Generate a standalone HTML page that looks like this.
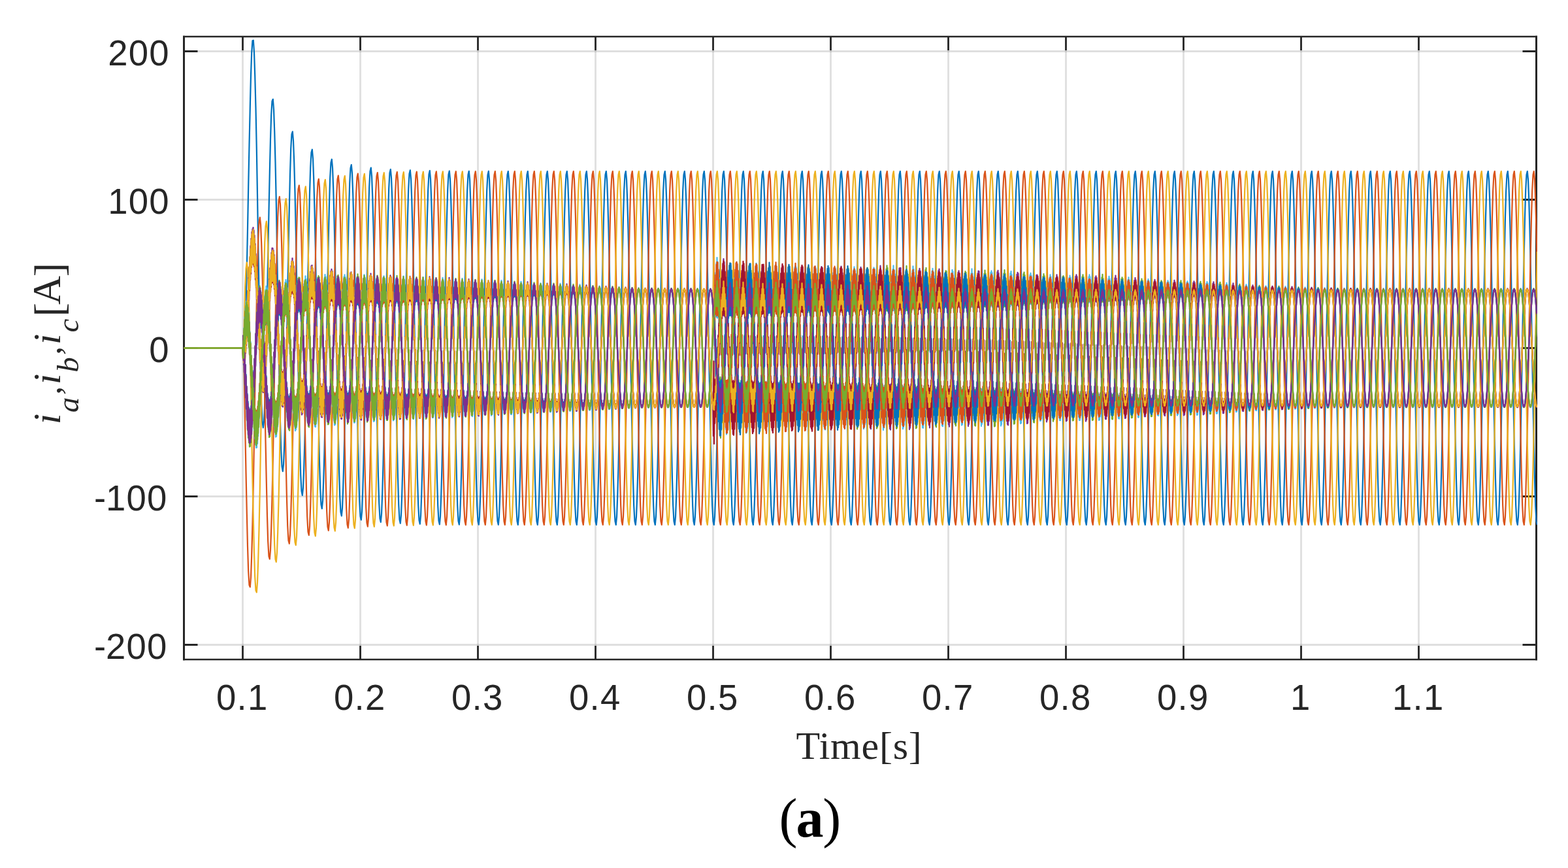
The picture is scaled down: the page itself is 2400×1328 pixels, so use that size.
<!DOCTYPE html>
<html lang="en"><head><meta charset="utf-8"><title>Three-phase currents (a)</title>
<style>html,body{margin:0;padding:0;background:#fff}body{width:2400px;height:1328px;overflow:hidden}</style></head>
<body>
<svg width="2400" height="1328" viewBox="0 0 2400 1328" style="display:block">
<rect width="2400" height="1328" fill="#fff"/>
<defs><clipPath id="cp"><rect x="280" y="54.7" width="2073" height="955.6"/></clipPath></defs>
<g stroke="#262626" stroke-opacity=".15" stroke-width="2.8" fill="none"><path d="M371.5 56V1009M551.5 56V1009M731.5 56V1009M911.5 56V1009M1091.5 56V1009M1271.5 56V1009M1451.5 56V1009M1631.5 56V1009M1811.5 56V1009M1991.5 56V1009M2171.5 56V1009"/><path d="M281.5 986.5H2351.5M281.5 759.5H2351.5M281.5 532.5H2351.5M281.5 305.5H2351.5M281.5 78.5H2351.5"/></g>
<path d="M371.5 56v21M371.5 1009v-21M551.5 56v21M551.5 1009v-21M731.5 56v21M731.5 1009v-21M911.5 56v21M911.5 1009v-21M1091.5 56v21M1091.5 1009v-21M1271.5 56v21M1271.5 1009v-21M1451.5 56v21M1451.5 1009v-21M1631.5 56v21M1631.5 1009v-21M1811.5 56v21M1811.5 1009v-21M1991.5 56v21M1991.5 1009v-21M2171.5 56v21M2171.5 1009v-21M281.5 986.5h21M2351.5 986.5h-21M281.5 759.5h21M2351.5 759.5h-21M281.5 532.5h21M2351.5 532.5h-21M281.5 305.5h21M2351.5 305.5h-21M281.5 78.5h21M2351.5 78.5h-21" stroke="#262626" stroke-width="2.8" fill="none"/>
<path d="M280 56H2353M280 1009H2353" stroke="#262626" stroke-width="2.3" fill="none"/>
<path d="M281.5 54.75V1010.25M2351.5 54.75V1010.25" stroke="#262626" stroke-width="3" fill="none"/>
<g clip-path="url(#cp)" fill="none" stroke-width="2.3" stroke-linejoin="round" stroke-linecap="butt">
<path d="M281.5 532.5l90 0l1.3 .2l1.2-5.8l1.2-23.8l1.3-39.8l1.3-52.3l1.2-60.7l1.2-64.6l1.3-63.8l1.3-58.3l1.2-48.3l1.2-34.7l1.3-18.4l1.3-.5l1.2 17.8l1.2 35.2l1.3 50.6l1.3 62.9l1.2 71.1l1.2 74.8l1.3 73.7l1.3 68l1.2 57.8l1.2 44l1.3 27.4l1.3 9.3l1.2-9.2l1.2-26.9l1.3-42.4l1.3-54.9l1.2-63.3l1.2-67.3l1.3-66.4l1.3-60.7l1.2-50.8l1.2-37.1l1.3-20.7l1.3-2.8l1.2 15.6l1.2 33.1l1.3 48.5l1.3 60.7l1.2 69.1l1.2 72.9l1.3 71.9l1.3 66l1.2 56l1.2 42.2l1.3 25.7l1.3 7.6l1.2-10.8l1.2-28.5l1.3-44l1.3-56.4l1.2-64.8l1.2-68.7l1.3-67.8l1.3-62.1l1.2-52.1l1.2-38.5l1.3-22l1.3-4l1.2 14.4l1.2 31.9l1.3 47.3l1.3 59.6l1.2 68l1.2 71.8l1.3 70.8l1.3 65.1l1.2 55l1.2 41.2l1.3 24.8l1.3 6.6l1.2-11.7l1.2-29.4l1.3-44.9l1.3-57.2l1.2-65.6l1.2-69.5l1.3-68.6l1.3-62.9l1.2-52.8l1.2-39.2l1.3-22.7l1.3-4.7l1.2 13.7l1.2 31.2l1.3 46.7l1.3 59l1.2 67.4l1.2 71.2l1.3 70.2l1.3 64.5l1.2 54.5l1.2 40.7l1.3 24.2l1.3 6.2l1.2-12.3l1.2-29.8l1.3-45.4l1.3-57.7l1.2-66.1l1.2-69.9l1.3-69l1.3-63.3l1.2-53.2l1.2-39.6l1.3-23.1l1.3-5.1l1.2 13.3l1.2 30.9l1.3 46.3l1.3 58.7l1.2 67.1l1.2 70.9l1.3 69.9l1.3 64.1l1.2 54.2l1.2 40.4l1.3 23.9l1.3 5.9l1.2-12.5l1.2-30.1l1.3-45.6l1.3-58l1.2-66.3l1.2-70.2l1.3-69.2l1.3-63.6l1.2-53.4l1.2-39.8l1.3-23.4l1.3-5.2l1.2 13.1l1.2 30.7l1.3 46.1l1.3 58.5l1.2 66.9l1.2 70.7l1.3 69.7l1.3 64l1.2 54l1.2 40.2l1.3 23.8l1.3 5.7l1.2-12.7l1.2-30.2l1.3-45.8l1.3-58l1.2-66.5l1.2-70.3l1.3-69.4l1.3-63.6l1.2-53.6l1.2-39.9l1.3-23.5l1.3-5.4l1.2 13l1.2 30.6l1.3 46l1.3 58.4l1.2 66.8l1.2 70.6l1.3 69.6l1.3 63.9l1.2 53.9l1.2 40.2l1.3 23.7l1.3 5.6l1.2-12.8l1.2-30.3l1.3-45.8l1.3-58.2l1.2-66.5l1.2-70.4l1.3-69.5l1.3-63.7l1.2-53.6l1.2-40l1.3-23.5l1.3-5.5l1.2 13l1.2 30.5l1.3 46l1.3 58.3l1.2 66.7l1.2 70.5l1.3 69.6l1.3 63.9l1.2 53.8l1.2 40.1l1.3 23.7l1.3 5.6l1.2-12.9l1.2-30.3l1.3-45.9l1.3-58.2l1.2-66.6l1.2-70.4l1.3-69.5l1.3-63.8l1.2-53.7l1.2-40l1.3-23.5l1.3-5.5l1.2 12.9l1.2 30.5l1.3 45.9l1.3 58.3l1.2 66.7l1.2 70.5l1.3 69.6l1.3 63.8l1.2 53.8l1.2 40.1l1.3 23.6l1.3 5.6l1.2-12.9l1.2-30.4l1.3-45.9l1.3-58.2l1.2-66.6l1.2-70.4l1.3-69.5l1.3-63.8l1.2-53.8l1.2-40l1.3-23.5l1.3-5.6l1.2 12.9l1.2 30.5l1.3 45.9l1.3 58.3l1.2 66.7l1.2 70.5l1.3 69.5l1.3 63.8l1.2 53.8l1.2 40.1l1.3 23.6l1.3 5.6l1.2-12.9l1.2-30.4l1.3-45.9l1.3-58.3l1.2-66.6l1.2-70.5l1.3-69.5l1.3-63.8l1.2-53.7l1.2-40l1.3-23.6l1.3-5.5l1.2 12.8l1.2 30.5l1.3 45.9l1.3 58.3l1.2 66.6l1.2 70.5l1.3 69.6l1.3 63.8l1.2 53.7l1.2 40.1l1.3 23.6l1.3 5.6l1.2-12.9l1.2-30.4l1.3-45.9l1.3-58.3l1.2-66.6l1.2-70.5l1.3-69.5l1.3-63.8l1.2-53.8l1.2-40l1.3-23.6l1.3-5.5l1.2 12.9l1.2 30.4l1.3 45.9l1.3 58.3l1.2 66.6l1.2 70.5l1.3 69.5l1.3 63.9l1.2 53.7l1.2 40.1l1.3 23.6l1.3 5.5l1.2-12.8l1.2-30.5l1.3-45.9l1.3-58.2l1.2-66.7l1.2-70.5l1.3-69.5l1.3-63.8l1.2-53.7l1.2-40.1l1.3-23.6l1.3-5.5l1.2 12.9l1.2 30.4l1.3 45.9l1.3 58.3l1.2 66.7l1.2 70.4l1.3 69.6l1.3 63.8l1.2 53.7l1.2 40.1l1.3 23.6l1.3 5.5l1.2-12.9l1.2-30.4l1.3-45.9l1.3-58.3l1.2-66.6l1.2-70.5l1.3-69.5l1.3-63.8l1.2-53.7l1.2-40.1l1.3-23.6l1.3-5.5l1.2 12.9l1.2 30.4l1.3 45.9l1.3 58.3l1.2 66.6l1.2 70.5l1.3 69.5l1.3 63.8l1.2 53.8l1.2 40l1.3 23.6l1.3 5.6l1.2-12.9l1.2-30.4l1.3-46l1.3-58.2l1.2-66.7l1.2-70.4l1.3-69.5l1.3-63.8l1.2-53.8l1.2-40l1.3-23.6l1.3-5.6l1.2 12.9l1.2 30.4l1.3 45.9l1.3 58.3l1.2 66.7l1.2 70.4l1.3 69.5l1.3 63.9l1.2 53.7l1.2 40.1l1.3 23.6l1.3 5.5l1.2-12.9l1.2-30.4l1.3-45.9l1.3-58.3l1.2-66.6l1.2-70.5l1.3-69.5l1.3-63.8l1.2-53.8l1.2-40l1.3-23.6l1.3-5.6l1.2 12.9l1.2 30.5l1.3 45.9l1.3 58.2l1.2 66.7l1.2 70.5l1.3 69.5l1.3 63.8l1.2 53.7l1.2 40.1l1.3 23.6l1.3 5.5l1.2-12.9l1.2-30.4l1.3-45.9l1.3-58.3l1.2-66.6l1.2-70.5l1.3-69.5l1.3-63.8l1.2-53.8l1.2-40l1.3-23.6l1.3-5.6l1.2 12.9l1.2 30.5l1.3 45.9l1.3 58.2l1.2 66.7l1.2 70.5l1.3 69.5l1.3 63.8l1.2 53.7l1.2 40.1l1.3 23.6l1.3 5.5l1.2-12.9l1.2-30.4l1.3-45.9l1.3-58.3l1.2-66.6l1.2-70.5l1.3-69.5l1.3-63.8l1.2-53.8l1.2-40l1.3-23.6l1.3-5.5l1.2 12.8l1.2 30.5l1.3 45.9l1.3 58.2l1.2 66.7l1.2 70.5l1.3 69.5l1.3 63.8l1.2 53.7l1.2 40.1l1.3 23.6l1.3 5.5l1.2-12.8l1.2-30.5l1.3-45.9l1.3-58.3l1.2-66.6l1.2-70.5l1.3-69.5l1.3-63.8l1.2-53.8l1.2-40l1.3-23.6l1.3-5.5l1.2 12.8l1.2 30.5l1.3 45.9l1.3 58.3l1.2 66.6l1.2 70.5l1.3 69.5l1.3 63.8l1.2 53.7l1.2 40.1l1.3 23.6l1.3 5.5l1.2-12.8l1.2-30.5l1.3-45.9l1.3-58.3l1.2-66.6l1.2-70.5l1.3-69.5l1.3-63.8l1.2-53.8l1.2-40l1.3-23.6l1.3-5.5l1.2 12.8l1.2 30.5l1.3 45.9l1.3 58.3l1.2 66.6l1.2 70.5l1.3 69.5l1.3 63.8l1.2 53.7l1.2 40.1l1.3 23.6l1.3 5.5l1.2-12.8l1.2-30.5l1.3-45.9l1.3-58.3l1.2-66.6l1.2-70.5l1.3-69.5l1.3-63.8l1.2-53.8l1.2-40l1.3-23.6l1.3-5.5l1.2 12.8l1.2 30.5l1.3 45.9l1.3 58.3l1.2 66.6l1.2 70.5l1.3 69.5l1.3 63.8l1.2 53.8l1.2 40l1.3 23.6l1.3 5.5l1.2-12.8l1.2-30.5l1.3-45.9l1.3-58.3l1.2-66.6l1.2-70.5l1.3-69.5l1.3-63.8l1.2-53.8l1.2-40l1.3-23.6l1.3-5.5l1.2 12.8l1.2 30.5l1.3 45.9l1.3 58.3l1.2 66.6l1.2 70.5l1.3 69.5l1.3 63.8l1.2 53.8l1.2 40l1.3 23.6l1.3 5.5l1.2-12.8l1.2-30.5l1.3-45.9l1.3-58.3l1.2-66.6l1.2-70.5l1.3-69.5l1.3-63.8l1.2-53.8l1.2-40l1.3-23.6l1.3-5.5l1.2 12.8l1.2 30.5l1.3 45.9l1.3 58.3l1.2 66.6l1.2 70.5l1.3 69.5l1.3 63.8l1.2 53.8l1.2 40l1.3 23.6l1.3 5.5l1.2-12.8l1.2-30.5l1.3-45.9l1.3-58.3l1.2-66.6l1.2-70.5l1.3-69.5l1.3-63.8l1.2-53.8l1.2-40l1.3-23.6l1.3-5.5l1.2 12.8l1.2 30.5l1.3 45.9l1.3 58.3l1.2 66.6l1.2 70.5l1.3 69.5l1.3 63.8l1.2 53.8l1.2 40l1.3 23.6l1.3 5.5l1.2-12.8l1.2-30.5l1.3-45.9l1.3-58.3l1.2-66.6l1.2-70.5l1.3-69.5l1.3-63.8l1.2-53.8l1.2-40l1.3-23.6l1.3-5.5l1.2 12.8l1.2 30.5l1.3 45.9l1.3 58.3l1.2 66.6l1.2 70.5l1.3 69.5l1.3 63.8l1.2 53.8l1.2 40l1.3 23.6l1.3 5.5l1.2-12.8l1.2-30.5l1.3-45.9l1.3-58.3l1.2-66.6l1.2-70.5l1.3-69.5l1.3-63.8l1.2-53.8l1.2-40l1.3-23.6l1.3-5.5l1.2 12.8l1.2 30.5l1.3 45.9l1.3 58.3l1.2 66.6l1.2 70.5l1.3 69.5l1.3 63.8l1.2 53.8l1.2 40l1.3 23.6l1.3 5.5l1.2-12.8l1.2-30.5l1.3-45.9l1.3-58.3l1.2-66.6l1.2-70.5l1.3-69.5l1.3-63.8l1.2-53.8l1.2-40l1.3-23.6l1.3-5.5l1.2 12.8l1.2 30.5l1.3 45.9l1.3 58.3l1.2 66.6l1.2 70.5l1.3 69.5l1.3 63.8l1.2 53.8l1.2 40l1.3 23.6l1.3 5.5l1.2-12.8l1.2-30.5l1.3-45.9l1.3-58.3l1.2-66.6l1.2-70.5l1.3-69.5l1.3-63.8l1.2-53.8l1.2-40l1.3-23.6l1.3-5.5l1.2 12.8l1.2 30.5l1.3 45.9l1.3 58.3l1.2 66.6l1.2 70.5l1.3 69.5l1.3 63.8l1.2 53.8l1.2 40l1.3 23.6l1.3 5.5l1.2-12.8l1.2-30.5l1.3-45.9l1.3-58.3l1.2-66.6l1.2-70.5l1.3-69.5l1.3-63.8l1.2-53.8l1.2-40l1.3-23.6l1.3-5.5l1.2 12.8l1.2 30.5l1.3 45.9l1.3 58.3l1.2 66.6l1.2 70.5l1.3 69.5l1.3 63.8l1.2 53.8l1.2 40l1.3 23.6l1.3 5.5l1.2-12.8l1.2-30.5l1.3-45.9l1.3-58.3l1.2-66.6l1.2-70.5l1.3-69.5l1.3-63.8l1.2-53.8l1.2-40l1.3-23.6l1.3-5.5l1.2 12.8l1.2 30.5l1.3 45.9l1.3 58.3l1.2 66.6l1.2 70.5l1.3 69.5l1.3 63.8l1.2 53.8l1.2 40l1.3 23.6l1.3 5.5l1.2-12.8l1.2-30.5l1.3-45.9l1.3-58.3l1.2-66.6l1.2-70.5l1.3-69.5l1.3-63.8l1.2-53.8l1.2-40l1.3-23.6l1.3-5.5l1.2 12.8l1.2 30.5l1.3 45.9l1.3 58.3l1.2 66.6l1.2 70.5l1.3 69.5l1.3 63.8l1.2 53.8l1.2 40l1.3 23.6l1.3 5.5l1.2-12.8l1.2-30.5l1.3-45.9l1.3-58.3l1.2-66.6l1.2-70.5l1.3-69.5l1.3-63.8l1.2-53.8l1.2-40l1.3-23.6l1.3-5.5l1.2 12.8l1.2 30.5l1.3 45.9l1.3 58.3l1.2 66.6l1.2 70.5l1.3 69.5l1.3 63.8l1.2 53.8l1.2 40l1.3 23.6l1.3 5.5l1.2-12.8l1.2-30.5l1.3-45.9l1.3-58.3l1.2-66.6l1.2-70.5l1.3-69.5l1.3-63.8l1.2-53.8l1.2-40l1.3-23.6l1.3-5.5l1.2 12.8l1.2 30.5l1.3 45.9l1.3 58.3l1.2 66.6l1.2 70.5l1.3 69.5l1.3 63.8l1.2 53.8l1.2 40l1.3 23.6l1.3 5.5l1.2-12.8l1.2-30.5l1.3-45.9l1.3-58.3l1.2-66.6l1.2-70.5l1.3-69.5l1.3-63.8l1.2-53.8l1.2-40l1.3-23.6l1.3-5.5l1.2 12.8l1.2 30.5l1.3 45.9l1.3 58.3l1.2 66.6l1.2 70.5l1.3 69.5l1.3 63.8l1.2 53.8l1.2 40l1.3 23.6l1.3 5.5l1.2-12.8l1.2-30.5l1.3-45.9l1.3-58.3l1.2-66.6l1.2-70.5l1.3-69.5l1.3-63.8l1.2-53.8l1.2-40l1.3-23.6l1.3-5.5l1.2 12.8l1.2 30.5l1.3 45.9l1.3 58.3l1.2 66.6l1.2 70.5l1.3 69.5l1.3 63.8l1.2 53.8l1.2 40l1.3 23.6l1.3 5.5l1.2-12.8l1.2-30.5l1.3-45.9l1.3-58.3l1.2-66.6l1.2-70.5l1.3-69.5l1.3-63.8l1.2-53.8l1.2-40l1.3-23.6l1.3-5.5l1.2 12.8l1.2 30.5l1.3 45.9l1.3 58.3l1.2 66.6l1.2 70.5l1.3 69.5l1.3 63.8l1.2 53.8l1.2 40l1.3 23.6l1.3 5.5l1.2-12.8l1.2-30.5l1.3-45.9l1.3-58.3l1.2-66.6l1.2-70.5l1.3-69.5l1.3-63.8l1.2-53.8l1.2-40l1.3-23.6l1.3-5.5l1.2 12.8l1.2 30.5l1.3 45.9l1.3 58.3l1.2 66.6l1.2 70.5l1.3 69.5l1.3 63.8l1.2 53.8l1.2 40l1.3 23.6l1.3 5.5l1.2-12.8l1.2-30.5l1.3-45.9l1.3-58.3l1.2-66.6l1.2-70.5l1.3-69.5l1.3-63.8l1.2-53.8l1.2-40l1.3-23.6l1.3-5.5l1.2 12.8l1.2 30.5l1.3 45.9l1.3 58.3l1.2 66.6l1.2 70.5l1.3 69.5l1.3 63.8l1.2 53.8l1.2 40l1.3 23.6l1.3 5.5l1.2-12.8l1.2-30.5l1.3-45.9l1.3-58.3l1.2-66.6l1.2-70.5l1.3-69.5l1.3-63.8l1.2-53.8l1.2-40l1.3-23.6l1.3-5.5l1.2 12.8l1.2 30.5l1.3 45.9l1.3 58.3l1.2 66.6l1.2 70.5l1.3 69.5l1.3 63.8l1.2 53.8l1.2 40l1.3 23.6l1.3 5.5l1.2-12.8l1.2-30.5l1.3-45.9l1.3-58.3l1.2-66.6l1.2-70.5l1.3-69.5l1.3-63.8l1.2-53.8l1.2-40l1.3-23.6l1.3-5.5l1.2 12.8l1.2 30.5l1.3 45.9l1.3 58.3l1.2 66.6l1.2 70.5l1.3 69.5l1.3 63.8l1.2 53.8l1.2 40l1.3 23.6l1.3 5.5l1.2-12.8l1.2-30.5l1.3-45.9l1.3-58.3l1.2-66.6l1.2-70.5l1.3-69.5l1.3-63.8l1.2-53.8l1.2-40l1.3-23.6l1.3-5.5l1.2 12.8l1.2 30.5l1.3 45.9l1.3 58.3l1.2 66.6l1.2 70.5l1.3 69.5l1.3 63.8l1.2 53.8l1.2 40l1.3 23.6l1.3 5.5l1.2-12.8l1.2-30.5l1.3-45.9l1.3-58.3l1.2-66.6l1.2-70.5l1.3-69.5l1.3-63.8l1.2-53.8l1.2-40l1.3-23.6l1.3-5.5l1.2 12.8l1.2 30.5l1.3 45.9l1.3 58.3l1.2 66.6l1.2 70.5l1.3 69.5l1.3 63.8l1.2 53.8l1.2 40l1.3 23.6l1.3 5.5l1.2-12.8l1.2-30.5l1.3-45.9l1.3-58.3l1.2-66.6l1.2-70.5l1.3-69.5l1.3-63.8l1.2-53.8l1.2-40l1.3-23.6l1.3-5.5l1.2 12.8l1.2 30.5l1.3 45.9l1.3 58.3l1.2 66.6l1.2 70.5l1.3 69.5l1.3 63.8l1.2 53.8l1.2 40l1.3 23.6l1.3 5.5l1.2-12.8l1.2-30.5l1.3-45.9l1.3-58.3l1.2-66.6l1.2-70.5l1.3-69.5l1.3-63.8l1.2-53.8l1.2-40l1.3-23.6l1.3-5.5l1.2 12.8l1.2 30.5l1.3 45.9l1.3 58.3l1.2 66.6l1.2 70.5l1.3 69.5l1.3 63.8l1.2 53.8l1.2 40l1.3 23.6l1.3 5.5l1.2-12.8l1.2-30.5l1.3-45.9l1.3-58.3l1.2-66.6l1.2-70.5l1.3-69.5l1.3-63.8l1.2-53.8l1.2-40l1.3-23.6l1.3-5.5l1.2 12.8l1.2 30.5l1.3 45.9l1.3 58.3l1.2 66.6l1.2 70.5l1.3 69.5l1.3 63.8l1.2 53.8l1.2 40l1.3 23.6l1.3 5.5l1.2-12.8l1.2-30.5l1.3-45.9l1.3-58.3l1.2-66.6l1.2-70.5l1.3-69.5l1.3-63.8l1.2-53.8l1.2-40l1.3-23.6l1.3-5.5l1.2 12.8l1.2 30.5l1.3 45.9l1.3 58.3l1.2 66.6l1.2 70.5l1.3 69.5l1.3 63.8l1.2 53.8l1.2 40l1.3 23.6l1.3 5.5l1.2-12.8l1.2-30.5l1.3-45.9l1.3-58.3l1.2-66.6l1.2-70.5l1.3-69.5l1.3-63.8l1.2-53.8l1.2-40l1.3-23.6l1.3-5.5l1.2 12.8l1.2 30.5l1.3 45.9l1.3 58.3l1.2 66.6l1.2 70.5l1.3 69.5l1.3 63.8l1.2 53.8l1.2 40l1.3 23.6l1.3 5.5l1.2-12.8l1.2-30.5l1.3-45.9l1.3-58.3l1.2-66.6l1.2-70.5l1.3-69.5l1.3-63.8l1.2-53.8l1.2-40l1.3-23.6l1.3-5.5l1.2 12.8l1.2 30.5l1.3 45.9l1.3 58.3l1.2 66.6l1.2 70.5l1.3 69.5l1.3 63.8l1.2 53.8l1.2 40l1.3 23.6l1.3 5.5l1.2-12.8l1.2-30.5l1.3-45.9l1.3-58.3l1.2-66.6l1.2-70.5l1.3-69.5l1.3-63.8l1.2-53.8l1.2-40l1.3-23.6l1.3-5.5l1.2 12.8l1.2 30.5l1.3 45.9l1.3 58.3l1.2 66.6l1.2 70.5l1.3 69.5l1.3 63.8l1.2 53.8l1.2 40l1.3 23.6l1.3 5.5l1.2-12.8l1.2-30.5l1.3-45.9l1.3-58.3l1.2-66.6l1.2-70.5l1.3-69.5l1.3-63.8l1.2-53.8l1.2-40l1.3-23.6l1.3-5.5l1.2 12.8l1.2 30.5l1.3 45.9l1.3 58.3l1.2 66.6l1.2 70.5l1.3 69.5l1.3 63.8l1.2 53.8l1.2 40l1.3 23.6l1.3 5.5l1.2-12.8l1.2-30.5l1.3-45.9l1.3-58.3l1.2-66.6l1.2-70.5l1.3-69.5l1.3-63.8l1.2-53.8l1.2-40l1.3-23.6l1.3-5.5l1.2 12.8l1.2 30.5l1.3 45.9l1.3 58.3l1.2 66.6l1.2 70.5l1.3 69.5l1.3 63.8l1.2 53.8l1.2 40l1.3 23.6l1.3 5.5l1.2-12.8l1.2-30.5l1.3-45.9l1.3-58.3l1.2-66.6l1.2-70.5l1.3-69.5l1.3-63.8l1.2-53.8l1.2-40l1.3-23.6l1.3-5.5l1.2 12.8l1.2 30.5l1.3 45.9l1.3 58.3l1.2 66.6l1.2 70.5l1.3 69.5l1.3 63.8l1.2 53.8l1.2 40l1.3 23.6l1.3 5.5l1.2-12.8l1.2-30.5l1.3-45.9l1.3-58.3l1.2-66.6l1.2-70.5l1.3-69.5l1.3-63.8l1.2-53.8l1.2-40l1.3-23.6l1.3-5.5l1.2 12.8l1.2 30.5l1.3 45.9l1.3 58.3l1.2 66.6l1.2 70.5l1.3 69.5l1.3 63.8l1.2 53.8l1.2 40l1.3 23.6l1.3 5.5l1.2-12.8l1.2-30.5l1.3-45.9l1.3-58.3l1.2-66.6l1.2-70.5l1.3-69.5l1.3-63.8l1.2-53.8l1.2-40l1.3-23.6l1.3-5.5l1.2 12.8l1.2 30.5l1.3 45.9l1.3 58.3l1.2 66.6l1.2 70.5l1.3 69.5l1.3 63.8l1.2 53.8l1.2 40l1.3 23.6l1.3 5.5l1.2-12.8l1.2-30.5l1.3-45.9l1.3-58.3l1.2-66.6l1.2-70.5l1.3-69.5l1.3-63.8l1.2-53.8l1.2-40l1.3-23.6l1.3-5.5l1.2 12.8l1.2 30.5l1.3 45.9l1.3 58.3l1.2 66.6l1.2 70.5l1.3 69.5l1.3 63.8l1.2 53.8l1.2 40l1.3 23.6l1.3 5.5l1.2-12.8l1.2-30.5l1.3-45.9l1.3-58.3l1.2-66.6l1.2-70.5l1.3-69.5l1.3-63.8l1.2-53.8l1.2-40l1.3-23.6l1.3-5.5l1.2 12.8l1.2 30.5l1.3 45.9l1.3 58.3l1.2 66.6l1.2 70.5l1.3 69.5l1.3 63.8l1.2 53.8l1.2 40l1.3 23.6l1.3 5.5l1.2-12.8l1.2-30.5l1.3-45.9l1.3-58.3l1.2-66.6l1.2-70.5l1.3-69.5l1.3-63.8l1.2-53.8l1.2-40l1.3-23.6l1.3-5.5l1.2 12.8l1.2 30.5l1.3 45.9l1.3 58.3l1.2 66.6l1.2 70.5l1.3 69.5l1.3 63.8l1.2 53.8l1.2 40l1.3 23.6l1.3 5.5l1.2-12.8l1.2-30.5l1.3-45.9l1.3-58.3l1.2-66.6l1.2-70.5l1.3-69.5l1.3-63.8l1.2-53.8l1.2-40l1.3-23.6l1.3-5.5l1.2 12.8l1.2 30.5l1.3 45.9l1.3 58.3l1.2 66.6l1.2 70.5l1.3 69.5l1.3 63.8l1.2 53.8l1.2 40l1.3 23.6l1.3 5.5l1.2-12.8l1.2-30.5l1.3-45.9l1.3-58.3l1.2-66.6l1.2-70.5l1.3-69.5l1.3-63.8l1.2-53.8l1.2-40l1.3-23.6l1.3-5.5l1.2 12.8l1.2 30.5l1.3 45.9l1.3 58.3l1.2 66.6l1.2 70.5l1.3 69.5l1.3 63.8l1.2 53.8l1.2 40l1.3 23.6l1.3 5.5l1.2-12.8l1.2-30.5l1.3-45.9l1.3-58.3l1.2-66.6l1.2-70.5l1.3-69.5l1.3-63.8l1.2-53.8l1.2-40l1.3-23.6l1.3-5.5l1.2 12.8l1.2 30.5l1.3 45.9l1.3 58.3l1.2 66.6l1.2 70.5l1.3 69.5l1.3 63.8l1.2 53.8l1.2 40l1.3 23.6l1.3 5.5l1.2-12.8l1.2-30.5l1.3-45.9l1.3-58.3l1.2-66.6l1.2-70.5l1.3-69.5l1.3-63.8l1.2-53.8l1.2-40l1.3-23.6l1.3-5.5l1.2 12.8l1.2 30.5l1.3 45.9l1.3 58.3l1.2 66.6l1.2 70.5l1.3 69.5l1.3 63.8l1.2 53.8l1.2 40l1.3 23.6l1.3 5.5l1.2-12.8l1.2-30.5l1.3-45.9l1.3-58.3l1.2-66.6l1.2-70.5l1.3-69.5l1.3-63.8l1.2-53.8l1.2-40l1.3-23.6l1.3-5.5l1.2 12.8l1.2 30.5l1.3 45.9l1.3 58.3l1.2 66.6l1.2 70.5l1.3 69.5l1.3 63.8l1.2 53.8l1.2 40l1.3 23.6l1.3 5.5l1.2-12.8l1.2-30.5l1.3-45.9l1.3-58.3l1.2-66.6l1.2-70.5l1.3-69.5l1.3-63.8l1.2-53.8l1.2-40l1.3-23.6l1.3-5.5l1.2 12.8l1.2 30.5l1.3 45.9l1.3 58.3l1.2 66.6l1.2 70.5l1.3 69.5l1.3 63.8l1.2 53.8l1.2 40l1.3 23.6l1.3 5.5l1.2-12.8l1.2-30.5l1.3-45.9l1.3-58.3l1.2-66.6l1.2-70.5l1.3-69.5l1.3-63.8l1.2-53.8l1.2-40l1.3-23.6l1.3-5.5l1.2 12.8l1.2 30.5l1.3 45.9l1.3 58.3l1.2 66.6l1.2 70.5l1.3 69.5l1.3 63.8l1.2 53.8l1.2 40l1.3 23.6l1.3 5.5l1.2-12.8l1.2-30.5l1.3-45.9l1.3-58.3l1.2-66.6l1.2-70.5l1.3-69.5l1.3-63.8l1.2-53.8l1.2-40l1.3-23.6l1.3-5.5l1.2 12.8l1.2 30.5l1.3 45.9l1.3 58.3l1.2 66.6l1.2 70.5l1.3 69.5l1.3 63.8l1.2 53.8l1.2 40l1.3 23.6l1.3 5.5l1.2-12.8l1.2-30.5l1.3-45.9l1.3-58.3l1.2-66.6l1.2-70.5l1.3-69.5l1.3-63.8l1.2-53.8l1.2-40l1.3-23.6l1.3-5.5l1.2 12.8l1.2 30.5l1.3 45.9l1.3 58.3l1.2 66.6l1.2 70.5l1.3 69.5l1.3 63.8l1.2 53.8l1.2 40l1.3 23.6l1.3 5.5" stroke="#0072BD" stroke-width="2.2"/>
<path d="M281.5 532.5l90 0l1.3-5l1.2 58.5l1.2 69.3l1.3 68l1.3 61.7l1.2 51.3l1.2 37.6l1.3 21.1l1.3 3.2l1.2-15.2l1.2-32.7l1.3-48.2l1.3-60.4l1.2-68.8l1.2-72.5l1.3-71.6l1.3-65.7l1.2-55.7l1.2-41.9l1.3-25.5l1.3-7.3l1.2 11.2l1.2 28.7l1.3 44.3l1.3 56.6l1.2 65.1l1.2 68.9l1.3 68l1.3 62.4l1.2 52.3l1.2 38.7l1.3 22.2l1.3 4.3l1.2-14.2l1.2-31.7l1.3-47.1l1.3-59.5l1.2-67.8l1.2-71.6l1.3-70.7l1.3-64.8l1.2-54.9l1.2-41l1.3-24.6l1.3-6.6l1.2 12l1.2 29.5l1.3 45l1.3 57.4l1.2 65.7l1.2 69.7l1.3 68.6l1.3 63.1l1.2 52.9l1.2 39.3l1.3 22.9l1.3 4.8l1.2-13.6l1.2-31.1l1.3-46.6l1.3-58.9l1.2-67.3l1.2-71.1l1.3-70.2l1.3-64.4l1.2-54.3l1.2-40.6l1.3-24.2l1.3-6l1.2 12.3l1.2 29.9l1.3 45.4l1.3 57.8l1.2 66.2l1.2 70l1.3 69.1l1.3 63.3l1.2 53.4l1.2 39.6l1.3 23.2l1.3 5.1l1.2-13.3l1.2-30.8l1.3-46.3l1.3-58.6l1.2-67l1.2-70.8l1.3-69.9l1.3-64.1l1.2-54.1l1.2-40.3l1.3-23.9l1.3-5.9l1.2 12.6l1.2 30.2l1.3 45.6l1.3 58l1.2 66.4l1.2 70.2l1.3 69.3l1.3 63.5l1.2 53.6l1.2 39.8l1.3 23.3l1.3 5.4l1.2-13.1l1.2-30.7l1.3-46.1l1.3-58.4l1.2-66.9l1.2-70.7l1.3-69.6l1.3-64l1.2-54l1.2-40.2l1.3-23.8l1.3-5.7l1.2 12.8l1.2 30.2l1.3 45.8l1.3 58.1l1.2 66.5l1.2 70.4l1.3 69.3l1.3 63.7l1.2 53.6l1.2 39.9l1.3 23.5l1.3 5.4l1.2-13l1.2-30.5l1.3-46l1.3-58.4l1.2-66.8l1.2-70.5l1.3-69.6l1.3-64l1.2-53.8l1.2-40.1l1.3-23.7l1.3-5.7l1.2 12.8l1.2 30.4l1.3 45.8l1.3 58.2l1.2 66.5l1.2 70.4l1.3 69.5l1.3 63.7l1.2 53.7l1.2 40l1.3 23.5l1.3 5.5l1.2-13l1.2-30.5l1.3-45.9l1.3-58.4l1.2-66.7l1.2-70.5l1.3-69.6l1.3-63.8l1.2-53.8l1.2-40.1l1.3-23.7l1.3-5.6l1.2 12.9l1.2 30.3l1.3 45.9l1.3 58.2l1.2 66.6l1.2 70.5l1.3 69.4l1.3 63.8l1.2 53.7l1.2 40l1.3 23.6l1.3 5.5l1.2-12.9l1.2-30.5l1.3-45.9l1.3-58.3l1.2-66.7l1.2-70.5l1.3-69.6l1.3-63.8l1.2-53.8l1.2-40.1l1.3-23.6l1.3-5.6l1.2 12.9l1.2 30.4l1.3 45.9l1.3 58.2l1.2 66.6l1.2 70.5l1.3 69.5l1.3 63.8l1.2 53.7l1.2 40l1.3 23.6l1.3 5.5l1.2-12.9l1.2-30.4l1.3-45.9l1.3-58.3l1.2-66.7l1.2-70.5l1.3-69.5l1.3-63.8l1.2-53.8l1.2-40.1l1.3-23.6l1.3-5.5l1.2 12.8l1.2 30.4l1.3 45.9l1.3 58.3l1.2 66.6l1.2 70.5l1.3 69.5l1.3 63.8l1.2 53.7l1.2 40.1l1.3 23.5l1.3 5.6l1.2-12.9l1.2-30.5l1.3-45.9l1.3-58.3l1.2-66.6l1.2-70.5l1.3-69.5l1.3-63.8l1.2-53.8l1.2-40.1l1.3-23.6l1.3-5.5l1.2 12.9l1.2 30.4l1.3 45.9l1.3 58.3l1.2 66.6l1.2 70.5l1.3 69.5l1.3 63.8l1.2 53.7l1.2 40l1.3 23.6l1.3 5.6l1.2-12.9l1.2-30.4l1.3-46l1.3-58.2l1.2-66.7l1.2-70.5l1.3-69.5l1.3-63.8l1.2-53.8l1.2-40l1.3-23.6l1.3-5.6l1.2 12.9l1.2 30.4l1.3 46l1.3 58.2l1.2 66.7l1.2 70.4l1.3 69.5l1.3 63.8l1.2 53.8l1.2 40l1.3 23.6l1.3 5.6l1.2-12.9l1.2-30.5l1.3-45.9l1.3-58.2l1.2-66.7l1.2-70.5l1.3-69.5l1.3-63.8l1.2-53.7l1.2-40.1l1.3-23.6l1.3-5.5l1.2 12.8l1.2 30.5l1.3 45.9l1.3 58.2l1.2 66.7l1.2 70.5l1.3 69.5l1.3 63.8l1.2 53.7l1.2 40.1l1.3 23.6l1.3 5.5l1.2-12.9l1.2-30.4l1.3-45.9l1.3-58.3l1.2-66.6l1.2-70.5l1.3-69.5l1.3-63.8l1.2-53.8l1.2-40l1.3-23.6l1.3-5.6l1.2 12.9l1.2 30.4l1.3 45.9l1.3 58.3l1.2 66.6l1.2 70.5l1.3 69.5l1.3 63.8l1.2 53.8l1.2 40l1.3 23.6l1.3 5.6l1.2-12.9l1.2-30.4l1.3-46l1.3-58.2l1.2-66.7l1.2-70.4l1.3-69.6l1.3-63.8l1.2-53.7l1.2-40.1l1.3-23.6l1.3-5.5l1.2 12.9l1.2 30.4l1.3 45.9l1.3 58.3l1.2 66.6l1.2 70.5l1.3 69.5l1.3 63.8l1.2 53.8l1.2 40l1.3 23.6l1.3 5.6l1.2-12.9l1.2-30.5l1.3-45.9l1.3-58.2l1.2-66.7l1.2-70.5l1.3-69.5l1.3-63.8l1.2-53.7l1.2-40.1l1.3-23.6l1.3-5.5l1.2 12.9l1.2 30.4l1.3 45.9l1.3 58.3l1.2 66.6l1.2 70.5l1.3 69.5l1.3 63.8l1.2 53.8l1.2 40l1.3 23.6l1.3 5.6l1.2-12.9l1.2-30.5l1.3-45.9l1.3-58.2l1.2-66.7l1.2-70.5l1.3-69.5l1.3-63.8l1.2-53.7l1.2-40.1l1.3-23.6l1.3-5.5l1.2 12.9l1.2 30.4l1.3 45.9l1.3 58.3l1.2 66.6l1.2 70.5l1.3 69.5l1.3 63.8l1.2 53.8l1.2 40l1.3 23.6l1.3 5.5l1.2-12.8l1.2-30.5l1.3-45.9l1.3-58.2l1.2-66.7l1.2-70.5l1.3-69.5l1.3-63.8l1.2-53.7l1.2-40.1l1.3-23.6l1.3-5.5l1.2 12.8l1.2 30.5l1.3 45.9l1.3 58.3l1.2 66.6l1.2 70.5l1.3 69.5l1.3 63.8l1.2 53.8l1.2 40l1.3 23.6l1.3 5.5l1.2-12.8l1.2-30.5l1.3-45.9l1.3-58.3l1.2-66.6l1.2-70.5l1.3-69.5l1.3-63.8l1.2-53.7l1.2-40.1l1.3-23.6l1.3-5.5l1.2 12.8l1.2 30.5l1.3 45.9l1.3 58.3l1.2 66.6l1.2 70.5l1.3 69.5l1.3 63.8l1.2 53.8l1.2 40l1.3 23.6l1.3 5.5l1.2-12.8l1.2-30.5l1.3-45.9l1.3-58.3l1.2-66.6l1.2-70.5l1.3-69.5l1.3-63.8l1.2-53.8l1.2-40l1.3-23.6l1.3-5.5l1.2 12.8l1.2 30.5l1.3 45.9l1.3 58.3l1.2 66.6l1.2 70.5l1.3 69.5l1.3 63.8l1.2 53.8l1.2 40l1.3 23.6l1.3 5.5l1.2-12.8l1.2-30.5l1.3-45.9l1.3-58.3l1.2-66.6l1.2-70.5l1.3-69.5l1.3-63.8l1.2-53.8l1.2-40l1.3-23.6l1.3-5.5l1.2 12.8l1.2 30.5l1.3 45.9l1.3 58.3l1.2 66.6l1.2 70.5l1.3 69.5l1.3 63.8l1.2 53.8l1.2 40l1.3 23.6l1.3 5.5l1.2-12.8l1.2-30.5l1.3-45.9l1.3-58.3l1.2-66.6l1.2-70.5l1.3-69.5l1.3-63.8l1.2-53.8l1.2-40l1.3-23.6l1.3-5.5l1.2 12.8l1.2 30.5l1.3 45.9l1.3 58.3l1.2 66.6l1.2 70.5l1.3 69.5l1.3 63.8l1.2 53.8l1.2 40l1.3 23.6l1.3 5.5l1.2-12.8l1.2-30.5l1.3-45.9l1.3-58.3l1.2-66.6l1.2-70.5l1.3-69.5l1.3-63.8l1.2-53.8l1.2-40l1.3-23.6l1.3-5.5l1.2 12.8l1.2 30.5l1.3 45.9l1.3 58.3l1.2 66.6l1.2 70.5l1.3 69.5l1.3 63.8l1.2 53.8l1.2 40l1.3 23.6l1.3 5.5l1.2-12.8l1.2-30.5l1.3-45.9l1.3-58.3l1.2-66.6l1.2-70.5l1.3-69.5l1.3-63.8l1.2-53.8l1.2-40l1.3-23.6l1.3-5.5l1.2 12.8l1.2 30.5l1.3 45.9l1.3 58.3l1.2 66.6l1.2 70.5l1.3 69.5l1.3 63.8l1.2 53.8l1.2 40l1.3 23.6l1.3 5.5l1.2-12.8l1.2-30.5l1.3-45.9l1.3-58.3l1.2-66.6l1.2-70.5l1.3-69.5l1.3-63.8l1.2-53.8l1.2-40l1.3-23.6l1.3-5.5l1.2 12.8l1.2 30.5l1.3 45.9l1.3 58.3l1.2 66.6l1.2 70.5l1.3 69.5l1.3 63.8l1.2 53.8l1.2 40l1.3 23.6l1.3 5.5l1.2-12.8l1.2-30.5l1.3-45.9l1.3-58.3l1.2-66.6l1.2-70.5l1.3-69.5l1.3-63.8l1.2-53.8l1.2-40l1.3-23.6l1.3-5.5l1.2 12.8l1.2 30.5l1.3 45.9l1.3 58.3l1.2 66.6l1.2 70.5l1.3 69.5l1.3 63.8l1.2 53.8l1.2 40l1.3 23.6l1.3 5.5l1.2-12.8l1.2-30.5l1.3-45.9l1.3-58.3l1.2-66.6l1.2-70.5l1.3-69.5l1.3-63.8l1.2-53.8l1.2-40l1.3-23.6l1.3-5.5l1.2 12.8l1.2 30.5l1.3 45.9l1.3 58.3l1.2 66.6l1.2 70.5l1.3 69.5l1.3 63.8l1.2 53.8l1.2 40l1.3 23.6l1.3 5.5l1.2-12.8l1.2-30.5l1.3-45.9l1.3-58.3l1.2-66.6l1.2-70.5l1.3-69.5l1.3-63.8l1.2-53.8l1.2-40l1.3-23.6l1.3-5.5l1.2 12.8l1.2 30.5l1.3 45.9l1.3 58.3l1.2 66.6l1.2 70.5l1.3 69.5l1.3 63.8l1.2 53.8l1.2 40l1.3 23.6l1.3 5.5l1.2-12.8l1.2-30.5l1.3-45.9l1.3-58.3l1.2-66.6l1.2-70.5l1.3-69.5l1.3-63.8l1.2-53.8l1.2-40l1.3-23.6l1.3-5.5l1.2 12.8l1.2 30.5l1.3 45.9l1.3 58.3l1.2 66.6l1.2 70.5l1.3 69.5l1.3 63.8l1.2 53.8l1.2 40l1.3 23.6l1.3 5.5l1.2-12.8l1.2-30.5l1.3-45.9l1.3-58.3l1.2-66.6l1.2-70.5l1.3-69.5l1.3-63.8l1.2-53.8l1.2-40l1.3-23.6l1.3-5.5l1.2 12.8l1.2 30.5l1.3 45.9l1.3 58.3l1.2 66.6l1.2 70.5l1.3 69.5l1.3 63.8l1.2 53.8l1.2 40l1.3 23.6l1.3 5.5l1.2-12.8l1.2-30.5l1.3-45.9l1.3-58.3l1.2-66.6l1.2-70.5l1.3-69.5l1.3-63.8l1.2-53.8l1.2-40l1.3-23.6l1.3-5.5l1.2 12.8l1.2 30.5l1.3 45.9l1.3 58.3l1.2 66.6l1.2 70.5l1.3 69.5l1.3 63.8l1.2 53.8l1.2 40l1.3 23.6l1.3 5.5l1.2-12.8l1.2-30.5l1.3-45.9l1.3-58.3l1.2-66.6l1.2-70.5l1.3-69.5l1.3-63.8l1.2-53.8l1.2-40l1.3-23.6l1.3-5.5l1.2 12.8l1.2 30.5l1.3 45.9l1.3 58.3l1.2 66.6l1.2 70.5l1.3 69.5l1.3 63.8l1.2 53.8l1.2 40l1.3 23.6l1.3 5.5l1.2-12.8l1.2-30.5l1.3-45.9l1.3-58.3l1.2-66.6l1.2-70.5l1.3-69.5l1.3-63.8l1.2-53.8l1.2-40l1.3-23.6l1.3-5.5l1.2 12.8l1.2 30.5l1.3 45.9l1.3 58.3l1.2 66.6l1.2 70.5l1.3 69.5l1.3 63.8l1.2 53.8l1.2 40l1.3 23.6l1.3 5.5l1.2-12.8l1.2-30.5l1.3-45.9l1.3-58.3l1.2-66.6l1.2-70.5l1.3-69.5l1.3-63.8l1.2-53.8l1.2-40l1.3-23.6l1.3-5.5l1.2 12.8l1.2 30.5l1.3 45.9l1.3 58.3l1.2 66.6l1.2 70.5l1.3 69.5l1.3 63.8l1.2 53.8l1.2 40l1.3 23.6l1.3 5.5l1.2-12.8l1.2-30.5l1.3-45.9l1.3-58.3l1.2-66.6l1.2-70.5l1.3-69.5l1.3-63.8l1.2-53.8l1.2-40l1.3-23.6l1.3-5.5l1.2 12.8l1.2 30.5l1.3 45.9l1.3 58.3l1.2 66.6l1.2 70.5l1.3 69.5l1.3 63.8l1.2 53.8l1.2 40l1.3 23.6l1.3 5.5l1.2-12.8l1.2-30.5l1.3-45.9l1.3-58.3l1.2-66.6l1.2-70.5l1.3-69.5l1.3-63.8l1.2-53.8l1.2-40l1.3-23.6l1.3-5.5l1.2 12.8l1.2 30.5l1.3 45.9l1.3 58.3l1.2 66.6l1.2 70.5l1.3 69.5l1.3 63.8l1.2 53.8l1.2 40l1.3 23.6l1.3 5.5l1.2-12.8l1.2-30.5l1.3-45.9l1.3-58.3l1.2-66.6l1.2-70.5l1.3-69.5l1.3-63.8l1.2-53.8l1.2-40l1.3-23.6l1.3-5.5l1.2 12.8l1.2 30.5l1.3 45.9l1.3 58.3l1.2 66.6l1.2 70.5l1.3 69.5l1.3 63.8l1.2 53.8l1.2 40l1.3 23.6l1.3 5.5l1.2-12.8l1.2-30.5l1.3-45.9l1.3-58.3l1.2-66.6l1.2-70.5l1.3-69.5l1.3-63.8l1.2-53.8l1.2-40l1.3-23.6l1.3-5.5l1.2 12.8l1.2 30.5l1.3 45.9l1.3 58.3l1.2 66.6l1.2 70.5l1.3 69.5l1.3 63.8l1.2 53.8l1.2 40l1.3 23.6l1.3 5.5l1.2-12.8l1.2-30.5l1.3-45.9l1.3-58.3l1.2-66.6l1.2-70.5l1.3-69.5l1.3-63.8l1.2-53.8l1.2-40l1.3-23.6l1.3-5.5l1.2 12.8l1.2 30.5l1.3 45.9l1.3 58.3l1.2 66.6l1.2 70.5l1.3 69.5l1.3 63.8l1.2 53.8l1.2 40l1.3 23.6l1.3 5.5l1.2-12.8l1.2-30.5l1.3-45.9l1.3-58.3l1.2-66.6l1.2-70.5l1.3-69.5l1.3-63.8l1.2-53.8l1.2-40l1.3-23.6l1.3-5.5l1.2 12.8l1.2 30.5l1.3 45.9l1.3 58.3l1.2 66.6l1.2 70.5l1.3 69.5l1.3 63.8l1.2 53.8l1.2 40l1.3 23.6l1.3 5.5l1.2-12.8l1.2-30.5l1.3-45.9l1.3-58.3l1.2-66.6l1.2-70.5l1.3-69.5l1.3-63.8l1.2-53.8l1.2-40l1.3-23.6l1.3-5.5l1.2 12.8l1.2 30.5l1.3 45.9l1.3 58.3l1.2 66.6l1.2 70.5l1.3 69.5l1.3 63.8l1.2 53.8l1.2 40l1.3 23.6l1.3 5.5l1.2-12.8l1.2-30.5l1.3-45.9l1.3-58.3l1.2-66.6l1.2-70.5l1.3-69.5l1.3-63.8l1.2-53.8l1.2-40l1.3-23.6l1.3-5.5l1.2 12.8l1.2 30.5l1.3 45.9l1.3 58.3l1.2 66.6l1.2 70.5l1.3 69.5l1.3 63.8l1.2 53.8l1.2 40l1.3 23.6l1.3 5.5l1.2-12.8l1.2-30.5l1.3-45.9l1.3-58.3l1.2-66.6l1.2-70.5l1.3-69.5l1.3-63.8l1.2-53.8l1.2-40l1.3-23.6l1.3-5.5l1.2 12.8l1.2 30.5l1.3 45.9l1.3 58.3l1.2 66.6l1.2 70.5l1.3 69.5l1.3 63.8l1.2 53.8l1.2 40l1.3 23.6l1.3 5.5l1.2-12.8l1.2-30.5l1.3-45.9l1.3-58.3l1.2-66.6l1.2-70.5l1.3-69.5l1.3-63.8l1.2-53.8l1.2-40l1.3-23.6l1.3-5.5l1.2 12.8l1.2 30.5l1.3 45.9l1.3 58.3l1.2 66.6l1.2 70.5l1.3 69.5l1.3 63.8l1.2 53.8l1.2 40l1.3 23.6l1.3 5.5l1.2-12.8l1.2-30.5l1.3-45.9l1.3-58.3l1.2-66.6l1.2-70.5l1.3-69.5l1.3-63.8l1.2-53.8l1.2-40l1.3-23.6l1.3-5.5l1.2 12.8l1.2 30.5l1.3 45.9l1.3 58.3l1.2 66.6l1.2 70.5l1.3 69.5l1.3 63.8l1.2 53.8l1.2 40l1.3 23.6l1.3 5.5l1.2-12.8l1.2-30.5l1.3-45.9l1.3-58.3l1.2-66.6l1.2-70.5l1.3-69.5l1.3-63.8l1.2-53.8l1.2-40l1.3-23.6l1.3-5.5l1.2 12.8l1.2 30.5l1.3 45.9l1.3 58.3l1.2 66.6l1.2 70.5l1.3 69.5l1.3 63.8l1.2 53.8l1.2 40l1.3 23.6l1.3 5.5l1.2-12.8l1.2-30.5l1.3-45.9l1.3-58.3l1.2-66.6l1.2-70.5l1.3-69.5l1.3-63.8l1.2-53.8l1.2-40l1.3-23.6l1.3-5.5l1.2 12.8l1.2 30.5l1.3 45.9l1.3 58.3l1.2 66.6l1.2 70.5l1.3 69.5l1.3 63.8l1.2 53.8l1.2 40l1.3 23.6l1.3 5.5l1.2-12.8l1.2-30.5l1.3-45.9l1.3-58.3l1.2-66.6l1.2-70.5l1.3-69.5l1.3-63.8l1.2-53.8l1.2-40l1.3-23.6l1.3-5.5l1.2 12.8l1.2 30.5l1.3 45.9l1.3 58.3l1.2 66.6l1.2 70.5l1.3 69.5l1.3 63.8l1.2 53.8l1.2 40l1.3 23.6l1.3 5.5l1.2-12.8l1.2-30.5l1.3-45.9l1.3-58.3l1.2-66.6l1.2-70.5l1.3-69.5l1.3-63.8l1.2-53.8l1.2-40l1.3-23.6l1.3-5.5l1.2 12.8l1.2 30.5l1.3 45.9l1.3 58.3l1.2 66.6l1.2 70.5l1.3 69.5l1.3 63.8l1.2 53.8l1.2 40l1.3 23.6l1.3 5.5l1.2-12.8l1.2-30.5l1.3-45.9l1.3-58.3l1.2-66.6l1.2-70.5l1.3-69.5l1.3-63.8l1.2-53.8l1.2-40l1.3-23.6l1.3-5.5l1.2 12.8l1.2 30.5l1.3 45.9l1.3 58.3l1.2 66.6l1.2 70.5l1.3 69.5l1.3 63.8l1.2 53.8l1.2 40l1.3 23.6l1.3 5.5l1.2-12.8l1.2-30.5l1.3-45.9l1.3-58.3l1.2-66.6l1.2-70.5l1.3-69.5l1.3-63.8l1.2-53.8l1.2-40l1.3-23.6l1.3-5.5l1.2 12.8l1.2 30.5l1.3 45.9l1.3 58.3l1.2 66.6l1.2 70.5l1.3 69.5l1.3 63.8l1.2 53.8l1.2 40l1.3 23.6l1.3 5.5l1.2-12.8l1.2-30.5l1.3-45.9l1.3-58.3l1.2-66.6l1.2-70.5l1.3-69.5l1.3-63.8l1.2-53.8l1.2-40l1.3-23.6l1.3-5.5l1.2 12.8l1.2 30.5l1.3 45.9l1.3 58.3l1.2 66.6l1.2 70.5l1.3 69.5l1.3 63.8l1.2 53.8l1.2 40l1.3 23.6l1.3 5.5l1.2-12.8l1.2-30.5l1.3-45.9l1.3-58.3l1.2-66.6l1.2-70.5l1.3-69.5l1.3-63.8l1.2-53.8l1.2-40l1.3-23.6l1.3-5.5l1.2 12.8l1.2 30.5l1.3 45.9l1.3 58.3l1.2 66.6l1.2 70.5l1.3 69.5l1.3 63.8l1.2 53.8l1.2 40l1.3 23.6l1.3 5.5l1.2-12.8l1.2-30.5l1.3-45.9l1.3-58.3l1.2-66.6l1.2-70.5l1.3-69.5l1.3-63.8l1.2-53.8l1.2-40l1.3-23.6l1.3-5.5l1.2 12.8l1.2 30.5l1.3 45.9l1.3 58.3l1.2 66.6l1.2 70.5l1.3 69.5l1.3 63.8l1.2 53.8l1.2 40l1.3 23.6l1.3 5.5l1.2-12.8l1.2-30.5l1.3-45.9l1.3-58.3l1.2-66.6l1.2-70.5l1.3-69.5l1.3-63.8l1.2-53.8l1.2-40l1.3-23.6l1.3-5.5l1.2 12.8l1.2 30.5l1.3 45.9l1.3 58.3l1.2 66.6l1.2 70.5l1.3 69.5l1.3 63.8l1.2 53.8l1.2 40l1.3 23.6l1.3 5.5l1.2-12.8l1.2-30.5l1.3-45.9l1.3-58.3l1.2-66.6l1.2-70.5l1.3-69.5l1.3-63.8l1.2-53.8l1.2-40l1.3-23.6l1.3-5.5l1.2 12.8l1.2 30.5l1.3 45.9l1.3 58.3l1.2 66.6l1.2 70.5l1.3 69.5l1.3 63.8l1.2 53.8l1.2 40l1.3 23.6l1.3 5.5l1.2-12.8l1.2-30.5l1.3-45.9l1.3-58.3l1.2-66.6l1.2-70.5l1.3-69.5l1.3-63.8l1.2-53.8l1.2-40l1.3-23.6l1.3-5.5l1.2 12.8l1.2 30.5l1.3 45.9l1.3 58.3l1.2 66.6l1.2 70.5l1.3 69.5l1.3 63.8l1.2 53.8l1.2 40l1.3 23.6l1.3 5.5l1.2-12.8l1.2-30.5l1.3-45.9l1.3-58.3l1.2-66.6l1.2-70.5l1.3-69.5l1.3-63.8l1.2-53.8l1.2-40l1.3-23.6l1.3-5.5l1.2 12.8l1.2 30.5l1.3 45.9l1.3 58.3l1.2 66.6l1.2 70.5l1.3 69.5l1.3 63.8l1.2 53.8l1.2 40l1.3 23.6l1.3 5.5l1.2-12.8l1.2-30.5l1.3-45.9l1.3-58.3l1.2-66.6l1.2-70.5l1.3-69.5l1.3-63.8l1.2-53.8l1.2-40l1.3-23.6l1.3-5.5l1.2 12.8l1.2 30.5l1.3 45.9l1.3 58.3l1.2 66.6l1.2 70.5l1.3 69.5l1.3 63.8l1.2 53.8l1.2 40l1.3 23.6l1.3 5.5l1.2-12.8l1.2-30.5l1.3-45.9l1.3-58.3l1.2-66.6l1.2-70.5l1.3-69.5l1.3-63.8l1.2-53.8l1.2-40l1.3-23.6l1.3-5.5l1.2 12.8l1.2 30.5l1.3 45.9l1.3 58.3l1.2 66.6l1.2 70.5l1.3 69.5l1.3 63.8l1.2 53.8l1.2 40l1.3 23.6l1.3 5.5l1.2-12.8l1.2-30.5l1.3-45.9l1.3-58.3l1.2-66.6l1.2-70.5l1.3-69.5l1.3-63.8l1.2-53.8l1.2-40l1.3-23.6l1.3-5.5l1.2 12.8l1.2 30.5l1.3 45.9l1.3 58.3l1.2 66.6l1.2 70.5l1.3 69.5l1.3 63.8l1.2 53.8l1.2 40l1.3 23.6l1.3 5.5l1.2-12.8l1.2-30.5l1.3-45.9l1.3-58.3l1.2-66.6l1.2-70.5l1.3-69.5l1.3-63.8l1.2-53.8l1.2-40l1.3-23.6l1.3-5.5l1.2 12.8l1.2 30.5l1.3 45.9l1.3 58.3l1.2 66.6l1.2 70.5l1.3 69.5l1.3 63.8l1.2 53.8l1.2 40l1.3 23.6l1.3 5.5l1.2-12.8l1.2-30.5l1.3-45.9l1.3-58.3l1.2-66.6l1.2-70.5l1.3-69.5l1.3-63.8l1.2-53.8l1.2-40l1.3-23.6l1.3-5.5l1.2 12.8l1.2 30.5l1.3 45.9l1.3 58.3l1.2 66.6l1.2 70.5l1.3 69.5l1.3 63.8l1.2 53.8l1.2 40l1.3 23.6l1.3 5.5l1.2-12.8l1.2-30.5l1.3-45.9l1.3-58.3l1.2-66.6l1.2-70.5l1.3-69.5l1.3-63.8l1.2-53.8l1.2-40l1.3-23.6l1.3-5.5l1.2 12.8l1.2 30.5l1.3 45.9l1.3 58.3l1.2 66.6l1.2 70.5l1.3 69.5l1.3 63.8l1.2 53.8l1.2 40l1.3 23.6l1.3 5.5l1.2-12.8l1.2-30.5l1.3-45.9l1.3-58.3l1.2-66.6l1.2-70.5l1.3-69.5l1.3-63.8l1.2-53.8l1.2-40l1.3-23.6l1.3-5.5l1.2 12.8l1.2 30.5l1.3 45.9l1.3 58.3l1.2 66.6l1.2 70.5l1.3 69.5l1.3 63.8l1.2 53.8l1.2 40l1.3 23.6l1.3 5.5l1.2-12.8l1.2-30.5l1.3-45.9l1.3-58.3l1.2-66.6l1.2-70.5l1.3-69.5l1.3-63.8l1.2-53.8l1.2-40l1.3-23.6l1.3-5.5l1.2 12.8l1.2 30.5l1.3 45.9l1.3 58.3l1.2 66.6l1.2 70.5l1.3 69.5l1.3 63.8l1.2 53.8l1.2 40l1.3 23.6l1.3 5.5l1.2-12.8l1.2-30.5l1.3-45.9l1.3-58.3l1.2-66.6l1.2-70.5l1.3-69.5l1.3-63.8l1.2-53.8l1.2-40l1.3-23.6l1.3-5.5l1.2 12.8l1.2 30.5l1.3 45.9l1.3 58.3" stroke="#D95319" stroke-width="2.2"/>
<path d="M281.5 532.5l90 0l1.3 4.8l1.2-52.8l1.2-45.4l1.3-28.2l1.3-9.4l1.2 9.4l1.2 27l1.3 42.7l1.3 55.1l1.2 63.5l1.2 67.5l1.3 66.5l1.3 60.9l1.2 51l1.2 37.3l1.3 20.9l1.3 3l1.2-15.4l1.2-33l1.3-48.3l1.3-60.6l1.2-69l1.2-72.7l1.3-71.7l1.3-65.9l1.2-55.9l1.2-42l1.3-25.6l1.3-7.5l1.2 11l1.2 28.6l1.3 44.1l1.3 56.5l1.2 65l1.2 68.8l1.3 67.9l1.3 62.2l1.2 52.2l1.2 38.6l1.3 22.1l1.3 4.1l1.2-14.3l1.2-31.8l1.3-47.2l1.3-59.6l1.2-67.9l1.2-71.7l1.3-70.7l1.3-65l1.2-54.9l1.2-41.2l1.3-24.7l1.3-6.6l1.2 11.9l1.2 29.4l1.3 44.9l1.3 57.3l1.2 65.7l1.2 69.6l1.3 68.6l1.3 63l1.2 52.9l1.2 39.2l1.3 22.8l1.3 4.7l1.2-13.6l1.2-31.2l1.3-46.7l1.3-58.9l1.2-67.4l1.2-71.1l1.3-70.2l1.3-64.5l1.2-54.3l1.2-40.7l1.3-24.2l1.3-6.1l1.2 12.3l1.2 29.9l1.3 45.3l1.3 57.8l1.2 66.1l1.2 70l1.3 69l1.3 63.3l1.2 53.3l1.2 39.6l1.3 23.1l1.3 5.2l1.2-13.4l1.2-30.8l1.3-46.3l1.3-58.7l1.2-67l1.2-70.8l1.3-69.9l1.3-64.2l1.2-54.1l1.2-40.4l1.3-23.9l1.3-5.9l1.2 12.6l1.2 30.1l1.3 45.6l1.3 58l1.2 66.4l1.2 70.2l1.3 69.2l1.3 63.6l1.2 53.5l1.2 39.8l1.3 23.3l1.3 5.3l1.2-13.1l1.2-30.7l1.3-46.1l1.3-58.5l1.2-66.8l1.2-70.7l1.3-69.7l1.3-64l1.2-54l1.2-40.2l1.3-23.8l1.3-5.7l1.2 12.7l1.2 30.3l1.3 45.7l1.3 58.1l1.2 66.5l1.2 70.3l1.3 69.4l1.3 63.7l1.2 53.6l1.2 39.9l1.3 23.4l1.3 5.5l1.2-13.1l1.2-30.5l1.3-46.1l1.3-58.3l1.2-66.8l1.2-70.6l1.3-69.6l1.3-63.9l1.2-53.9l1.2-40.1l1.3-23.7l1.3-5.7l1.2 12.8l1.2 30.4l1.3 45.8l1.3 58.2l1.2 66.5l1.2 70.4l1.3 69.4l1.3 63.8l1.2 53.6l1.2 40l1.3 23.5l1.3 5.5l1.2-12.9l1.2-30.5l1.3-46l1.3-58.4l1.2-66.7l1.2-70.5l1.3-69.6l1.3-63.8l1.2-53.9l1.2-40.1l1.3-23.6l1.3-5.6l1.2 12.8l1.2 30.4l1.3 45.9l1.3 58.2l1.2 66.6l1.2 70.4l1.3 69.5l1.3 63.7l1.2 53.8l1.2 40l1.3 23.5l1.3 5.5l1.2-12.9l1.2-30.5l1.3-45.9l1.3-58.3l1.2-66.7l1.2-70.5l1.3-69.6l1.3-63.8l1.2-53.8l1.2-40.1l1.3-23.6l1.3-5.6l1.2 12.9l1.2 30.4l1.3 45.9l1.3 58.2l1.2 66.6l1.2 70.5l1.3 69.5l1.3 63.8l1.2 53.7l1.2 40l1.3 23.6l1.3 5.5l1.2-12.9l1.2-30.5l1.3-45.9l1.3-58.3l1.2-66.6l1.2-70.5l1.3-69.6l1.3-63.8l1.2-53.8l1.2-40l1.3-23.6l1.3-5.6l1.2 12.9l1.2 30.4l1.3 45.9l1.3 58.2l1.2 66.7l1.2 70.4l1.3 69.5l1.3 63.8l1.2 53.8l1.2 40l1.3 23.6l1.3 5.5l1.2-12.9l1.2-30.4l1.3-45.9l1.3-58.3l1.2-66.7l1.2-70.5l1.3-69.5l1.3-63.8l1.2-53.8l1.2-40l1.3-23.6l1.3-5.6l1.2 12.9l1.2 30.4l1.3 45.9l1.3 58.3l1.2 66.6l1.2 70.5l1.3 69.5l1.3 63.8l1.2 53.7l1.2 40.1l1.3 23.6l1.3 5.5l1.2-12.9l1.2-30.4l1.3-45.9l1.3-58.3l1.2-66.7l1.2-70.4l1.3-69.6l1.3-63.8l1.2-53.7l1.2-40.1l1.3-23.6l1.3-5.5l1.2 12.8l1.2 30.5l1.3 45.9l1.3 58.2l1.2 66.7l1.2 70.4l1.3 69.5l1.3 63.9l1.2 53.7l1.2 40l1.3 23.6l1.3 5.6l1.2-12.9l1.2-30.4l1.3-46l1.3-58.2l1.2-66.7l1.2-70.4l1.3-69.6l1.3-63.8l1.2-53.7l1.2-40.1l1.3-23.6l1.3-5.5l1.2 12.8l1.2 30.5l1.3 45.9l1.3 58.3l1.2 66.6l1.2 70.5l1.3 69.5l1.3 63.8l1.2 53.7l1.2 40.1l1.3 23.6l1.3 5.5l1.2-12.9l1.2-30.4l1.3-45.9l1.3-58.3l1.2-66.6l1.2-70.5l1.3-69.5l1.3-63.8l1.2-53.8l1.2-40l1.3-23.6l1.3-5.6l1.2 12.9l1.2 30.4l1.3 45.9l1.3 58.3l1.2 66.6l1.2 70.5l1.3 69.5l1.3 63.8l1.2 53.8l1.2 40l1.3 23.6l1.3 5.6l1.2-12.9l1.2-30.4l1.3-46l1.3-58.2l1.2-66.7l1.2-70.4l1.3-69.5l1.3-63.9l1.2-53.7l1.2-40.1l1.3-23.6l1.3-5.5l1.2 12.9l1.2 30.4l1.3 45.9l1.3 58.3l1.2 66.6l1.2 70.5l1.3 69.5l1.3 63.8l1.2 53.8l1.2 40l1.3 23.6l1.3 5.6l1.2-12.9l1.2-30.5l1.3-45.9l1.3-58.2l1.2-66.7l1.2-70.5l1.3-69.5l1.3-63.8l1.2-53.7l1.2-40.1l1.3-23.6l1.3-5.5l1.2 12.9l1.2 30.4l1.3 45.9l1.3 58.3l1.2 66.6l1.2 70.5l1.3 69.5l1.3 63.8l1.2 53.8l1.2 40l1.3 23.6l1.3 5.6l1.2-12.9l1.2-30.5l1.3-45.9l1.3-58.2l1.2-66.7l1.2-70.5l1.3-69.5l1.3-63.8l1.2-53.7l1.2-40.1l1.3-23.6l1.3-5.5l1.2 12.9l1.2 30.4l1.3 45.9l1.3 58.3l1.2 66.6l1.2 70.5l1.3 69.5l1.3 63.8l1.2 53.8l1.2 40l1.3 23.6l1.3 5.5l1.2-12.8l1.2-30.5l1.3-45.9l1.3-58.2l1.2-66.7l1.2-70.5l1.3-69.5l1.3-63.8l1.2-53.7l1.2-40.1l1.3-23.6l1.3-5.5l1.2 12.8l1.2 30.5l1.3 45.9l1.3 58.3l1.2 66.6l1.2 70.5l1.3 69.5l1.3 63.8l1.2 53.8l1.2 40l1.3 23.6l1.3 5.5l1.2-12.8l1.2-30.5l1.3-45.9l1.3-58.3l1.2-66.6l1.2-70.5l1.3-69.5l1.3-63.8l1.2-53.7l1.2-40.1l1.3-23.6l1.3-5.5l1.2 12.8l1.2 30.5l1.3 45.9l1.3 58.3l1.2 66.6l1.2 70.5l1.3 69.5l1.3 63.8l1.2 53.8l1.2 40l1.3 23.6l1.3 5.5l1.2-12.8l1.2-30.5l1.3-45.9l1.3-58.3l1.2-66.6l1.2-70.5l1.3-69.5l1.3-63.8l1.2-53.8l1.2-40l1.3-23.6l1.3-5.5l1.2 12.8l1.2 30.5l1.3 45.9l1.3 58.3l1.2 66.6l1.2 70.5l1.3 69.5l1.3 63.8l1.2 53.8l1.2 40l1.3 23.6l1.3 5.5l1.2-12.8l1.2-30.5l1.3-45.9l1.3-58.3l1.2-66.6l1.2-70.5l1.3-69.5l1.3-63.8l1.2-53.8l1.2-40l1.3-23.6l1.3-5.5l1.2 12.8l1.2 30.5l1.3 45.9l1.3 58.3l1.2 66.6l1.2 70.5l1.3 69.5l1.3 63.8l1.2 53.8l1.2 40l1.3 23.6l1.3 5.5l1.2-12.8l1.2-30.5l1.3-45.9l1.3-58.3l1.2-66.6l1.2-70.5l1.3-69.5l1.3-63.8l1.2-53.8l1.2-40l1.3-23.6l1.3-5.5l1.2 12.8l1.2 30.5l1.3 45.9l1.3 58.3l1.2 66.6l1.2 70.5l1.3 69.5l1.3 63.8l1.2 53.8l1.2 40l1.3 23.6l1.3 5.5l1.2-12.8l1.2-30.5l1.3-45.9l1.3-58.3l1.2-66.6l1.2-70.5l1.3-69.5l1.3-63.8l1.2-53.8l1.2-40l1.3-23.6l1.3-5.5l1.2 12.8l1.2 30.5l1.3 45.9l1.3 58.3l1.2 66.6l1.2 70.5l1.3 69.5l1.3 63.8l1.2 53.8l1.2 40l1.3 23.6l1.3 5.5l1.2-12.8l1.2-30.5l1.3-45.9l1.3-58.3l1.2-66.6l1.2-70.5l1.3-69.5l1.3-63.8l1.2-53.8l1.2-40l1.3-23.6l1.3-5.5l1.2 12.8l1.2 30.5l1.3 45.9l1.3 58.3l1.2 66.6l1.2 70.5l1.3 69.5l1.3 63.8l1.2 53.8l1.2 40l1.3 23.6l1.3 5.5l1.2-12.8l1.2-30.5l1.3-45.9l1.3-58.3l1.2-66.6l1.2-70.5l1.3-69.5l1.3-63.8l1.2-53.8l1.2-40l1.3-23.6l1.3-5.5l1.2 12.8l1.2 30.5l1.3 45.9l1.3 58.3l1.2 66.6l1.2 70.5l1.3 69.5l1.3 63.8l1.2 53.8l1.2 40l1.3 23.6l1.3 5.5l1.2-12.8l1.2-30.5l1.3-45.9l1.3-58.3l1.2-66.6l1.2-70.5l1.3-69.5l1.3-63.8l1.2-53.8l1.2-40l1.3-23.6l1.3-5.5l1.2 12.8l1.2 30.5l1.3 45.9l1.3 58.3l1.2 66.6l1.2 70.5l1.3 69.5l1.3 63.8l1.2 53.8l1.2 40l1.3 23.6l1.3 5.5l1.2-12.8l1.2-30.5l1.3-45.9l1.3-58.3l1.2-66.6l1.2-70.5l1.3-69.5l1.3-63.8l1.2-53.8l1.2-40l1.3-23.6l1.3-5.5l1.2 12.8l1.2 30.5l1.3 45.9l1.3 58.3l1.2 66.6l1.2 70.5l1.3 69.5l1.3 63.8l1.2 53.8l1.2 40l1.3 23.6l1.3 5.5l1.2-12.8l1.2-30.5l1.3-45.9l1.3-58.3l1.2-66.6l1.2-70.5l1.3-69.5l1.3-63.8l1.2-53.8l1.2-40l1.3-23.6l1.3-5.5l1.2 12.8l1.2 30.5l1.3 45.9l1.3 58.3l1.2 66.6l1.2 70.5l1.3 69.5l1.3 63.8l1.2 53.8l1.2 40l1.3 23.6l1.3 5.5l1.2-12.8l1.2-30.5l1.3-45.9l1.3-58.3l1.2-66.6l1.2-70.5l1.3-69.5l1.3-63.8l1.2-53.8l1.2-40l1.3-23.6l1.3-5.5l1.2 12.8l1.2 30.5l1.3 45.9l1.3 58.3l1.2 66.6l1.2 70.5l1.3 69.5l1.3 63.8l1.2 53.8l1.2 40l1.3 23.6l1.3 5.5l1.2-12.8l1.2-30.5l1.3-45.9l1.3-58.3l1.2-66.6l1.2-70.5l1.3-69.5l1.3-63.8l1.2-53.8l1.2-40l1.3-23.6l1.3-5.5l1.2 12.8l1.2 30.5l1.3 45.9l1.3 58.3l1.2 66.6l1.2 70.5l1.3 69.5l1.3 63.8l1.2 53.8l1.2 40l1.3 23.6l1.3 5.5l1.2-12.8l1.2-30.5l1.3-45.9l1.3-58.3l1.2-66.6l1.2-70.5l1.3-69.5l1.3-63.8l1.2-53.8l1.2-40l1.3-23.6l1.3-5.5l1.2 12.8l1.2 30.5l1.3 45.9l1.3 58.3l1.2 66.6l1.2 70.5l1.3 69.5l1.3 63.8l1.2 53.8l1.2 40l1.3 23.6l1.3 5.5l1.2-12.8l1.2-30.5l1.3-45.9l1.3-58.3l1.2-66.6l1.2-70.5l1.3-69.5l1.3-63.8l1.2-53.8l1.2-40l1.3-23.6l1.3-5.5l1.2 12.8l1.2 30.5l1.3 45.9l1.3 58.3l1.2 66.6l1.2 70.5l1.3 69.5l1.3 63.8l1.2 53.8l1.2 40l1.3 23.6l1.3 5.5l1.2-12.8l1.2-30.5l1.3-45.9l1.3-58.3l1.2-66.6l1.2-70.5l1.3-69.5l1.3-63.8l1.2-53.8l1.2-40l1.3-23.6l1.3-5.5l1.2 12.8l1.2 30.5l1.3 45.9l1.3 58.3l1.2 66.6l1.2 70.5l1.3 69.5l1.3 63.8l1.2 53.8l1.2 40l1.3 23.6l1.3 5.5l1.2-12.8l1.2-30.5l1.3-45.9l1.3-58.3l1.2-66.6l1.2-70.5l1.3-69.5l1.3-63.8l1.2-53.8l1.2-40l1.3-23.6l1.3-5.5l1.2 12.8l1.2 30.5l1.3 45.9l1.3 58.3l1.2 66.6l1.2 70.5l1.3 69.5l1.3 63.8l1.2 53.8l1.2 40l1.3 23.6l1.3 5.5l1.2-12.8l1.2-30.5l1.3-45.9l1.3-58.3l1.2-66.6l1.2-70.5l1.3-69.5l1.3-63.8l1.2-53.8l1.2-40l1.3-23.6l1.3-5.5l1.2 12.8l1.2 30.5l1.3 45.9l1.3 58.3l1.2 66.6l1.2 70.5l1.3 69.5l1.3 63.8l1.2 53.8l1.2 40l1.3 23.6l1.3 5.5l1.2-12.8l1.2-30.5l1.3-45.9l1.3-58.3l1.2-66.6l1.2-70.5l1.3-69.5l1.3-63.8l1.2-53.8l1.2-40l1.3-23.6l1.3-5.5l1.2 12.8l1.2 30.5l1.3 45.9l1.3 58.3l1.2 66.6l1.2 70.5l1.3 69.5l1.3 63.8l1.2 53.8l1.2 40l1.3 23.6l1.3 5.5l1.2-12.8l1.2-30.5l1.3-45.9l1.3-58.3l1.2-66.6l1.2-70.5l1.3-69.5l1.3-63.8l1.2-53.8l1.2-40l1.3-23.6l1.3-5.5l1.2 12.8l1.2 30.5l1.3 45.9l1.3 58.3l1.2 66.6l1.2 70.5l1.3 69.5l1.3 63.8l1.2 53.8l1.2 40l1.3 23.6l1.3 5.5l1.2-12.8l1.2-30.5l1.3-45.9l1.3-58.3l1.2-66.6l1.2-70.5l1.3-69.5l1.3-63.8l1.2-53.8l1.2-40l1.3-23.6l1.3-5.5l1.2 12.8l1.2 30.5l1.3 45.9l1.3 58.3l1.2 66.6l1.2 70.5l1.3 69.5l1.3 63.8l1.2 53.8l1.2 40l1.3 23.6l1.3 5.5l1.2-12.8l1.2-30.5l1.3-45.9l1.3-58.3l1.2-66.6l1.2-70.5l1.3-69.5l1.3-63.8l1.2-53.8l1.2-40l1.3-23.6l1.3-5.5l1.2 12.8l1.2 30.5l1.3 45.9l1.3 58.3l1.2 66.6l1.2 70.5l1.3 69.5l1.3 63.8l1.2 53.8l1.2 40l1.3 23.6l1.3 5.5l1.2-12.8l1.2-30.5l1.3-45.9l1.3-58.3l1.2-66.6l1.2-70.5l1.3-69.5l1.3-63.8l1.2-53.8l1.2-40l1.3-23.6l1.3-5.5l1.2 12.8l1.2 30.5l1.3 45.9l1.3 58.3l1.2 66.6l1.2 70.5l1.3 69.5l1.3 63.8l1.2 53.8l1.2 40l1.3 23.6l1.3 5.5l1.2-12.8l1.2-30.5l1.3-45.9l1.3-58.3l1.2-66.6l1.2-70.5l1.3-69.5l1.3-63.8l1.2-53.8l1.2-40l1.3-23.6l1.3-5.5l1.2 12.8l1.2 30.5l1.3 45.9l1.3 58.3l1.2 66.6l1.2 70.5l1.3 69.5l1.3 63.8l1.2 53.8l1.2 40l1.3 23.6l1.3 5.5l1.2-12.8l1.2-30.5l1.3-45.9l1.3-58.3l1.2-66.6l1.2-70.5l1.3-69.5l1.3-63.8l1.2-53.8l1.2-40l1.3-23.6l1.3-5.5l1.2 12.8l1.2 30.5l1.3 45.9l1.3 58.3l1.2 66.6l1.2 70.5l1.3 69.5l1.3 63.8l1.2 53.8l1.2 40l1.3 23.6l1.3 5.5l1.2-12.8l1.2-30.5l1.3-45.9l1.3-58.3l1.2-66.6l1.2-70.5l1.3-69.5l1.3-63.8l1.2-53.8l1.2-40l1.3-23.6l1.3-5.5l1.2 12.8l1.2 30.5l1.3 45.9l1.3 58.3l1.2 66.6l1.2 70.5l1.3 69.5l1.3 63.8l1.2 53.8l1.2 40l1.3 23.6l1.3 5.5l1.2-12.8l1.2-30.5l1.3-45.9l1.3-58.3l1.2-66.6l1.2-70.5l1.3-69.5l1.3-63.8l1.2-53.8l1.2-40l1.3-23.6l1.3-5.5l1.2 12.8l1.2 30.5l1.3 45.9l1.3 58.3l1.2 66.6l1.2 70.5l1.3 69.5l1.3 63.8l1.2 53.8l1.2 40l1.3 23.6l1.3 5.5l1.2-12.8l1.2-30.5l1.3-45.9l1.3-58.3l1.2-66.6l1.2-70.5l1.3-69.5l1.3-63.8l1.2-53.8l1.2-40l1.3-23.6l1.3-5.5l1.2 12.8l1.2 30.5l1.3 45.9l1.3 58.3l1.2 66.6l1.2 70.5l1.3 69.5l1.3 63.8l1.2 53.8l1.2 40l1.3 23.6l1.3 5.5l1.2-12.8l1.2-30.5l1.3-45.9l1.3-58.3l1.2-66.6l1.2-70.5l1.3-69.5l1.3-63.8l1.2-53.8l1.2-40l1.3-23.6l1.3-5.5l1.2 12.8l1.2 30.5l1.3 45.9l1.3 58.3l1.2 66.6l1.2 70.5l1.3 69.5l1.3 63.8l1.2 53.8l1.2 40l1.3 23.6l1.3 5.5l1.2-12.8l1.2-30.5l1.3-45.9l1.3-58.3l1.2-66.6l1.2-70.5l1.3-69.5l1.3-63.8l1.2-53.8l1.2-40l1.3-23.6l1.3-5.5l1.2 12.8l1.2 30.5l1.3 45.9l1.3 58.3l1.2 66.6l1.2 70.5l1.3 69.5l1.3 63.8l1.2 53.8l1.2 40l1.3 23.6l1.3 5.5l1.2-12.8l1.2-30.5l1.3-45.9l1.3-58.3l1.2-66.6l1.2-70.5l1.3-69.5l1.3-63.8l1.2-53.8l1.2-40l1.3-23.6l1.3-5.5l1.2 12.8l1.2 30.5l1.3 45.9l1.3 58.3l1.2 66.6l1.2 70.5l1.3 69.5l1.3 63.8l1.2 53.8l1.2 40l1.3 23.6l1.3 5.5l1.2-12.8l1.2-30.5l1.3-45.9l1.3-58.3l1.2-66.6l1.2-70.5l1.3-69.5l1.3-63.8l1.2-53.8l1.2-40l1.3-23.6l1.3-5.5l1.2 12.8l1.2 30.5l1.3 45.9l1.3 58.3l1.2 66.6l1.2 70.5l1.3 69.5l1.3 63.8l1.2 53.8l1.2 40l1.3 23.6l1.3 5.5l1.2-12.8l1.2-30.5l1.3-45.9l1.3-58.3l1.2-66.6l1.2-70.5l1.3-69.5l1.3-63.8l1.2-53.8l1.2-40l1.3-23.6l1.3-5.5l1.2 12.8l1.2 30.5l1.3 45.9l1.3 58.3l1.2 66.6l1.2 70.5l1.3 69.5l1.3 63.8l1.2 53.8l1.2 40l1.3 23.6l1.3 5.5l1.2-12.8l1.2-30.5l1.3-45.9l1.3-58.3l1.2-66.6l1.2-70.5l1.3-69.5l1.3-63.8l1.2-53.8l1.2-40l1.3-23.6l1.3-5.5l1.2 12.8l1.2 30.5l1.3 45.9l1.3 58.3l1.2 66.6l1.2 70.5l1.3 69.5l1.3 63.8l1.2 53.8l1.2 40l1.3 23.6l1.3 5.5l1.2-12.8l1.2-30.5l1.3-45.9l1.3-58.3l1.2-66.6l1.2-70.5l1.3-69.5l1.3-63.8l1.2-53.8l1.2-40l1.3-23.6l1.3-5.5l1.2 12.8l1.2 30.5l1.3 45.9l1.3 58.3l1.2 66.6l1.2 70.5l1.3 69.5l1.3 63.8l1.2 53.8l1.2 40l1.3 23.6l1.3 5.5l1.2-12.8l1.2-30.5l1.3-45.9l1.3-58.3l1.2-66.6l1.2-70.5l1.3-69.5l1.3-63.8l1.2-53.8l1.2-40l1.3-23.6l1.3-5.5l1.2 12.8l1.2 30.5l1.3 45.9l1.3 58.3l1.2 66.6l1.2 70.5l1.3 69.5l1.3 63.8l1.2 53.8l1.2 40l1.3 23.6l1.3 5.5l1.2-12.8l1.2-30.5l1.3-45.9l1.3-58.3l1.2-66.6l1.2-70.5l1.3-69.5l1.3-63.8l1.2-53.8l1.2-40l1.3-23.6l1.3-5.5l1.2 12.8l1.2 30.5l1.3 45.9l1.3 58.3l1.2 66.6l1.2 70.5l1.3 69.5l1.3 63.8l1.2 53.8l1.2 40l1.3 23.6l1.3 5.5l1.2-12.8l1.2-30.5l1.3-45.9l1.3-58.3l1.2-66.6l1.2-70.5l1.3-69.5l1.3-63.8l1.2-53.8l1.2-40l1.3-23.6l1.3-5.5l1.2 12.8l1.2 30.5l1.3 45.9l1.3 58.3l1.2 66.6l1.2 70.5l1.3 69.5l1.3 63.8l1.2 53.8l1.2 40l1.3 23.6l1.3 5.5l1.2-12.8l1.2-30.5l1.3-45.9l1.3-58.3l1.2-66.6l1.2-70.5l1.3-69.5l1.3-63.8l1.2-53.8l1.2-40l1.3-23.6l1.3-5.5l1.2 12.8l1.2 30.5l1.3 45.9l1.3 58.3l1.2 66.6l1.2 70.5l1.3 69.5l1.3 63.8l1.2 53.8l1.2 40l1.3 23.6l1.3 5.5l1.2-12.8l1.2-30.5l1.3-45.9l1.3-58.3l1.2-66.6l1.2-70.5l1.3-69.5l1.3-63.8l1.2-53.8l1.2-40l1.3-23.6l1.3-5.5l1.2 12.8l1.2 30.5l1.3 45.9l1.3 58.3l1.2 66.6l1.2 70.5l1.3 69.5l1.3 63.8l1.2 53.8l1.2 40l1.3 23.6l1.3 5.5l1.2-12.8l1.2-30.5l1.3-45.9l1.3-58.3l1.2-66.6l1.2-70.5l1.3-69.5l1.3-63.8l1.2-53.8l1.2-40l1.3-23.6l1.3-5.5l1.2 12.8l1.2 30.5l1.3 45.9l1.3 58.3l1.2 66.6l1.2 70.5l1.3 69.5l1.3 63.8l1.2 53.8l1.2 40l1.3 23.6l1.3 5.5l1.2-12.8l1.2-30.5l1.3-45.9l1.3-58.3l1.2-66.6l1.2-70.5l1.3-69.5l1.3-63.8l1.2-53.8l1.2-40l1.3-23.6l1.3-5.5l1.2 12.8l1.2 30.5l1.3 45.9l1.3 58.3l1.2 66.6l1.2 70.5l1.3 69.5l1.3 63.8l1.2 53.8l1.2 40l1.3 23.6l1.3 5.5l1.2-12.8l1.2-30.5l1.3-45.9l1.3-58.3l1.2-66.6l1.2-70.5l1.3-69.5l1.3-63.8l1.2-53.8l1.2-40l1.3-23.6l1.3-5.5l1.2 12.8l1.2 30.5l1.3 45.9l1.3 58.3l1.2 66.6l1.2 70.5l1.3 69.5l1.3 63.8l1.2 53.8l1.2 40l1.3 23.6l1.3 5.5l1.2-12.8l1.2-30.5l1.3-45.9l1.3-58.3l1.2-66.6l1.2-70.5l1.3-69.5l1.3-63.8l1.2-53.8l1.2-40l1.3-23.6l1.3-5.5l1.2 12.8l1.2 30.5l1.3 45.9l1.3 58.3l1.2 66.6l1.2 70.5l1.3 69.5l1.3 63.8l1.2 53.8l1.2 40l1.3 23.6l1.3 5.5l1.2-12.8l1.2-30.5l1.3-45.9l1.3-58.3l1.2-66.6l1.2-70.5l1.3-69.5l1.3-63.8l1.2-53.8l1.2-40l1.3-23.6l1.3-5.5l1.2 12.8l1.2 30.5l1.3 45.9l1.3 58.3l1.2 66.6l1.2 70.5l1.3 69.5l1.3 63.8l1.2 53.8l1.2 40l1.3 23.6l1.3 5.5l1.2-12.8l1.2-30.5l1.3-45.9l1.3-58.3l1.2-66.6l1.2-70.5l1.3-69.5l1.3-63.8l1.2-53.8l1.2-40l1.3-23.6l1.3-5.5l1.2 12.8l1.2 30.5l1.3 45.9l1.3 58.3l1.2 66.6l1.2 70.5l1.3 69.5l1.3 63.8l1.2 53.8l1.2 40l1.3 23.6l1.3 5.5l1.2-12.8l1.2-30.5l1.3-45.9l1.3-58.3l1.2-66.6l1.2-70.5l1.3-69.5l1.3-63.8l1.2-53.8l1.2-40l1.3-23.6l1.3-5.5l1.2 12.8l1.2 30.5l1.3 45.9l1.3 58.3l1.2 66.6l1.2 70.5l1.3 69.5l1.3 63.8l1.2 53.8l1.2 40l1.3 23.6l1.3 5.5l1.2-12.8l1.2-30.5l1.3-45.9l1.3-58.3l1.2-66.6l1.2-70.5l1.3-69.5l1.3-63.8l1.2-53.8l1.2-40l1.3-23.6l1.3-5.5l1.2 12.8l1.2 30.5l1.3 45.9l1.3 58.3l1.2 66.6l1.2 70.5l1.3 69.5l1.3 63.8l1.2 53.8l1.2 40l1.3 23.6l1.3 5.5l1.2-12.8l1.2-30.5l1.3-45.9l1.3-58.3l1.2-66.6l1.2-70.5l1.3-69.5l1.3-63.8l1.2-53.8l1.2-40l1.3-23.6l1.3-5.5l1.2 12.8l1.2 30.5l1.3 45.9l1.3 58.3l1.2 66.6l1.2 70.5l1.3 69.5l1.3 63.8l1.2 53.8l1.2 40l1.3 23.6l1.3 5.5l1.2-12.8l1.2-30.5l1.3-45.9l1.3-58.3l1.2-66.6l1.2-70.5l1.3-69.5l1.3-63.8" stroke="#EDB120" stroke-width="2.2"/>
<path d="M371.5 532.5l.5 11.6l.5-26.3l.5 40.4l.5-46.3l.5 44.2l.5-46.8l.5 41.8l.5-48.5l.5 37.6l.5-49.7l.5 37.9l.5-50.5l.5 33.5l.5-49.1l.5 32.1l.5-49.2l.5 29.8l.5-49.8l.5 33.7l.5-50.3l.5 32.5l.5-48l.5 32.2l.5-49.2l.5 38.5l.5-49.6l.5 40l.5-50l.5 44.6l.5-49.2l.5 46.4l.5-48.7l.5 53.2l.5-48.8l.5 50.5l.5-42.9l.5 52l.5-39.2l.5 51.1l.5-35.5l.5 48.5l.5-31.4l.5 49.5l.5-29.5l.5 50.2l.5-29.7l.5 49.6l.5-28.2l.5 46.9l.5-27.6l.5 48.3l.5-30.4l.5 50l.5-33.2l.5 47.5l.5-33.3l.5 48.1l.5-39.8l.5 49.9l.5-46.1l.5 51.6l.5-46.3l.5 47.3l.5-49.3l.5 45.3l.5-49.7l.5 42.4l.5-49.5l.5 36.1l.5-47.2l.5 32.8l.5-45.3l.5 29.2l.5-46.7l.5 29.4l.5-45.7l.5 27.7l.5-46.8l.5 25.9l.5-43.9l.5 27.8l.5-45.9l.5 29.6l.5-46.4l.5 34.6l.5-46.9l.5 35.7l.5-47.2l.5 42.6l.5-49.4l.5 47.1l.5-46.7l.5 47.9l.5-45l.5 49.5l.5-42.7l.5 47.8l.5-34.1l.5 46.6l.5-31.5l.5 44.9l.5-29.6l.5 45.3l.5-25.6l.5 44.5l.5-25.1l.5 45.7l.5-23.5l.5 43.5l.5-25.1l.5 44.8l.5-27.1l.5 43.8l.5-29.1l.5 47l.5-32.5l.5 44.2l.5-36.8l.5 46.8l.5-40.5l.5 47.3l.5-45.5l.5 46.6l.5-49.4l.5 44l.5-46.6l.5 38.2l.5-47.3l.5 33.3l.5-42.3l.5 29.4l.5-45.5l.5 27.6l.5-43.1l.5 23.7l.5-43l.5 23.4l.5-41.9l.5 25l.5-43.6l.5 25.8l.5-42.4l.5 25.5l.5-43.8l.5 31.2l.5-42.9l.5 34l.5-44.8l.5 38.5l.5-45.6l.5 42.4l.5-47.2l.5 48.6l.5-43.3l.5 43.9l.5-37.2l.5 44.9l.5-34.3l.5 44.3l.5-26.9l.5 42.3l.5-27.2l.5 43.2l.5-23.9l.5 42.5l.5-22.4l.5 40.2l.5-19l.5 39.7l.5-21l.5 39.5l.5-23.4l.5 43.4l.5-27.9l.5 42l.5-29.2l.5 44.3l.5-35.1l.5 44.1l.5-40.6l.5 47.9l.5-47.2l.5 45.4l.5-44.4l.5 38.8l.5-43.3l.5 35.9l.5-45.2l.5 30.4l.5-39.6l.5 25.7l.5-40.3l.5 22.3l.5-39.2l.5 18.8l.5-38.6l.5 20.1l.5-38.8l.5 20.6l.5-39.8l.5 20.9l.5-39.3l.5 24.2l.5-40.6l.5 27.9l.5-42.4l.5 32.8l.5-44l.5 38.2l.5-46.9l.5 42.6l.5-43.7l.5 44.1l.5-39.6l.5 43.9l.5-38l.5 43.7l.5-31.8l.5 41.1l.5-25.1l.5 39.4l.5-22.7l.5 37.6l.5-19.3l.5 38.7l.5-18.1l.5 36.8l.5-17.5l.5 38.2l.5-19.1l.5 37.3l.5-20.4l.5 38.4l.5-23.8l.5 39.6l.5-26.6l.5 40.3l.5-32.9l.5 44l.5-40.6l.5 44.7l.5-43.8l.5 44.2l.5-42.4l.5 37.5l.5-42l.5 31l.5-39.4l.5 28.6l.5-40.7l.5 22.9l.5-36.4l.5 19l.5-34.8l.5 16.7l.5-36.4l.5 17.1l.5-36.5l.5 16.6l.5-36.6l.5 18.5l.5-35.1l.5 19l.5-36.6l.5 24.4l.5-40.1l.5 29.4l.5-40.9l.5 36.8l.5-43.4l.5 40.6l.5-43.4l.5 44.2l.5-41.3l.5 43.1l.5-34.4l.5 40.7l.5-28.7l.5 36.6l.5-21.8l.5 35.1l.5-18.6l.5 34.9l.5-16.8l.5 35.4l.5-15.5l.5 34.6l.5-13.8l.5 32.9l.5-14l.5 32.9l.5-15.5l.5 34.2l.5-21.4l.5 36.9l.5-24.4l.5 39.4l.5-30.6l.5 40.5l.5-38.8l.5 42.8l.5-39.2l.5 39.8l.5-40.6l.5 35.8l.5-40.7l.5 31.2l.5-39.6l.5 24.7l.5-35.1l.5 19.1l.5-34.3l.5 17.7l.5-34.3l.5 15.2l.5-33.1l.5 13.6l.5-33.3l.5 13.6l.5-32.3l.5 14.3l.5-33l.5 16.7l.5-33.2l.5 21.8l.5-36l.5 26.1l.5-39.6l.5 32.6l.5-41l.5 41.1l.5-42l.5 40.3l.5-36.8l.5 39.3l.5-30.7l.5 36.3l.5-25l.5 33.9l.5-20.8l.5 34.1l.5-16.3l.5 32.4l.5-12.9l.5 31.7l.5-13.6l.5 31.8l.5-11.7l.5 31.3l.5-12.9l.5 32.5l.5-15.2l.5 32.8l.5-18.8l.5 34.1l.5-22.9l.5 36.6l.5-28.9l.5 39.5l.5-34.4l.5 39.5l.5-40.8l.5 41.7l.5-42.5l.5 35.3l.5-36.6l.5 27.4l.5-35.7l.5 21.2l.5-32.1l.5 17.2l.5-31.3l.5 12.5l.5-29.6l.5 11.8l.5-30.3l.5 10.3l.5-29.1l.5 10.6l.5-30.3l.5 11.9l.5-30l.5 14.3l.5-30.8l.5 18.4l.5-33.8l.5 23.3l.5-35.2l.5 31l.5-38.5l.5 37.4l.5-40.7l.5 39.8l.5-35.7l.5 38l.5-29.9l.5 34.2l.5-22.2l.5 31.8l.5-17.9l.5 30.8l.5-13.1l.5 29l.5-11.5l.5 30l.5-10.6l.5 28.7l.5-8.6l.5 28.3l.5-10.2l.5 28.5l.5-12.2l.5 29.6l.5-14.3l.5 30.5l.5-19.5l.5 31.5l.5-24.3l.5 35.8l.5-32.7l.5 38.7l.5-39.2l.5 39.8l.5-40l.5 33.7l.5-34.6l.5 23.1l.5-31.1l.5 18.4l.5-29.9l.5 14.3l.5-28.7l.5 10.8l.5-27.1l.5 7.9l.5-26.8l.5 7.8l.5-26.1l.5 7l.5-25.9l.5 8.9l.5-27l.5 12l.5-29.8l.5 15.5l.5-28.4l.5 20.4l.5-32.5l.5 25.4l.5-34.1l.5 35.1l.5-38.6l.5 36.6l.5-34.1l.5 35.3l.5-25.3l.5 30.4l.5-18.9l.5 29.9l.5-15.2l.5 27.6l.5-11.6l.5 26.5l.5-8l.5 25.7l.5-6.3l.5 25.4l.5-5.7l.5 24.6l.5-6.1l.5 24.6l.5-8.7l.5 26.6l.5-12.3l.5 27.5l.5-15.3l.5 29.2l.5-21.5l.5 31.6l.5-30.6l.5 38l.5-35.9l.5 35.2l.5-37.2l.5 29.4l.5-30.8l.5 20.5l.5-27.7l.5 14.7l.5-26.6l.5 11.1l.5-25.3l.5 8.1l.5-24.5l.5 5.9l.5-23.7l.5 4.7l.5-24.3l.5 4.9l.5-24.1l.5 7.1l.5-24.8l.5 8.8l.5-24.8l.5 12l.5-26.3l.5 16l.5-28.2l.5 24.2l.5-32.2l.5 31.2l.5-35.8l.5 35.6l.5-32.9l.5 33.5l.5-24.1l.5 29.9l.5-17.2l.5 26l.5-11.9l.5 24.1l.5-6.7l.5 22.3l.5-5.1l.5 23.4l.5-4l.5 22.8l.5-3.9l.5 23l.5-4.3l.5 22.4l.5-5.2l.5 22.7l.5-8.4l.5 24.7l.5-13.5l.5 25.7l.5-18.2l.5 28.3l.5-26.6l.5 34.4l.5-34.9l.5 34.9l.5-33.1l.5 25.7l.5-29.6l.5 18.6l.5-25.5l.5 12.4l.5-22.8l.5 7.6l.5-22.1l.5 4.9l.5-22.1l.5 3.7l.5-21.4l.5 1.5l.5-20.4l.5 2.1l.5-21.4l.5 3.7l.5-21.6l.5 5.4l.5-21.8l.5 9.3l.5-23.8l.5 14.6l.5-26.4l.5 21.1l.5-29.9l.5 29l.5-34.2l.5 33.6l.5-29.8l.5 32.1l.5-21.2l.5 24.8l.5-13.9l.5 23.6l.5-8.6l.5 21.8l.5-5.9l.5 21.4l.5-2.9l.5 20.2l.5-1l.5 20.2l.5-1.5l.5 20.2l.5-1.6l.5 20l.5-2.9l.5 20.4l.5-6.6l.5 21.9l.5-9.9l.5 23.5l.5-15.9l.5 26.6l.5-25.4l.5 33.2l.5-32.5l.5 30.8l.5-31.5l.5 24.1l.5-25l.5 15.8l.5-23.7l.5 10l.5-21.8l.5 6.4l.5-20l.5 2.8l.5-20.1l.5 1.7l.5-19.5l.5-.2l.5-18.9l.5 .6l.5-19.8l.5 1.6l.5-19.7l.5 4.4l.5-20.9l.5 7.9l.5-22.3l.5 12.9l.5-23.9l.5 19.5l.5-28.3l.5 27.2l.5-32.4l.5 32.7l.5-28.9l.5 29l.5-18.3l.5 22.6l.5-11.3l.5 21.2l.5-7.3l.5 19.9l.5-2.9l.5 18.5l.5-1l.5 19.2l.5 .1l.5 18.5l.5 .4l.5 18.5l.5 0l.5 18.5l.5-1.3l.5 19.1l.5-5.2l.5 19.8l.5-8.6l.5 21.1l.5-13.2l.5 24.7l.5-21.9l.5 28.4l.5-29.3l.5 29.7l.5-28.5l.5 21.6l.5-24.8l.5 13.5l.5-20.8l.5 8.6l.5-20.3l.5 4.2l.5-18.1l.5 1.3l.5-18.1l.5-.8l.5-17.6l.5-1.4l.5-17.5l.5-1.5l.5-17.4l.5 .1l.5-18.2l.5 2.3l.5-18.9l.5 5.9l.5-19.3l.5 10l.5-22.2l.5 16.4l.5-24.4l.5 23.6l.5-28.2l.5 27.9l.5-24.5l.5 25.4l.5-15.9l.5 21.6l.5-9.5l.5 18.6l.5-4.4l.5 17.4l.5-1.1l.5 17l.5 .8l.5 16.7l.5 2.2l.5 16.5l.5 2.6l.5 16.7l.5 1.7l.5 16.7l.5 .4l.5 16.9l.5-2.8l.5 17.7l.5-6.5l.5 19.9l.5-11.8l.5 21l.5-18.1l.5 25.7l.5-25.3l.5 25.8l.5-26.9l.5 19.6l.5-21.7l.5 10.8l.5-18.5l.5 6.1l.5-17.4l.5 2l.5-16.4l.5-.8l.5-15.9l.5-2.5l.5-16.1l.5-3.2l.5-15.9l.5-2.6l.5-16.1l.5-1.9l.5-16.2l.5 .5l.5-16.8l.5 3.9l.5-17.3l.5 6.9l.5-18.9l.5 13.7l.5-21.7l.5 20.7l.5-24.4l.5 24.1l.5-21.1l.5 22.6l.5-13l.5 18.4l.5-7.4l.5 17l.5-3.1l.5 16l.5 .4l.5 15.3l.5 2.5l.5 15.5l.5 3.3l.5 15.4l.5 3.9l.5 14.9l.5 3.3l.5 15.4l.5 1.6l.5 15.4l.5-.6l.5 16l.5-4.6l.5 16.9l.5-8.9l.5 18.8l.5-16.5l.5 22.9l.5-22.8l.5 23.9l.5-24.2l.5 16.5l.5-19.2l.5 9.4l.5-16.9l.5 4.2l.5-15.3l.5 .5l.5-15.3l.5-2.1l.5-14.8l.5-3.6l.5-14.9l.5-4.3l.5-14.7l.5-4l.5-14.5l.5-3.3l.5-14.5l.5-1.1l.5-15.4l.5 2.1l.5-15.9l.5 5.7l.5-16.8l.5 11.6l.5-19.4l.5 17.6l.5-22.1l.5 22.6l.5-18.4l.5 19.5l.5-11.5l.5 17.3l.5-6l.5 15.6l.5-1.5l.5 14.7l.5 1.6l.5 14.3l.5 3.5l.5 14.2l.5 4.3l.5 14.4l.5 4.6l.5 14.4l.5 4.3l.5 14.2l.5 2.8l.5 13.9l.5 .4l.5 14.9l.5-3l.5 15.1l.5-7l.5 16.7l.5-14l.5 20.4l.5-19.8l.5 19.6l.5-19.7l.5 13.2l.5-16.2l.5 6.5l.5-14.3l.5 1.9l.5-13.8l.5-1l.5-13.8l.5-3.3l.5-13.6l.5-4.7l.5-13.7l.5-5.3l.5-13.6l.5-5.2l.5-13.7l.5-4l.5-13.5l.5-2.2l.5-14l.5 .6l.5-14.2l.5 4.2l.5-14.9l.5 8.6l.5-16.6l.5 15.3l.5-19.9l.5 19.6l.5-15.1l.5 17l.5-9l.5 14.4l.5-3.3l.5 13.4l.5 0l.5 13.6l.5 2.4l.5 13.5l.5 4.4l.5 13.4l.5 5.4l.5 13.5l.5 5.5l.5 13.2l.5 5.3l.5 13l.5 3.9l.5 13.2l.5 1.7l.5 12.9l.5-1.4l.5 13.8l.5-5.4l.5 14.4l.5-11.3l.5 18.4l.5-17.8l.5 17.1l.5-17.7l.5 11.9l.5-15.2l.5 5l.5-12.7l.5 .9l.5-13l.5-2l.5-12.8l.5-4.2l.5-12.6l.5-5.6l.5-13l.5-6l.5-12.8l.5-5.8l.5-12.9l.5-5.1l.5-12.5l.5-3.4l.5-12.4l.5-1l.5-12.6l.5 2.5l.5-12.9l.5 6.7l.5-15l.5 13.9l.5-17.1l.5 16.7l.5-13.2l.5 14.7l.5-6.9l.5 12.8l.5-1.8l.5 11.9l.5 1.4l.5 12l.5 3.9l.5 12.1l.5 5.5l.5 12.5l.5 6.2l.5 12.6l.5 6.3l.5 12.4l.5 6.1l.5 12.3l.5 4.6l.5 12l.5 3l.5 11.7l.5 .5l.5 11.4l.5-3.5l.5 12.9l.5-9.5l.5 16.2l.5-15.3l.5 14.4l.5-14.4l.5 8.8l.5-12.9l.5 3.1l.5-11.3l.5-.8l.5-11.2l.5-3.2l.5-11.7l.5-5.1l.5-11.8l.5-6.4l.5-12l.5-6.9l.5-12.1l.5-6.6l.5-12l.5-6.1l.5-11.5l.5-4.4l.5-11.1l.5-2.5l.5-10.9l.5 .5l.5-11.1l.5 5.2l.5-12.9l.5 11.2l.5-14.9l.5 14.8l.5-11.3l.5 12.6l.5-4.7l.5 10.9l.5-.1l.5 10.4l.5 3l.5 10.7l.5 4.9l.5 11.2l.5 6.3l.5 11.6l.5 7.1l.5 11.6l.5 7.2l.5 11.7l.5 6.7l.5 11.3l.5 5.8l.5 10.9l.5 4.3l.5 10.1l.5 1.9l.5 10.1l.5-1.4l.5 10.7l.5-7l.5 13l.5-12.5l.5 12.3l.5-12.3l.5 6l.5-10.3l.5 1.4l.5-9.9l.5-2l.5-10l.5-4.4l.5-10.8l.5-6l.5-11l.5-7l.5-11.5l.5-7.4l.5-11.4l.5-7.4l.5-11.3l.5-6.6l.5-10.8l.5-5.3l.5-10.2l.5-3.4l.5-9.7l.5-.9l.5-9.4l.5 2.7l.5-10.7l.5 8.6l.5-11.3l.5 11.3l.5-8.1l.5 10.5l.5-3.1l.5 9.5l.5 1l.5 9.5l.5 3.5l.5 10l.5 5.6l.5 10.7l.5 6.7l.5 11.2l.5 7.4l.5 11.4l.5 7.5l.5 11.3l.5 7.2l.5 10.8l.5 6.2l.5 10.5l.5 4.7l.5 9.6l.5 2.6l.5 9l.5-.3l.5 9.3l.5-4.8l.5 10.1l.5-9l.5 8.8l.5-9.9l.5 4.3l.5-8.8l.5 .2l.5-8.8l.5-2.9l.5-9.5l.5-4.7l.5-10.3l.5-6.3l.5-10.8l.5-7.3l.5-11.2l.5-7.7l.5-11.1l.5-7.6l.5-11l.5-6.9l.5-10.4l.5-5.9l.5-9.7l.5-4l.5-8.8l.5-2l.5-8.1l.5 1.3l.5-8.2l.5 5.4l.5-8.1l.5 7.9l.5-5.4l.5 8.5l.5-1.2l.5 7.9l.5 1.9l.5 8.8l.5 4.3l.5 9.5l.5 5.9l.5 10.3l.5 7.1l.5 10.9l.5 7.7l.5 11l.5 7.9l.5 10.9l.5 7.5l.5 10.5l.5 6.7l.5 9.9l.5 5.1l.5 9.1l.5 3.5l.5 7.8l.5 1.1l.5 7.4l.5-2.5l.5 7.3l.5-6.1l.5 6.2l.5-7.2l.5 2.1l.5-7.2l.5-1.1l.5-7.9l.5-3.5l.5-8.8l.5-5.4l.5-9.8l.5-6.8l.5-10.4l.5-7.6l.5-10.8l.5-8l.5-10.9l.5-7.8l.5-10.7l.5-7.3l.5-10l.5-6.2l.5-9.1l.5-4.7l.5-8.1l.5-2.9l.5-7l.5 0l.5-6.5l.5 3.3l.5-5.6l.5 5.3l.5-2.9l.5 6.3l.5 .2l.5 6.8l.5 3l.5 7.9l.5 5l.5 8.9l.5 6.4l.5 9.9l.5 7.4l.5 10.5l.5 8l.5 10.7l.5 8.2l.5 10.6l.5 7.9l.5 10.1l.5 7.1l.5 9.3l.5 5.8l.5 8.3l.5 4.2l.5 7.1l.5 2.1l.5 6l.5-.7l.5 4.9l.5-3.1l.5 3.3l.5-5l.5 .4l.5-5.8l.5-2.1l.5-7l.5-4.3l.5-8.3l.5-5.9l.5-9.2l.5-7.2l.5-10l.5-8l.5-10.4l.5-8.3l.5-10.6l.5-8.2l.5-10.3l.5-7.6l.5-9.6l.5-6.7l.5-8.6l.5-5.4l.5-7.4l.5-3.5l.5-6l.5-1.5l.5-4.7l.5 1.2l.5-3.3l.5 3.3l.5-1.2l.5 4.8l.5 1.4l.5 6l.5 3.6l.5 7.4l.5 5.3l.5 8.6l.5 6.7l.5 9.6l.5 7.7l.5 10.2l.5 8.3l.5 10.4l.5 8.4l.5 10.4l.5 8.1l.5 9.9l.5 7.2l.5 9.1l.5 6.2l.5 7.8l.5 4.7l.5 6.6l.5 2.6l.5 5.2l.5 .4l.5 3.9l.5-2.1l.5 2.1l.5-4l.5-.3l.5-5.1l.5-2.9l.5-6.4l.5-4.7l.5-7.8l.5-6.3l.5-8.9l.5-7.4l.5-9.8l.5-8.2l.5-10.2l.5-8.6l.5-10.3l.5-8.4l.5-10l.5-7.9l.5-9.3l.5-7l.5-8.4l.5-5.5l.5-7.2l.5-3.8l.5-5.7l.5-1.7l.5-4.4l.5 .8l.5-3l.5 3l.5-.8l.5 4.4l.5 1.7l.5 5.7l.5 3.9l.5 7.1l.5 5.6l.5 8.3l.5 7l.5 9.3l.5 7.9l.5 10l.5 8.5l.5 10.2l.5 8.6l.5 10.1l.5 8.3l.5 9.7l.5 7.5l.5 8.8l.5 6.4l.5 7.7l.5 4.8l.5 6.3l.5 3l.5 4.9l.5 .6l.5 3.7l.5-1.9l.5 1.8l.5-3.5l.5-.7l.5-4.8l.5-3.1l.5-6.2l.5-5l.5-7.6l.5-6.4l.5-8.8l.5-7.6l.5-9.6l.5-8.3l.5-10l.5-8.7l.5-10.2l.5-8.5l.5-9.9l.5-8l.5-9.2l.5-7.1l.5-8.2l.5-5.8l.5-6.9l.5-4.1l.5-5.3l.5-2.1l.5-4.1l.5 .5l.5-2.6l.5 2.6l.5-.4l.5 4l.5 2.1l.5 5.3l.5 4.2l.5 6.8l.5 5.9l.5 8.1l.5 7.1l.5 9.1l.5 8.2l.5 9.7l.5 8.7l.5 10l.5 8.8l.5 9.9l.5 8.5l.5 9.4l.5 7.8l.5 8.6l.5 6.5l.5 7.4l.5 5.2l.5 6l.5 3.3l.5 4.5l.5 1.1l.5 3.1l.5-1.3l.5 1.2l.5-3l.5-1.1l.5-4.5l.5-3.3l.5-6l.5-5.2l.5-7.4l.5-6.6l.5-8.5l.5-7.8l.5-9.4l.5-8.5l.5-9.9l.5-8.8l.5-10l.5-8.7l.5-9.7l.5-8.2l.5-9l.5-7.3l.5-7.9l.5-6l.5-6.6l.5-4.4l.5-5.1l.5-2.4l.5-3.6l.5-.1l.5-2l.5 2l.5 .1l.5 3.6l.5 2.5l.5 5l.5 4.4l.5 6.6l.5 6l.5 7.9l.5 7.4l.5 8.9l.5 8.3l.5 9.5l.5 8.8l.5 9.9l.5 8.9l.5 9.8l.5 8.7l.5 9.2l.5 7.9l.5 8.4l.5 6.8l.5 7.2l.5 5.3l.5 5.8l.5 3.6l.5 4.1l.5-11.5l.5 51.7l.5-79l.5 85.1l.5-81.3l.5 63.6l.5-58.6l.5 48.8l.5-57.1l.5 46.8l.5-59.7l.5 48.8l.5-66.2l.5 49.7l.5-68.3l.5 48.2l.5-66.7l.5 47.1l.5-64.4l.5 48.1l.5-67.5l.5 50.1l.5-70.9l.5 51.4l.5-66.1l.5 56.4l.5-69.8l.5 57.9l.5-72.2l.5 68.7l.5-76.9l.5 77l.5-85.5l.5 87.2l.5-82.3l.5 78.7l.5-64.6l.5 70.3l.5-61.1l.5 69.1l.5-53.9l.5 68.6l.5-52.3l.5 69.5l.5-49.6l.5 67.1l.5-47.9l.5 64.6l.5-44.2l.5 63.8l.5-46.1l.5 64.5l.5-48.7l.5 68.9l.5-52.2l.5 66.5l.5-58.4l.5 71.7l.5-60.4l.5 69l.5-65.8l.5 74.5l.5-75l.5 76.5l.5-77.9l.5 70.4l.5-72.1l.5 61.1l.5-69.2l.5 56.6l.5-68.8l.5 50.5l.5-65.6l.5 49.6l.5-68.3l.5 48.1l.5-64.9l.5 46.8l.5-66l.5 49.2l.5-67l.5 46.1l.5-64.2l.5 48.6l.5-67.8l.5 55l.5-68.7l.5 58.4l.5-66.3l.5 63.3l.5-74.5l.5 69.2l.5-70.3l.5 73.2l.5-70.9l.5 71.6l.5-63.8l.5 67.2l.5-55.5l.5 65.7l.5-51.9l.5 66.1l.5-50.5l.5 66.6l.5-45.6l.5 63.7l.5-47.9l.5 67.1l.5-45.1l.5 64.4l.5-47.1l.5 64.1l.5-48.7l.5 68.4l.5-51.5l.5 67.9l.5-55.8l.5 68.9l.5-62.2l.5 70.4l.5-68.3l.5 74.6l.5-70.8l.5 70.8l.5-72l.5 66.3l.5-71.6l.5 62.4l.5-70.8l.5 56.9l.5-66.6l.5 52.7l.5-67.4l.5 49.1l.5-67.7l.5 46.8l.5-63.2l.5 43.3l.5-64.3l.5 45.7l.5-62.4l.5 47.6l.5-67.7l.5 49.2l.5-64.2l.5 53l.5-70.2l.5 58.9l.5-68.9l.5 61.9l.5-67l.5 67.3l.5-71.5l.5 71.9l.5-70.3l.5 68.2l.5-58.6l.5 68.5l.5-60.3l.5 67.9l.5-51l.5 64.4l.5-48.4l.5 65.6l.5-47.1l.5 65.3l.5-45.2l.5 64.7l.5-45.8l.5 65.1l.5-48.8l.5 67.7l.5-51.8l.5 67.8l.5-52.1l.5 68.6l.5-55l.5 66.9l.5-61l.5 67.3l.5-61.3l.5 69.7l.5-67.8l.5 67.3l.5-71.3l.5 66.6l.5-69.2l.5 57.9l.5-64.9l.5 51.2l.5-65.8l.5 51.7l.5-66l.5 47.8l.5-61.8l.5 44.5l.5-65.1l.5 45.1l.5-64.7l.5 47.2l.5-66.9l.5 49.5l.5-65.7l.5 50.5l.5-69.2l.5 51.8l.5-63.1l.5 56.6l.5-67.1l.5 59.5l.5-66.2l.5 62.7l.5-67.4l.5 69.6l.5-67.4l.5 67.4l.5-58l.5 64.9l.5-55.2l.5 67.1l.5-51.6l.5 63.7l.5-47.5l.5 65.3l.5-48.9l.5 64.5l.5-44.4l.5 63.9l.5-46.3l.5 64.2l.5-44.6l.5 65.7l.5-48.1l.5 62.1l.5-45.9l.5 64.6l.5-56.4l.5 65.7l.5-57.1l.5 69.4l.5-62.4l.5 65.5l.5-65.8l.5 66.8l.5-67.4l.5 61.3l.5-63.6l.5 56.6l.5-67.9l.5 54.5l.5-64.9l.5 48.9l.5-63.6l.5 47.5l.5-65.2l.5 46.5l.5-65.1l.5 43l.5-64.5l.5 46.8l.5-64.3l.5 47.5l.5-64.3l.5 47.6l.5-65.6l.5 51.3l.5-63.2l.5 53.6l.5-66.6l.5 60.9l.5-65.4l.5 61.6l.5-66.1l.5 68.1l.5-66.2l.5 67.1l.5-59l.5 63.9l.5-50.4l.5 63.9l.5-53.1l.5 66.6l.5-48.5l.5 62.8l.5-46l.5 63.5l.5-45.4l.5 65.7l.5-44.4l.5 64.6l.5-45.8l.5 60.6l.5-46.5l.5 66.7l.5-51.8l.5 66.1l.5-51.2l.5 63.9l.5-54.9l.5 62.7l.5-60.4l.5 64.2l.5-63.1l.5 66.6l.5-66l.5 60.2l.5-66l.5 54.9l.5-62.8l.5 51.4l.5-62l.5 46.5l.5-61.5l.5 46.4l.5-63.4l.5 43.8l.5-63.9l.5 45.2l.5-63.9l.5 43.3l.5-61.7l.5 43.7l.5-61.4l.5 47.1l.5-64.1l.5 49.6l.5-64.9l.5 53.4l.5-63.8l.5 58.9l.5-65.5l.5 62.9l.5-66l.5 63.7l.5-61.9l.5 67.9l.5-59.8l.5 65.1l.5-53.2l.5 64l.5-49.2l.5 63l.5-49.8l.5 63.3l.5-44.9l.5 64.3l.5-44.9l.5 61.7l.5-42.8l.5 65.1l.5-46.1l.5 61.7l.5-43.4l.5 61.9l.5-47.8l.5 62.1l.5-49.1l.5 62.7l.5-53.4l.5 60.6l.5-57.7l.5 65.3l.5-65.2l.5 62.4l.5-60.4l.5 57.5l.5-64.9l.5 56.9l.5-65.3l.5 50.7l.5-63.2l.5 50.3l.5-63.8l.5 45.7l.5-62.5l.5 41.9l.5-61.2l.5 41.9l.5-60.6l.5 43.4l.5-61.7l.5 45.1l.5-65l.5 46.1l.5-61.6l.5 50.8l.5-63.4l.5 51.4l.5-62.4l.5 57.1l.5-65.9l.5 64.1l.5-67.1l.5 63.6l.5-59.3l.5 63.4l.5-57.7l.5 63.7l.5-51.5l.5 63.8l.5-51.7l.5 62.9l.5-45.5l.5 60.8l.5-41.6l.5 60.7l.5-44.5l.5 65.7l.5-43.1l.5 60.1l.5-43.7l.5 61.8l.5-44.5l.5 62l.5-47l.5 61.9l.5-47.6l.5 59.2l.5-51.2l.5 60.4l.5-56.6l.5 63.4l.5-64.4l.5 62.6l.5-60.3l.5 54l.5-61.7l.5 54.8l.5-60.2l.5 47.4l.5-59.7l.5 47l.5-63l.5 45.7l.5-64.5l.5 43.8l.5-61.3l.5 43.3l.5-62.4l.5 42.9l.5-63.4l.5 45.9l.5-61.9l.5 45.9l.5-61.6l.5 47.2l.5-60.2l.5 51.1l.5-61.4l.5 53.2l.5-62.3l.5 58.7l.5-61.9l.5 64.5l.5-59.2l.5 60.1l.5-55.6l.5 60.4l.5-46.7l.5 58l.5-47.1l.5 63.3l.5-47.5l.5 62.9l.5-43.7l.5 60.4l.5-40l.5 60.2l.5-42.6l.5 62.9l.5-43.2l.5 60.4l.5-43.1l.5 58.4l.5-43.9l.5 58.4l.5-45.4l.5 57.6l.5-48.9l.5 60l.5-55.2l.5 58.4l.5-59.5l.5 63.2l.5-63.4l.5 56.2l.5-59.2l.5 50.3l.5-60.2l.5 46.5l.5-59.1l.5 44.3l.5-57.6l.5 43l.5-61.2l.5 39.7l.5-60.1l.5 43.9l.5-60.3l.5 41.4l.5-63.4l.5 44.2l.5-59.9l.5 44.6l.5-61.4l.5 46.7l.5-61.6l.5 52.4l.5-62.1l.5 56.1l.5-63.3l.5 59.7l.5-65.8l.5 67.7l.5-61.3l.5 62.8l.5-54.1l.5 58.5l.5-47.9l.5 58.7l.5-47.4l.5 61.5l.5-45.4l.5 59.5l.5-40.6l.5 59.1l.5-39l.5 57.8l.5-40.7l.5 62.5l.5-44.4l.5 62.5l.5-42.2l.5 56.1l.5-41.7l.5 56.7l.5-45.6l.5 58l.5-49.4l.5 60.3l.5-56l.5 63.2l.5-67.5l.5 69.2l.5-66.8l.5 57.6l.5-62l.5 54.2l.5-62l.5 48.1l.5-57.7l.5 41.1l.5-55.3l.5 39.7l.5-58.8l.5 41.4l.5-58.5l.5 36.9l.5-55.7l.5 37.4l.5-58.2l.5 41.2l.5-59.5l.5 43.4l.5-58.6l.5 43.4l.5-57.8l.5 48.3l.5-57.5l.5 53.3l.5-64.9l.5 61.7l.5-61.8l.5 61.3l.5-61.5l.5 62.5l.5-50.9l.5 59.2l.5-48.8l.5 59l.5-43.7l.5 56.3l.5-41.7l.5 59.5l.5-41l.5 57.8l.5-38.1l.5 57.9l.5-41l.5 60.5l.5-42.6l.5 57.9l.5-37.8l.5 56l.5-42.7l.5 57.3l.5-46l.5 58.7l.5-48.8l.5 57.7l.5-54l.5 63.9l.5-63l.5 60.6l.5-63.5l.5 56l.5-59.5l.5 50.4l.5-58.2l.5 46.5l.5-57.2l.5 42.1l.5-57.3l.5 38.7l.5-56.8l.5 39.1l.5-57.4l.5 37.3l.5-54.5l.5 37.9l.5-59.5l.5 40.8l.5-55.7l.5 38.6l.5-54.6l.5 42.5l.5-56.9l.5 46.2l.5-58.6l.5 52.9l.5-60.2l.5 59.1l.5-62.1l.5 62.2l.5-58.6l.5 57.4l.5-48.6l.5 56l.5-44.7l.5 55.7l.5-44.1l.5 55.5l.5-40.4l.5 56.3l.5-35.9l.5 53.8l.5-36.1l.5 55.2l.5-37.3l.5 58l.5-38.3l.5 56.6l.5-38l.5 56.5l.5-41.3l.5 55.2l.5-44.7l.5 57.5l.5-49.1l.5 55l.5-49l.5 55l.5-54.5l.5 58.3l.5-59.4l.5 49.5l.5-54.7l.5 48.5l.5-56.8l.5 44.6l.5-54.7l.5 37.6l.5-54.6l.5 37.7l.5-54.5l.5 37.8l.5-57.3l.5 38.6l.5-57.2l.5 36.1l.5-53.1l.5 36.7l.5-55.5l.5 39.5l.5-55l.5 41.7l.5-55.7l.5 43.1l.5-55l.5 49.5l.5-57.7l.5 55.5l.5-58l.5 59.2l.5-53.3l.5 54.8l.5-48.8l.5 53.8l.5-43.4l.5 52.9l.5-39.7l.5 56.4l.5-41.4l.5 55.3l.5-37.2l.5 56.5l.5-37l.5 55.1l.5-35.8l.5 54l.5-34.7l.5 53.8l.5-36.7l.5 54.1l.5-37.4l.5 53.3l.5-41.8l.5 51.7l.5-43l.5 51.6l.5-48.6l.5 54.3l.5-53.4l.5 56.5l.5-58.2l.5 51.9l.5-56.1l.5 46.4l.5-52.2l.5 39.4l.5-53.9l.5 40.7l.5-54.9l.5 37l.5-54.6l.5 35.7l.5-55.6l.5 36.1l.5-52.9l.5 34.4l.5-53l.5 35.5l.5-53.3l.5 35.4l.5-50.8l.5 38.8l.5-52.5l.5 39.5l.5-50.6l.5 44.6l.5-52.5l.5 49.8l.5-52.3l.5 51.9l.5-48.7l.5 52.8l.5-46.3l.5 53.5l.5-43.8l.5 54.7l.5-38.8l.5 52.2l.5-36.4l.5 50.4l.5-35.2l.5 53.9l.5-35.5l.5 54.5l.5-33.9l.5 52.9l.5-35l.5 53.4l.5-35l.5 52l.5-37.5l.5 54l.5-41.2l.5 53.3l.5-43.3l.5 50.1l.5-47.4l.5 56l.5-54.2l.5 51l.5-52.8l.5 46.7l.5-49.8l.5 42.8l.5-50.4l.5 38.5l.5-51.9l.5 35.1l.5-49.5l.5 33.5l.5-51.1l.5 33.8l.5-52.2l.5 33.8l.5-53.1l.5 32.3l.5-50.9l.5 32.4l.5-51.5l.5 37l.5-53.3l.5 37.6l.5-50.2l.5 41l.5-51.9l.5 44.9l.5-51.3l.5 50.7l.5-54.4l.5 55.6l.5-55.2l.5 56l.5-46.8l.5 53l.5-42.7l.5 51.6l.5-35.9l.5 49.4l.5-33.4l.5 51.7l.5-36.6l.5 52.5l.5-31.3l.5 50l.5-31.8l.5 51.8l.5-34.7l.5 52.2l.5-33.4l.5 51.5l.5-35.9l.5 49.5l.5-37.9l.5 49.7l.5-41.2l.5 52.3l.5-47.4l.5 53.2l.5-52.9l.5 53l.5-53.5l.5 47.3l.5-52.5l.5 42.2l.5-49.9l.5 39.1l.5-51.5l.5 35.9l.5-49.9l.5 34.6l.5-53.1l.5 33.5l.5-53.2l.5 34.1l.5-52.3l.5 33.9l.5-52.1l.5 33.2l.5-49.6l.5 33.8l.5-49.2l.5 34.7l.5-48.3l.5 35.7l.5-46.2l.5 42.2l.5-53.4l.5 51.8l.5-53.9l.5 55.6l.5-51.8l.5 50.3l.5-43.4l.5 50.6l.5-38.9l.5 49.3l.5-35.4l.5 49.9l.5-32.8l.5 49.3l.5-32.8l.5 49.5l.5-31.8l.5 52.5l.5-32.9l.5 52.3l.5-32.9l.5 48.7l.5-30.8l.5 48.5l.5-34.8l.5 48l.5-34.6l.5 48.3l.5-40.1l.5 50.4l.5-44.8l.5 49.6l.5-51.6l.5 53l.5-53.8l.5 47.4l.5-49l.5 37.9l.5-45.5l.5 33.4l.5-46.3l.5 33.3l.5-49.9l.5 32.7l.5-50.6l.5 31.2l.5-48.4l.5 28.2l.5-47.7l.5 30.1l.5-48.1l.5 30.4l.5-48.8l.5 31.2l.5-47.8l.5 33.2l.5-44.8l.5 33.9l.5-43.9l.5 37.5l.5-46.4l.5 44.5l.5-47.5l.5 50l.5-48.4l.5 50.4l.5-40.3l.5 44.7l.5-35.7l.5 46.8l.5-34l.5 49.2l.5-32.1l.5 45.8l.5-29.7l.5 49.7l.5-30.2l.5 49l.5-28.8l.5 48.5l.5-30.8l.5 48.6l.5-29.7l.5 44.5l.5-29.9l.5 46l.5-32.5l.5 43.9l.5-35.2l.5 42.9l.5-38.7l.5 47.3l.5-47.2l.5 46.4l.5-46.6l.5 39l.5-44.6l.5 36.9l.5-45.6l.5 32.7l.5-44.6l.5 31.6l.5-46.1l.5 27.1l.5-45.9l.5 29l.5-47.4l.5 28.8l.5-46.1l.5 26.1l.5-46.2l.5 29.2l.5-45.2l.5 28l.5-45.1l.5 31.9l.5-45l.5 33.5l.5-43.7l.5 36.8l.5-44.9l.5 43.4l.5-43.6l.5 42.7l.5-40.7l.5 41.9l.5-34l.5 40l.5-30.4l.5 41.7l.5-29l.5 44.3l.5-28.5l.5 44.7l.5-27.3l.5 45.9l.5-28.1l.5 45.7l.5-24.4l.5 45l.5-28l.5 44.3l.5-25l.5 41.5l.5-27.1l.5 42l.5-28.4l.5 40.3l.5-31.8l.5 41.5l.5-36.5l.5 42.4l.5-42.9l.5 40.1l.5-41.2l.5 35.9l.5-39.2l.5 32.2l.5-41l.5 27.7l.5-41.5l.5 28l.5-42.3l.5 26.7l.5-45.7l.5 26.9l.5-44.4l.5 25.1l.5-44.6l.5 25.2l.5-43.1l.5 25.4l.5-44l.5 27.8l.5-43.4l.5 28.9l.5-39.8l.5 28.2l.5-38.5l.5 32.9l.5-39.7l.5 36.7l.5-41.4l.5 41l.5-37.7l.5 40.3l.5-33.9l.5 41l.5-29.1l.5 40.4l.5-29.1l.5 42.4l.5-26.7l.5 44.1l.5-25.7l.5 42.5l.5-23.1l.5 41.5l.5-24l.5 42.9l.5-22.8l.5 43.1l.5-26.5l.5 41.7l.5-25.6l.5 40.5l.5-27.1l.5 37.2l.5-29.8l.5 39.3l.5-32.6l.5 39.7l.5-39.3l.5 38.4l.5-39.5l.5 33.2l.5-38l.5 29.4l.5-38.9l.5 27.4l.5-40.6l.5 26.1l.5-41.4l.5 25l.5-42.4l.5 24.9l.5-42.3l.5 21.3l.5-40.1l.5 22.4l.5-41.9l.5 24.2l.5-42.2l.5 24l.5-38.8l.5 24.7l.5-38.5l.5 28.4l.5-37l.5 29.7l.5-39.5l.5 36.9l.5-39.5l.5 40.1l.5-37.4l.5 39.7l.5-31.1l.5 38.4l.5-28.3l.5 37.6l.5-24.1l.5 38.4l.5-21.9l.5 38.9l.5-20.9l.5 38.2l.5-20.4l.5 40.8l.5-21.5l.5 39l.5-19.7l.5 39.8l.5-23.4l.5 39.1l.5-24.3l.5 39.1l.5-26.1l.5 36.1l.5-26.7l.5 36.3l.5-31.8l.5 40.2l.5-40.6l.5 38.4l.5-38.5l.5 33.5l.5-38.5l.5 29.4l.5-37.7l.5 24.5l.5-36.4l.5 23.6l.5-39.9l.5 23.3l.5-40.1l.5 21.5l.5-39l.5 20.2l.5-39.4l.5 20.3l.5-39.5l.5 19.4l.5-36.5l.5 21l.5-36.6l.5 22.2l.5-36l.5 24.3l.5-34.4l.5 28.1l.5-36.8l.5 37l.5-39l.5 39.2l.5-36.7l.5 37.5l.5-28.1l.5 33.9l.5-23.2l.5 33.4l.5-22.2l.5 37.2l.5-20.4l.5 35.6l.5-19.5l.5 37.9l.5-18.4l.5 38.3l.5-17.9l.5 37.1l.5-19.2l.5 37.1l.5-19l.5 34.7l.5-20.6l.5 35.3l.5-22.8l.5 34.8l.5-25.4l.5 34.3l.5-31.3l.5 37.2l.5-37.1l.5 37.2l.5-35.6l.5 31.3l.5-34.9l.5 24.3l.5-34l.5 21.7l.5-34.2l.5 19.5l.5-34.7l.5 18.4l.5-36.4l.5 18.9l.5-37.4l.5 18.2l.5-36.6l.5 17.3l.5-36.1l.5 18.4l.5-35.9l.5 19.3l.5-34.9l.5 19.1l.5-32.3l.5 22.2l.5-31.8l.5 25.1l.5-34.8l.5 34.1l.5-37.7l.5 38l.5-33.9l.5 35.3l.5-27.4l.5 33.3l.5-20.9l.5 30.5l.5-18.2l.5 32.5l.5-17.4l.5 35.1l.5-17.9l.5 35l.5-16l.5 34.9l.5-15.8l.5 35.1l.5-16.6l.5 35.9l.5-17.8l.5 33.6l.5-18l.5 32.5l.5-20.5l.5 32.3l.5-22l.5 30.1l.5-26.8l.5 33.3l.5-33.1l.5 32.8l.5-33.2l.5 27.3l.5-31.4l.5 23l.5-31.2l.5 19.6l.5-31.5l.5 15.6l.5-32.1l.5 16.3l.5-33.3l.5 15.4l.5-33.2l.5 13.1l.5-32.8l.5 14.3l.5-33l.5 14l.5-31.1l.5 15.3l.5-31.4l.5 17.5l.5-31l.5 20.5l.5-29.4l.5 22.9l.5-30.8l.5 26.7l.5-30.6l.5 30.9l.5-27.7l.5 31.2l.5-23.6l.5 29.8l.5-19.1l.5 29.7l.5-16l.5 29.4l.5-14.9l.5 32.6l.5-14.4l.5 31.7l.5-13.3l.5 31.9l.5-13.2l.5 32.1l.5-12.3l.5 30.4l.5-13.9l.5 31.9l.5-15.5l.5 28.8l.5-16.4l.5 27.4l.5-18.5l.5 27.4l.5-22.8l.5 28.6l.5-28l.5 28l.5-28.9l.5 23.6l.5-27.2l.5 18.8l.5-28.7l.5 16l.5-27.4l.5 12.9l.5-28.3l.5 12.3l.5-30.3l.5 11.9l.5-31.4l.5 12.7l.5-30.6l.5 10.8l.5-30l.5 12.2l.5-29.3l.5 13.5l.5-29.7l.5 15.3l.5-27.3l.5 15.1l.5-25.2l.5 19.5l.5-26.4l.5 22.3l.5-25.5l.5 26.1l.5-23.2l.5 25.7l.5-18.7l.5 25.2l.5-14.5l.5 26.2l.5-14.4l.5 28.8l.5-12.5l.5 28l.5-10.1l.5 28.5l.5-9.8l.5 29.3l.5-10.5l.5 28.7l.5-9.9l.5 29.3l.5-12.3l.5 28.6l.5-13.3l.5 26.6l.5-13.7l.5 25.8l.5-15.6l.5 24.1l.5-20l.5 24.4l.5-23.3l.5 24.7l.5-25.8l.5 20.6l.5-25.4l.5 15.6l.5-24.3l.5 12.8l.5-25.4l.5 11.4l.5-26.3l.5 9.4l.5-27.4l.5 9.4l.5-27.5l.5 7.9l.5-27.1l.5 9.2l.5-28.3l.5 9.6l.5-26.5l.5 10.2l.5-25.6l.5 10.5l.5-24l.5 13.3l.5-23.5l.5 16.3l.5-22.7l.5 21.3l.5-25.1l.5 24.5l.5-21.5l.5 24.4l.5-17.1l.5 22.9l.5-12.5l.5 24.5l.5-11.8l.5 24.8l.5-9.3l.5 26.3l.5-8.2l.5 26.2l.5-7.8l.5 26.7l.5-8.1l.5 26.9l.5-7.6l.5 25.8l.5-8.6l.5 24.9l.5-8.7l.5 22.9l.5-10.6l.5 22.5l.5-12.7l.5 21.3l.5-17l.5 23.5l.5-22.8l.5 21.9l.5-22.9l.5 17l.5-21.2l.5 12.6l.5-22l.5 10.8l.5-23.3l.5 8.8l.5-24.7l.5 7.6l.5-24.5l.5 6.5l.5-24.9l.5 6.1l.5-25.7l.5 6.9l.5-25l.5 6.3l.5-24.3l.5 8.2l.5-23l.5 8.5l.5-22.2l.5 11.4l.5-21.3l.5 14.3l.5-21.8l.5 20l.5-22.4l.5 22.5l.5-20.3l.5 22.4l.5-14.1l.5 20.2l.5-9.7l.5 20.8l.5-8.3l.5 22l.5-6.5l.5 22.9l.5-4.9l.5 23.5l.5-5.4l.5 24.7l.5-4.9l.5 23.1l.5-4.7l.5 23l.5-5.3l.5 22.4l.5-6.7l.5 20.8l.5-8.8l.5 19.8l.5-10.4l.5 19.1l.5-15.3l.5 22.2l.5-21.1l.5 20l.5-20.8l.5 15.5l.5-19.5l.5 10.3l.5-19.7l.5 7.8l.5-20.3l.5 6.6l.5-22.2l.5 5l.5-22.3l.5 4.1l.5-22.6l.5 3.7l.5-22.5l.5 3.3l.5-22.1l.5 4.5l.5-21.6l.5 5.1l.5-20.6l.5 6.2l.5-19l.5 8.1l.5-18l.5 10.9l.5-19.2l.5 17.1l.5-19.7l.5 20.4l.5-16.8l.5 18.6l.5-11.7l.5 17.9l.5-7.8l.5 19l.5-5.6l.5 19.6l.5-4l.5 20.2l.5-2.8l.5 21.3l.5-3.1l.5 22.2l.5-3l.5 21.2l.5-1.9l.5 20.7l.5-3.8l.5 19.8l.5-4l.5 18.1l.5-5.3l.5 17l.5-8.5l.5 17.7l.5-13.1l.5 18.5l.5-17.6l.5 17.4l.5-18l.5 12.5l.5-16.7l.5 7.9l.5-17.3l.5 5l.5-17.4l.5 3.6l.5-18.9l.5 2l.5-19.2l.5 1.6l.5-20.3l.5 1.1l.5-20.4l.5 1.5l.5-20l.5 1.6l.5-18.7l.5 1.8l.5-17.6l.5 3.5l.5-15.8l.5 4.6l.5-15l.5 8.7l.5-15.8l.5 12.3l.5-15.3l.5 15.9l.5-12.1l.5 14.6l.5-8.2l.5 14.7l.5-4.4l.5 15.6l.5-2.6l.5 16.9l.5-1.2l.5 17.6l.5-.3l.5 18.5l.5 .2l.5 18.6l.5 .5l.5 18.1l.5 .8l.5 17.7l.5-.6l.5 16.6l.5-1.1l.5 15.3l.5-2.6l.5 14l.5-4.9l.5 13.4l.5-8.4l.5 12.9l.5-10.9l.5 11.3l.5-13l.5 8.3l.5-13l.5 4l.5-13.2l.5 1.8l.5-14.6l.5 .6l.5-16.3l.5-.3l.5-16.7l.5-1.2l.5-17.4l.5-1.5l.5-17.7l.5-1.6l.5-17l.5-1.3l.5-16.2l.5 0l.5-15.2l.5 1l.5-14l.5 2.9l.5-12.6l.5 4.9l.5-11.2l.5 8.2l.5-10.4l.5 10.5l.5-8.2l.5 11l.5-4.6l.5 12.3l.5-2.5l.5 13.1l.5-.1l.5 14.5l.5 .9l.5 15.7l.5 1.9l.5 15.7l.5 3l.5 16.2l.5 2.6l.5 16.2l.5 2.5l.5 15.9l.5 1.7l.5 14.3l.5 1l.5 13.5l.5-.9l.5 12l.5-2.5l.5 10.5l.5-5.3l.5 9.7l.5-8.1l.5 8.6l.5-9.8l.5 4.8l.5-10.2l.5 2.2l.5-11.4l.5-.2l.5-12.5l.5-1.7l.5-13.5l.5-2.7l.5-14.7l.5-3.8l.5-14.8l.5-3.8l.5-15.4l.5-3.7l.5-14.8l.5-3.4l.5-13.8l.5-2.7l.5-12.9l.5-1.3l.5-11.4l.5 .4l.5-9.9l.5 2.5l.5-9.3l.5 6l.5-8l.5 7.5l.5-5.1l.5 8.6l.5-2.2l.5 9.5l.5 .4l.5 10.8l.5 1.8l.5 12.2l.5 3.5l.5 12.9l.5 4.2l.5 13.9l.5 4.8l.5 14.2l.5 4.8l.5 13.9l.5 4.9l.5 13.3l.5 4.2l.5 12.1l.5 3.2l.5 11.1l.5 1.6l.5 9.7l.5-.2l.5 8.2l.5-2.9l.5 7.6l.5-6.2l.5 6l.5-7.6l.5 3.1l.5-8.1l.5-.1l.5-9.2l.5-2.3l.5-10.4l.5-3.7l.5-11.5l.5-5.1l.5-12.3l.5-5.9l.5-12.7l.5-6.2l.5-12.8l.5-6.2l.5-12.3l.5-5.7l.5-11.7l.5-4.8l.5-10.4l.5-3.7l.5-9.2l.5-1.9l.5-7.8l.5 .4l.5-6.7l.5 3.5l.5-6.1l.5 6l.5-3.4l.5 6.8l.5-.3l.5 7.4l.5 2.4l.5 8.6l.5 4.1l.5 10l.5 5.4l.5 11.1l.5 6.3l.5 11.7l.5 7l.5 11.8l.5 7.3l.5 11.5l.5 7.2l.5 10.9l.5 6.4l.5 10.1l.5 5.3l.5 8.7l.5 4l.5 7.3l.5 1.9l.5 6.4l.5-1l.5 5.5l.5-4l.5 3.9l.5-5.5l.5 .8l.5-5.8l.5-2.3l.5-7.1l.5-4.2l.5-8.5l.5-5.6l.5-9.7l.5-6.8l.5-10.6l.5-7.5l.5-11l.5-7.9l.5-11.1l.5-7.8l.5-10.8l.5-7.3l.5-10l.5-6.4l.5-8.9l.5-5.3l.5-7.6l.5-3.4l.5-6.2l.5-1.2l.5-5.1l.5 1.6l.5-4l.5 4l.5-1.7l.5 5.1l.5 1.3l.5 6.1l.5 3.7l.5 7.4l.5 5.3l.5 8.7l.5 6.7l.5 9.8l.5 7.6l.5 10.5l.5 8.1l.5 10.7l.5 8.3l.5 10.6l.5 8l.5 10.1l.5 7.2l.5 9.1l.5 6.3l.5 7.9l.5 4.8l.5 6.4l.5 2.9l.5 5.1l.5 .4l.5 3.9l.5-2.1l.5 2l.5-3.8l.5-.4l.5-5l.5-3.1l.5-6.3l.5-4.9l.5-7.7l.5-6.5l.5-8.8l.5-7.6l.5-9.8l.5-8.3l.5-10.3l.5-8.5l.5-10.4l.5-8.5l.5-10.1l.5-8l.5-9.3l.5-7.2l.5-8.2l.5-5.9l.5-6.8l.5-4.3l.5-5.2l.5-2.3l.5-3.9l.5 .3l.5-2.5l.5 2.4l.5-.1l.5 3.8l.5 2.3l.5 5.2l.5 4.4l.5 6.7l.5 6.1l.5 8l.5 7.3l.5 9.1l.5 8.3l.5 9.7l.5 8.8l.5 10.1l.5 8.9l.5 10l.5 8.6l.5 9.4l.5 7.9l.5 8.5l.5 6.8l.5 7.3l.5 5.4l.5 5.8l.5 3.6l.5 4.3l.5 1.3l.5 2.9l.5-1.1l.5 1.1l.5-2.9l.5-1.3l.5-4.3l.5-3.6l.5-5.8l.5-5.4l.5-7.3l.5-6.8l.5-8.5l.5-7.9l.5-9.5l.5-8.6l.5-9.9l.5-8.9l.5-10l.5-8.9l.5-9.7l.5-8.3l.5-9l.5-7.4l.5-8l.5-6.1l.5-6.6l.5-4.5l.5-5l.5-2.6l.5-3.5l.5-.2l.5-1.9l.5 1.9l.5 .2l.5 3.5l.5 2.6l.5 5l.5 4.6l.5 6.5l.5 6.1l.5 8l.5 7.4l.5 9l.5 8.3l.5 9.7l.5 8.8l.5 10.1l.5 8.9l.5 9.9l.5 8.6l.5 9.5l.5 7.8l.5 8.5l.5 6.9l.5 7.2l.5 5.5l.5 5.7l.5 3.6l.5 4.2l.5 1.5l.5 2.6l.5-.7l.5 .7l.5-2.6l.5-1.5l.5-4.2l.5-3.6l.5-5.8l.5-5.4l.5-7.2l.5-6.9l.5-8.5l.5-7.9l.5-9.4l.5-8.6l.5-9.9l.5-8.9l.5-10l.5-8.9l.5-9.7l.5-8.3l.5-9l.5-7.4l.5-7.9l.5-6.1l.5-6.6l.5-4.5l.5-5l.5-2.6l.5-3.4l.5-.4l.5-1.7l.5 1.7l.5 .4l.5 3.4l.5 2.6l.5 5l.5 4.5l.5 6.6l.5 6.1l.5 7.9l.5 7.5l.5 8.9l.5 8.3l.5 9.7l.5 8.9l.5 10l.5 8.9l.5 9.9l.5 8.6l.5 9.4l.5 7.9l.5 8.5l.5 6.8l.5 7.2l.5 5.5l.5 5.7l.5 3.6l.5 4.2l.5 1.5l.5 2.6l.5-.7l.5 .7l.5-2.6l.5-1.5l.5-4.2l.5-3.6l.5-5.8l.5-5.3l.5-7.3l.5-6.8l.5-8.5l.5-7.9l.5-9.4l.5-8.6l.5-9.9l.5-8.9l.5-10l.5-8.8l.5-9.7l.5-8.3l.5-9l.5-7.4l.5-7.9l.5-6.2l.5-6.5l.5-4.5l.5-5l.5-2.6l.5-3.5l.5-.2l.5-1.9l.5 1.9l.5 .3l.5 3.4l.5 2.6l.5 5l.5 4.5l.5 6.5l.5 6.2l.5 7.9l.5 7.4l.5 9l.5 8.3l.5 9.7l.5 8.7l.5 10.1l.5 8.9l.5 9.9l.5 8.6l.5 9.4l.5 7.9l.5 8.4l.5 6.8l.5 7.3l.5 5.4l.5 5.7l.5 3.7l.5 4.2l.5 1.4l.5 2.8l.5-1l.5 1l.5-2.8l.5-1.4l.5-4.3l.5-3.6l.5-5.8l.5-5.3l.5-7.3l.5-6.8l.5-8.4l.5-8l.5-9.3l.5-8.6l.5-9.9l.5-8.9l.5-10l.5-8.8l.5-9.7l.5-8.3l.5-9l.5-7.4l.5-7.9l.5-6.1l.5-6.5l.5-4.6l.5-5l.5-2.5l.5-3.6l.5 0l.5-2.1l.5 2l.5 .1l.5 3.7l.5 2.4l.5 5.1l.5 4.5l.5 6.5l.5 6.1l.5 8l.5 7.3l.5 9l.5 8.3l.5 9.7l.5 8.8l.5 10l.5 8.9l.5 9.9l.5 8.5l.5 9.4l.5 7.9l.5 8.5l.5 6.8l.5 7.2l.5 5.4l.5 5.8l.5 3.5l.5 4.3l.5 1.3l.5 2.9l.5-1.1l.5 1.2l.5-3l.5-1.3l.5-4.3l.5-3.5l.5-5.8l.5-5.4l.5-7.2l.5-6.8l.5-8.5l.5-7.9l.5-9.4l.5-8.6l.5-9.8l.5-8.9l.5-10l.5-8.8l.5-9.7l.5-8.3l.5-9l.5-7.3l.5-7.9l.5-6.1l.5-6.6l.5-4.5l.5-5l.5-2.5l.5-3.7l.5 .1l.5-2.2l.5 2.2l.5-.1l.5 3.7l.5 2.4l.5 5.1l.5 4.5l.5 6.5l.5 6.2l.5 7.9l.5 7.3l.5 9l.5 8.3l.5 9.7l.5 8.8l.5 10l.5 8.9l.5 9.8l.5 8.6l.5 9.4l.5 7.9l.5 8.5l.5 6.8l.5 7.2l.5 5.4l.5 5.8l.5 3.5l.5 4.3l.5 1.3l.5 2.9l.5-1.1l.5 1.1l.5-2.9l.5-1.3l.5-4.2l.5-3.6l.5-5.8l.5-5.4l.5-7.2l.5-6.8l.5-8.5l.5-7.9l.5-9.4l.5-8.6l.5-9.8l.5-8.9l.5-10l.5-8.8l.5-9.7l.5-8.3l.5-9l.5-7.3l.5-7.9l.5-6.1l.5-6.6l.5-4.5l.5-5l.5-2.5l.5-3.6l.5-.1l.5-2l.5 2l.5 .1l.5 3.6l.5 2.5l.5 5l.5 4.5l.5 6.5l.5 6.2l.5 7.9l.5 7.3l.5 9l.5 8.3l.5 9.7l.5 8.8l.5 10l.5 8.9l.5 9.8l.5 8.7l.5 9.3l.5 7.9l.5 8.5l.5 6.8l.5 7.2l.5 5.4l.5 5.8l.5 3.6l.5 4.2l.5 1.4l.5 2.7l.5-.8l.5 .8l.5-2.7l.5-1.4l.5-4.2l.5-3.7l.5-5.7l.5-5.4l.5-7.2l.5-6.8l.5-8.5l.5-7.9l.5-9.4l.5-8.5l.5-9.9l.5-8.9l.5-10l.5-8.8l.5-9.7l.5-8.3l.5-8.9l.5-7.4l.5-7.9l.5-6.1l.5-6.6l.5-4.5l.5-5l.5-2.6l.5-3.3l.5-.5l.5-1.6l.5 1.6l.5 .5l.5 3.3l.5 2.6l.5 5l.5 4.5l.5 6.6l.5 6.1l.5 7.9l.5 7.4l.5 8.9l.5 8.3l.5 9.7l.5 8.8l.5 10l.5 8.9l.5 9.9l.5 8.5l.5 9.4l.5 7.9l.5 8.5l.5 6.8l.5 7.2l.5 5.4l.5 5.8l.5 3.6l.5 4.2l.5 1.5l.5 2.5l.5-.6l.5 .6l.5-2.5l.5-1.6l.5-4.1l.5-3.7l.5-5.7l.5-5.4l.5-7.2l.5-6.8l.5-8.5l.5-7.9l.5-9.3l.5-8.7l.5-9.8l.5-8.9l.5-10l.5-8.8l.5-9.7l.5-8.3l.5-9l.5-7.3l.5-7.9l.5-6.2l.5-6.5l.5-4.5l.5-5l.5-2.6l.5-3.4l.5-.4l.5-1.7l.5 1.7l.5 .4l.5 3.4l.5 2.6l.5 5l.5 4.5l.5 6.6l.5 6.1l.5 7.9l.5 7.4l.5 8.9l.5 8.3l.5 9.7l.5 8.8l.5 10l.5 8.9l.5 9.9l.5 8.5l.5 9.4l.5 7.9l.5 8.5l.5 6.8l.5 7.2l.5 5.4l.5 5.8l.5 3.6l.5 4.1l.5 1.5l.5 2.6l.5-.7l.5 .8l.5-2.6l.5-1.6l.5-4.1l.5-3.7l.5-5.7l.5-5.4l.5-7.2l.5-6.8l.5-8.5l.5-7.9l.5-9.3l.5-8.6l.5-9.9l.5-8.9l.5-10l.5-8.8l.5-9.7l.5-8.3l.5-8.9l.5-7.4l.5-7.9l.5-6.1l.5-6.6l.5-4.5l.5-5l.5-2.6l.5-3.4l.5-.2l.5-1.9l.5 1.8l.5 .3l.5 3.5l.5 2.5l.5 5l.5 4.5l.5 6.5l.5 6.2l.5 7.9l.5 7.4l.5 8.9l.5 8.3l.5 9.7l.5 8.8l.5 10l.5 8.9l.5 9.8l.5 8.6l.5 9.4l.5 7.9l.5 8.5l.5 6.8l.5 7.2l.5 5.4l.5 5.7l.5 3.7l.5 4.2l.5 1.4l.5 2.8l.5-1l.5 1l.5-2.9l.5-1.3l.5-4.2l.5-3.6l.5-5.8l.5-5.4l.5-7.2l.5-6.8l.5-8.5l.5-7.9l.5-9.3l.5-8.6l.5-9.9l.5-8.9l.5-10l.5-8.8l.5-9.7l.5-8.3l.5-9l.5-7.3l.5-7.9l.5-6.2l.5-6.5l.5-4.5l.5-5l.5-2.5l.5-3.6l.5-.1l.5-2l.5 2l.5 .1l.5 3.6l.5 2.5l.5 5l.5 4.5l.5 6.6l.5 6.1l.5 7.9l.5 7.4l.5 8.9l.5 8.3l.5 9.7l.5 8.8l.5 10l.5 8.9l.5 9.9l.5 8.5l.5 9.4l.5 7.9l.5 8.5l.5 6.8l.5 7.2l.5 5.4l.5 5.8l.5 3.6l.5 4.2l.5 1.4l.5 2.8l.5-1.1l.5 1.1" stroke="#7E2F8E"/>
<path d="M371.5 532.5l.5 2.3l.5-21.5l.5 36.8l.5-28.2l.5 47.6l.5-31.9l.5 51.4l.5-30.9l.5 49.7l.5-30.9l.5 49.2l.5-32.7l.5 50l.5-35l.5 49.9l.5-38.8l.5 50.5l.5-43.6l.5 50.9l.5-45l.5 51.2l.5-51l.5 50.3l.5-53.7l.5 48.1l.5-50.8l.5 38.6l.5-49.4l.5 37.6l.5-51.1l.5 34.4l.5-49l.5 30.8l.5-48.4l.5 29.6l.5-50.8l.5 31.6l.5-50.6l.5 29.1l.5-48.7l.5 29.8l.5-49l.5 32.3l.5-49.8l.5 37.2l.5-51.2l.5 40.5l.5-51.5l.5 44.8l.5-51.5l.5 48.5l.5-52.6l.5 49.4l.5-46.3l.5 48.8l.5-42.3l.5 49l.5-37.4l.5 45.7l.5-33.3l.5 47l.5-30.6l.5 47.1l.5-29.2l.5 48.3l.5-30.7l.5 48.6l.5-29.3l.5 47.5l.5-26.6l.5 45.1l.5-30.7l.5 47l.5-31.1l.5 45.9l.5-35.1l.5 49.2l.5-39.8l.5 47.1l.5-44.1l.5 52.2l.5-51.5l.5 50.4l.5-50.6l.5 42.5l.5-48.1l.5 40l.5-47.6l.5 34.5l.5-48.2l.5 32.4l.5-46.2l.5 28.5l.5-45.9l.5 25.6l.5-45.6l.5 26.5l.5-46.2l.5 27.1l.5-46.4l.5 27.5l.5-46.3l.5 30.4l.5-46.6l.5 30.4l.5-46.6l.5 35.7l.5-44.6l.5 39.4l.5-47.6l.5 45l.5-48.1l.5 48.7l.5-45.5l.5 46.2l.5-39.5l.5 46.2l.5-34.4l.5 44l.5-30.2l.5 42.4l.5-27.6l.5 44.5l.5-25.8l.5 44.4l.5-24.2l.5 42.7l.5-24.2l.5 42.1l.5-22.8l.5 43.3l.5-26.2l.5 41.7l.5-28.4l.5 44.1l.5-30.4l.5 43.9l.5-37.4l.5 46.9l.5-42.6l.5 46.2l.5-45.1l.5 46.9l.5-46.8l.5 38.9l.5-44.2l.5 36.7l.5-44.3l.5 30.5l.5-44.7l.5 28.6l.5-42.8l.5 24.2l.5-41.4l.5 23.7l.5-42.2l.5 21.8l.5-40.5l.5 21.4l.5-42.3l.5 22.2l.5-40.9l.5 25.4l.5-42.5l.5 29l.5-41.6l.5 31.5l.5-45.2l.5 38.5l.5-45.9l.5 45.2l.5-46.6l.5 45.6l.5-44.8l.5 48l.5-40.8l.5 46.5l.5-33.8l.5 41.4l.5-27.5l.5 42.2l.5-24.2l.5 38.4l.5-19.7l.5 38.3l.5-19.5l.5 39.1l.5-19.6l.5 38.1l.5-19.9l.5 39.5l.5-22.2l.5 40.3l.5-25.3l.5 39.7l.5-28.3l.5 41.8l.5-33.6l.5 43l.5-40.4l.5 45.6l.5-43.5l.5 44.7l.5-44.7l.5 38.6l.5-43.1l.5 34.2l.5-43.8l.5 29.4l.5-41.7l.5 24.9l.5-37.5l.5 19.8l.5-37.7l.5 19.6l.5-39.5l.5 19.2l.5-38.1l.5 18.7l.5-37.7l.5 18.3l.5-38.1l.5 22.1l.5-38.1l.5 26.4l.5-40.3l.5 29.7l.5-43.4l.5 37.1l.5-43.2l.5 41.9l.5-44.3l.5 42.7l.5-41l.5 43l.5-34l.5 40.8l.5-31.2l.5 40.4l.5-24.5l.5 37.5l.5-19.9l.5 36.8l.5-18.7l.5 35.2l.5-17.3l.5 37.5l.5-17.6l.5 37.2l.5-16.9l.5 36l.5-20.1l.5 37.6l.5-23.4l.5 39.1l.5-26.4l.5 38.7l.5-31.2l.5 42.5l.5-40.3l.5 44.7l.5-43.2l.5 42.5l.5-43.5l.5 37.6l.5-40.9l.5 32l.5-40.8l.5 26.5l.5-37.8l.5 23.4l.5-37.8l.5 19.3l.5-35.8l.5 16.3l.5-35.7l.5 15.9l.5-34.2l.5 14.8l.5-34.4l.5 16.2l.5-34.4l.5 18.9l.5-36.1l.5 22.4l.5-38.5l.5 29.8l.5-40.2l.5 31.9l.5-41.3l.5 41.2l.5-42.6l.5 43.3l.5-39.9l.5 41.4l.5-35.1l.5 39l.5-25.7l.5 36.7l.5-23.8l.5 36.5l.5-19.2l.5 34.9l.5-16.2l.5 34.9l.5-15l.5 34l.5-14.3l.5 33l.5-13.7l.5 32.8l.5-15.5l.5 32.6l.5-20l.5 35.9l.5-22.4l.5 36.3l.5-29.1l.5 37.9l.5-36.2l.5 44.5l.5-42.6l.5 40.4l.5-41.4l.5 35.8l.5-38.7l.5 27.8l.5-36.5l.5 24.9l.5-35.7l.5 19.5l.5-34.8l.5 16.6l.5-32.9l.5 13.4l.5-31.3l.5 12.3l.5-32.9l.5 14l.5-33.2l.5 14.3l.5-31.3l.5 16.5l.5-34.4l.5 21.7l.5-36.4l.5 25.8l.5-36.1l.5 29.6l.5-38.8l.5 36.9l.5-41.6l.5 41.6l.5-37.7l.5 40.2l.5-30.4l.5 36.1l.5-24.2l.5 33.1l.5-20.1l.5 33.6l.5-16.3l.5 32.3l.5-12.8l.5 29.5l.5-10.5l.5 30.4l.5-11.4l.5 30.6l.5-12.3l.5 31.1l.5-14.5l.5 31.1l.5-16.4l.5 32.5l.5-21.3l.5 35.4l.5-26.8l.5 36.2l.5-32.3l.5 39.6l.5-39.6l.5 37.4l.5-37.6l.5 32.7l.5-37.1l.5 26.6l.5-34.6l.5 20.6l.5-30.9l.5 15.4l.5-29.7l.5 12.6l.5-30l.5 10.5l.5-28.7l.5 9.2l.5-27.9l.5 8.7l.5-28.4l.5 10.6l.5-28.9l.5 13.2l.5-30.4l.5 17.9l.5-30.9l.5 22.4l.5-34.7l.5 27.3l.5-35.5l.5 36.4l.5-40.7l.5 39.4l.5-36.3l.5 37.7l.5-28.5l.5 33.4l.5-21.5l.5 32.2l.5-16.9l.5 28.9l.5-12.3l.5 28l.5-10.3l.5 28.2l.5-8.4l.5 26.5l.5-7.5l.5 27.2l.5-9.2l.5 27.4l.5-10.9l.5 28.4l.5-13.6l.5 29.8l.5-19.3l.5 31.3l.5-23.7l.5 33.6l.5-29.2l.5 36.9l.5-38.7l.5 38.9l.5-36.8l.5 29l.5-34.1l.5 24.9l.5-32.1l.5 18.6l.5-28.5l.5 12.8l.5-27.8l.5 9.3l.5-25.7l.5 7.7l.5-26.1l.5 6.5l.5-26l.5 6.8l.5-25l.5 7.5l.5-26.1l.5 11.1l.5-27.6l.5 14.5l.5-28.1l.5 18.4l.5-30.4l.5 24.9l.5-33.4l.5 31.9l.5-37.3l.5 37l.5-31.7l.5 33.6l.5-25.8l.5 31.1l.5-18.3l.5 28.1l.5-14.5l.5 27l.5-10.5l.5 26.1l.5-7.7l.5 25.5l.5-5.6l.5 24l.5-4.9l.5 24.2l.5-6.3l.5 24.3l.5-7.3l.5 25.4l.5-11.2l.5 27.1l.5-15.3l.5 26.9l.5-19.2l.5 30.7l.5-27.9l.5 33.6l.5-33.2l.5 34.8l.5-35.5l.5 28.4l.5-30.9l.5 19.6l.5-28.3l.5 15.3l.5-25.4l.5 9.1l.5-23.3l.5 6.3l.5-23.7l.5 5.1l.5-22.9l.5 3.6l.5-22.4l.5 3.2l.5-22.2l.5 4.6l.5-23.5l.5 7.7l.5-24.1l.5 12l.5-26.6l.5 15.9l.5-26.8l.5 22l.5-32.3l.5 32l.5-34.8l.5 33.7l.5-30.1l.5 31.3l.5-21.7l.5 27l.5-14.8l.5 25l.5-11.6l.5 23.5l.5-7l.5 22.8l.5-4.1l.5 21.8l.5-2.9l.5 21.5l.5-2.5l.5 22.1l.5-3.2l.5 21.3l.5-4.6l.5 22.4l.5-8l.5 23.1l.5-12.7l.5 25.5l.5-18.1l.5 28.7l.5-26.4l.5 34.9l.5-35.4l.5 34.2l.5-33.2l.5 25.2l.5-27.7l.5 17.9l.5-24.6l.5 11.3l.5-22.8l.5 8l.5-22.2l.5 4.5l.5-21.1l.5 2.5l.5-21.4l.5 2.1l.5-20.7l.5 1.6l.5-20.9l.5 3l.5-20.4l.5 4.6l.5-21.7l.5 8.8l.5-22.7l.5 13.9l.5-25.6l.5 19.9l.5-30.3l.5 29.4l.5-32.1l.5 32l.5-29.2l.5 30.3l.5-20.1l.5 24.8l.5-12.9l.5 22.8l.5-8.3l.5 21.6l.5-5l.5 20.3l.5-2l.5 19.4l.5-.8l.5 19.5l.5-.2l.5 19.1l.5-.6l.5 19.4l.5-3l.5 20l.5-5.5l.5 21.4l.5-10.4l.5 23.7l.5-16.2l.5 25.5l.5-22.3l.5 29.3l.5-29.9l.5 31.9l.5-31.7l.5 23.2l.5-26.3l.5 16.4l.5-23.1l.5 9.9l.5-21.4l.5 6.1l.5-20l.5 1.9l.5-18.9l.5 .3l.5-18.7l.5-.2l.5-18.5l.5-.4l.5-19.1l.5 1.6l.5-19l.5 3.1l.5-19.9l.5 7l.5-21.2l.5 12.2l.5-23.3l.5 17l.5-26.1l.5 26.1l.5-30.5l.5 31.5l.5-26.8l.5 25.8l.5-16.7l.5 21.7l.5-10.8l.5 20.5l.5-6.5l.5 19.7l.5-2.5l.5 18.3l.5-.6l.5 18.5l.5 .3l.5 18.2l.5 1.2l.5 17.8l.5 .2l.5 18.1l.5-.7l.5 17.9l.5-4l.5 19.4l.5-8.2l.5 20.7l.5-12.3l.5 22.7l.5-19.9l.5 26.9l.5-26.8l.5 28l.5-28.7l.5 20.6l.5-23.4l.5 13.4l.5-20.5l.5 7.2l.5-18.9l.5 3.7l.5-17.8l.5 .6l.5-17.4l.5-1.2l.5-17l.5-2.3l.5-17.1l.5-1.7l.5-16.6l.5-.9l.5-17.5l.5 1.7l.5-18l.5 5.3l.5-19l.5 9.3l.5-21l.5 15.8l.5-24.5l.5 24.5l.5-28.4l.5 27.7l.5-23.3l.5 23l.5-14.1l.5 19.5l.5-8.6l.5 18.5l.5-4l.5 16.8l.5-.9l.5 16.8l.5 1.5l.5 16.2l.5 2.4l.5 16.2l.5 3.2l.5 16.1l.5 2.2l.5 16.2l.5 .3l.5 16.7l.5-2.2l.5 17.5l.5-5.7l.5 18.4l.5-10.7l.5 21.3l.5-19l.5 24.8l.5-23.5l.5 23.5l.5-24.9l.5 18.1l.5-20.6l.5 11.2l.5-18.4l.5 5.2l.5-16.5l.5 1.1l.5-15.7l.5-1.1l.5-15.8l.5-2.8l.5-15.4l.5-3.6l.5-15.5l.5-3.5l.5-15.3l.5-2.4l.5-15.6l.5 0l.5-16l.5 2.8l.5-17.1l.5 6.8l.5-17.6l.5 12.6l.5-22.3l.5 20.6l.5-24.3l.5 24.9l.5-20.8l.5 22.4l.5-13.1l.5 18l.5-6.8l.5 16.4l.5-2.5l.5 15.8l.5 .6l.5 15l.5 2.8l.5 15l.5 3.8l.5 14.9l.5 3.9l.5 15.2l.5 3.3l.5 15.1l.5 1.9l.5 15l.5-.4l.5 15.7l.5-4.2l.5 16.2l.5-8.6l.5 19l.5-15.9l.5 22.4l.5-22.2l.5 21.5l.5-21.3l.5 15.3l.5-18.7l.5 8.5l.5-16l.5 3.7l.5-15.4l.5 .1l.5-14.7l.5-2.4l.5-14.4l.5-4l.5-14.1l.5-4.8l.5-14.2l.5-4.7l.5-14.3l.5-3.2l.5-14.5l.5-1.5l.5-14.7l.5 1.7l.5-15l.5 4.7l.5-16.3l.5 10.9l.5-18.6l.5 16.9l.5-21.5l.5 21l.5-17.4l.5 19l.5-10l.5 15.8l.5-4.9l.5 15.3l.5-1.2l.5 14.2l.5 2l.5 14l.5 3.7l.5 13.8l.5 5l.5 13.8l.5 5.1l.5 14l.5 4.5l.5 13.6l.5 3.1l.5 14.2l.5 .4l.5 14l.5-1.8l.5 14.1l.5-6.1l.5 15.9l.5-12.2l.5 18.3l.5-17.9l.5 18.6l.5-20l.5 13.6l.5-16.7l.5 6.6l.5-14.2l.5 2l.5-13.9l.5-1l.5-13.8l.5-3.4l.5-13.4l.5-4.9l.5-13.5l.5-5.2l.5-13.7l.5-5.3l.5-13.4l.5-4.5l.5-13.1l.5-2.7l.5-13.4l.5-.2l.5-13.1l.5 3.2l.5-14.6l.5 8.9l.5-17l.5 15.6l.5-18.9l.5 18l.5-14.1l.5 16.3l.5-8.2l.5 13.7l.5-2.7l.5 13l.5 .2l.5 13.2l.5 2.8l.5 12.9l.5 5l.5 12.8l.5 5.7l.5 13.3l.5 5.8l.5 13.2l.5 5.1l.5 12.9l.5 4.3l.5 12.6l.5 2l.5 12.7l.5-.5l.5 12.6l.5-4.4l.5 13.8l.5-10.9l.5 16.8l.5-15.7l.5 16.1l.5-16.5l.5 10.2l.5-14l.5 4.6l.5-12.3l.5 .2l.5-12.3l.5-2.6l.5-12.4l.5-4.3l.5-12.7l.5-5.6l.5-12.7l.5-6.4l.5-12.6l.5-6.2l.5-12.4l.5-5.5l.5-12.2l.5-3.7l.5-12.2l.5-1.5l.5-11.7l.5 1.4l.5-12.3l.5 6.2l.5-14.4l.5 13.4l.5-16.7l.5 15.9l.5-12.1l.5 14.1l.5-5.7l.5 11.8l.5-1.4l.5 11.5l.5 1.8l.5 11.8l.5 4.1l.5 11.8l.5 5.8l.5 12.2l.5 6.3l.5 12.4l.5 6.8l.5 12l.5 6.4l.5 11.8l.5 5.1l.5 11.8l.5 3.3l.5 11l.5 1l.5 11l.5-2.7l.5 11.8l.5-7.7l.5 13.8l.5-13.5l.5 13.8l.5-14l.5 8l.5-11.7l.5 1.8l.5-10.5l.5-1.3l.5-10.6l.5-3.9l.5-11.2l.5-5.5l.5-11.5l.5-6.7l.5-11.8l.5-6.9l.5-12l.5-6.8l.5-11.7l.5-6.4l.5-11.1l.5-5l.5-10.5l.5-3.1l.5-10.1l.5-.5l.5-10.2l.5 4.3l.5-12.4l.5 10.2l.5-13.4l.5 13.6l.5-9.8l.5 11.7l.5-3.9l.5 9.8l.5 .7l.5 10l.5 3l.5 10.6l.5 5.1l.5 11l.5 6.4l.5 11.4l.5 7.3l.5 11.5l.5 7.4l.5 11.5l.5 7l.5 11.2l.5 5.8l.5 10.8l.5 4.2l.5 10.2l.5 2.2l.5 9.4l.5-.9l.5 9.8l.5-5.7l.5 11.5l.5-10.5l.5 10.5l.5-11.5l.5 5.6l.5-9.8l.5 1.1l.5-9.6l.5-2.3l.5-9.9l.5-4.4l.5-10.6l.5-6.1l.5-11l.5-7.1l.5-11.3l.5-7.6l.5-11.3l.5-7.5l.5-11.2l.5-6.6l.5-10.8l.5-5.4l.5-10.1l.5-3.7l.5-9.3l.5-1.2l.5-9.1l.5 2.8l.5-10.3l.5 7.6l.5-10.2l.5 10.2l.5-7.3l.5 9.7l.5-2.3l.5 8.8l.5 1.4l.5 9.1l.5 3.8l.5 10.1l.5 5.6l.5 10.6l.5 6.7l.5 11.1l.5 7.6l.5 11.2l.5 7.7l.5 11.1l.5 7.2l.5 11l.5 6.3l.5 10.2l.5 4.8l.5 9.3l.5 3.1l.5 8.5l.5 .4l.5 8.2l.5-3.7l.5 9l.5-7.7l.5 7.9l.5-9.3l.5 3.9l.5-8.4l.5-.3l.5-8.5l.5-3.1l.5-9.2l.5-5.1l.5-10l.5-6.5l.5-10.7l.5-7.3l.5-11l.5-7.9l.5-11l.5-7.7l.5-10.9l.5-7l.5-10.4l.5-5.9l.5-9.5l.5-4.3l.5-8.5l.5-2.3l.5-7.7l.5 .9l.5-8l.5 5l.5-7.6l.5 7.4l.5-4.6l.5 7.5l.5-.5l.5 7.5l.5 2.4l.5 8.5l.5 4.3l.5 9.5l.5 6.1l.5 10.1l.5 7.2l.5 10.7l.5 7.8l.5 11l.5 7.9l.5 10.9l.5 7.6l.5 10.4l.5 6.7l.5 9.8l.5 5.3l.5 8.8l.5 3.7l.5 7.6l.5 1.5l.5 7l.5-1.9l.5 6.4l.5-5.1l.5 5l.5-6.4l.5 1.8l.5-6.8l.5-1.4l.5-7.7l.5-3.8l.5-8.6l.5-5.5l.5-9.7l.5-6.9l.5-10.2l.5-7.7l.5-10.7l.5-8.2l.5-10.7l.5-8l.5-10.5l.5-7.4l.5-9.9l.5-6.4l.5-9l.5-4.9l.5-7.8l.5-3l.5-6.7l.5-.7l.5-5.8l.5 2.5l.5-4.7l.5 4.7l.5-2.4l.5 5.7l.5 .8l.5 6.5l.5 3.2l.5 7.7l.5 5.1l.5 8.7l.5 6.6l.5 9.7l.5 7.6l.5 10.4l.5 8l.5 10.7l.5 8.2l.5 10.5l.5 8l.5 10l.5 7.1l.5 9.3l.5 6l.5 8.1l.5 4.4l.5 6.9l.5 2.3l.5 5.6l.5-.1l.5 4.3l.5-2.5l.5 2.4l.5-4.2l.5-.1l.5-5.3l.5-2.6l.5-6.6l.5-4.6l.5-7.9l.5-6.1l.5-9.1l.5-7.4l.5-9.9l.5-8l.5-10.4l.5-8.4l.5-10.4l.5-8.3l.5-10.2l.5-7.8l.5-9.5l.5-6.7l.5-8.5l.5-5.5l.5-7.3l.5-3.7l.5-5.9l.5-1.5l.5-4.7l.5 1.2l.5-3.2l.5 3.2l.5-1.1l.5 4.6l.5 1.6l.5 5.8l.5 3.8l.5 7.2l.5 5.4l.5 8.6l.5 6.7l.5 9.6l.5 7.8l.5 10.1l.5 8.3l.5 10.4l.5 8.4l.5 10.3l.5 8.2l.5 9.8l.5 7.4l.5 8.9l.5 6.2l.5 7.9l.5 4.7l.5 6.4l.5 2.9l.5 5.1l.5 .4l.5 3.8l.5-2l.5 2.1l.5-4l.5-.3l.5-5.2l.5-2.8l.5-6.4l.5-4.7l.5-7.8l.5-6.3l.5-8.9l.5-7.5l.5-9.7l.5-8.2l.5-10.2l.5-8.6l.5-10.2l.5-8.5l.5-10l.5-7.9l.5-9.3l.5-6.9l.5-8.4l.5-5.6l.5-7l.5-4l.5-5.6l.5-1.8l.5-4.4l.5 .8l.5-2.9l.5 2.9l.5-.8l.5 4.3l.5 1.9l.5 5.6l.5 4l.5 7l.5 5.6l.5 8.3l.5 7l.5 9.3l.5 7.9l.5 10l.5 8.5l.5 10.2l.5 8.6l.5 10.1l.5 8.4l.5 9.5l.5 7.6l.5 8.7l.5 6.5l.5 7.6l.5 4.9l.5 6.3l.5 3.1l.5 4.7l.5 .7l.5 3.6l.5-1.7l.5 1.7l.5-3.5l.5-.8l.5-4.8l.5-3.1l.5-6.1l.5-5.1l.5-7.5l.5-6.5l.5-8.7l.5-7.6l.5-9.5l.5-8.4l.5-10l.5-8.7l.5-10.1l.5-8.7l.5-9.8l.5-8.1l.5-9l.5-7.2l.5-8.1l.5-5.9l.5-6.8l.5-4.2l.5-5.3l.5-2.1l.5-3.9l.5 .3l.5-2.5l.5 2.5l.5-.3l.5 3.9l.5 2.1l.5 5.3l.5 4.3l.5 6.7l.5 5.9l.5 8.1l.5 7.2l.5 9l.5 8.2l.5 9.7l.5 8.7l.5 10l.5 8.8l.5 9.9l.5 8.5l.5 9.4l.5 7.8l.5 8.5l.5 6.7l.5 7.3l.5 5.2l.5 5.9l.5 3.4l.5 4.5l.5 1.1l.5 2.9l.5-1l.5 1l.5-2.9l.5-1.2l.5-4.4l.5-3.4l.5-5.9l.5-5.3l.5-7.2l.5-6.7l.5-8.5l.5-7.8l.5-9.4l.5-8.5l.5-9.9l.5-8.8l.5-10l.5-8.7l.5-9.6l.5-8.3l.5-8.9l.5-7.4l.5-7.8l.5-6.1l.5-6.5l.5-4.6l.5-4.9l.5-2.5l.5-3.5l.5-.3l.5-1.7l.5 1.7l.5 .3l.5 3.5l.5 2.5l.5 5l.5 4.5l.5 6.4l.5 4.4l.5 15.7l.5-7.7l.5 29.4l.5-16.2l.5 37.4l.5-23.8l.5 46.5l.5-32.2l.5 56l.5-43l.5 65.9l.5-47.6l.5 66.6l.5-55.5l.5 70.2l.5-59.7l.5 72.6l.5-65.9l.5 78.2l.5-75.2l.5 84.8l.5-90l.5 93.3l.5-88.3l.5 76l.5-77.8l.5 66.5l.5-73.5l.5 58.7l.5-67.2l.5 50.4l.5-66.6l.5 50.5l.5-65.6l.5 45.1l.5-63.4l.5 44.4l.5-64.9l.5 47l.5-65.1l.5 49.3l.5-70.3l.5 52l.5-64.9l.5 50.8l.5-67.3l.5 58.1l.5-68.5l.5 66.5l.5-75.9l.5 75.5l.5-79.3l.5 77.4l.5-73.3l.5 72.9l.5-65.7l.5 72l.5-57.6l.5 67.2l.5-52.7l.5 67l.5-54.1l.5 67l.5-46.7l.5 64.2l.5-45.3l.5 64.9l.5-47.8l.5 66.8l.5-47.9l.5 68.5l.5-51.2l.5 70l.5-53.2l.5 66.2l.5-55.4l.5 69.8l.5-64l.5 72.4l.5-68.3l.5 75.6l.5-72.4l.5 74.7l.5-75.5l.5 67.1l.5-72.4l.5 64l.5-69.3l.5 52.9l.5-64l.5 48.4l.5-65.7l.5 50.9l.5-66.2l.5 46l.5-66.8l.5 47.8l.5-66.3l.5 46.1l.5-63.5l.5 45.8l.5-66.2l.5 49.8l.5-65.9l.5 53.6l.5-65.5l.5 57l.5-71.3l.5 65l.5-72.8l.5 70.1l.5-71.5l.5 72.6l.5-67.5l.5 66.6l.5-62.7l.5 70.1l.5-57.6l.5 68.4l.5-53.2l.5 67.3l.5-51l.5 65.1l.5-46.4l.5 65.6l.5-46.5l.5 64.6l.5-45l.5 62.9l.5-43.6l.5 64l.5-48.1l.5 67.3l.5-52.4l.5 67.3l.5-58.4l.5 68.4l.5-58.5l.5 66.6l.5-64.9l.5 71.5l.5-70.2l.5 73.3l.5-74.4l.5 68.1l.5-68.4l.5 58.8l.5-70.3l.5 56.9l.5-66.4l.5 50.5l.5-66.7l.5 50.1l.5-64.9l.5 47.5l.5-67.3l.5 46.5l.5-63.6l.5 43.2l.5-63.9l.5 49l.5-67l.5 49.2l.5-65.9l.5 53.5l.5-67.8l.5 54.6l.5-67.1l.5 64.5l.5-68.9l.5 67.4l.5-70.6l.5 68.9l.5-68.7l.5 68.9l.5-59.6l.5 66.4l.5-55.4l.5 66.6l.5-52.1l.5 65.6l.5-50.5l.5 66.3l.5-48.6l.5 68l.5-47.5l.5 63l.5-43.7l.5 66.2l.5-49.8l.5 68.1l.5-50.9l.5 66.8l.5-50.6l.5 64.6l.5-50.7l.5 64.5l.5-57.9l.5 68.8l.5-65.1l.5 68.2l.5-65.3l.5 63.7l.5-67.1l.5 64.3l.5-69.3l.5 59.6l.5-67.8l.5 56.6l.5-68.4l.5 53.8l.5-67.9l.5 50.1l.5-66.5l.5 45.6l.5-64.8l.5 45.6l.5-64.5l.5 46.8l.5-66.2l.5 45.9l.5-62.6l.5 49.8l.5-64.3l.5 51.5l.5-66l.5 53.2l.5-65.5l.5 59.7l.5-68.5l.5 64.9l.5-66.4l.5 64.7l.5-59.6l.5 65.4l.5-57.9l.5 65.2l.5-57.3l.5 67.4l.5-51.1l.5 65.2l.5-50.4l.5 64.3l.5-46.2l.5 62.5l.5-44l.5 65.9l.5-46.5l.5 64.8l.5-47.5l.5 64.5l.5-47.1l.5 67.2l.5-53l.5 64.5l.5-52.8l.5 65.4l.5-53.5l.5 63.3l.5-58.7l.5 64.6l.5-63.6l.5 61.4l.5-63.8l.5 62.3l.5-66.9l.5 54.6l.5-61.3l.5 49.7l.5-64.8l.5 50.2l.5-64.9l.5 49.4l.5-65.5l.5 46.8l.5-65.8l.5 47l.5-66.5l.5 44.9l.5-62.4l.5 46.6l.5-64.1l.5 48.7l.5-66.1l.5 50.4l.5-63.6l.5 55.9l.5-65.7l.5 59.1l.5-69.4l.5 63.4l.5-64.6l.5 67.7l.5-65l.5 67.9l.5-58l.5 60.6l.5-53.6l.5 65.3l.5-51.5l.5 65.1l.5-48.4l.5 65.3l.5-44.7l.5 62.4l.5-43.3l.5 61.7l.5-42.7l.5 61.1l.5-43l.5 61.9l.5-44.1l.5 61.1l.5-49.1l.5 63.4l.5-51.6l.5 65.6l.5-53.6l.5 63.3l.5-62.6l.5 68.8l.5-65.8l.5 66.1l.5-68.9l.5 59.7l.5-61.7l.5 52.9l.5-61.1l.5 50.9l.5-62.3l.5 46.3l.5-63.4l.5 44.9l.5-63l.5 44.6l.5-62.3l.5 45.3l.5-64.1l.5 45.6l.5-65.2l.5 47.9l.5-66.7l.5 50.4l.5-63.7l.5 47.2l.5-62.3l.5 55.1l.5-63.4l.5 54l.5-60.9l.5 59.3l.5-62.1l.5 60.4l.5-58.3l.5 62.6l.5-54.9l.5 59.3l.5-49.8l.5 64l.5-52.5l.5 63.8l.5-48l.5 63.7l.5-43.4l.5 62.4l.5-44.2l.5 61.5l.5-43.3l.5 66.1l.5-47.9l.5 65.2l.5-47.5l.5 62.2l.5-44.7l.5 61.8l.5-52l.5 62.6l.5-53.7l.5 65.1l.5-60.3l.5 64l.5-63.6l.5 61.7l.5-60.1l.5 56.6l.5-63.5l.5 56.3l.5-63.8l.5 50.9l.5-65.3l.5 49.5l.5-62.1l.5 46.9l.5-65.1l.5 44.5l.5-62.9l.5 44.9l.5-64.3l.5 45l.5-63.6l.5 44.3l.5-63.4l.5 46.9l.5-60.9l.5 49.9l.5-62.6l.5 51.5l.5-61.7l.5 53.9l.5-63.2l.5 58.4l.5-58.9l.5 59.7l.5-60.3l.5 62.3l.5-55.2l.5 62.7l.5-49.1l.5 62.2l.5-49.7l.5 62.6l.5-46.6l.5 62.9l.5-43.4l.5 61.6l.5-45.1l.5 64.2l.5-45.6l.5 62.7l.5-42.3l.5 62.2l.5-46.1l.5 61.2l.5-47.1l.5 62.1l.5-46.8l.5 60.1l.5-53.8l.5 63.8l.5-58.5l.5 64.4l.5-62.3l.5 59.6l.5-63.2l.5 60.7l.5-65.3l.5 55.2l.5-61.4l.5 48.5l.5-63.1l.5 46.5l.5-61.5l.5 44.5l.5-59.9l.5 42.9l.5-61.2l.5 40.7l.5-58.5l.5 39.6l.5-58.4l.5 43l.5-64.2l.5 45.5l.5-58.3l.5 47l.5-61.7l.5 49.4l.5-61.6l.5 54.9l.5-62.1l.5 58.4l.5-60.4l.5 60l.5-57.9l.5 60.6l.5-52.8l.5 60.4l.5-47.9l.5 59.5l.5-47.5l.5 62.6l.5-46.4l.5 59.1l.5-42.6l.5 63.7l.5-41.6l.5 60.8l.5-44.1l.5 60l.5-40.9l.5 59.3l.5-39.8l.5 57l.5-42l.5 59.1l.5-47l.5 59.8l.5-52.5l.5 61.7l.5-58.8l.5 64l.5-62.2l.5 60.1l.5-62.9l.5 60l.5-63.7l.5 52.8l.5-59.6l.5 48.7l.5-62.6l.5 45.4l.5-58.1l.5 41l.5-57.6l.5 39.9l.5-58.4l.5 41l.5-60.7l.5 40.3l.5-60.4l.5 40.3l.5-56.4l.5 41.1l.5-58.7l.5 45.7l.5-58.6l.5 49.9l.5-60.8l.5 53.6l.5-63.1l.5 64l.5-69.1l.5 67.6l.5-64l.5 66.1l.5-55l.5 58l.5-47.8l.5 59l.5-43.9l.5 55.9l.5-41.2l.5 59.1l.5-39.8l.5 57.3l.5-40.4l.5 61.3l.5-40.3l.5 59.9l.5-43.3l.5 58.8l.5-40.8l.5 57.7l.5-40.7l.5 58l.5-48.1l.5 58.2l.5-49.8l.5 61.5l.5-57.9l.5 64l.5-62.2l.5 61.2l.5-62.4l.5 57l.5-62.6l.5 51.7l.5-59l.5 46.2l.5-56.7l.5 42l.5-59.3l.5 42.9l.5-58.4l.5 38.8l.5-58.3l.5 40.2l.5-59.1l.5 38.9l.5-57.7l.5 42.5l.5-58.1l.5 40l.5-55.9l.5 43.4l.5-59.6l.5 48.5l.5-59.4l.5 55.4l.5-62.1l.5 61.2l.5-67.9l.5 64.8l.5-57.1l.5 60.6l.5-55.5l.5 60.6l.5-45.9l.5 53.2l.5-39.9l.5 54.6l.5-41.6l.5 59.2l.5-41.4l.5 59.8l.5-41.3l.5 59.1l.5-36.8l.5 54.6l.5-36.8l.5 55.1l.5-37.3l.5 54.5l.5-39.6l.5 55.2l.5-44.5l.5 56.1l.5-48.6l.5 60.6l.5-56.3l.5 63l.5-62.7l.5 61.6l.5-59.7l.5 54.3l.5-58.1l.5 48.3l.5-58.7l.5 44.5l.5-55.7l.5 43.2l.5-59.4l.5 41.6l.5-58.9l.5 40.7l.5-59.1l.5 38.5l.5-58l.5 38.2l.5-57.1l.5 39.2l.5-57.1l.5 41.9l.5-54.3l.5 40.1l.5-55.6l.5 43.4l.5-55.2l.5 50.8l.5-59.2l.5 57.6l.5-60.5l.5 58.7l.5-51.9l.5 54.4l.5-48.1l.5 55.3l.5-44.2l.5 54.8l.5-41.9l.5 53.9l.5-37.9l.5 56.7l.5-37.6l.5 54.4l.5-35.5l.5 53.7l.5-35.3l.5 54.8l.5-37.8l.5 55.6l.5-37.3l.5 54.9l.5-40.9l.5 57.6l.5-42.3l.5 51.3l.5-44.1l.5 53.3l.5-50.3l.5 57.2l.5-54.2l.5 56.1l.5-57l.5 50.2l.5-54l.5 42.3l.5-51.3l.5 41.2l.5-55l.5 39.7l.5-52.9l.5 36l.5-55.1l.5 36l.5-54.9l.5 37.6l.5-54.8l.5 33.8l.5-53.8l.5 37.3l.5-54.8l.5 37.9l.5-54.9l.5 40.8l.5-51.9l.5 42.8l.5-54.4l.5 44.9l.5-51.7l.5 50.1l.5-53.1l.5 54.8l.5-54.2l.5 55.3l.5-46.5l.5 54l.5-44.8l.5 53.1l.5-38.9l.5 52.9l.5-36.9l.5 54.3l.5-37.2l.5 55.7l.5-35l.5 54.8l.5-36.8l.5 55.5l.5-35.2l.5 53.1l.5-36.4l.5 54.1l.5-37.8l.5 50.9l.5-41l.5 53.4l.5-42.3l.5 53.2l.5-49.7l.5 52.5l.5-50.8l.5 53.1l.5-53.8l.5 47.6l.5-55l.5 44.8l.5-51.8l.5 40.5l.5-53.5l.5 40.2l.5-55.6l.5 38.2l.5-55.5l.5 36.7l.5-56.1l.5 37.4l.5-55l.5 35.8l.5-55.2l.5 37.7l.5-55.5l.5 37.8l.5-54.1l.5 40.2l.5-52.9l.5 43.4l.5-51.6l.5 44.3l.5-52.5l.5 50.4l.5-53.3l.5 53l.5-51.4l.5 51.7l.5-41.9l.5 51.3l.5-43.2l.5 52.2l.5-39.5l.5 52.5l.5-34.3l.5 53l.5-36.5l.5 53.2l.5-34.6l.5 54.6l.5-36.6l.5 55.7l.5-34.2l.5 50.7l.5-34.7l.5 51.2l.5-35.5l.5 51.7l.5-40.5l.5 52.3l.5-42.1l.5 50.5l.5-47.7l.5 54.7l.5-54.4l.5 55.3l.5-53.8l.5 45.7l.5-49.7l.5 42.1l.5-52.1l.5 37.5l.5-48.5l.5 36.5l.5-54.3l.5 37.2l.5-52.3l.5 33.3l.5-54.2l.5 34.2l.5-52.6l.5 32.9l.5-49.7l.5 33.4l.5-51.7l.5 35.5l.5-52.9l.5 37.7l.5-50.7l.5 39.2l.5-50.3l.5 44.9l.5-50.4l.5 49.7l.5-54.7l.5 55.8l.5-50.8l.5 49.9l.5-44.3l.5 50.6l.5-37.2l.5 49.3l.5-37.8l.5 50.5l.5-34.1l.5 50.9l.5-33.6l.5 51.4l.5-32.2l.5 52.6l.5-35.1l.5 53.3l.5-32.2l.5 51.3l.5-33.6l.5 49.7l.5-36.3l.5 50.7l.5-38.4l.5 51l.5-41.9l.5 51.9l.5-48l.5 55.5l.5-54.5l.5 53.9l.5-54.6l.5 48.1l.5-51.6l.5 39.5l.5-48.5l.5 36.6l.5-48.7l.5 35.7l.5-50.8l.5 31.5l.5-50l.5 32.8l.5-49.4l.5 29.5l.5-48.5l.5 30.8l.5-50.2l.5 30.5l.5-49.1l.5 34.6l.5-50l.5 34.7l.5-48.4l.5 37.6l.5-46l.5 42.1l.5-51.8l.5 50.7l.5-55.8l.5 54.4l.5-49l.5 50.8l.5-43.4l.5 49.2l.5-37l.5 48l.5-35.2l.5 47.3l.5-30.9l.5 48.9l.5-33.4l.5 49.9l.5-29.3l.5 47.7l.5-30.3l.5 49.9l.5-29.1l.5 49.3l.5-31.9l.5 48.2l.5-32.9l.5 47.4l.5-34.7l.5 45l.5-37l.5 45.9l.5-43.3l.5 51l.5-48.9l.5 48.1l.5-49.2l.5 42.9l.5-47.9l.5 38.4l.5-45l.5 33.5l.5-46.7l.5 31.6l.5-45.5l.5 28.8l.5-48l.5 30.8l.5-47.7l.5 28.7l.5-50.3l.5 31.3l.5-48.5l.5 28.6l.5-47.3l.5 30.6l.5-45.5l.5 33.3l.5-46l.5 33.4l.5-45.1l.5 38.3l.5-46.2l.5 44.7l.5-47.3l.5 47l.5-42.7l.5 46.7l.5-38.3l.5 43.2l.5-33.1l.5 45.1l.5-33.6l.5 47.7l.5-29.8l.5 46.7l.5-30l.5 46.4l.5-28.4l.5 48.3l.5-28.8l.5 46.4l.5-28.3l.5 47.7l.5-28.5l.5 43.8l.5-30.1l.5 46l.5-31.1l.5 42.9l.5-34.3l.5 43.3l.5-39l.5 44.2l.5-44.8l.5 45.4l.5-46l.5 39.3l.5-42.7l.5 33.4l.5-43l.5 32.1l.5-45.6l.5 29.6l.5-43.6l.5 28l.5-46.2l.5 26.7l.5-45.7l.5 27.4l.5-45.9l.5 26.4l.5-44.6l.5 25.9l.5-44.5l.5 30.3l.5-43.6l.5 29.3l.5-43.2l.5 30.3l.5-42l.5 37l.5-42.6l.5 38.8l.5-42.8l.5 42.3l.5-39.2l.5 42.8l.5-35.1l.5 41.4l.5-32.2l.5 44.2l.5-29.1l.5 42.6l.5-27.2l.5 44l.5-28l.5 46.6l.5-26.5l.5 45.4l.5-25.9l.5 43.1l.5-26l.5 45.2l.5-26.9l.5 42.7l.5-26.9l.5 42.6l.5-30.7l.5 40.1l.5-31.5l.5 42.2l.5-36.9l.5 42.5l.5-41l.5 38.4l.5-40.3l.5 36l.5-40l.5 31.2l.5-39.9l.5 28.1l.5-41.7l.5 27.4l.5-42.5l.5 27.2l.5-43.3l.5 25.1l.5-45.3l.5 25.7l.5-42.9l.5 23.3l.5-42.6l.5 24.5l.5-42.7l.5 25.8l.5-41.9l.5 27l.5-37.9l.5 26.9l.5-37.7l.5 32.6l.5-40.6l.5 38.7l.5-40.1l.5 39.7l.5-37.7l.5 40.2l.5-32l.5 37l.5-28.2l.5 39.5l.5-26.8l.5 41l.5-24.2l.5 40.6l.5-24.5l.5 43.6l.5-24.3l.5 43.8l.5-23l.5 41.7l.5-24.2l.5 40.8l.5-22.6l.5 40.2l.5-25l.5 37.9l.5-25.3l.5 38l.5-28.7l.5 38.3l.5-35.6l.5 41.1l.5-38.4l.5 38l.5-40.4l.5 35.4l.5-38.5l.5 29.3l.5-38.6l.5 26.7l.5-38.7l.5 24.3l.5-40.9l.5 23.5l.5-39.9l.5 22.9l.5-42.3l.5 23.2l.5-41.1l.5 20.3l.5-40.5l.5 23.7l.5-39.4l.5 21.9l.5-38.2l.5 25l.5-37.3l.5 24.6l.5-35.3l.5 30.6l.5-39.9l.5 38l.5-41.1l.5 40.5l.5-37l.5 37.9l.5-30.1l.5 37l.5-26.4l.5 37.9l.5-25l.5 38.5l.5-21.7l.5 38.9l.5-21l.5 39.4l.5-20.7l.5 38.1l.5-19.3l.5 38.2l.5-20.6l.5 40l.5-21.2l.5 37.3l.5-21.3l.5 36.1l.5-25.2l.5 37.4l.5-29l.5 37.4l.5-33.9l.5 40.5l.5-39.2l.5 38.5l.5-39.9l.5 33.9l.5-34.9l.5 24.9l.5-35.5l.5 25.2l.5-37.4l.5 21.7l.5-36.8l.5 19.9l.5-36.4l.5 19.3l.5-38.1l.5 18.7l.5-37.5l.5 17.3l.5-36.5l.5 18.9l.5-36.2l.5 19.3l.5-35.8l.5 22.9l.5-35.9l.5 24.1l.5-34l.5 29l.5-38.2l.5 37.3l.5-41.7l.5 39.3l.5-33.1l.5 36.4l.5-28.7l.5 33.6l.5-24.1l.5 35.4l.5-22.3l.5 36.9l.5-21.1l.5 36.9l.5-19.3l.5 37.5l.5-19.1l.5 37.9l.5-17.1l.5 35l.5-16.7l.5 35l.5-18.1l.5 35.7l.5-19.5l.5 34.5l.5-21.6l.5 33.3l.5-25.4l.5 33.7l.5-30.4l.5 36.5l.5-37l.5 37.3l.5-37.4l.5 31.2l.5-32.8l.5 23.8l.5-32.3l.5 19.8l.5-33.9l.5 20.1l.5-34l.5 17.4l.5-36.4l.5 17.7l.5-36.3l.5 17.8l.5-36.9l.5 16.6l.5-33.9l.5 16.9l.5-34.1l.5 16.2l.5-32.6l.5 19.5l.5-31.7l.5 20l.5-31.5l.5 25.5l.5-33.3l.5 32l.5-34.4l.5 34.8l.5-32.9l.5 33.8l.5-24.6l.5 31.2l.5-20.6l.5 30.3l.5-17.1l.5 32.6l.5-17l.5 33.4l.5-16.5l.5 33.7l.5-15.4l.5 34.1l.5-14.3l.5 33.5l.5-15.1l.5 34l.5-15.7l.5 31.4l.5-16.8l.5 31.4l.5-17.6l.5 29.7l.5-22.4l.5 32.1l.5-27.8l.5 32.7l.5-31.7l.5 31.3l.5-31.6l.5 25.1l.5-29.4l.5 20.1l.5-27.9l.5 17.1l.5-29.5l.5 15.1l.5-32.2l.5 15.4l.5-31.9l.5 13.6l.5-32.3l.5 13.7l.5-32.2l.5 13.3l.5-32.9l.5 14l.5-30.3l.5 14.7l.5-31.8l.5 17.7l.5-30.4l.5 18.2l.5-27.4l.5 21.3l.5-28.3l.5 26.5l.5-29.9l.5 28.1l.5-25.5l.5 28.4l.5-20l.5 27l.5-17.3l.5 27.9l.5-15.6l.5 30.6l.5-15l.5 31.5l.5-13.3l.5 31.6l.5-12.4l.5 31l.5-12l.5 30.4l.5-11.8l.5 30.9l.5-13l.5 29.6l.5-14.1l.5 27.9l.5-15.3l.5 26.3l.5-17.2l.5 26.5l.5-23.1l.5 28.4l.5-26l.5 25.8l.5-26.7l.5 20.5l.5-25.6l.5 18l.5-26.6l.5 14.8l.5-28.6l.5 13.6l.5-29.1l.5 13l.5-29.6l.5 11.5l.5-31.1l.5 11.5l.5-30.1l.5 11.6l.5-29.7l.5 10.4l.5-27.7l.5 11.9l.5-27.2l.5 12.9l.5-25.8l.5 15l.5-25.4l.5 18l.5-24.5l.5 21.4l.5-23.9l.5 23.3l.5-21.5l.5 25.8l.5-18.8l.5 25.3l.5-14.6l.5 25.8l.5-13.2l.5 26.1l.5-10.2l.5 27.6l.5-9.9l.5 27.3l.5-9.8l.5 29.7l.5-10.3l.5 28.5l.5-9.4l.5 27.7l.5-9.6l.5 26.3l.5-11.7l.5 25.8l.5-12.1l.5 23.3l.5-14.5l.5 22.8l.5-17.8l.5 24l.5-22.8l.5 23l.5-24.1l.5 18.5l.5-23.1l.5 14.1l.5-23.8l.5 12.6l.5-25.3l.5 11.3l.5-26l.5 9.2l.5-27.3l.5 8.9l.5-26.9l.5 7.2l.5-26.9l.5 8.3l.5-26.9l.5 8.9l.5-26.7l.5 9.8l.5-24.5l.5 10.2l.5-24l.5 12.9l.5-21.8l.5 15.5l.5-23.7l.5 21.3l.5-23.9l.5 23l.5-19.6l.5 22.8l.5-16.3l.5 22.9l.5-12l.5 22.6l.5-9.6l.5 24l.5-8.4l.5 24.8l.5-7.7l.5 25.3l.5-6.2l.5 25.2l.5-6.4l.5 26.4l.5-7.3l.5 24.9l.5-7.7l.5 24l.5-8.5l.5 23.2l.5-10.8l.5 22l.5-12.9l.5 21.4l.5-16.3l.5 22.3l.5-21.4l.5 21l.5-21.9l.5 17l.5-22.3l.5 12.8l.5-21l.5 9.4l.5-22.3l.5 7.8l.5-22.7l.5 6.4l.5-24.1l.5 5.8l.5-24.9l.5 5.9l.5-24.5l.5 5.1l.5-23.7l.5 6.1l.5-23.8l.5 6.4l.5-21.2l.5 7.8l.5-21.4l.5 9.7l.5-19.2l.5 13.3l.5-21.3l.5 19l.5-21.3l.5 21l.5-18l.5 20.1l.5-13.6l.5 19.8l.5-9.3l.5 20.2l.5-6.6l.5 20.8l.5-5.8l.5 22.8l.5-5.4l.5 23.4l.5-4.1l.5 23.5l.5-4.1l.5 22.1l.5-3.8l.5 22.8l.5-5.1l.5 21l.5-5.9l.5 20.1l.5-7.5l.5 18.8l.5-10l.5 19.3l.5-15l.5 20.6l.5-18.8l.5 18.8l.5-20.8l.5 15.4l.5-18.5l.5 8.9l.5-17.9l.5 6.7l.5-19.6l.5 5.4l.5-21l.5 4l.5-20.8l.5 2.4l.5-21.2l.5 2.7l.5-21.8l.5 2.4l.5-21.6l.5 3.5l.5-20.6l.5 3.8l.5-18.8l.5 5.1l.5-18.2l.5 7.2l.5-17.5l.5 10.4l.5-18.2l.5 16l.5-18.6l.5 18.5l.5-15.3l.5 18.2l.5-10.5l.5 17.1l.5-6.7l.5 17.1l.5-4.2l.5 17.9l.5-3l.5 20.2l.5-2.1l.5 19.5l.5-1.4l.5 21l.5-1.2l.5 20.2l.5-1.6l.5 19.4l.5-2.1l.5 18.3l.5-2.6l.5 17.2l.5-4.7l.5 16.1l.5-7.5l.5 15.9l.5-10.9l.5 16.3l.5-14.8l.5 14.3l.5-15.3l.5 10.4l.5-15.1l.5 6.1l.5-15.4l.5 4.1l.5-16.9l.5 2.6l.5-18.1l.5 1.8l.5-18.9l.5 .3l.5-18.8l.5 .2l.5-19.3l.5 .3l.5-18.7l.5 .1l.5-17.4l.5 1.3l.5-16.8l.5 2.5l.5-15.4l.5 4l.5-13.7l.5 6.6l.5-14l.5 10.8l.5-12.9l.5 12.9l.5-10l.5 13.3l.5-6.5l.5 13.3l.5-3.6l.5 14.4l.5-1.6l.5 15.8l.5-.1l.5 17l.5 .2l.5 17.8l.5 .9l.5 17.7l.5 1.6l.5 17.7l.5 .8l.5 17.2l.5 .1l.5 16.3l.5-.5l.5 14.9l.5-2.4l.5 13.6l.5-4.3l.5 12.5l.5-7.3l.5 11.9l.5-10.7l.5 10.8l.5-11.5l.5 6.7l.5-12l.5 3.4l.5-12.6l.5 1.5l.5-14.4l.5 .3l.5-15.7l.5-1.2l.5-16.3l.5-1.8l.5-16.4l.5-2.3l.5-17.1l.5-2.1l.5-16.1l.5-2.3l.5-15.4l.5-1.1l.5-14.3l.5 .1l.5-12.4l.5 1.5l.5-11.8l.5 4.6l.5-10.9l.5 7.3l.5-9.3l.5 9.2l.5-7.2l.5 10.4l.5-3.6l.5 11.2l.5-1.3l.5 12.3l.5 .5l.5 13.6l.5 1.7l.5 14.8l.5 2.9l.5 14.9l.5 3.7l.5 15.6l.5 3.5l.5 15.1l.5 3.3l.5 15.1l.5 2.4l.5 14l.5 1.3l.5 12.6l.5 .4l.5 11.1l.5-1.8l.5 9.6l.5-4.2l.5 8.8l.5-7.3l.5 7.2l.5-8.9l.5 4.4l.5-9.7l.5 1.5l.5-10.4l.5-.9l.5-12l.5-2.1l.5-13.3l.5-3.3l.5-13.9l.5-4.2l.5-14.5l.5-4.5l.5-14.6l.5-4.3l.5-14.2l.5-4.2l.5-13.2l.5-3.1l.5-12.1l.5-2.1l.5-10.7l.5-.5l.5-9.1l.5 1.8l.5-8.3l.5 5l.5-7.5l.5 7.5l.5-5l.5 8.3l.5-1.8l.5 9.1l.5 .6l.5 10.3l.5 2.6l.5 11.6l.5 3.9l.5 12.4l.5 5l.5 13.1l.5 5.5l.5 13.3l.5 5.8l.5 13.2l.5 5.4l.5 12.6l.5 4.9l.5 11.5l.5 3.9l.5 10.1l.5 2.7l.5 8.7l.5 .4l.5 7.8l.5-2.5l.5 7l.5-5.3l.5 5.4l.5-7l.5 2.3l.5-7.5l.5-.8l.5-8.4l.5-2.9l.5-9.6l.5-4.6l.5-10.9l.5-5.7l.5-11.5l.5-6.6l.5-12l.5-6.9l.5-12.1l.5-6.9l.5-11.7l.5-6.4l.5-10.9l.5-5.6l.5-9.8l.5-4.3l.5-8.4l.5-2.7l.5-7l.5-.3l.5-6.1l.5 2.9l.5-5.2l.5 4.9l.5-2.6l.5 6l.5 .7l.5 6.5l.5 3.2l.5 7.9l.5 4.8l.5 9.2l.5 6.3l.5 10.1l.5 7.3l.5 10.9l.5 7.6l.5 11.3l.5 7.8l.5 11.1l.5 7.5l.5 10.5l.5 6.8l.5 9.7l.5 5.7l.5 8.3l.5 4.4l.5 6.9l.5 2.3l.5 5.8l.5-.4l.5 4.8l.5-3.2l.5 3.4l.5-5l.5 .3l.5-5.6l.5-2.4l.5-6.9l.5-4.4l.5-8.3l.5-5.9l.5-9.3l.5-7.1l.5-10.3l.5-7.8l.5-10.8l.5-8.1l.5-10.8l.5-8.2l.5-10.4l.5-7.6l.5-9.7l.5-6.8l.5-8.7l.5-5.4l.5-7.2l.5-3.9l.5-5.8l.5-1.6l.5-4.7l.5 1.3l.5-3.6l.5 3.4l.5-1.1l.5 4.7l.5 1.7l.5 5.7l.5 3.9l.5 7.2l.5 5.6l.5 8.4l.5 6.9l.5 9.6l.5 7.8l.5 10.2l.5 8.4l.5 10.5l.5 8.5l.5 10.4l.5 8.2l.5 9.8l.5 7.6l.5 8.8l.5 6.5l.5 7.7l.5 5l.5 6.2l.5 3.2l.5 4.7l.5 .8l.5 3.4l.5-1.6l.5 1.6l.5-3.4l.5-.9l.5-4.6l.5-3.3l.5-6.1l.5-5.2l.5-7.5l.5-6.6l.5-8.7l.5-7.7l.5-9.6l.5-8.5l.5-10.1l.5-8.8l.5-10.1l.5-8.7l.5-9.9l.5-8.2l.5-9.1l.5-7.3l.5-8l.5-6.1l.5-6.6l.5-4.6l.5-5l.5-2.4l.5-3.7l.5-.1l.5-2l.5 2l.5 .1l.5 3.6l.5 2.5l.5 5.1l.5 4.5l.5 6.6l.5 6.1l.5 7.9l.5 7.5l.5 9l.5 8.3l.5 9.7l.5 8.8l.5 10.1l.5 8.9l.5 9.9l.5 8.7l.5 9.4l.5 7.9l.5 8.5l.5 6.8l.5 7.3l.5 5.4l.5 5.8l.5 3.5l.5 4.3l.5 1.4l.5 2.8l.5-.9l.5 .9l.5-2.8l.5-1.4l.5-4.3l.5-3.5l.5-5.8l.5-5.4l.5-7.3l.5-6.8l.5-8.5l.5-7.9l.5-9.5l.5-8.6l.5-9.9l.5-8.9l.5-10.1l.5-8.8l.5-9.7l.5-8.3l.5-9l.5-7.4l.5-8l.5-6.1l.5-6.5l.5-4.6l.5-5l.5-2.6l.5-3.4l.5-.3l.5-1.8l.5 1.7l.5 .4l.5 3.4l.5 2.6l.5 5l.5 4.6l.5 6.5l.5 6.2l.5 7.9l.5 7.4l.5 9l.5 8.3l.5 9.7l.5 8.8l.5 10.1l.5 8.9l.5 9.9l.5 8.6l.5 9.4l.5 7.9l.5 8.5l.5 6.9l.5 7.2l.5 5.4l.5 5.8l.5 3.6l.5 4.2l.5 1.5l.5 2.6l.5-.7l.5 .7l.5-2.6l.5-1.5l.5-4.2l.5-3.6l.5-5.8l.5-5.4l.5-7.3l.5-6.8l.5-8.5l.5-7.9l.5-9.4l.5-8.6l.5-9.9l.5-8.9l.5-10.1l.5-8.8l.5-9.6l.5-8.4l.5-9l.5-7.4l.5-7.9l.5-6.1l.5-6.5l.5-4.6l.5-5l.5-2.6l.5-3.4l.5-.4l.5-1.6l.5 1.7l.5 .3l.5 3.4l.5 2.6l.5 5l.5 4.6l.5 6.5l.5 6.1l.5 8l.5 7.4l.5 9l.5 8.2l.5 9.8l.5 8.8l.5 10l.5 8.9l.5 9.9l.5 8.6l.5 9.4l.5 7.9l.5 8.5l.5 6.8l.5 7.2l.5 5.4l.5 5.8l.5 3.6l.5 4.2l.5 1.5l.5 2.6l.5-.7l.5 .7l.5-2.6l.5-1.5l.5-4.2l.5-3.6l.5-5.8l.5-5.4l.5-7.2l.5-6.8l.5-8.5l.5-7.9l.5-9.4l.5-8.6l.5-9.9l.5-8.9l.5-10l.5-8.8l.5-9.7l.5-8.3l.5-9l.5-7.4l.5-7.9l.5-6.1l.5-6.6l.5-4.5l.5-5l.5-2.6l.5-3.5l.5-.1l.5-2l.5 1.9l.5 .2l.5 3.5l.5 2.6l.5 5l.5 4.6l.5 6.5l.5 6.1l.5 7.9l.5 7.4l.5 9l.5 8.3l.5 9.7l.5 8.8l.5 10l.5 8.9l.5 9.9l.5 8.6l.5 9.3l.5 7.9l.5 8.5l.5 6.8l.5 7.3l.5 5.4l.5 5.7l.5 3.6l.5 4.3l.5 1.3l.5 2.9l.5-1.1l.5 1.1l.5-2.9l.5-1.3l.5-4.3l.5-3.6l.5-5.8l.5-5.4l.5-7.2l.5-6.8l.5-8.5l.5-7.9l.5-9.4l.5-8.5l.5-9.9l.5-8.9l.5-10l.5-8.8l.5-9.7l.5-8.3l.5-8.9l.5-7.4l.5-8l.5-6.1l.5-6.5l.5-4.5l.5-5.1l.5-2.4l.5-3.7l.5 0l.5-2.1l.5 2.1l.5 0l.5 3.7l.5 2.4l.5 5.1l.5 4.5l.5 6.5l.5 6.2l.5 7.9l.5 7.4l.5 8.9l.5 8.3l.5 9.7l.5 8.8l.5 10l.5 8.9l.5 9.8l.5 8.6l.5 9.4l.5 7.9l.5 8.5l.5 6.8l.5 7.2l.5 5.4l.5 5.8l.5 3.5l.5 4.4l.5 1.2l.5 2.9l.5-1.1l.5 1.2l.5-3l.5-1.2l.5-4.3l.5-3.6l.5-5.8l.5-5.4l.5-7.2l.5-6.8l.5-8.5l.5-7.9l.5-9.4l.5-8.5l.5-9.9l.5-8.9l.5-10l.5-8.8l.5-9.7l.5-8.3l.5-8.9l.5-7.4l.5-7.9l.5-6.2l.5-6.5l.5-4.5l.5-5l.5-2.5l.5-3.6l.5-.1l.5-2l.5 2l.5 0l.5 3.7l.5 2.5l.5 5l.5 4.5l.5 6.6l.5 6.1l.5 7.9l.5 7.3l.5 9l.5 8.3l.5 9.7l.5 8.8l.5 10l.5 8.9l.5 9.8l.5 8.6l.5 9.4l.5 7.9l.5 8.5l.5 6.8l.5 7.2l.5 5.4l.5 5.8l.5 3.5l.5 4.3l.5 1.4l.5 2.8l.5-1l.5 1l.5-2.8l.5-1.4l.5-4.3l.5-3.5l.5-5.8l.5-5.4l.5-7.2l.5-6.8l.5-8.5l.5-7.9l.5-9.4l.5-8.6l.5-9.8l.5-8.9l.5-10l.5-8.8l.5-9.7l.5-8.3l.5-8.9l.5-7.4l.5-7.9l.5-6.2l.5-6.5l.5-4.5l.5-5l.5-2.6l.5-3.4l.5-.3l.5-1.8l.5 1.8l.5 .2l.5 3.5l.5 2.6l.5 5l.5 4.5l.5 6.5l.5 6.2l.5 7.9l.5 7.4l.5 8.9l.5 8.3l.5 9.7l.5 8.8l.5 10l.5 8.9l.5 9.8l.5 8.7l.5 9.3l.5 7.9l.5 8.5l.5 6.8l.5 7.2l.5 5.4l.5 5.7l.5 3.7l.5 4.2l.5 1.4l.5 2.7l.5-.8l.5 .7l.5-2.6l.5-1.5l.5-4.1l.5-3.6l.5-5.8l.5-5.4l.5-7.2l.5-6.8l.5-8.5l.5-7.9l.5-9.4l.5-8.6l.5-9.8l.5-8.9l.5-10l.5-8.8l.5-9.7l.5-8.3l.5-9l.5-7.3l.5-7.9l.5-6.2l.5-6.5l.5-4.5l.5-5l.5-2.6l.5-3.3l.5-.5l.5-1.6l.5 1.6l.5 .5l.5 3.3l.5 2.6l.5 5l.5 4.5l.5 6.5l.5 6.2l.5 7.9l.5 7.4l.5 8.9l.5 8.3l.5 9.7l.5 8.8l.5 10l.5 8.9l.5 9.9l.5 8.5l.5 9.4l.5 7.9l.5 8.5l.5 6.8l.5 7.2l.5 5.4l.5 5.8l.5 3.6l.5 4.1l.5 1.6l.5 2.5l.5-.6l.5 .6l.5-2.5l.5-1.5l.5-4.2l.5-3.6l.5-5.8l.5-5.4l.5-7.2l.5-6.8l.5-8.5l.5-7.9l.5-9.3l.5-8.6l.5-9.9l.5-8.9l.5-10l.5-8.8l.5-9.7l.5-8.3l.5-8.9l.5-7.4l.5-7.9l.5-6.2l.5-6.5l.5-4.5l.5-5l.5-2.6l.5-3.4l.5-.4l.5-1.6l.5 1.6l.5 .4l.5 3.4l.5 2.6l.5 5l.5 4.5l.5 6.5l.5 6.2l.5 7.9l.5 7.3l.5 9l.5 8.3l.5 9.7l.5 8.8l.5 10l.5 8.9l.5 9.9l.5 8.6l.5 9.3l.5 7.9l.5 8.5l.5 6.8l.5 7.2l.5 5.4l.5 5.8l.5 3.6l.5 4.2l.5 1.4l.5 2.6l.5-.7l.5 .8l.5-2.7l.5-1.4l.5-4.2l.5-3.6l.5-5.8l.5-5.4l.5-7.2l.5-6.8l.5-8.5l.5-7.9l.5-9.3l.5-8.6l.5-9.9l.5-8.9l.5-10l.5-8.8l.5-9.7l.5-8.3l.5-9l.5-7.3l.5-7.9l.5-6.2l.5-6.5l.5-4.5l.5-5l.5-2.5l.5-3.6l.5-.1l.5-1.9l.5 1.9l.5 .1l.5 3.5l.5 2.6l.5 5l.5 4.5l.5 6.5l.5 6.2l.5 7.9l.5 7.4l.5 8.9l.5 8.3l.5 9.7l.5 8.8l.5 10l.5 8.9l.5 9.9l.5 8.6l.5 9.3l.5 7.9l.5 8.5l.5 6.8l.5 7.2l.5 5.4l.5 5.8l.5 3.5l.5 4.4l.5 1.2l.5 2.9l.5-1.1l.5 1.1l.5-2.8l.5-1.4l.5-4.2l.5-3.6l.5-5.8l.5-5.4l.5-7.2l.5-6.8l.5-8.5l.5-7.9l.5-9.3l.5-8.6l.5-9.9l.5-8.9l.5-10l.5-8.8l.5-9.7l.5-8.3l.5-8.9l.5-7.4l.5-7.9l.5-6.2l.5-6.5l.5-4.5l.5-5l.5-2.6l.5-3.5l.5-.1l.5-2l.5 2l.5 .1l.5 3.6l.5 2.5l.5 5l.5 4.5l.5 6.5l.5 6.2l.5 7.9l.5 7.4l.5 8.9" stroke="#77AC30"/>
<path d="M371.5 532.5l.5 14.9l.5-26.3l.5 26.2l.5-45.7l.5 34.1l.5-50.6l.5 39.3l.5-52.8l.5 42.4l.5-52.2l.5 51.8l.5-53.2l.5 51.4l.5-49.7l.5 49l.5-42.3l.5 47.8l.5-38.6l.5 48.7l.5-34.9l.5 48.6l.5-33.1l.5 48.7l.5-33l.5 50.2l.5-29.7l.5 48.3l.5-29.9l.5 50l.5-32.5l.5 50l.5-32.9l.5 47.1l.5-32.9l.5 47.6l.5-35.2l.5 48.3l.5-43l.5 51.9l.5-46.2l.5 51l.5-49.7l.5 49.4l.5-53.7l.5 47.8l.5-52.6l.5 41l.5-50.1l.5 36.8l.5-47.4l.5 33.2l.5-51.3l.5 32.9l.5-50.2l.5 30.5l.5-50l.5 28.7l.5-48l.5 27.7l.5-45.9l.5 28.9l.5-48.9l.5 31.1l.5-48.1l.5 34.8l.5-48.1l.5 37.4l.5-49.6l.5 42.2l.5-50.6l.5 48.2l.5-53.7l.5 52.4l.5-49.8l.5 52.2l.5-43.8l.5 49.1l.5-37.3l.5 47.1l.5-33.2l.5 44.9l.5-28.7l.5 45l.5-27.2l.5 44.5l.5-26.8l.5 47.3l.5-27l.5 44.1l.5-27.2l.5 45l.5-27.7l.5 46l.5-29.8l.5 43.4l.5-33.6l.5 46.4l.5-38.4l.5 47.2l.5-42.6l.5 49.3l.5-48.6l.5 47.7l.5-50.4l.5 43.3l.5-47.9l.5 40l.5-46.6l.5 32.7l.5-45.5l.5 29.5l.5-43.7l.5 24.9l.5-43.7l.5 24.1l.5-42.7l.5 22.9l.5-43.1l.5 23.4l.5-42.5l.5 24.7l.5-42.8l.5 25.5l.5-44.6l.5 31.1l.5-44.4l.5 35.9l.5-46.8l.5 40l.5-49.1l.5 44.9l.5-48.6l.5 47.2l.5-44.4l.5 47.3l.5-37.9l.5 45l.5-36.2l.5 46l.5-30l.5 43.2l.5-27.3l.5 41.8l.5-22.6l.5 41.4l.5-23.2l.5 42.9l.5-23l.5 42.3l.5-23.3l.5 40.2l.5-23.8l.5 41.2l.5-25.9l.5 42.7l.5-32.3l.5 45.5l.5-38.2l.5 45.8l.5-39.8l.5 46.3l.5-45.6l.5 43.8l.5-46.9l.5 43.4l.5-48l.5 38l.5-43.9l.5 30.3l.5-43.2l.5 27.1l.5-42.7l.5 24l.5-41.1l.5 22.1l.5-41.3l.5 20.6l.5-40l.5 21.9l.5-40.1l.5 20.4l.5-39.3l.5 23.8l.5-40.9l.5 28l.5-42.4l.5 32.3l.5-45l.5 39.5l.5-45.3l.5 41.1l.5-47.4l.5 47.9l.5-43.2l.5 45.8l.5-38.3l.5 43.9l.5-32l.5 41.5l.5-26.4l.5 39.7l.5-23.3l.5 37.9l.5-19.3l.5 38.1l.5-19.4l.5 38.3l.5-19.5l.5 39.4l.5-20l.5 38.7l.5-22.7l.5 38.9l.5-24.2l.5 39.9l.5-28.5l.5 42.5l.5-34.4l.5 44.3l.5-39.2l.5 43.8l.5-43.1l.5 43.8l.5-45.5l.5 40.6l.5-45.5l.5 34.9l.5-42.2l.5 29.4l.5-40.1l.5 23.1l.5-38.3l.5 20.3l.5-36.6l.5 17.7l.5-36.7l.5 15.9l.5-36.4l.5 18.4l.5-36.6l.5 16.8l.5-35.8l.5 19.5l.5-37.7l.5 26.6l.5-41l.5 30.2l.5-41.9l.5 34.8l.5-41.6l.5 40l.5-45.3l.5 46.6l.5-43.3l.5 44.9l.5-36l.5 41.8l.5-29.9l.5 37.9l.5-22.6l.5 35.4l.5-18.7l.5 35.8l.5-17.9l.5 34.8l.5-15.8l.5 34.9l.5-14l.5 34.2l.5-17.1l.5 35.2l.5-16.5l.5 34.7l.5-20.6l.5 37.8l.5-27.1l.5 38.6l.5-30.3l.5 39.9l.5-35.7l.5 43.4l.5-43l.5 42.1l.5-43.4l.5 36.1l.5-40.6l.5 31.8l.5-37.6l.5 24.9l.5-38.5l.5 22.5l.5-35.7l.5 16.2l.5-32.8l.5 14.3l.5-33.6l.5 13.7l.5-33.7l.5 14.9l.5-34.9l.5 16.2l.5-33.2l.5 17.8l.5-35.2l.5 22l.5-38.1l.5 28.4l.5-39.3l.5 33l.5-41.4l.5 40l.5-43.1l.5 42l.5-38.3l.5 40l.5-33l.5 38.5l.5-25.3l.5 36.2l.5-23l.5 36.1l.5-18l.5 33.6l.5-15.6l.5 32.2l.5-12.6l.5 32.8l.5-13.7l.5 32.1l.5-13.6l.5 33.1l.5-15.4l.5 32.7l.5-18.9l.5 34.6l.5-23.1l.5 37.9l.5-29.7l.5 38.2l.5-35.1l.5 41.6l.5-41.2l.5 41.1l.5-42.1l.5 36.4l.5-38.4l.5 28l.5-35.4l.5 21.5l.5-33.6l.5 18.3l.5-32.4l.5 14.2l.5-31.5l.5 11.9l.5-30.9l.5 12.7l.5-31l.5 11l.5-31.4l.5 13.2l.5-30.8l.5 15.7l.5-33l.5 19.3l.5-34.2l.5 25.8l.5-36.6l.5 30.4l.5-38l.5 36.5l.5-41.9l.5 40.3l.5-36.3l.5 39.9l.5-30l.5 35.1l.5-24.4l.5 34l.5-19.9l.5 32.4l.5-14.8l.5 29.6l.5-11.9l.5 29.8l.5-10.3l.5 29.9l.5-10.9l.5 29.3l.5-10.8l.5 30.5l.5-12.4l.5 30l.5-16.6l.5 31.1l.5-20.5l.5 33.8l.5-24.3l.5 36l.5-33.3l.5 39.3l.5-39.9l.5 39.1l.5-40.4l.5 34.7l.5-36.7l.5 25.2l.5-32.5l.5 19.1l.5-29.8l.5 13.9l.5-28l.5 10.3l.5-28l.5 10l.5-28.5l.5 8.7l.5-28l.5 9.3l.5-27.4l.5 9l.5-28l.5 13.6l.5-29.3l.5 15.1l.5-29.6l.5 21.2l.5-33.5l.5 28.5l.5-38.3l.5 35.2l.5-37.5l.5 39l.5-34.4l.5 34.4l.5-26.8l.5 33l.5-20.4l.5 29l.5-15.8l.5 29l.5-11l.5 26.3l.5-8.1l.5 26.3l.5-7.9l.5 25.9l.5-6.2l.5 26l.5-7.6l.5 26.7l.5-10.7l.5 27.7l.5-13.2l.5 28.7l.5-17.9l.5 30.3l.5-23l.5 32.8l.5-29.3l.5 38.2l.5-38.7l.5 37.5l.5-36.2l.5 30l.5-32.4l.5 22l.5-30.8l.5 17.6l.5-29l.5 12.4l.5-26.1l.5 8.6l.5-25.1l.5 6.5l.5-24.8l.5 5.8l.5-25.5l.5 6.4l.5-24.7l.5 7.2l.5-25.1l.5 9.3l.5-25.9l.5 13.6l.5-27.6l.5 17.2l.5-29.9l.5 26l.5-34.1l.5 31.7l.5-36.7l.5 35.9l.5-30.6l.5 32.1l.5-23l.5 28.5l.5-17.5l.5 27.6l.5-13.5l.5 25.4l.5-8.6l.5 24.9l.5-6.3l.5 22.9l.5-4.4l.5 23.5l.5-3.9l.5 22.8l.5-4.5l.5 24l.5-7.7l.5 24.5l.5-10l.5 25.4l.5-14.2l.5 27.2l.5-19.5l.5 30l.5-27.8l.5 34.8l.5-33.9l.5 34.5l.5-34.1l.5 27.4l.5-30.9l.5 19.9l.5-26.6l.5 12.8l.5-24.1l.5 9.1l.5-24l.5 6.2l.5-22.8l.5 4l.5-21.9l.5 2.7l.5-22.2l.5 3.6l.5-21.9l.5 3.8l.5-22.3l.5 6.6l.5-23.6l.5 10.3l.5-24.3l.5 14.7l.5-26.5l.5 23.2l.5-32l.5 30.8l.5-34.9l.5 35.5l.5-31.1l.5 30.6l.5-21.3l.5 26.1l.5-14.9l.5 24l.5-10l.5 23.4l.5-6.1l.5 21.6l.5-3.6l.5 21.4l.5-2.4l.5 21l.5-1.6l.5 21l.5-3l.5 21.5l.5-4.6l.5 21.7l.5-7.4l.5 22.7l.5-11.5l.5 24l.5-17.1l.5 28.7l.5-25.8l.5 32.1l.5-31.7l.5 31.6l.5-31.2l.5 25.4l.5-28.4l.5 16.9l.5-24.8l.5 11.6l.5-22.2l.5 6.8l.5-21.4l.5 3.6l.5-19.7l.5 1.5l.5-19.9l.5 .7l.5-20.3l.5 1.6l.5-20.6l.5 2.7l.5-20.8l.5 5.2l.5-20.9l.5 7.5l.5-22.4l.5 14l.5-24.6l.5 19.2l.5-28.8l.5 28.4l.5-33.2l.5 33.4l.5-29.9l.5 30.2l.5-20.3l.5 24.2l.5-11.8l.5 21.6l.5-7.7l.5 20.8l.5-4l.5 19.5l.5-1.9l.5 19.9l.5-.6l.5 19.4l.5-.3l.5 19.2l.5-1l.5 19.1l.5-2l.5 19.8l.5-5.9l.5 20.7l.5-8.9l.5 21.9l.5-14.3l.5 24.9l.5-23.5l.5 31.4l.5-31.1l.5 29.5l.5-28.2l.5 21.2l.5-23.9l.5 13.5l.5-21.1l.5 8.5l.5-20.4l.5 5.6l.5-19.7l.5 2l.5-18.9l.5 .4l.5-18.5l.5-1.1l.5-17.9l.5-.6l.5-18.1l.5 .3l.5-18.5l.5 3l.5-19.4l.5 6.4l.5-20.2l.5 11l.5-23.3l.5 17.1l.5-26.2l.5 26.5l.5-30.6l.5 30.2l.5-25.1l.5 26.1l.5-17.1l.5 21.8l.5-10.1l.5 19.6l.5-5.6l.5 18.7l.5-2.1l.5 17.2l.5 .6l.5 17.4l.5 1.3l.5 17.6l.5 1.8l.5 16.9l.5 1.5l.5 17.3l.5-.6l.5 17.4l.5-3.3l.5 18.7l.5-6.7l.5 19.8l.5-12.5l.5 23.3l.5-20l.5 25.7l.5-25.7l.5 27l.5-27.4l.5 19.3l.5-21.9l.5 12.2l.5-19.7l.5 6.7l.5-18.7l.5 3l.5-16.9l.5-.3l.5-16.5l.5-2.1l.5-16.1l.5-3l.5-16.4l.5-2.2l.5-16.4l.5-1.2l.5-16.9l.5 .9l.5-17.2l.5 4.5l.5-18.5l.5 8.2l.5-19.3l.5 14.1l.5-22.8l.5 22.6l.5-27.7l.5 28l.5-23l.5 23l.5-14.8l.5 19.9l.5-7.9l.5 18l.5-3.9l.5 16.7l.5-.5l.5 15.9l.5 2.4l.5 15.6l.5 3.2l.5 15.5l.5 3.4l.5 15.7l.5 2.8l.5 15.6l.5 1.1l.5 16l.5-1.5l.5 16.4l.5-4.5l.5 17.7l.5-10.5l.5 20.5l.5-17l.5 24.5l.5-24l.5 22.7l.5-23.1l.5 16.8l.5-19.7l.5 9.5l.5-17.5l.5 4.6l.5-15.9l.5 .6l.5-15.2l.5-2l.5-15l.5-3.3l.5-15l.5-4.2l.5-14.8l.5-3.7l.5-15.1l.5-2.7l.5-15l.5-1l.5-15.2l.5 2.1l.5-16.1l.5 6.3l.5-17.4l.5 12.5l.5-21.5l.5 19.3l.5-23.7l.5 24.5l.5-19.5l.5 20.9l.5-12.8l.5 17.1l.5-5.7l.5 15.9l.5-1.9l.5 15l.5 1.3l.5 14.7l.5 3l.5 14.8l.5 4.1l.5 14.6l.5 4.4l.5 14.6l.5 3.6l.5 14.9l.5 2.1l.5 14.6l.5-.1l.5 15.1l.5-3.1l.5 15.8l.5-7.6l.5 17.7l.5-15.6l.5 22.4l.5-21.4l.5 21.5l.5-21.5l.5 14.2l.5-17.7l.5 7.4l.5-14.9l.5 2.6l.5-14.8l.5 .1l.5-14.6l.5-2.6l.5-14.1l.5-4.3l.5-14.1l.5-5l.5-14.1l.5-4.5l.5-14l.5-4l.5-13.9l.5-2l.5-14l.5 .9l.5-14.9l.5 5l.5-15.3l.5 9.8l.5-18.3l.5 16l.5-20.5l.5 20.8l.5-17l.5 18.8l.5-9.5l.5 14.5l.5-3.7l.5 14.3l.5-.6l.5 13.7l.5 2.4l.5 13.5l.5 4.1l.5 13.6l.5 5.1l.5 13.6l.5 5.3l.5 13.7l.5 4.8l.5 13.6l.5 3.3l.5 13.5l.5 1.5l.5 13.5l.5-1.9l.5 14.1l.5-5.8l.5 15.4l.5-12.5l.5 18.2l.5-17.9l.5 18l.5-17.9l.5 12.3l.5-15.6l.5 5.7l.5-13.7l.5 1.5l.5-13.4l.5-1.6l.5-13.3l.5-3.7l.5-13l.5-5.2l.5-13.3l.5-5.7l.5-13.4l.5-5.3l.5-13.3l.5-4.7l.5-12.9l.5-3.2l.5-12.5l.5-.6l.5-13.2l.5 2.9l.5-13.7l.5 8.3l.5-16.4l.5 14l.5-16.9l.5 16.8l.5-13.8l.5 15.3l.5-7.3l.5 13.3l.5-2l.5 12.5l.5 .8l.5 12.5l.5 3.5l.5 12.4l.5 5.1l.5 12.7l.5 6l.5 12.9l.5 6.1l.5 12.9l.5 5.5l.5 12.7l.5 4.3l.5 12.3l.5 2.7l.5 12l.5-.2l.5 12.1l.5-3.8l.5 13.9l.5-10.1l.5 15.7l.5-15.8l.5 15.8l.5-15.4l.5 8.9l.5-12.6l.5 3.5l.5-11.8l.5-.4l.5-11.9l.5-2.8l.5-11.9l.5-4.7l.5-12.3l.5-5.9l.5-12.6l.5-6.5l.5-12.3l.5-6.4l.5-12.4l.5-5.4l.5-12.1l.5-4l.5-11.8l.5-1.7l.5-11.3l.5 .7l.5-11.4l.5 5.3l.5-13.3l.5 11.6l.5-15.6l.5 16.2l.5-12.3l.5 13.7l.5-5.8l.5 11.5l.5-.4l.5 10.7l.5 2.4l.5 11.3l.5 4.5l.5 11.6l.5 6l.5 11.8l.5 6.7l.5 12.1l.5 6.9l.5 12l.5 6.5l.5 11.6l.5 5.6l.5 11.2l.5 3.5l.5 10.8l.5 1.5l.5 10.3l.5-1.9l.5 11.1l.5-7.6l.5 13.3l.5-12.4l.5 12.6l.5-13.3l.5 7.6l.5-11.1l.5 1.7l.5-10.2l.5-1.8l.5-10.3l.5-4.1l.5-11l.5-5.8l.5-11.2l.5-6.8l.5-11.6l.5-7.3l.5-11.7l.5-7.1l.5-11.4l.5-6.5l.5-11.1l.5-5l.5-10.5l.5-3.2l.5-9.9l.5-.8l.5-9.6l.5 3.7l.5-11.5l.5 9.5l.5-13l.5 12.7l.5-8.9l.5 11l.5-3.3l.5 9.5l.5 .9l.5 9.6l.5 3.3l.5 10.5l.5 5.1l.5 11l.5 6.5l.5 11.3l.5 7.3l.5 11.6l.5 7.4l.5 11.3l.5 7.1l.5 11l.5 6.1l.5 10.6l.5 4.4l.5 9.8l.5 2.4l.5 9.5l.5-.9l.5 9.6l.5-5.2l.5 10.8l.5-9.5l.5 9.5l.5-11l.5 5.2l.5-9.3l.5 .6l.5-9.2l.5-2.5l.5-9.6l.5-4.7l.5-10.3l.5-6.3l.5-11l.5-7.2l.5-11.2l.5-7.6l.5-11.3l.5-7.5l.5-11l.5-6.8l.5-10.6l.5-5.7l.5-9.8l.5-3.8l.5-9.2l.5-1.5l.5-8.7l.5 2l.5-9l.5 6.5l.5-9.4l.5 9.3l.5-6.7l.5 9l.5-1.5l.5 8.4l.5 1.7l.5 8.9l.5 4.1l.5 9.8l.5 5.7l.5 10.3l.5 7.1l.5 10.9l.5 7.6l.5 11.2l.5 7.6l.5 11.1l.5 7.4l.5 10.7l.5 6.5l.5 10.1l.5 5l.5 9.2l.5 3.2l.5 8.4l.5 .5l.5 8.1l.5-3.2l.5 8.1l.5-6.8l.5 6.7l.5-8.1l.5 3l.5-7.9l.5-.7l.5-8.1l.5-3.3l.5-9.1l.5-5.2l.5-9.9l.5-6.6l.5-10.5l.5-7.5l.5-11l.5-7.8l.5-11l.5-7.8l.5-10.7l.5-7.2l.5-10.2l.5-6l.5-9.4l.5-4.5l.5-8.4l.5-2.4l.5-7.5l.5 .4l.5-7l.5 3.7l.5-6.2l.5 6.5l.5-3.8l.5 6.6l.5-.1l.5 7.3l.5 2.6l.5 8.2l.5 4.7l.5 9.2l.5 6.2l.5 10l.5 7.4l.5 10.5l.5 7.9l.5 10.9l.5 8l.5 10.8l.5 7.7l.5 10.3l.5 6.9l.5 9.5l.5 5.7l.5 8.5l.5 3.9l.5 7.4l.5 1.8l.5 6.4l.5-1.3l.5 5.6l.5-4l.5 4.1l.5-5.5l.5 1l.5-6.3l.5-1.9l.5-7.3l.5-4l.5-8.4l.5-5.8l.5-9.4l.5-7l.5-10.1l.5-7.9l.5-10.6l.5-8.1l.5-10.8l.5-8.1l.5-10.3l.5-7.5l.5-9.8l.5-6.6l.5-8.7l.5-5.2l.5-7.5l.5-3.4l.5-6.3l.5-1l.5-5.2l.5 1.7l.5-4l.5 3.8l.5-1.4l.5 5l.5 1.2l.5 6.1l.5 3.5l.5 7.4l.5 5.3l.5 8.7l.5 6.7l.5 9.6l.5 7.6l.5 10.3l.5 8.3l.5 10.4l.5 8.4l.5 10.4l.5 8l.5 10l.5 7.2l.5 9.1l.5 6.1l.5 8l.5 4.6l.5 6.6l.5 2.6l.5 5.4l.5 .2l.5 3.9l.5-2.3l.5 2.4l.5-4.1l.5-.2l.5-5.2l.5-2.8l.5-6.5l.5-4.6l.5-7.9l.5-6.2l.5-9.1l.5-7.3l.5-9.8l.5-8.1l.5-10.4l.5-8.4l.5-10.5l.5-8.3l.5-10.1l.5-7.8l.5-9.4l.5-6.8l.5-8.5l.5-5.5l.5-7.2l.5-3.7l.5-5.9l.5-1.6l.5-4.5l.5 .9l.5-3l.5 3.1l.5-1l.5 4.5l.5 1.7l.5 5.8l.5 3.7l.5 7.2l.5 5.5l.5 8.5l.5 6.8l.5 9.4l.5 7.8l.5 10.1l.5 8.4l.5 10.3l.5 8.6l.5 10.2l.5 8.2l.5 9.7l.5 7.5l.5 8.9l.5 6.3l.5 7.7l.5 4.8l.5 6.4l.5 2.9l.5 5l.5 .5l.5 3.7l.5-1.9l.5 1.9l.5-3.7l.5-.5l.5-5l.5-2.9l.5-6.4l.5-4.8l.5-7.7l.5-6.4l.5-8.8l.5-7.5l.5-9.7l.5-8.3l.5-10.1l.5-8.6l.5-10.3l.5-8.4l.5-10l.5-7.9l.5-9.3l.5-7l.5-8.2l.5-5.8l.5-6.9l.5-4l.5-5.5l.5-1.9l.5-4.2l.5 .6l.5-2.8l.5 2.8l.5-.6l.5 4.1l.5 2l.5 5.5l.5 4l.5 7l.5 5.7l.5 8.2l.5 7.1l.5 9.2l.5 8l.5 9.8l.5 8.6l.5 10.2l.5 8.6l.5 10.1l.5 8.4l.5 9.5l.5 7.6l.5 8.7l.5 6.5l.5 7.6l.5 5l.5 6.1l.5 3.1l.5 4.7l.5 .9l.5 3.3l.5-1.5l.5 1.5l.5-3.3l.5-.9l.5-4.6l.5-3.3l.5-6l.5-5.1l.5-7.4l.5-6.6l.5-8.6l.5-7.8l.5-9.4l.5-8.5l.5-9.9l.5-8.8l.5-10l.5-8.7l.5-9.7l.5-8.2l.5-9l.5-7.3l.5-8l.5-5.9l.5-6.7l.5-4.3l.5-5.2l.5-2.3l.5-3.8l.5 .1l.5-2.1l.5 2.1l.5 0l.5 3.7l.5 2.3l.5 5.2l.5 4.4l.5 6.6l.5 6l.5 7.9l.5 7.3l.5 9l.5 8.2l.5 9.7l.5 8.7l.5 10l.5 8.8l.5 9.9l.5 8.5l.5 9.3l.5 7.9l.5 8.4l.5 6.8l.5 7.2l.5 5.3l.5 5.8l.5 3.5l.5 4.3l.5 1.3l.5 2.8l.5-.8l.5 .8l.5-2.7l.5-1.4l.5-4.3l.5-3.5l.5-5.8l.5-5.3l.5-7.2l.5-6.8l.5-8.4l.5-7.9l.5-9.2l.5-8.7l.5-9.7l.5-9l.5-9.8l.5-8.9l.5-11.1l.5-.8l.5-24.5l.5 12.9l.5-32.8l.5 25l.5-43.9l.5 40.9l.5-62.3l.5 67.2l.5-82.1l.5 83.1l.5-91.4l.5 92.3l.5-85.8l.5 81.7l.5-67.7l.5 70.2l.5-60.1l.5 72.3l.5-56.4l.5 66.5l.5-50.1l.5 65.4l.5-48.5l.5 68.9l.5-50.2l.5 69.1l.5-48.6l.5 66.4l.5-46.9l.5 66l.5-50.3l.5 66.9l.5-49.7l.5 67l.5-56.6l.5 68.6l.5-61l.5 73.2l.5-71l.5 78.7l.5-79.4l.5 75l.5-72.4l.5 68.2l.5-75.4l.5 65.4l.5-69.3l.5 53l.5-66.2l.5 52.8l.5-65.7l.5 50l.5-69.9l.5 48.5l.5-64.5l.5 44.5l.5-66.2l.5 50.9l.5-69.3l.5 48l.5-63.5l.5 50.9l.5-68.9l.5 53.4l.5-69.4l.5 59l.5-67.4l.5 60.7l.5-68.5l.5 67.1l.5-74.9l.5 79.1l.5-75.3l.5 76.4l.5-66.3l.5 69.9l.5-58.7l.5 69.6l.5-55.5l.5 66.4l.5-47.1l.5 63.3l.5-45.7l.5 66.5l.5-50.1l.5 65.2l.5-46.6l.5 69.3l.5-46.9l.5 66l.5-52.8l.5 66.8l.5-51.6l.5 67.7l.5-53.3l.5 68.2l.5-61.2l.5 69.9l.5-68.8l.5 77.2l.5-77.6l.5 76.6l.5-72.6l.5 66.6l.5-73.9l.5 61.2l.5-67.6l.5 54l.5-66.6l.5 55.2l.5-69.1l.5 47.7l.5-63.1l.5 44.9l.5-64.1l.5 47.6l.5-67l.5 45l.5-64.1l.5 49.7l.5-68.1l.5 49.3l.5-66l.5 55.5l.5-69.5l.5 58.5l.5-67.2l.5 58.5l.5-67.9l.5 66.8l.5-72.3l.5 75.7l.5-70.1l.5 69.8l.5-62.9l.5 69.4l.5-59.1l.5 69.5l.5-53.3l.5 64.7l.5-50.3l.5 67.6l.5-47.7l.5 64.6l.5-45.5l.5 64.5l.5-46.2l.5 67.3l.5-47.1l.5 63.5l.5-46.4l.5 64l.5-52.4l.5 66.1l.5-53.3l.5 69.2l.5-61.4l.5 69.4l.5-65.6l.5 71.1l.5-69.8l.5 72.5l.5-69.8l.5 59.4l.5-67.3l.5 61.9l.5-69.2l.5 53l.5-65l.5 51.1l.5-64.2l.5 48.9l.5-68.2l.5 46.2l.5-61.5l.5 44.9l.5-64.6l.5 44.5l.5-65.3l.5 46.4l.5-63.8l.5 48l.5-66l.5 52.4l.5-64.8l.5 55.3l.5-67.4l.5 60.1l.5-68.1l.5 65.1l.5-67.7l.5 70.4l.5-64.4l.5 68.1l.5-60l.5 65l.5-56.3l.5 67.3l.5-52.3l.5 63.6l.5-47.7l.5 63.8l.5-47.5l.5 66.4l.5-46.7l.5 65.2l.5-46.5l.5 66.9l.5-45.7l.5 64.3l.5-48.6l.5 64.4l.5-50.3l.5 67.1l.5-55.2l.5 68l.5-58.6l.5 64.6l.5-59.1l.5 63.3l.5-62.7l.5 67l.5-67.5l.5 57.9l.5-62.5l.5 55.1l.5-64.2l.5 50.7l.5-64.5l.5 50.3l.5-62.6l.5 45.6l.5-65.6l.5 46l.5-64.6l.5 46.8l.5-62.4l.5 41.8l.5-60.9l.5 44.9l.5-63.3l.5 49l.5-64.8l.5 48.6l.5-63.5l.5 52l.5-63.4l.5 57.8l.5-66.7l.5 64.1l.5-66.4l.5 67.8l.5-65.5l.5 68.2l.5-59.5l.5 66.5l.5-56.5l.5 66.4l.5-52l.5 62.9l.5-45l.5 63.2l.5-46.6l.5 64.2l.5-43.3l.5 61.9l.5-45.9l.5 65.6l.5-45.1l.5 63.3l.5-48l.5 65.8l.5-48.7l.5 65.1l.5-52.2l.5 63.1l.5-57.2l.5 66.1l.5-59.9l.5 64.3l.5-64.6l.5 63.7l.5-62.3l.5 60.6l.5-67.9l.5 55.7l.5-64.9l.5 55.7l.5-66.2l.5 50.1l.5-66.3l.5 46.6l.5-62.6l.5 43.8l.5-62.6l.5 45.1l.5-63.5l.5 44.3l.5-64.7l.5 48.5l.5-65l.5 49.2l.5-65.2l.5 51l.5-64.6l.5 54.8l.5-65.6l.5 57.9l.5-66.9l.5 63l.5-65.1l.5 64.1l.5-61.8l.5 65.1l.5-56.1l.5 61.7l.5-49.4l.5 60.5l.5-50.1l.5 63.2l.5-46.7l.5 63.9l.5-43.4l.5 61.4l.5-44.5l.5 65l.5-44.9l.5 64.6l.5-47.2l.5 65.9l.5-47.1l.5 62.3l.5-50.1l.5 66.2l.5-51.7l.5 64.5l.5-54.5l.5 63.7l.5-62l.5 66.1l.5-63.5l.5 64.6l.5-64.1l.5 57.2l.5-61.9l.5 52l.5-61.9l.5 48.9l.5-60.9l.5 48.9l.5-65l.5 46.3l.5-61.9l.5 43.8l.5-61.8l.5 41.5l.5-62.3l.5 45.8l.5-63.6l.5 45.7l.5-65.3l.5 48.2l.5-65l.5 51.3l.5-65.1l.5 53.1l.5-64l.5 59.4l.5-64.5l.5 62.3l.5-63.8l.5 61.8l.5-62.3l.5 66.3l.5-57l.5 61.2l.5-50l.5 59.6l.5-47.5l.5 61.4l.5-45.2l.5 63.7l.5-44.6l.5 60.1l.5-40.5l.5 61.4l.5-42.9l.5 61.9l.5-45.1l.5 61.9l.5-41.7l.5 61.9l.5-50.3l.5 63.5l.5-51.8l.5 65.4l.5-54.8l.5 61.1l.5-57.5l.5 62.2l.5-61.1l.5 64.4l.5-64.4l.5 58.5l.5-63.9l.5 55.5l.5-64.6l.5 50.1l.5-59.5l.5 44.3l.5-62.2l.5 48l.5-62.8l.5 41.9l.5-61.1l.5 41.7l.5-61.7l.5 44.6l.5-64.7l.5 45.1l.5-60.9l.5 46.4l.5-61.5l.5 47.7l.5-63.1l.5 53.7l.5-63.6l.5 55l.5-61.6l.5 57.8l.5-62.4l.5 64.9l.5-60.9l.5 63.3l.5-55.2l.5 60.2l.5-51.3l.5 61l.5-48.3l.5 64.3l.5-44.6l.5 59.4l.5-42.3l.5 58.9l.5-42l.5 62.2l.5-41.1l.5 61.9l.5-44.6l.5 63.6l.5-47.8l.5 61.4l.5-45l.5 60.8l.5-49.7l.5 64l.5-52.3l.5 59.8l.5-55.5l.5 62.6l.5-60.9l.5 58.6l.5-61.3l.5 57l.5-60.1l.5 50.1l.5-62.2l.5 49.1l.5-60.4l.5 46.5l.5-59.3l.5 41l.5-60l.5 44.6l.5-64.1l.5 43.9l.5-61.8l.5 43.1l.5-60.2l.5 39.5l.5-60.1l.5 45.5l.5-59.8l.5 46.9l.5-61.3l.5 50.4l.5-59.6l.5 53.6l.5-62.6l.5 59.3l.5-62.2l.5 61l.5-58.9l.5 63.4l.5-55.4l.5 59.7l.5-47.6l.5 60.9l.5-48.1l.5 58.4l.5-42.3l.5 58.9l.5-42.4l.5 62.9l.5-43.4l.5 60.1l.5-40.5l.5 61.1l.5-41.2l.5 59.5l.5-41.5l.5 57.4l.5-43l.5 59.3l.5-49.6l.5 61.9l.5-53.7l.5 61.1l.5-57.4l.5 67.9l.5-65.2l.5 61.9l.5-61.3l.5 56.8l.5-61.1l.5 49l.5-56.2l.5 46.5l.5-61.9l.5 45.3l.5-59.2l.5 43.2l.5-61l.5 43.2l.5-62l.5 40.4l.5-59.5l.5 41.7l.5-57.9l.5 38.9l.5-59.1l.5 42.2l.5-55.3l.5 42.4l.5-58l.5 47.3l.5-59.7l.5 55.2l.5-62.3l.5 60.4l.5-66.1l.5 68.8l.5-62.5l.5 62l.5-55.4l.5 59.1l.5-45.4l.5 55.6l.5-42l.5 56.7l.5-40.2l.5 55.9l.5-39.6l.5 59.8l.5-39.4l.5 58l.5-41.3l.5 58.7l.5-40.1l.5 59.7l.5-42l.5 58.6l.5-43.9l.5 58l.5-42.9l.5 56.9l.5-50.8l.5 61.2l.5-58.5l.5 64.8l.5-64.4l.5 61.7l.5-62.4l.5 58.9l.5-61l.5 50.2l.5-57.1l.5 45l.5-57.7l.5 43.3l.5-60.2l.5 43.4l.5-60.3l.5 40.8l.5-59.2l.5 39.9l.5-59.6l.5 40.1l.5-58.7l.5 41.1l.5-59.3l.5 44l.5-59.9l.5 43.6l.5-55.7l.5 44.4l.5-54.5l.5 50.9l.5-59.3l.5 57.6l.5-64.5l.5 64.2l.5-59.6l.5 62.3l.5-52.2l.5 55.1l.5-44.4l.5 54.7l.5-39.6l.5 54.7l.5-39.9l.5 58l.5-40.8l.5 56.1l.5-38.6l.5 59.3l.5-39.8l.5 58.6l.5-38.3l.5 56.6l.5-39.1l.5 54.2l.5-39.1l.5 55.2l.5-44.8l.5 58l.5-48.3l.5 57.3l.5-51.5l.5 58.5l.5-58l.5 58.6l.5-59.6l.5 53l.5-58.4l.5 46l.5-53.5l.5 44.4l.5-56.1l.5 39.5l.5-57.1l.5 40.4l.5-55l.5 36.6l.5-58.1l.5 38.8l.5-57.8l.5 38.9l.5-56.6l.5 39.8l.5-55.5l.5 39.2l.5-55.9l.5 39.8l.5-54.8l.5 45.3l.5-55.2l.5 49.2l.5-57.1l.5 54.2l.5-58.2l.5 58.1l.5-53.2l.5 54.7l.5-48.4l.5 56.1l.5-43.3l.5 54l.5-42.8l.5 57.1l.5-39.2l.5 54.5l.5-37.8l.5 54.5l.5-36.3l.5 57l.5-36l.5 53.3l.5-35.5l.5 54l.5-36.7l.5 55.7l.5-40.9l.5 54.4l.5-39.9l.5 52.3l.5-46.8l.5 56.3l.5-50.9l.5 56.1l.5-55.4l.5 56.3l.5-56.7l.5 48l.5-51l.5 42.2l.5-50.8l.5 41l.5-53.3l.5 39.4l.5-57.3l.5 39.4l.5-55.7l.5 37.3l.5-55.6l.5 35.5l.5-53.6l.5 34.3l.5-53.1l.5 36.1l.5-56.2l.5 38.7l.5-52.7l.5 38.7l.5-50.5l.5 39.5l.5-51.4l.5 46.5l.5-52.5l.5 50.8l.5-56.3l.5 54.4l.5-52l.5 56l.5-45.7l.5 51.5l.5-40.8l.5 52.1l.5-39.6l.5 54.1l.5-37.8l.5 51.5l.5-34.7l.5 54l.5-34.2l.5 54.1l.5-35.8l.5 53.2l.5-33.8l.5 51.6l.5-36.5l.5 54.3l.5-37.6l.5 53.6l.5-40.5l.5 49.6l.5-41.2l.5 50.8l.5-48.9l.5 55.8l.5-53.6l.5 52.6l.5-53.4l.5 46.8l.5-51.9l.5 44.9l.5-52.3l.5 40.8l.5-51.6l.5 36l.5-53.7l.5 37.3l.5-53.3l.5 33.8l.5-53.7l.5 35.4l.5-54.1l.5 34.5l.5-53.3l.5 35.1l.5-51.6l.5 34.3l.5-49.1l.5 36.3l.5-52l.5 40.3l.5-49.8l.5 44.6l.5-51.4l.5 48.8l.5-55.7l.5 58.1l.5-51.4l.5 52.6l.5-46.5l.5 51.9l.5-39.1l.5 48.2l.5-36.1l.5 50.1l.5-33.5l.5 51.8l.5-35.1l.5 51.8l.5-32.6l.5 50.9l.5-33l.5 53.4l.5-32.6l.5 51.5l.5-36l.5 51.6l.5-34.1l.5 47.8l.5-37.3l.5 51l.5-40.9l.5 51l.5-46.9l.5 54l.5-56.6l.5 53.4l.5-53.5l.5 49.1l.5-50.3l.5 40.7l.5-49l.5 35.8l.5-48.6l.5 35.7l.5-52.4l.5 34.8l.5-52.8l.5 33.1l.5-50.2l.5 31.5l.5-52.2l.5 33.8l.5-51.8l.5 32.8l.5-51.5l.5 34.9l.5-50.5l.5 39l.5-51l.5 37.7l.5-49.3l.5 44.8l.5-52.6l.5 50.6l.5-53l.5 52.2l.5-49.5l.5 52.8l.5-45.4l.5 51.2l.5-40.5l.5 50.6l.5-34.9l.5 48.5l.5-35.2l.5 52.9l.5-33.4l.5 51.1l.5-34.1l.5 51.2l.5-29.7l.5 49l.5-30.8l.5 50.4l.5-33.6l.5 51.3l.5-36.6l.5 51l.5-37.5l.5 46.9l.5-37.3l.5 49.4l.5-47.4l.5 54.5l.5-56l.5 53.8l.5-52.1l.5 46.7l.5-50.7l.5 38.9l.5-46.6l.5 34.4l.5-48.2l.5 35.8l.5-50.9l.5 34.5l.5-49.5l.5 29.3l.5-49.7l.5 30.6l.5-49.5l.5 31.7l.5-51.4l.5 32.7l.5-49l.5 32.4l.5-47.9l.5 32.9l.5-44.6l.5 35l.5-46.2l.5 41.2l.5-51.1l.5 48.1l.5-51.1l.5 51.2l.5-46.6l.5 47.7l.5-39.3l.5 45.7l.5-34.5l.5 44.2l.5-32.3l.5 47l.5-30.2l.5 45.8l.5-28.7l.5 47.3l.5-30.2l.5 49.6l.5-30.3l.5 50.2l.5-30.7l.5 49.7l.5-30.8l.5 45.1l.5-32l.5 47.4l.5-32.6l.5 45.6l.5-37.2l.5 46.6l.5-44.2l.5 49.5l.5-48.9l.5 48.1l.5-47.4l.5 40.4l.5-45l.5 37.1l.5-44.9l.5 31.5l.5-43.6l.5 29.1l.5-46.5l.5 31.1l.5-46.7l.5 27l.5-46.7l.5 29.3l.5-47.6l.5 28.6l.5-46.5l.5 27.2l.5-45.4l.5 30.5l.5-45.9l.5 31.2l.5-44.1l.5 31.4l.5-42.3l.5 36.3l.5-44.7l.5 42.9l.5-45.8l.5 47.1l.5-43.6l.5 45l.5-38.5l.5 44.5l.5-34l.5 44.8l.5-30.4l.5 43.7l.5-29l.5 45.8l.5-27.4l.5 45.9l.5-26.2l.5 46.7l.5-27.4l.5 45.9l.5-28.4l.5 46.7l.5-27.9l.5 42.9l.5-29.7l.5 43.8l.5-29.8l.5 42.1l.5-33.1l.5 41.8l.5-37.5l.5 42.2l.5-41.5l.5 41.4l.5-43.3l.5 39.8l.5-42.2l.5 32.1l.5-40.9l.5 28.9l.5-43.6l.5 30l.5-44.7l.5 26.7l.5-43.8l.5 25.4l.5-42.6l.5 23.5l.5-42.7l.5 24.9l.5-44.1l.5 26l.5-44.8l.5 28.7l.5-44.1l.5 28.4l.5-40.7l.5 31l.5-41.3l.5 33.2l.5-38.8l.5 36.9l.5-41.2l.5 40.8l.5-37.7l.5 40.2l.5-32.2l.5 38.4l.5-30l.5 42.6l.5-28.6l.5 42.2l.5-26.1l.5 43.6l.5-26l.5 44.1l.5-26.8l.5 45l.5-25.1l.5 44.3l.5-26.3l.5 43l.5-24.2l.5 41.8l.5-27.7l.5 40.8l.5-26.1l.5 37.8l.5-29.3l.5 40l.5-35.4l.5 39.6l.5-39.6l.5 39.7l.5-40.9l.5 34.6l.5-38.6l.5 31.8l.5-40.2l.5 27.9l.5-40.6l.5 26.2l.5-42.3l.5 26.3l.5-42.7l.5 22.9l.5-41.4l.5 23.2l.5-42l.5 21.5l.5-40.7l.5 24.4l.5-42.3l.5 25.5l.5-40.6l.5 25.3l.5-39.6l.5 27.9l.5-37.6l.5 33.1l.5-39.4l.5 36.1l.5-39.4l.5 38.6l.5-35.8l.5 38.2l.5-31.4l.5 39.3l.5-29.3l.5 39l.5-25.1l.5 40.1l.5-25.2l.5 41l.5-23.6l.5 42.5l.5-23.3l.5 42.4l.5-22.7l.5 41.6l.5-23.8l.5 42l.5-23.2l.5 39.1l.5-23.8l.5 37.2l.5-23.7l.5 36.2l.5-29.1l.5 39.4l.5-34.9l.5 39.7l.5-40.2l.5 40l.5-40.1l.5 33.8l.5-37.9l.5 28.7l.5-35.4l.5 24.2l.5-38.6l.5 24.9l.5-38.8l.5 22.4l.5-41.2l.5 21.4l.5-39.7l.5 22.3l.5-40.9l.5 21.1l.5-40.7l.5 22l.5-38.1l.5 22.4l.5-39.3l.5 25l.5-36.8l.5 24.8l.5-36.8l.5 32.1l.5-40.3l.5 38.7l.5-41.7l.5 39.5l.5-36.4l.5 40.1l.5-29.6l.5 33.9l.5-24.5l.5 36.3l.5-22.5l.5 35.9l.5-20.9l.5 38.8l.5-21.3l.5 37.4l.5-18.1l.5 38.1l.5-19.5l.5 38.2l.5-19.8l.5 38.2l.5-21.2l.5 37l.5-20.8l.5 36.4l.5-23.4l.5 34.5l.5-26.1l.5 34.7l.5-30.2l.5 37.9l.5-39l.5 38.5l.5-39.5l.5 34.5l.5-36.4l.5 25.1l.5-34.3l.5 22.4l.5-35.3l.5 22.4l.5-36.1l.5 19.4l.5-38.5l.5 18.8l.5-36.6l.5 17.2l.5-35.7l.5 17.8l.5-36.3l.5 17.8l.5-35.6l.5 19.2l.5-35.7l.5 21.9l.5-34l.5 22l.5-33.1l.5 27.2l.5-34.4l.5 34.5l.5-38.1l.5 37.4l.5-34l.5 34.6l.5-25.9l.5 32.3l.5-22.4l.5 31.9l.5-19l.5 34.1l.5-18l.5 34.1l.5-17.5l.5 35.3l.5-16.7l.5 36.2l.5-16.7l.5 36l.5-17.3l.5 34.8l.5-16.4l.5 32.8l.5-17.2l.5 32.8l.5-20.8l.5 32.3l.5-24l.5 32.6l.5-29.5l.5 35.2l.5-34.7l.5 35.4l.5-33.8l.5 28.1l.5-33.7l.5 23l.5-30.8l.5 18.9l.5-31.6l.5 17.5l.5-33.3l.5 17.4l.5-35l.5 16.4l.5-34.2l.5 15.9l.5-34.5l.5 15.2l.5-34.6l.5 16.5l.5-34.6l.5 16.9l.5-31.3l.5 17.6l.5-30l.5 19.7l.5-30.4l.5 23.5l.5-31.3l.5 29l.5-32.7l.5 32.2l.5-28.1l.5 30l.5-22.2l.5 30l.5-20.1l.5 30.5l.5-16.8l.5 30.8l.5-15.5l.5 32.6l.5-16l.5 34.3l.5-15.8l.5 33.9l.5-13.8l.5 32.6l.5-14.3l.5 32.5l.5-15l.5 32l.5-16.5l.5 29.8l.5-16.4l.5 28.4l.5-19.6l.5 28.9l.5-24.8l.5 30.3l.5-29.4l.5 29.5l.5-29.4l.5 22.6l.5-27.4l.5 19.6l.5-28.4l.5 16l.5-29l.5 15.3l.5-31.5l.5 15.2l.5-31.6l.5 13.1l.5-32.8l.5 14l.5-32.8l.5 12.9l.5-31.2l.5 12.5l.5-29.3l.5 13.6l.5-29.1l.5 14.9l.5-29l.5 17.1l.5-26.8l.5 21.4l.5-28.4l.5 25.3l.5-28.1l.5 27.1l.5-24.5l.5 28.1l.5-20.2l.5 26.9l.5-17.2l.5 27.9l.5-14.6l.5 28.6l.5-12.6l.5 28.4l.5-10.9l.5 29.8l.5-11.9l.5 30.1l.5-10.2l.5 29.7l.5-10.6l.5 29.2l.5-12.3l.5 28.7l.5-12.7l.5 27.2l.5-15.5l.5 26l.5-15.9l.5 25l.5-21.6l.5 26.2l.5-23.6l.5 24.2l.5-26.1l.5 20.6l.5-24.9l.5 16.9l.5-25.4l.5 13.7l.5-27.2l.5 13.1l.5-28.6l.5 11.1l.5-28.3l.5 10.5l.5-29.6l.5 10.3l.5-28.8l.5 9.9l.5-28.2l.5 9.4l.5-27.6l.5 10.9l.5-26.3l.5 13.3l.5-26.3l.5 15l.5-24l.5 17l.5-24.1l.5 20.7l.5-23.5l.5 23l.5-20.9l.5 23.9l.5-16.5l.5 23.6l.5-13l.5 24.7l.5-12.6l.5 25.9l.5-10.3l.5 27.2l.5-9.2l.5 27.7l.5-9.6l.5 27.6l.5-8.5l.5 27.7l.5-8.2l.5 26.2l.5-9.1l.5 26.1l.5-11l.5 24.9l.5-11.9l.5 24.3l.5-15.2l.5 23.6l.5-19.1l.5 24.7l.5-22.6l.5 21.2l.5-23.4l.5 18.9l.5-23l.5 13.7l.5-22.1l.5 10.5l.5-23.5l.5 9.3l.5-24.2l.5 8l.5-26.3l.5 8.2l.5-26.1l.5 7.1l.5-26.8l.5 6.9l.5-25.8l.5 8.5l.5-25.4l.5 8l.5-23.6l.5 9.9l.5-22.9l.5 11.5l.5-22l.5 15l.5-22.1l.5 20.5l.5-22.6l.5 22.6l.5-19.8l.5 21.8l.5-14.2l.5 20.5l.5-10.8l.5 22.6l.5-9.4l.5 23.5l.5-8.1l.5 24.2l.5-7.3l.5 25.5l.5-5.8l.5 24.4l.5-5.7l.5 24.8l.5-5.8l.5 24.2l.5-6.9l.5 23.7l.5-8.1l.5 22l.5-9.6l.5 21.2l.5-12.2l.5 20.5l.5-16l.5 22.8l.5-21.8l.5 21.5l.5-22.2l.5 15.9l.5-20.6l.5 12.1l.5-20.5l.5 8l.5-21.2l.5 7.3l.5-21.9l.5 4.9l.5-23l.5 5.3l.5-23.6l.5 4.1l.5-23.3l.5 4.7l.5-23.6l.5 5.7l.5-22.5l.5 5.2l.5-20.9l.5 6.9l.5-20.2l.5 9.5l.5-19.1l.5 13l.5-20.9l.5 18.8l.5-21.4l.5 20.3l.5-18l.5 20.8l.5-13.1l.5 19.5l.5-8.6l.5 19.2l.5-6.4l.5 20.7l.5-5.1l.5 21.8l.5-4.2l.5 22.3l.5-3.7l.5 22.1l.5-3l.5 21.8l.5-3.1l.5 21.2l.5-3.9l.5 20.9l.5-5.1l.5 19l.5-6.9l.5 18.7l.5-9.7l.5 18.2l.5-13.4l.5 19.4l.5-18.4l.5 18.1l.5-19.3l.5 13.2l.5-17l.5 8.4l.5-17.3l.5 5.6l.5-18.3l.5 4.3l.5-19.6l.5 2.8l.5-20.2l.5 2.1l.5-21.2l.5 2.1l.5-20.4l.5 1.4l.5-20.6l.5 2.2l.5-19.7l.5 3.7l.5-18.5l.5 3.9l.5-16.7l.5 5.9l.5-16.6l.5 10.1l.5-17l.5 14.1l.5-17.1l.5 16.6l.5-13.4l.5 16.4l.5-9.2l.5 16l.5-5.6l.5 16.6l.5-3.7l.5 17.2l.5-1.9l.5 18.6l.5-1.1l.5 19.4l.5-.9l.5 19.6l.5-.5l.5 19.8l.5-1.2l.5 19l.5-1l.5 17.4l.5-2.3l.5 16.4l.5-3.3l.5 15l.5-6.1l.5 14.6l.5-9.6l.5 14.5l.5-13.6l.5 13.1l.5-14.2l.5 9.5l.5-13.8l.5 5.4l.5-14.6l.5 3.1l.5-15.8l.5 1.2l.5-16.5l.5-.1l.5-17.4l.5-.4l.5-18.4l.5-.9l.5-18.2l.5-.4l.5-18.2l.5-.4l.5-17.1l.5 .7l.5-16l.5 1.6l.5-14.3l.5 3.5l.5-13.5l.5 6.4l.5-12.8l.5 9.7l.5-12.3l.5 12.1l.5-9.3l.5 12.1l.5-5.4l.5 12.7l.5-2.6l.5 13.5l.5-.8l.5 15.4l.5 .2l.5 15.7l.5 1.7l.5 16.4l.5 2.2l.5 16.8l.5 2.2l.5 16.8l.5 2l.5 15.9l.5 1.4l.5 15.4l.5 0l.5 14.2l.5-1.4l.5 12.8l.5-3.5l.5 11.6l.5-6.2l.5 10.3l.5-9l.5 9.5l.5-10.6l.5 5.6l.5-11.1l.5 3l.5-12.4l.5 1.1l.5-13.4l.5-.7l.5-15l.5-2l.5-15.3l.5-2.6l.5-15.7l.5-3.4l.5-16l.5-2.7l.5-15.7l.5-2.6l.5-14.7l.5-1.9l.5-13.6l.5-.7l.5-11.8l.5 .7l.5-10.5l.5 3.2l.5-9.7l.5 6.1l.5-8.1l.5 8.2l.5-5.9l.5 9.6l.5-3.4l.5 10.5l.5-.5l.5 11.6l.5 1.3l.5 12.9l.5 2.5l.5 13.7l.5 3.5l.5 14.8l.5 4.1l.5 14.8l.5 4.3l.5 14.5l.5 4l.5 14.2l.5 3.1l.5 13.1l.5 2.4l.5 11.7l.5 1l.5 10.4l.5-1.2l.5 9.4l.5-4l.5 8.2l.5-6.4l.5 6.5l.5-8.2l.5 3.8l.5-9l.5 .7l.5-9.8l.5-1.8l.5-10.9l.5-3.2l.5-12.3l.5-4.1l.5-13.2l.5-4.9l.5-13.8l.5-5.3l.5-13.5l.5-5.4l.5-13.3l.5-4.8l.5-12.4l.5-4.2l.5-11.4l.5-2.7l.5-10l.5-1.2l.5-8.4l.5 1.1l.5-7.7l.5 4.4l.5-6.6l.5 6.5l.5-3.9l.5 7.3l.5-.9l.5 8l.5 1.8l.5 9.3l.5 3.4l.5 10.6l.5 4.9l.5 11.8l.5 5.7l.5 12.2l.5 6.4l.5 12.4l.5 6.6l.5 12.4l.5 6.2l.5 11.7l.5 5.8l.5 10.8l.5 4.6l.5 9.5l.5 3.2l.5 8.1l.5 1.1l.5 6.9l.5-1.6l.5 6.3l.5-4.5l.5 4.3l.5-6l.5 1.5l.5-6.7l.5-1.6l.5-7.5l.5-3.8l.5-9l.5-5.2l.5-10.1l.5-6.4l.5-10.9l.5-7.2l.5-11.3l.5-7.6l.5-11.4l.5-7.6l.5-11l.5-7.1l.5-10.3l.5-6.2l.5-9.1l.5-5l.5-7.8l.5-3.2l.5-6.5l.5-.8l.5-5.6l.5 2.3l.5-4.6l.5 4.4l.5-2.1l.5 5.6l.5 .8l.5 6.4l.5 3.5l.5 7.6l.5 5.1l.5 9l.5 6.4l.5 10l.5 7.4l.5 10.6l.5 7.9l.5 11l.5 8l.5 10.9l.5 7.7l.5 10.3l.5 7.1l.5 9.4l.5 6l.5 8.1l.5 4.6l.5 6.7l.5 2.5l.5 5.5l.5 0l.5 4.4l.5-2.8l.5 2.7l.5-4.3l.5-.1l.5-5.3l.5-2.7l.5-6.6l.5-4.6l.5-8l.5-6.2l.5-9.2l.5-7.2l.5-10.1l.5-8l.5-10.6l.5-8.3l.5-10.7l.5-8.2l.5-10.3l.5-7.8l.5-9.6l.5-6.9l.5-8.4l.5-5.7l.5-7l.5-4.1l.5-5.5l.5-1.9l.5-4.2l.5 .5l.5-2.8l.5 2.8l.5-.6l.5 4.2l.5 2l.5 5.5l.5 4.2l.5 6.9l.5 5.8l.5 8.3l.5 7.1l.5 9.3l.5 8l.5 10l.5 8.6l.5 10.3l.5 8.7l.5 10.1l.5 8.5l.5 9.6l.5 7.7l.5 8.7l.5 6.7l.5 7.4l.5 5.3l.5 5.9l.5 3.4l.5 4.5l.5 1.1l.5 3.2l.5-1.4l.5 1.3l.5-3.1l.5-1.2l.5-4.3l.5-3.6l.5-5.8l.5-5.4l.5-7.2l.5-6.9l.5-8.5l.5-7.9l.5-9.5l.5-8.6l.5-9.9l.5-8.9l.5-10l.5-8.9l.5-9.7l.5-8.3l.5-9l.5-7.4l.5-8l.5-6.1l.5-6.6l.5-4.5l.5-5l.5-2.6l.5-3.5l.5-.2l.5-2l.5 2l.5 .2l.5 3.5l.5 2.6l.5 5l.5 4.5l.5 6.6l.5 6.1l.5 8l.5 7.4l.5 9l.5 8.3l.5 9.7l.5 8.8l.5 10.1l.5 8.9l.5 9.9l.5 8.7l.5 9.3l.5 8l.5 8.5l.5 6.8l.5 7.3l.5 5.3l.5 5.8l.5 3.7l.5 4.2l.5 1.4l.5 2.7l.5-.8l.5 .8l.5-2.6l.5-1.5l.5-4.3l.5-3.6l.5-5.7l.5-5.5l.5-7.2l.5-6.8l.5-8.6l.5-7.9l.5-9.4l.5-8.6l.5-9.9l.5-8.9l.5-10.1l.5-8.8l.5-9.7l.5-8.3l.5-9l.5-7.4l.5-7.9l.5-6.2l.5-6.5l.5-4.6l.5-5l.5-2.6l.5-3.4l.5-.3l.5-1.7l.5 1.7l.5 .3l.5 3.5l.5 2.6l.5 4.9l.5 4.6l.5 6.5l.5 6.2l.5 7.9l.5 7.4l.5 9l.5 8.3l.5 9.7l.5 8.9l.5 10l.5 8.9l.5 9.9l.5 8.6l.5 9.4l.5 7.9l.5 8.5l.5 6.8l.5 7.3l.5 5.4l.5 5.8l.5 3.6l.5 4.1l.5 1.6l.5 2.5l.5-.6l.5 .6l.5-2.5l.5-1.5l.5-4.2l.5-3.7l.5-5.7l.5-5.4l.5-7.3l.5-6.8l.5-8.5l.5-7.9l.5-9.4l.5-8.6l.5-9.9l.5-8.9l.5-10l.5-8.8l.5-9.7l.5-8.3l.5-9l.5-7.4l.5-8l.5-6.1l.5-6.5l.5-4.6l.5-4.9l.5-2.7l.5-3.4l.5-.3l.5-1.7l.5 1.7l.5 .3l.5 3.4l.5 2.7l.5 5l.5 4.5l.5 6.5l.5 6.2l.5 7.9l.5 7.4l.5 9l.5 8.3l.5 9.7l.5 8.8l.5 10l.5 8.9l.5 9.9l.5 8.6l.5 9.4l.5 7.9l.5 8.5l.5 6.8l.5 7.2l.5 5.4l.5 5.8l.5 3.6l.5 4.2l.5 1.4l.5 2.8l.5-.9l.5 .8l.5-2.7l.5-1.4l.5-4.2l.5-3.6l.5-5.8l.5-5.4l.5-7.3l.5-6.8l.5-8.5l.5-7.8l.5-9.4l.5-8.6l.5-9.9l.5-8.9l.5-10l.5-8.8l.5-9.7l.5-8.3l.5-9l.5-7.4l.5-7.9l.5-6.1l.5-6.5l.5-4.6l.5-5l.5-2.5l.5-3.6l.5-.1l.5-1.9l.5 1.9l.5 .1l.5 3.6l.5 2.5l.5 5l.5 4.6l.5 6.5l.5 6.1l.5 8l.5 7.3l.5 9l.5 8.3l.5 9.7l.5 8.8l.5 10l.5 8.9l.5 9.9l.5 8.5l.5 9.4l.5 7.9l.5 8.5l.5 6.8l.5 7.2l.5 5.4l.5 5.8l.5 3.6l.5 4.3l.5 1.2l.5 3l.5-1.1l.5 1l.5-2.9l.5-1.3l.5-4.2l.5-3.6l.5-5.8l.5-5.4l.5-7.2l.5-6.8l.5-8.5l.5-7.9l.5-9.4l.5-8.5l.5-9.9l.5-8.9l.5-10l.5-8.8l.5-9.7l.5-8.3l.5-9l.5-7.3l.5-7.9l.5-6.2l.5-6.5l.5-4.5l.5-5l.5-2.5l.5-3.7l.5 .1l.5-2.2l.5 2.1l.5 0l.5 3.7l.5 2.4l.5 5.1l.5 4.5l.5 6.6l.5 6.1l.5 7.9l.5 7.3l.5 9l.5 8.3l.5 9.7l.5 8.8l.5 10l.5 8.9l.5 9.9l.5 8.6l.5 9.3l.5 7.9l.5 8.5l.5 6.8l.5 7.2l.5 5.4l.5 5.8l.5 3.5l.5 4.3l.5 1.3l.5 2.9l.5-1.1l.5 1.2l.5-3l.5-1.2l.5-4.4l.5-3.5l.5-5.8l.5-5.4l.5-7.2l.5-6.8l.5-8.5l.5-7.9l.5-9.4l.5-8.5l.5-9.9l.5-8.9l.5-10l.5-8.8l.5-9.7l.5-8.3l.5-8.9l.5-7.4l.5-7.9l.5-6.2l.5-6.5l.5-4.5l.5-5l.5-2.5l.5-3.6l.5-.1l.5-2.1l.5 2.1l.5 .1l.5 3.6l.5 2.5l.5 5l.5 4.5l.5 6.6l.5 6.1l.5 7.9l.5 7.3l.5 9l.5 8.3l.5 9.7l.5 8.8l.5 10l.5 8.9l.5 9.9l.5 8.5l.5 9.4l.5 7.9l.5 8.5l.5 6.8l.5 7.2l.5 5.4l.5 5.7l.5 3.6l.5 4.3l.5 1.4l.5 2.7l.5-.8l.5 .9l.5-2.8l.5-1.4l.5-4.2l.5-3.6l.5-5.8l.5-5.4l.5-7.2l.5-6.8l.5-8.5l.5-7.9l.5-9.4l.5-8.5l.5-9.9l.5-8.9l.5-10l.5-8.8l.5-9.7l.5-8.3l.5-9l.5-7.3l.5-7.9l.5-6.2l.5-6.5l.5-4.5l.5-5l.5-2.6l.5-3.4l.5-.3l.5-1.8l.5 1.8l.5 .3l.5 3.4l.5 2.6l.5 5l.5 4.5l.5 6.5l.5 6.2l.5 7.9l.5 7.4l.5 8.9l.5 8.3l.5 9.7l.5 8.8l.5 10l.5 8.9l.5 9.9l.5 8.6l.5 9.3l.5 7.9l.5 8.5l.5 6.8l.5 7.2l.5 5.4l.5 5.7l.5 3.7l.5 4.1l.5 1.6l.5 2.5l.5-.6l.5 .6l.5-2.5l.5-1.5l.5-4.2l.5-3.6l.5-5.8l.5-5.4l.5-7.2l.5-6.8l.5-8.5l.5-7.9l.5-9.4l.5-8.6l.5-9.8l.5-8.9l.5-10l.5-8.8l.5-9.7l.5-8.3l.5-8.9l.5-7.4l.5-7.9l.5-6.2l.5-6.5l.5-4.6l.5-4.9l.5-2.6l.5-3.3l.5-.5l.5-1.6l.5 1.6l.5 .4l.5 3.4l.5 2.6l.5 5l.5 4.5l.5 6.5l.5 6.2l.5 7.9l.5 7.4l.5 8.9l.5 8.3l.5 9.7l.5 8.8l.5 10l.5 8.9l.5 9.8l.5 8.6l.5 9.4l.5 7.9l.5 8.5l.5 6.8l.5 7.2l.5 5.4l.5 5.7l.5 3.7l.5 4.2l.5 1.5l.5 2.5l.5-.7l.5 .8l.5-2.6l.5-1.5l.5-4.2l.5-3.6l.5-5.8l.5-5.4l.5-7.2l.5-6.8l.5-8.5l.5-7.9l.5-9.3l.5-8.6l.5-9.9l.5-8.9l.5-10l.5-8.8l.5-9.7l.5-8.3l.5-9l.5-7.3l.5-7.9l.5-6.2l.5-6.5l.5-4.5l.5-5l.5-2.6l.5-3.4l.5-.3l.5-1.8l.5 1.7l.5 .4l.5 3.4l.5 2.6l.5 5l.5 4.5l.5 6.5l.5 6.2l.5 7.9l.5 7.4l.5 8.9l.5 8.3l.5 9.7l.5 8.8l.5 10l.5 8.9l.5 9.9l.5 8.6l.5 9.3l.5 7.9l.5 8.5l.5 6.8l.5 7.2l.5 5.4l.5 5.8l.5 3.6l.5 4.2l.5 1.4l.5 2.7l.5-.9l.5 .9l.5-2.7l.5-1.4l.5-4.3l.5-3.5l.5-5.8l.5-5.4l.5-7.2l.5-6.8l.5-8.5l.5-7.9l.5-9.4l.5-8.5l.5-9.9l.5-8.9l.5-10l.5-8.8l.5-9.7l.5-8.3l.5-9l.5-7.3l.5-7.9l.5-6.2l.5-6.5l.5-4.5l.5-5l.5-2.5l.5-3.6l.5-.2l.5-1.9l.5 2l.5 .1l.5 3.6l.5 2.4l.5 5.1l.5 4.5l.5 6.5l.5 6.2l.5 7.9l.5 7.3l.5 9l.5 8.3l.5 9.7l.5 8.8l.5 10l.5 8.9l.5 9.9l.5 8.5l.5 9.4l.5 7.9l.5 8.5l.5 6.8l.5 7.2l.5 5.4l.5 5.8l.5 3.6l.5 4.2l.5 1.4l.5 2.8l.5-1l.5 1l.5-2.8l.5-1.4l.5-4.3l.5-3.5l.5-5.8l.5-5.4l.5-7.2l.5-6.8l.5-8.5l.5-7.9l.5-9.3l.5-8.6l.5-9.9l.5-8.9l.5-10l.5-8.8l.5-9.7l.5-8.3l.5-8.9l.5-7.4" stroke="#4DBEEE"/>
<path d="M371.5 532.5l.5 8.9l.5-27.2l.5 37.8l.5-43.4l.5 44.3l.5-48.5l.5 42.6l.5-47.9l.5 38l.5-49l.5 35l.5-47l.5 33.1l.5-48.7l.5 33.8l.5-49.4l.5 29.9l.5-46.9l.5 30.5l.5-48.6l.5 35l.5-50l.5 33.6l.5-46.8l.5 37.4l.5-48.4l.5 38.2l.5-48.1l.5 42.2l.5-49.2l.5 50.1l.5-49.4l.5 51.2l.5-46.3l.5 48.8l.5-41.7l.5 49.1l.5-37.3l.5 49.7l.5-35.8l.5 47.6l.5-31.8l.5 50.8l.5-30.8l.5 47.2l.5-27.5l.5 46.2l.5-28.4l.5 49.8l.5-30.3l.5 49.3l.5-31.3l.5 48.2l.5-32l.5 46.7l.5-35.6l.5 48.3l.5-38.1l.5 47.8l.5-42.6l.5 47.8l.5-45.2l.5 46.4l.5-47.8l.5 44.4l.5-48.9l.5 42.4l.5-48.4l.5 36.7l.5-47.2l.5 34l.5-46.7l.5 30.8l.5-45.6l.5 28.6l.5-47.3l.5 29.4l.5-45.6l.5 29.1l.5-46.5l.5 27.9l.5-45.6l.5 31.8l.5-45.2l.5 32.2l.5-45.4l.5 37.5l.5-47.3l.5 41l.5-45.9l.5 44.9l.5-47.7l.5 48.3l.5-45.9l.5 48.8l.5-40.9l.5 47.8l.5-36.6l.5 47l.5-31.7l.5 44.1l.5-26.7l.5 43.6l.5-26.5l.5 43.9l.5-26.4l.5 45.3l.5-23.8l.5 42.6l.5-25.6l.5 44.1l.5-26.4l.5 43.8l.5-29.6l.5 45.4l.5-33.7l.5 45.5l.5-35.6l.5 46.3l.5-42.5l.5 46.7l.5-46.5l.5 46.4l.5-46.5l.5 44.5l.5-47.6l.5 37.1l.5-43.7l.5 34.1l.5-45.2l.5 28.6l.5-41l.5 26.5l.5-42.6l.5 24.4l.5-42.3l.5 23.4l.5-40.2l.5 22.4l.5-40.7l.5 23.9l.5-40.6l.5 26.6l.5-43.9l.5 30.7l.5-42.3l.5 32.6l.5-42.8l.5 39l.5-47.3l.5 45.4l.5-46.5l.5 46l.5-44.4l.5 47.3l.5-37.3l.5 42.6l.5-33.4l.5 43.7l.5-28.2l.5 42.4l.5-27.1l.5 40.6l.5-21l.5 39.8l.5-22.7l.5 42.1l.5-22l.5 40.8l.5-23.4l.5 41l.5-23l.5 39.3l.5-25.2l.5 40.1l.5-28.7l.5 41l.5-32.6l.5 43.4l.5-39.5l.5 44.8l.5-44.8l.5 43.5l.5-44.3l.5 39.4l.5-42l.5 33.4l.5-41.2l.5 29.7l.5-39.9l.5 26.2l.5-41.3l.5 24.1l.5-38.1l.5 20.2l.5-39.2l.5 20l.5-38.2l.5 21.3l.5-38.2l.5 19.7l.5-37.3l.5 23.3l.5-40.4l.5 28l.5-41.7l.5 32.7l.5-43.2l.5 38.3l.5-43.2l.5 42.1l.5-47.4l.5 47.4l.5-42.3l.5 43.4l.5-37.4l.5 43l.5-30.5l.5 41.3l.5-27.9l.5 40.3l.5-22.5l.5 35.9l.5-18.2l.5 35.6l.5-17.6l.5 36.8l.5-18.4l.5 37.7l.5-18.9l.5 36.7l.5-20.3l.5 37.4l.5-22.6l.5 38.4l.5-27.5l.5 39.7l.5-31.7l.5 41.9l.5-38.1l.5 42l.5-40.5l.5 41.5l.5-42.1l.5 36.9l.5-41.6l.5 31.7l.5-38.4l.5 26.8l.5-38.1l.5 23.4l.5-36.4l.5 19.2l.5-35.9l.5 16.7l.5-34.5l.5 16.7l.5-34.6l.5 16.1l.5-35l.5 17.5l.5-33.8l.5 19.8l.5-36l.5 22.8l.5-37.6l.5 29.5l.5-39l.5 33.1l.5-41.3l.5 39.8l.5-42.3l.5 42.6l.5-40.3l.5 41.9l.5-33.7l.5 40.1l.5-29.3l.5 38l.5-24.8l.5 37.6l.5-20.6l.5 34.2l.5-15.1l.5 33.9l.5-16.2l.5 34.2l.5-15l.5 32.7l.5-14.5l.5 32.7l.5-17l.5 35l.5-21.3l.5 36l.5-24.9l.5 38.3l.5-30l.5 39.9l.5-36.5l.5 42.5l.5-42.4l.5 41.6l.5-41.2l.5 36l.5-40.8l.5 29.9l.5-36.7l.5 25.7l.5-36.2l.5 19.9l.5-34.1l.5 17.7l.5-32.7l.5 14.4l.5-32.3l.5 13.5l.5-31.4l.5 13l.5-31.7l.5 14l.5-32.4l.5 18.5l.5-33.6l.5 20.7l.5-35.9l.5 27l.5-38.2l.5 31.8l.5-39.9l.5 38.6l.5-40.4l.5 41.8l.5-40.1l.5 41.2l.5-32l.5 36.4l.5-25.5l.5 35.4l.5-20.5l.5 33.2l.5-17.5l.5 32.7l.5-15l.5 32.4l.5-13.1l.5 31l.5-12.3l.5 30.4l.5-11.9l.5 30.1l.5-14.2l.5 31.6l.5-18.2l.5 34l.5-21.6l.5 33.7l.5-27.3l.5 36.9l.5-33.5l.5 39.1l.5-39.1l.5 40.5l.5-39.3l.5 33.2l.5-38.3l.5 27.5l.5-34.1l.5 21.8l.5-33.1l.5 18.2l.5-30.6l.5 14.1l.5-31.1l.5 12.3l.5-29.1l.5 10.9l.5-29.5l.5 11.2l.5-30.9l.5 12.2l.5-29.8l.5 14.7l.5-29.7l.5 17.3l.5-31.9l.5 22.7l.5-33.4l.5 27.8l.5-35.6l.5 34.1l.5-37l.5 38.2l.5-36.1l.5 36.7l.5-28l.5 33l.5-21.2l.5 31.9l.5-19.3l.5 31.8l.5-14.4l.5 28.6l.5-10.5l.5 27.8l.5-9.6l.5 27.9l.5-9.6l.5 28l.5-9.9l.5 27.9l.5-10.5l.5 27.7l.5-14.3l.5 30.6l.5-20.7l.5 32.8l.5-24.9l.5 34.6l.5-30.5l.5 36.2l.5-35.1l.5 35.9l.5-37.8l.5 32.4l.5-34.4l.5 22.9l.5-30.6l.5 18.6l.5-29.8l.5 14.8l.5-28l.5 10.6l.5-27.6l.5 9.7l.5-27.1l.5 8.1l.5-27.1l.5 8l.5-25.6l.5 8.8l.5-26.7l.5 12l.5-28.8l.5 15.8l.5-29.3l.5 21l.5-32.4l.5 27.3l.5-36.4l.5 33.2l.5-37.1l.5 37.6l.5-34.1l.5 35.3l.5-25.1l.5 31.4l.5-20.5l.5 28.8l.5-14l.5 26l.5-9.9l.5 25.8l.5-7.9l.5 25.1l.5-6.5l.5 24.5l.5-5.8l.5 24.5l.5-7.4l.5 26.2l.5-9.8l.5 26.1l.5-11.1l.5 27.2l.5-17.3l.5 29.3l.5-21.1l.5 31.2l.5-27.8l.5 35.4l.5-34.8l.5 33.5l.5-35.3l.5 29.4l.5-31.8l.5 21.1l.5-27.9l.5 15.9l.5-27.3l.5 11.9l.5-26l.5 7.9l.5-24.1l.5 6.9l.5-24.2l.5 4.8l.5-23.8l.5 5.3l.5-23.5l.5 6l.5-23.2l.5 8.7l.5-24.9l.5 12.1l.5-27l.5 17.9l.5-29.1l.5 24.2l.5-32.5l.5 30.9l.5-34.9l.5 35l.5-30.3l.5 31.7l.5-23.4l.5 28.5l.5-16.7l.5 26l.5-11.9l.5 24.1l.5-8.2l.5 23.3l.5-5.3l.5 22.6l.5-4.1l.5 22l.5-3.6l.5 22.1l.5-4.1l.5 22.8l.5-5.8l.5 22.3l.5-8.5l.5 24.7l.5-13.8l.5 25.7l.5-19.3l.5 29.2l.5-25.3l.5 33.3l.5-33.5l.5 33.9l.5-35.1l.5 27l.5-28.5l.5 18.7l.5-26.4l.5 13.2l.5-23.5l.5 8.2l.5-22.7l.5 5.4l.5-21.7l.5 3.8l.5-21.3l.5 2.7l.5-21.8l.5 3l.5-21.2l.5 3.6l.5-21.1l.5 6.5l.5-22.8l.5 9.4l.5-23.4l.5 14.9l.5-26l.5 20.1l.5-28.6l.5 29.3l.5-33.9l.5 32.5l.5-28.6l.5 30.1l.5-21.3l.5 25.7l.5-14.4l.5 23.3l.5-8.3l.5 21.1l.5-5.6l.5 20.7l.5-2.3l.5 19.7l.5-1.8l.5 20.3l.5-1.5l.5 20.2l.5-2.1l.5 20.5l.5-3.7l.5 20.9l.5-6.5l.5 21.9l.5-11.7l.5 24.3l.5-16.3l.5 25.2l.5-22.1l.5 29.4l.5-29.3l.5 28.7l.5-29.5l.5 23.5l.5-25.4l.5 14.7l.5-23l.5 11.3l.5-21.8l.5 6.4l.5-20.2l.5 3l.5-19.3l.5 1.1l.5-19.2l.5 .2l.5-19.2l.5 .7l.5-18.8l.5 1.3l.5-19.3l.5 3.9l.5-20.4l.5 7.9l.5-21.6l.5 12.1l.5-23.7l.5 18.5l.5-26.5l.5 25.5l.5-29.5l.5 30.2l.5-26.2l.5 26.5l.5-17.6l.5 23.5l.5-12.2l.5 20.7l.5-6.7l.5 19.9l.5-3.7l.5 18.8l.5-1.2l.5 18.6l.5-.3l.5 18.4l.5 .7l.5 18.1l.5-.4l.5 18.3l.5-1.9l.5 19l.5-4.3l.5 20l.5-9.3l.5 21.2l.5-13l.5 23.5l.5-21.5l.5 28.4l.5-28.3l.5 27.2l.5-27.2l.5 20.3l.5-22.5l.5 12.7l.5-20.7l.5 8.6l.5-19.1l.5 3.6l.5-17.9l.5 1.2l.5-18l.5-.3l.5-17.4l.5-1.1l.5-17.5l.5-1.3l.5-17.5l.5 .5l.5-18.2l.5 2.2l.5-18l.5 5.7l.5-19.7l.5 9.9l.5-21l.5 16.7l.5-25.7l.5 23.5l.5-26.6l.5 26.7l.5-23.4l.5 24.1l.5-14.7l.5 20.6l.5-9.3l.5 18.6l.5-5.3l.5 17.6l.5-1.1l.5 17l.5 .3l.5 16.9l.5 1.6l.5 17l.5 2l.5 16.4l.5 1.6l.5 16.7l.5 .2l.5 17l.5-3.5l.5 18l.5-6.7l.5 18.8l.5-10.8l.5 21l.5-18.7l.5 25.8l.5-25.8l.5 25.2l.5-25.3l.5 18.9l.5-20.6l.5 10.8l.5-18.4l.5 5.3l.5-17.2l.5 2.5l.5-16.4l.5-.5l.5-15.8l.5-2.6l.5-15.4l.5-3.2l.5-15.5l.5-3.1l.5-15.4l.5-1.9l.5-16l.5 .5l.5-16l.5 3l.5-17.2l.5 7.9l.5-19.1l.5 14.2l.5-23l.5 21.2l.5-23.6l.5 24.5l.5-22.1l.5 22.3l.5-12.8l.5 18l.5-6.7l.5 16.3l.5-2.6l.5 15.7l.5 .2l.5 14.9l.5 2.6l.5 15l.5 3.5l.5 14.9l.5 3.6l.5 15l.5 3.4l.5 15l.5 1.5l.5 15.4l.5-1.3l.5 16.2l.5-4.5l.5 16.9l.5-9l.5 18.6l.5-16.1l.5 22l.5-20.9l.5 21.3l.5-22.7l.5 16.5l.5-18.7l.5 9l.5-17l.5 4l.5-15.4l.5 .7l.5-14.8l.5-1.8l.5-14.9l.5-3.4l.5-14.6l.5-4l.5-14.7l.5-3.9l.5-14.4l.5-3l.5-14.6l.5-1l.5-15l.5 2.1l.5-15.4l.5 5.1l.5-16.6l.5 11.1l.5-19l.5 17.3l.5-20.2l.5 20.4l.5-17.1l.5 18.3l.5-10.2l.5 16.5l.5-6l.5 15.5l.5-1.9l.5 14.7l.5 1.2l.5 14.4l.5 3.2l.5 14.3l.5 4.4l.5 14.1l.5 4.7l.5 14.2l.5 4l.5 14l.5 2.5l.5 14.2l.5 .1l.5 14.9l.5-3.1l.5 15l.5-6.9l.5 16.6l.5-13.6l.5 20.1l.5-18.8l.5 18.6l.5-19.5l.5 13.1l.5-16.8l.5 6.7l.5-14.5l.5 2.6l.5-14.2l.5-.7l.5-13.4l.5-3.3l.5-13.6l.5-4.5l.5-13.5l.5-5.2l.5-13.7l.5-4.7l.5-13.4l.5-4.1l.5-13.5l.5-2.4l.5-13.6l.5 .5l.5-13.5l.5 3.8l.5-14.9l.5 8.5l.5-15.9l.5 15.1l.5-18.6l.5 18.6l.5-15.6l.5 16.6l.5-8.6l.5 14.5l.5-3.4l.5 13.2l.5 .1l.5 13.1l.5 2.7l.5 13.2l.5 4.3l.5 13.1l.5 5.1l.5 13.5l.5 5.4l.5 13.1l.5 5l.5 13.2l.5 3.5l.5 13.3l.5 1.2l.5 13.2l.5-1l.5 12.9l.5-5l.5 14.7l.5-11l.5 16.9l.5-15.9l.5 15.8l.5-16.5l.5 10.5l.5-14.7l.5 5.3l.5-13.3l.5 1.3l.5-13l.5-1.9l.5-12.6l.5-3.8l.5-12.7l.5-5.4l.5-12.9l.5-5.8l.5-13l.5-5.6l.5-12.7l.5-5l.5-12.4l.5-3.5l.5-12.3l.5-.8l.5-12.5l.5 2.3l.5-12.8l.5 6.5l.5-13.9l.5 12.1l.5-15.8l.5 15.4l.5-12.2l.5 14.3l.5-5.9l.5 12.3l.5-2l.5 11.7l.5 1.4l.5 12.2l.5 3.5l.5 12.1l.5 5.4l.5 12.4l.5 6l.5 12.6l.5 6.1l.5 12.5l.5 5.9l.5 12l.5 4.7l.5 11.9l.5 2.9l.5 11.7l.5 .4l.5 11.4l.5-3.5l.5 12.1l.5-8.2l.5 14.3l.5-13.3l.5 12.8l.5-13l.5 7.7l.5-11.8l.5 2.4l.5-10.9l.5-.8l.5-11l.5-3.3l.5-11.4l.5-5.2l.5-11.9l.5-6.1l.5-12l.5-6.6l.5-12l.5-6.6l.5-11.8l.5-6l.5-11.4l.5-4.4l.5-11.3l.5-2.3l.5-10.7l.5 .3l.5-10.7l.5 4.6l.5-11.5l.5 8.8l.5-11.8l.5 12.3l.5-9.6l.5 11.4l.5-4l.5 10.6l.5 0l.5 10.1l.5 3l.5 10.5l.5 4.9l.5 11l.5 6.2l.5 11.6l.5 6.8l.5 11.7l.5 7.2l.5 11.5l.5 6.7l.5 11.2l.5 5.7l.5 10.8l.5 4l.5 10.2l.5 2l.5 9.6l.5-1.3l.5 10l.5-5.7l.5 11l.5-10l.5 10l.5-10.8l.5 5.8l.5-9.9l.5 .9l.5-9.4l.5-2.1l.5-10.2l.5-4.3l.5-10.4l.5-6l.5-11l.5-7l.5-11.3l.5-7.3l.5-11.4l.5-7.1l.5-11.3l.5-6.4l.5-10.9l.5-5.2l.5-10.2l.5-3.4l.5-9.6l.5-1l.5-9.1l.5 2.7l.5-9.8l.5 6.8l.5-9.8l.5 10l.5-7.2l.5 9.7l.5-2.4l.5 9.1l.5 1.2l.5 9.2l.5 3.7l.5 9.9l.5 5.4l.5 10.7l.5 6.7l.5 11.1l.5 7.2l.5 11.3l.5 7.5l.5 11.2l.5 7.1l.5 10.8l.5 6.1l.5 10.3l.5 4.7l.5 9.7l.5 2.6l.5 8.9l.5-.4l.5 8.8l.5-4.1l.5 8.8l.5-7.4l.5 7.4l.5-8.8l.5 3.9l.5-8.5l.5 .1l.5-8.6l.5-3l.5-9.3l.5-4.7l.5-10.2l.5-6.4l.5-10.7l.5-7.1l.5-11.1l.5-7.6l.5-11.2l.5-7.4l.5-11l.5-6.8l.5-10.4l.5-5.6l.5-9.8l.5-4l.5-8.7l.5-2l.5-8.1l.5 1.4l.5-8l.5 4.7l.5-7l.5 7.1l.5-4.5l.5 7.4l.5-.9l.5 7.9l.5 2l.5 8.6l.5 4.2l.5 9.5l.5 6l.5 10.2l.5 6.9l.5 10.8l.5 7.6l.5 11.1l.5 7.6l.5 10.9l.5 7.5l.5 10.4l.5 6.6l.5 9.8l.5 5.2l.5 8.9l.5 3.5l.5 7.9l.5 1l.5 7.3l.5-2.2l.5 6.7l.5-5.1l.5 5.2l.5-6.8l.5 2l.5-7l.5-1.3l.5-7.7l.5-3.6l.5-8.7l.5-5.4l.5-9.6l.5-6.7l.5-10.4l.5-7.5l.5-10.7l.5-8l.5-10.8l.5-7.9l.5-10.5l.5-7.2l.5-10l.5-6.1l.5-9.2l.5-4.6l.5-8.1l.5-2.7l.5-6.9l.5-.3l.5-6.2l.5 2.7l.5-4.7l.5 4.8l.5-2.6l.5 5.8l.5 .6l.5 6.6l.5 3l.5 7.8l.5 4.9l.5 9l.5 6.3l.5 9.8l.5 7.4l.5 10.4l.5 8l.5 10.6l.5 8.1l.5 10.6l.5 7.8l.5 10.1l.5 6.9l.5 9.4l.5 5.8l.5 8.3l.5 4l.5 7.1l.5 2.1l.5 5.8l.5-.3l.5 4.6l.5-2.8l.5 2.7l.5-4.4l.5 .1l.5-5.5l.5-2.4l.5-6.8l.5-4.4l.5-8.1l.5-5.8l.5-9.3l.5-7.1l.5-9.9l.5-7.9l.5-10.5l.5-8.2l.5-10.5l.5-8.2l.5-10.2l.5-7.6l.5-9.6l.5-6.6l.5-8.6l.5-5.4l.5-7.2l.5-3.6l.5-5.9l.5-1.7l.5-4.2l.5 .5l.5-2.7l.5 2.7l.5-.6l.5 4.3l.5 1.7l.5 5.8l.5 3.7l.5 7.2l.5 5.4l.5 8.6l.5 6.7l.5 9.5l.5 7.7l.5 10l.5 8.3l.5 10.4l.5 8.3l.5 10.4l.5 8l.5 9.9l.5 7.3l.5 9l.5 6l.5 7.9l.5 4.7l.5 6.4l.5 2.8l.5 5l.5 .8l.5 3.3l.5-1.5l.5 1.5l.5-3.3l.5-.8l.5-4.9l.5-2.8l.5-6.5l.5-4.7l.5-7.8l.5-6.2l.5-8.9l.5-7.4l.5-9.7l.5-8.1l.5-10.3l.5-8.4l.5-10.3l.5-8.4l.5-10l.5-7.8l.5-9.4l.5-6.9l.5-8.4l.5-5.5l.5-7l.5-4l.5-5.5l.5-2l.5-3.9l.5 .2l.5-2.2l.5 2.2l.5-.2l.5 3.9l.5 2.1l.5 5.4l.5 4l.5 7l.5 5.6l.5 8.3l.5 6.9l.5 9.3l.5 7.9l.5 9.9l.5 8.5l.5 10.2l.5 8.6l.5 10.1l.5 8.2l.5 9.7l.5 7.4l.5 8.9l.5 6.3l.5 7.7l.5 4.9l.5 6.2l.5 3.1l.5 4.5l.5 1.2l.5 2.8l.5-.9l.5 1l.5-2.9l.5-1.2l.5-4.5l.5-3.2l.5-6.1l.5-5l.5-7.6l.5-6.4l.5-8.7l.5-7.6l.5-9.5l.5-8.3l.5-10.1l.5-8.6l.5-10.1l.5-8.6l.5-9.9l.5-7.9l.5-9.2l.5-7.1l.5-8.1l.5-5.8l.5-6.8l.5-4.2l.5-5.3l.5-2.3l.5-3.6l.5-.2l.5-1.8l.5 1.8l.5 .2l.5 3.6l.5 2.3l.5 5.2l.5 4.3l.5 6.7l.5 5.9l.5 8.1l.5 7.1l.5 9.1l.5 8.1l.5 9.8l.5 8.6l.5 10l.5 8.7l.5 10l.5 8.4l.5 9.5l.5 7.7l.5 8.6l.5 6.5l.5 7.5l.5 5.1l.5 5.9l.5 3.4l.5 4.3l.5 1.5l.5 2.5l.5-.6l.5 .6l.5-2.5l.5-1.5l.5-4.2l.5-3.5l.5-5.9l.5-5.2l.5-7.3l.5-6.7l.5-8.5l.5-7.8l.5-9.3l.5-8.5l.5-9.9l.5-8.8l.5-10l.5-8.7l.5-9.7l.5-8.1l.5-9l.5-7.3l.5-8l.5-6l.5-6.5l.5-4.5l.5-5l.5-2.6l.5-3.2l.5-.7l.5-1.3l.5 1.3l.5 .7l.5 3.2l.5 2.7l.5 4.9l.5 4.5l.5 6.5l.5 6.1l.5 7.8l.5 7.4l.5 8.9l.5 8.3l.5 9.6l.5 8.8l.5 9.8l.5 8.9l.5 9.8l.5 8.7l.5 9.2l.5 7.9l.5 8.4l.5 6.8l.5 7.2l.5 5.4l.5 5.6l.5 3.7l.5 4l.5-11l.5 59.7l.5-114.3l.5 126.4l.5-97.6l.5 66.5l.5-59.4l.5 49.3l.5-57.7l.5 47.7l.5-64.3l.5 53.2l.5-69.7l.5 52.1l.5-65.7l.5 46.2l.5-66.1l.5 48.5l.5-67.6l.5 46.2l.5-65.8l.5 47.5l.5-65.7l.5 51.6l.5-66.1l.5 52.2l.5-69l.5 61.8l.5-71.9l.5 67.3l.5-79.7l.5 77.7l.5-81.2l.5 79.4l.5-72.4l.5 74.2l.5-64.4l.5 68.1l.5-59.8l.5 69.7l.5-55.5l.5 67.4l.5-49.2l.5 66.5l.5-47.4l.5 64.8l.5-46.1l.5 66.2l.5-45.5l.5 64.5l.5-48.9l.5 65.9l.5-46.1l.5 63.9l.5-49.7l.5 65.7l.5-53.2l.5 65.5l.5-59.3l.5 72.6l.5-70.8l.5 78.9l.5-82.2l.5 83.5l.5-78.7l.5 69.6l.5-72.4l.5 58.8l.5-66.2l.5 53.3l.5-68.4l.5 54.8l.5-67l.5 50.9l.5-66.9l.5 46.7l.5-64.4l.5 47l.5-68.5l.5 49.2l.5-69.7l.5 51l.5-66.7l.5 48.6l.5-63.8l.5 49.7l.5-64.1l.5 55l.5-69.3l.5 64.7l.5-73.2l.5 74.6l.5-80.4l.5 78.8l.5-75.5l.5 75l.5-62.1l.5 70.4l.5-59.2l.5 67.5l.5-53.4l.5 64.9l.5-47.1l.5 66.5l.5-50l.5 65.9l.5-45.1l.5 64.7l.5-48.1l.5 64.9l.5-46.3l.5 68.8l.5-52.1l.5 66.6l.5-52.8l.5 69.1l.5-56l.5 70.7l.5-64.1l.5 72.2l.5-70.1l.5 79.2l.5-76.2l.5 73.2l.5-74.9l.5 69.9l.5-69.6l.5 56.3l.5-64.8l.5 54.5l.5-67l.5 50.2l.5-63.8l.5 47.2l.5-64.8l.5 46.9l.5-67.4l.5 48.1l.5-64.4l.5 43.7l.5-65.6l.5 50.4l.5-65.6l.5 48.1l.5-67.1l.5 55.7l.5-67.9l.5 55.2l.5-66.1l.5 59.5l.5-72.1l.5 75.8l.5-75.1l.5 73.9l.5-74.8l.5 72.3l.5-59.6l.5 68.2l.5-59.4l.5 67.8l.5-51l.5 64.1l.5-48.4l.5 64.7l.5-45.9l.5 62.1l.5-42.9l.5 62.1l.5-43.4l.5 65.4l.5-49.1l.5 66l.5-48.8l.5 68l.5-52.9l.5 66.9l.5-55.5l.5 68.6l.5-58.2l.5 68.3l.5-67l.5 70.8l.5-70.5l.5 74.9l.5-74.1l.5 66.1l.5-68l.5 56.9l.5-68.5l.5 57.5l.5-66.9l.5 48.6l.5-64.4l.5 46.7l.5-61.3l.5 42.6l.5-63.5l.5 46.5l.5-66.9l.5 45.7l.5-63l.5 45.7l.5-62l.5 48.3l.5-66.1l.5 53.1l.5-65.4l.5 52.3l.5-63.8l.5 61.6l.5-70.1l.5 68.8l.5-74.7l.5 72.4l.5-69.5l.5 69.6l.5-59.1l.5 67.5l.5-56.1l.5 63.3l.5-48.4l.5 65.7l.5-49.7l.5 61.6l.5-45l.5 63.2l.5-45.8l.5 67.5l.5-47.9l.5 65.2l.5-44.5l.5 62l.5-47.6l.5 66.9l.5-49.8l.5 65l.5-54.6l.5 68.6l.5-58.1l.5 66l.5-64.1l.5 70.8l.5-71.5l.5 70l.5-68.7l.5 63.1l.5-69.3l.5 60.4l.5-67.3l.5 53.3l.5-62.4l.5 47.6l.5-62.3l.5 46.9l.5-63.9l.5 45.8l.5-66.8l.5 47.3l.5-66.9l.5 45.1l.5-64l.5 46.1l.5-63.4l.5 49.3l.5-62.9l.5 48.9l.5-63l.5 53.3l.5-64.7l.5 57.9l.5-67.9l.5 65.6l.5-68.6l.5 71.5l.5-69.4l.5 69.9l.5-59.7l.5 63.9l.5-54.9l.5 67.4l.5-52.7l.5 65.6l.5-49.2l.5 65.8l.5-48.5l.5 64.5l.5-42.6l.5 63.8l.5-45.8l.5 62.7l.5-46.4l.5 66.4l.5-47l.5 63.9l.5-50.4l.5 64.8l.5-50.9l.5 62.5l.5-56.7l.5 68.8l.5-65.8l.5 68.4l.5-64.5l.5 68.3l.5-69.8l.5 62.8l.5-65.2l.5 54.6l.5-66.8l.5 54.1l.5-65.7l.5 51.6l.5-62.9l.5 45.5l.5-66.2l.5 45.5l.5-63.7l.5 47l.5-63.5l.5 45l.5-66l.5 46.4l.5-64.8l.5 50l.5-65.5l.5 50.5l.5-64.9l.5 54.7l.5-63l.5 55.8l.5-62.7l.5 63.4l.5-66.9l.5 65.7l.5-64.8l.5 65.6l.5-58.6l.5 66.2l.5-54.6l.5 64.3l.5-49.3l.5 61.4l.5-44.9l.5 62.4l.5-45.7l.5 64.2l.5-44.9l.5 63.7l.5-45.7l.5 65.8l.5-45.8l.5 63.1l.5-45.2l.5 63.1l.5-50.2l.5 61.9l.5-48.4l.5 61.7l.5-56.1l.5 67.4l.5-62.3l.5 68.4l.5-64.5l.5 62.3l.5-65.3l.5 59.2l.5-63.2l.5 52.8l.5-62.8l.5 50.8l.5-59.3l.5 44.6l.5-59.7l.5 43.6l.5-60.3l.5 42.3l.5-62.4l.5 41.9l.5-60.2l.5 42.1l.5-60.6l.5 44.2l.5-64.8l.5 47.9l.5-63.8l.5 48.7l.5-62.2l.5 53.3l.5-63l.5 58.4l.5-66.9l.5 64.3l.5-65.8l.5 65.1l.5-62.7l.5 66.5l.5-56.5l.5 61l.5-50.8l.5 59.4l.5-46.1l.5 60.7l.5-44.4l.5 62.3l.5-45.3l.5 62.4l.5-45.3l.5 61.8l.5-40.5l.5 61.4l.5-42.7l.5 59.4l.5-42.5l.5 61.3l.5-46l.5 59.6l.5-50.5l.5 63.9l.5-53.6l.5 63l.5-61.3l.5 67.5l.5-62.4l.5 62.8l.5-65.7l.5 58.7l.5-62.4l.5 52.4l.5-62.6l.5 49.9l.5-61l.5 46.3l.5-62.2l.5 45.8l.5-59.9l.5 40.2l.5-60.4l.5 44.7l.5-63l.5 43.2l.5-64.1l.5 45.5l.5-61.5l.5 44.9l.5-59.2l.5 47.3l.5-61.5l.5 50.1l.5-59.9l.5 53.6l.5-63.7l.5 59.5l.5-59.7l.5 61.7l.5-62.1l.5 61.8l.5-52.7l.5 60.7l.5-48l.5 59.2l.5-47l.5 58.3l.5-44.4l.5 61.8l.5-41.1l.5 60.6l.5-44.3l.5 63.4l.5-41.8l.5 59.8l.5-41.5l.5 60.3l.5-42.9l.5 58.6l.5-44.7l.5 61l.5-50l.5 60.8l.5-51.9l.5 61.4l.5-55.3l.5 61l.5-60.9l.5 58.9l.5-60.4l.5 56.8l.5-60.5l.5 52.1l.5-62.1l.5 50.1l.5-62l.5 47.2l.5-60.6l.5 43.3l.5-59.7l.5 39.3l.5-60.4l.5 41.6l.5-59.7l.5 40.5l.5-58.2l.5 42.1l.5-60.9l.5 43.4l.5-59.2l.5 47.7l.5-58.8l.5 48.4l.5-61.3l.5 55l.5-59.9l.5 54.5l.5-60.4l.5 59.5l.5-54.4l.5 58l.5-53l.5 58.4l.5-48.2l.5 62.3l.5-47l.5 59.8l.5-45.3l.5 60.3l.5-42.2l.5 59.6l.5-40.9l.5 58.8l.5-40.6l.5 60.1l.5-39.4l.5 56.9l.5-41l.5 58.9l.5-44.5l.5 61.2l.5-49.5l.5 57.7l.5-46.2l.5 55.8l.5-54.1l.5 61.1l.5-57.8l.5 56.1l.5-59.4l.5 56.4l.5-58.1l.5 47.5l.5-58.3l.5 46.4l.5-56.8l.5 44.3l.5-61.1l.5 40.9l.5-57.8l.5 40.6l.5-59.7l.5 42.3l.5-60.7l.5 42.5l.5-59.9l.5 39.3l.5-56.8l.5 42.1l.5-56.4l.5 43.8l.5-59.5l.5 48.6l.5-57.4l.5 51.6l.5-60.8l.5 55l.5-56.1l.5 56.4l.5-52.2l.5 57.1l.5-52.5l.5 56.1l.5-46l.5 56.6l.5-42.5l.5 57.8l.5-40.1l.5 56.4l.5-41.4l.5 59l.5-41l.5 59.2l.5-39.7l.5 58.6l.5-40.2l.5 57.8l.5-38.5l.5 57.5l.5-43.8l.5 57.8l.5-44.9l.5 56.3l.5-48.8l.5 56.2l.5-49.2l.5 55.7l.5-53.9l.5 54.3l.5-56.6l.5 48.6l.5-53.1l.5 47.2l.5-57.7l.5 44.7l.5-57.5l.5 42.6l.5-56.6l.5 39.1l.5-55.3l.5 38.2l.5-57.9l.5 39.5l.5-55.9l.5 35.9l.5-55.6l.5 40.1l.5-59.1l.5 41.3l.5-54.2l.5 39.4l.5-53.7l.5 46.3l.5-56.4l.5 48.3l.5-56.9l.5 54l.5-54.1l.5 51.8l.5-51.9l.5 55.1l.5-45.4l.5 53.8l.5-43.9l.5 53.3l.5-41.2l.5 55.7l.5-38.6l.5 54.8l.5-37.9l.5 54.5l.5-37l.5 58.6l.5-40.3l.5 57.2l.5-37l.5 54.1l.5-39l.5 57.8l.5-40l.5 54.2l.5-44.5l.5 56.9l.5-47.8l.5 53.2l.5-48.6l.5 55.1l.5-53l.5 52.4l.5-54.8l.5 52l.5-54.5l.5 44.1l.5-53l.5 41.1l.5-55.2l.5 39.8l.5-52.8l.5 37.9l.5-56.7l.5 37.8l.5-55.7l.5 36.9l.5-55.9l.5 39.2l.5-57.9l.5 39.2l.5-57.1l.5 40.4l.5-56.2l.5 41.2l.5-52.5l.5 41.1l.5-50.9l.5 45.2l.5-53.6l.5 50.8l.5-52.5l.5 52.7l.5-50.9l.5 53.1l.5-45.2l.5 51.4l.5-42.5l.5 55.8l.5-40.2l.5 52.3l.5-36.7l.5 53.7l.5-39.1l.5 55.9l.5-35.7l.5 54l.5-36.6l.5 57.6l.5-38.6l.5 55.2l.5-36.1l.5 53.3l.5-40.4l.5 54.4l.5-39.6l.5 52.2l.5-44.7l.5 53.1l.5-48.2l.5 49.4l.5-48.2l.5 48.4l.5-49.2l.5 45.8l.5-51.7l.5 44.7l.5-54l.5 42.4l.5-54.2l.5 40.7l.5-55.8l.5 37.6l.5-55.7l.5 37.9l.5-54.6l.5 36.1l.5-55.3l.5 37.3l.5-54.1l.5 34.1l.5-53.5l.5 36.7l.5-51.9l.5 38.2l.5-52l.5 42.5l.5-50.1l.5 43.2l.5-50.9l.5 48.5l.5-50.3l.5 47.4l.5-46.6l.5 51.7l.5-42.7l.5 50.5l.5-42.9l.5 52.3l.5-37.9l.5 53.4l.5-36.7l.5 52.7l.5-35.8l.5 52.2l.5-33.4l.5 51.5l.5-32.9l.5 51.5l.5-35.2l.5 54.6l.5-37.7l.5 53l.5-35.1l.5 49l.5-38.4l.5 49.7l.5-40.1l.5 48.2l.5-43.2l.5 49l.5-46.1l.5 46.2l.5-47.8l.5 41.6l.5-48.5l.5 42.8l.5-52.2l.5 41l.5-51.2l.5 35.5l.5-50.7l.5 35.6l.5-53.6l.5 34l.5-53.8l.5 36.8l.5-53l.5 32.6l.5-51.8l.5 33l.5-51.9l.5 35.7l.5-49.5l.5 37.7l.5-52.2l.5 40.5l.5-49l.5 42.7l.5-48.9l.5 45.3l.5-47.7l.5 44.4l.5-43.5l.5 50.1l.5-43l.5 48.2l.5-37.9l.5 49.7l.5-38.3l.5 52.8l.5-35.2l.5 51.5l.5-34.1l.5 51.8l.5-33.3l.5 51l.5-33.4l.5 51.2l.5-31.5l.5 52.4l.5-35.9l.5 52.2l.5-38l.5 50.9l.5-38.2l.5 49.8l.5-38.1l.5 47.1l.5-43.4l.5 44.9l.5-41.9l.5 41.8l.5-43.7l.5 41.7l.5-47.6l.5 38.8l.5-47.8l.5 37.7l.5-49.6l.5 35.3l.5-50.5l.5 31.3l.5-48.3l.5 30.9l.5-50.6l.5 32.6l.5-50.6l.5 30.8l.5-51l.5 35.1l.5-52.4l.5 36.2l.5-49.9l.5 34.8l.5-47.6l.5 36l.5-46.1l.5 38.7l.5-45.5l.5 41.9l.5-43.8l.5 42.7l.5-39.1l.5 43.5l.5-39.8l.5 46.4l.5-35.9l.5 48.1l.5-36.1l.5 50.1l.5-32.1l.5 49.7l.5-34.5l.5 51.1l.5-30.5l.5 48.6l.5-31.3l.5 49.8l.5-29.5l.5 48.9l.5-34.1l.5 51l.5-33.6l.5 47.8l.5-37.4l.5 47.8l.5-38l.5 46.2l.5-40.9l.5 45.1l.5-41.4l.5 39.9l.5-42.7l.5 39.7l.5-44.3l.5 36.8l.5-45.5l.5 32.4l.5-46.8l.5 34.8l.5-50.5l.5 33.6l.5-49.6l.5 32l.5-49.9l.5 29.2l.5-49.2l.5 29.7l.5-48.1l.5 31.9l.5-48.2l.5 32.3l.5-46.7l.5 31.2l.5-43.9l.5 34l.5-44.2l.5 36.9l.5-43.1l.5 38.9l.5-40.5l.5 39.7l.5-38.8l.5 41.6l.5-35.4l.5 44.4l.5-34.7l.5 44.4l.5-32.5l.5 48.4l.5-31.1l.5 45.9l.5-28.8l.5 46.7l.5-28l.5 46.6l.5-29.5l.5 49.9l.5-30.1l.5 48.2l.5-31.5l.5 47.9l.5-33l.5 46l.5-31.4l.5 43.1l.5-35l.5 41.2l.5-34l.5 38.2l.5-37.3l.5 38.3l.5-41.5l.5 36.8l.5-41.2l.5 33.5l.5-43.4l.5 32.6l.5-44l.5 29.5l.5-46.3l.5 29.3l.5-44.4l.5 27.9l.5-48.4l.5 28.4l.5-45.7l.5 28l.5-47.2l.5 27l.5-43.1l.5 27.7l.5-44.4l.5 29.7l.5-43.6l.5 33.5l.5-41.7l.5 34.2l.5-39.1l.5 35.4l.5-39l.5 38.1l.5-34.7l.5 38.2l.5-34.1l.5 41.7l.5-29.9l.5 41.3l.5-30.9l.5 45.6l.5-28l.5 44.1l.5-28.5l.5 47.3l.5-28.9l.5 45.3l.5-25.8l.5 45.5l.5-25.5l.5 44.2l.5-27.4l.5 44.3l.5-29.1l.5 40.9l.5-28.8l.5 40.7l.5-31.1l.5 39.9l.5-32.7l.5 36.3l.5-35.2l.5 35.3l.5-37.1l.5 32.6l.5-37.8l.5 30.7l.5-42l.5 29.9l.5-41.1l.5 28.5l.5-43.1l.5 25.7l.5-44.4l.5 26.3l.5-44.7l.5 24.9l.5-43.1l.5 24.1l.5-42.1l.5 25.3l.5-42.3l.5 26.4l.5-43.7l.5 28.8l.5-41.4l.5 29.8l.5-39.4l.5 30.9l.5-36.4l.5 33.4l.5-35.3l.5 35.7l.5-33.7l.5 38.2l.5-31.5l.5 37.7l.5-27.8l.5 38.2l.5-25.7l.5 41.1l.5-25.5l.5 42l.5-24.7l.5 42.6l.5-25.5l.5 43.7l.5-24.4l.5 43.5l.5-25.4l.5 43l.5-24l.5 39.8l.5-25.5l.5 40.9l.5-28l.5 38.1l.5-27.6l.5 36.3l.5-31.4l.5 35l.5-31.7l.5 31.4l.5-34.8l.5 31.8l.5-38.2l.5 28.6l.5-36.5l.5 26.9l.5-39.4l.5 24.3l.5-40.7l.5 24.1l.5-40.9l.5 23.4l.5-42.7l.5 23.7l.5-41l.5 21.2l.5-40.8l.5 22.9l.5-40.8l.5 24.1l.5-38.9l.5 26.7l.5-38l.5 25.8l.5-35.2l.5 28.7l.5-35.6l.5 29.8l.5-31.9l.5 33l.5-30.5l.5 33.3l.5-27.7l.5 35l.5-25.9l.5 37.8l.5-23.2l.5 36.7l.5-22.4l.5 38.4l.5-21.5l.5 40.2l.5-20.2l.5 39.3l.5-20.4l.5 38.2l.5-21.1l.5 41.2l.5-24.3l.5 39.5l.5-22.2l.5 36.4l.5-25.3l.5 37.4l.5-27.8l.5 33.4l.5-27.6l.5 33.6l.5-30.6l.5 29.6l.5-32.7l.5 29.1l.5-33l.5 25.3l.5-36l.5 24.3l.5-37.7l.5 23.1l.5-37.9l.5 22l.5-38.9l.5 19.6l.5-37.4l.5 19.1l.5-39.4l.5 20.8l.5-38.6l.5 21.4l.5-39.2l.5 22.7l.5-36.7l.5 22.6l.5-35.5l.5 23.1l.5-32.8l.5 25.4l.5-30.7l.5 26.7l.5-30.1l.5 30.4l.5-26.9l.5 30.4l.5-25.2l.5 33.5l.5-22.8l.5 32.8l.5-20.6l.5 35.9l.5-21.9l.5 37.2l.5-18.5l.5 37.5l.5-19.9l.5 38.3l.5-17.9l.5 36.8l.5-18.3l.5 37.1l.5-19.6l.5 34.6l.5-19.8l.5 33.2l.5-20.4l.5 31.8l.5-22.5l.5 30.2l.5-25.3l.5 29.5l.5-27l.5 27l.5-28.4l.5 24.7l.5-31.5l.5 23l.5-32.5l.5 22.1l.5-34.3l.5 19.7l.5-33.9l.5 16.9l.5-35.4l.5 18.5l.5-36.9l.5 18.6l.5-37.9l.5 19.1l.5-36.7l.5 16.8l.5-34.5l.5 19.1l.5-34.4l.5 20.8l.5-33.3l.5 22.3l.5-31.1l.5 22.4l.5-28.4l.5 24.9l.5-26.6l.5 27.4l.5-26.5l.5 28.8l.5-23.1l.5 30.4l.5-20.4l.5 32.6l.5-18.6l.5 32.3l.5-16.9l.5 32.9l.5-16.2l.5 33.8l.5-14.8l.5 35.2l.5-16.3l.5 34.3l.5-16.1l.5 33.3l.5-15.2l.5 33.1l.5-18l.5 31.9l.5-19.9l.5 30.7l.5-20.3l.5 28.6l.5-24.4l.5 28.4l.5-25l.5 24l.5-25.8l.5 21l.5-27.6l.5 21.1l.5-30.2l.5 17.6l.5-30.2l.5 17.7l.5-33l.5 15.8l.5-32.8l.5 14.2l.5-32.2l.5 14.3l.5-34.7l.5 15.6l.5-33.2l.5 15.4l.5-32.9l.5 16.5l.5-31.6l.5 16.5l.5-30.2l.5 19.2l.5-28.1l.5 20.6l.5-26.3l.5 23.1l.5-25.5l.5 25l.5-23.2l.5 27l.5-21l.5 27.8l.5-17.4l.5 28.7l.5-16.3l.5 30.8l.5-15.9l.5 32.5l.5-14.1l.5 31.2l.5-12.2l.5 31.3l.5-12.8l.5 32.3l.5-14.7l.5 31.5l.5-13.9l.5 30.5l.5-14.1l.5 27.9l.5-16.1l.5 27.2l.5-16.7l.5 25.2l.5-19.8l.5 24.4l.5-22.9l.5 21.8l.5-22.9l.5 19.5l.5-26.1l.5 17.2l.5-26.2l.5 15.1l.5-27l.5 13.1l.5-29.6l.5 13.1l.5-30l.5 11.9l.5-29.8l.5 11.2l.5-30.5l.5 11.4l.5-30.6l.5 12.1l.5-29.1l.5 13.7l.5-29.1l.5 15.3l.5-28l.5 16.1l.5-24.6l.5 17l.5-23.7l.5 19.6l.5-22.1l.5 22l.5-19.7l.5 23.7l.5-16.7l.5 23.7l.5-14.4l.5 26.1l.5-13.9l.5 27.4l.5-11.1l.5 27.8l.5-11l.5 29.8l.5-11.5l.5 30.4l.5-10.8l.5 28.4l.5-10.3l.5 29l.5-11.5l.5 27.8l.5-12.2l.5 26.2l.5-13.9l.5 25.7l.5-16.6l.5 24.2l.5-18.2l.5 21.3l.5-18.8l.5 18.8l.5-20.9l.5 16.9l.5-23.1l.5 15.9l.5-25l.5 13.1l.5-25.1l.5 11.2l.5-27.4l.5 11.3l.5-28.3l.5 10l.5-28.8l.5 9.3l.5-27.3l.5 8.5l.5-27.4l.5 9.6l.5-26.6l.5 10.2l.5-25.2l.5 11.1l.5-24.2l.5 12.5l.5-21.7l.5 14.8l.5-21.3l.5 17.6l.5-19.2l.5 18.1l.5-16.4l.5 21.3l.5-14.8l.5 21.8l.5-12.5l.5 23.7l.5-11.6l.5 26.2l.5-10.2l.5 26.1l.5-8.5l.5 26.1l.5-7.6l.5 26.4l.5-7.7l.5 26.9l.5-8.2l.5 26.5l.5-8.3l.5 23.9l.5-8.7l.5 22.7l.5-10.8l.5 22.4l.5-12.3l.5 20.6l.5-14.7l.5 18.4l.5-17l.5 16.7l.5-18.7l.5 14.2l.5-19.3l.5 12l.5-22l.5 11l.5-23l.5 8.6l.5-24.5l.5 8.3l.5-25.1l.5 6.1l.5-24.4l.5 5.9l.5-25.7l.5 6.6l.5-24.2l.5 6.6l.5-24.7l.5 7.8l.5-22.9l.5 8.6l.5-21.4l.5 10.9l.5-19.8l.5 11.9l.5-17.6l.5 13.2l.5-15.7l.5 16.1l.5-14.4l.5 17.9l.5-11.3l.5 19.4l.5-10.5l.5 20.9l.5-8.1l.5 22.2l.5-6.9l.5 24.2l.5-6.2l.5 23.3l.5-5.1l.5 23.9l.5-4.2l.5 23l.5-4.5l.5 22.8l.5-5.2l.5 22l.5-7.4l.5 20.7l.5-7.3l.5 19.3l.5-10l.5 17.5l.5-11.4l.5 15.6l.5-13.9l.5 13.3l.5-15.2l.5 11.3l.5-17l.5 9.3l.5-19.3l.5 8.4l.5-21.1l.5 6.9l.5-21.7l.5 4.6l.5-21.8l.5 4.4l.5-22.7l.5 3.1l.5-22.4l.5 3.9l.5-22.2l.5 4.1l.5-21.1l.5 4.6l.5-20.6l.5 6.9l.5-19.5l.5 7.5l.5-16.7l.5 9.7l.5-15.8l.5 11.6l.5-13.7l.5 13.4l.5-10.7l.5 14.8l.5-9.3l.5 16.6l.5-7.1l.5 18.5l.5-5.7l.5 19.6l.5-3.6l.5 19.7l.5-2.6l.5 21l.5-2.6l.5 21.6l.5-2.9l.5 21l.5-1.7l.5 20.4l.5-3.5l.5 19.8l.5-4.1l.5 17.9l.5-5.6l.5 16.8l.5-7.2l.5 14.4l.5-8.6l.5 13l.5-11.2l.5 11.3l.5-12.8l.5 8.3l.5-14.2l.5 6.7l.5-16.1l.5 5l.5-17.3l.5 2.7l.5-18.1l.5 2l.5-19.6l.5 1.8l.5-19.8l.5 .7l.5-20.3l.5 1.5l.5-19.5l.5 1.4l.5-18.4l.5 2l.5-17.5l.5 3.5l.5-16.6l.5 5.1l.5-14.1l.5 6.5l.5-12.3l.5 8.5l.5-10.4l.5 10.2l.5-8.5l.5 12.1l.5-5.8l.5 13.8l.5-4.6l.5 15.2l.5-2.3l.5 16.5l.5-1.5l.5 17.7l.5-.2l.5 18.5l.5 0l.5 18.8l.5 .2l.5 18.2l.5 .3l.5 18.1l.5-.4l.5 16.5l.5-1.2l.5 15.5l.5-3.2l.5 14.2l.5-4.5l.5 12.3l.5-6.3l.5 10l.5-7.7l.5 7.9l.5-10l.5 5.9l.5-11.9l.5 3.9l.5-13l.5 1.8l.5-14.6l.5 .6l.5-16.1l.5-.1l.5-17.3l.5-1l.5-16.9l.5-1.8l.5-17.4l.5-1.6l.5-16.6l.5-1.3l.5-16.1l.5-.4l.5-15l.5 .8l.5-13.4l.5 2.5l.5-11.8l.5 4l.5-9.7l.5 5.6l.5-7.8l.5 7.9l.5-5.7l.5 9.3l.5-3.4l.5 11.3l.5-2.1l.5 13.3l.5-.7l.5 14.5l.5 1.3l.5 15.2l.5 1.7l.5 16.4l.5 2.1l.5 16.7l.5 2.7l.5 15.8l.5 2.5l.5 15.7l.5 1.9l.5 14.1l.5 1.1l.5 13l.5-.5l.5 11.8l.5-2.3l.5 9.8l.5-4l.5 7.9l.5-5.7l.5 5.8l.5-7.8l.5 3.9l.5-9.6l.5 1.7l.5-11.3l.5 .2l.5-12.6l.5-1.5l.5-13.8l.5-2.6l.5-14.9l.5-3.1l.5-15.3l.5-3.6l.5-15l.5-3.9l.5-14.6l.5-3.3l.5-14.1l.5-2.4l.5-13l.5-1.2l.5-11.2l.5 .2l.5-9.6l.5 1.9l.5-7.8l.5 3.8l.5-6l.5 6.1l.5-3.9l.5 7.8l.5-1.7l.5 9.2l.5 0l.5 10.8l.5 2.1l.5 12.1l.5 3.2l.5 13l.5 4.2l.5 13.8l.5 4.7l.5 14.2l.5 5l.5 13.6l.5 4.7l.5 13.3l.5 4.1l.5 12.2l.5 3.2l.5 10.9l.5 1.8l.5 9.1l.5 .3l.5 7.7l.5-1.9l.5 5.8l.5-3.8l.5 3.7l.5-5.5l.5 1.5l.5-7.4l.5-.4l.5-9l.5-2.1l.5-10.3l.5-3.8l.5-11.5l.5-4.9l.5-12.3l.5-5.8l.5-12.8l.5-6.1l.5-12.8l.5-5.8l.5-12.5l.5-5.8l.5-11.4l.5-4.8l.5-10.6l.5-3.5l.5-9.1l.5-2l.5-7.4l.5-.2l.5-5.8l.5 1.8l.5-3.7l.5 3.6l.5-1.6l.5 5.6l.5 .6l.5 6.8l.5 2.5l.5 8.5l.5 4.3l.5 9.7l.5 5.7l.5 10.8l.5 6.4l.5 11.5l.5 7.1l.5 11.7l.5 7.1l.5 11.6l.5 7l.5 10.9l.5 6.3l.5 10.1l.5 5.2l.5 8.8l.5 3.9l.5 7.1l.5 2.4l.5 5.4l.5 .4l.5 3.6l.5-1.7l.5 1.6l.5-3.5l.5-.5l.5-5.3l.5-2.5l.5-6.9l.5-4.2l.5-8.3l.5-5.8l.5-9.6l.5-6.8l.5-10.4l.5-7.6l.5-10.8l.5-7.9l.5-11l.5-7.8l.5-10.7l.5-7.3l.5-9.9l.5-6.4l.5-8.8l.5-5.3l.5-7.4l.5-3.6l.5-5.9l.5-1.8l.5-4.1l.5 .2l.5-2.2l.5 2.2l.5-.2l.5 4.1l.5 1.9l.5 5.7l.5 3.7l.5 7.4l.5 5.3l.5 8.7l.5 6.6l.5 9.7l.5 7.6l.5 10.4l.5 8l.5 10.7l.5 8.2l.5 10.6l.5 7.9l.5 10.1l.5 7.1l.5 9.2l.5 6.1l.5 7.9l.5 4.8l.5 6.2l.5 3.2l.5 4.5l.5 1.3l.5 2.7l.5-.8l.5 .8l.5-2.7l.5-1.2l.5-4.6l.5-3.2l.5-6.2l.5-5l.5-7.6l.5-6.4l.5-8.8l.5-7.5l.5-9.8l.5-8.2l.5-10.2l.5-8.5l.5-10.4l.5-8.5l.5-9.9l.5-8l.5-9.2l.5-7.1l.5-8.2l.5-5.8l.5-6.8l.5-4.4l.5-5l.5-2.6l.5-3.3l.5-.6l.5-1.4l.5 1.4l.5 .6l.5 3.3l.5 2.6l.5 5l.5 4.5l.5 6.6l.5 6l.5 8l.5 7.3l.5 9l.5 8.2l.5 9.7l.5 8.8l.5 10l.5 8.9l.5 9.8l.5 8.6l.5 9.4l.5 7.8l.5 8.5l.5 6.8l.5 7.2l.5 5.4l.5 5.7l.5 3.7l.5 4l.5 1.8l.5 2.1l.5-.2l.5 .2l.5-2.1l.5-1.8l.5-4l.5-3.7l.5-5.7l.5-5.4l.5-7.2l.5-6.8l.5-8.5l.5-7.9l.5-9.3l.5-8.6l.5-9.9l.5-8.8l.5-10l.5-8.8l.5-9.6l.5-8.3l.5-9l.5-7.3l.5-7.9l.5-6.1l.5-6.5l.5-4.6l.5-4.8l.5-2.9l.5-3l.5-.9l.5-1.1l.5 1.2l.5 .8l.5 3.1l.5 2.8l.5 4.8l.5 4.6l.5 6.5l.5 6.1l.5 7.9l.5 7.3l.5 9l.5 8.3l.5 9.6l.5 8.8l.5 10l.5 8.8l.5 9.9l.5 8.6l.5 9.3l.5 7.9l.5 8.5l.5 6.7l.5 7.2l.5 5.4l.5 5.7l.5 3.7l.5 4l.5 1.8l.5 2.1l.5-.1l.5 .2l.5-2.2l.5-1.8l.5-4l.5-3.7l.5-5.7l.5-5.3l.5-7.3l.5-6.8l.5-8.4l.5-7.9l.5-9.3l.5-8.6l.5-9.8l.5-8.9l.5-10l.5-8.8l.5-9.6l.5-8.3l.5-8.9l.5-7.4l.5-7.9l.5-6.1l.5-6.5l.5-4.5l.5-4.9l.5-2.8l.5-3l.5-.9l.5-1.1l.5 1.1l.5 .9l.5 3l.5 2.8l.5 4.9l.5 4.5l.5 6.5l.5 6.2l.5 7.8l.5 7.4l.5 9l.5 8.2l.5 9.7l.5 8.7l.5 10l.5 8.8l.5 9.9l.5 8.5l.5 9.4l.5 7.9l.5 8.4l.5 6.8l.5 7.2l.5 5.4l.5 5.7l.5 3.7l.5 4l.5 1.8l.5 2.1l.5-.2l.5 .2l.5-2.1l.5-1.9l.5-4l.5-3.7l.5-5.7l.5-5.3l.5-7.2l.5-6.8l.5-8.4l.5-7.9l.5-9.4l.5-8.5l.5-9.9l.5-8.8l.5-10l.5-8.8l.5-9.6l.5-8.2l.5-9l.5-7.3l.5-7.9l.5-6.1l.5-6.5l.5-4.6l.5-4.8l.5-2.8l.5-3.1l.5-.8l.5-1.1l.5 1.1l.5 .9l.5 3l.5 2.8l.5 4.8l.5 4.6l.5 6.5l.5 6.1l.5 7.9l.5 7.3l.5 9l.5 8.2l.5 9.6l.5 8.8l.5 10l.5 8.8l.5 9.9l.5 8.5l.5 9.4l.5 7.8l.5 8.5l.5 6.7l.5 7.2l.5 5.4l.5 5.7l.5 3.7l.5 4l.5 1.8l.5 2.1l.5-.1l.5 .1l.5-2.1l.5-1.8l.5-4l.5-3.7l.5-5.7l.5-5.4l.5-7.2l.5-6.7l.5-8.5l.5-7.8l.5-9.4l.5-8.5l.5-9.9l.5-8.8l.5-10l.5-8.7l.5-9.7l.5-8.2l.5-8.9l.5-7.4l.5-7.9l.5-6l.5-6.5l.5-4.6l.5-4.8l.5-2.8l.5-3.1l.5-.8l.5-1.2l.5 1.2l.5 .8l.5 3.1l.5 2.8l.5 4.8l.5 4.6l.5 6.4l.5 6.2l.5 7.8l.5 7.4l.5 8.9l.5 8.3l.5 9.6l.5 8.7l.5 10l.5 8.8l.5 9.9l.5 8.5l.5 9.4l.5 7.8l.5 8.4l.5 6.8l.5 7.2l.5 5.3l.5 5.7l.5 3.7l.5 4l.5 1.8l.5 2.1l.5-.1l.5 .1l.5-2.1l.5-1.8l.5-4l.5-3.7l.5-5.6l.5-5.4l.5-7.2l.5-6.8l.5-8.4l.5-7.9l.5-9.3l.5-8.5l.5-9.9l.5-8.8l.5-10l.5-8.7l.5-9.6l.5-8.3l.5-8.9l.5-7.4l.5-7.8l.5-6.1l.5-6.5l.5-4.6l.5-4.8l.5-2.8l.5-3l.5-.9l.5-1.1l.5 1.1l.5 .9l.5 3l.5 2.8l.5 4.8l.5 4.6l.5 6.5l.5 6.1l.5 7.8l.5 7.4l.5 8.9l.5 8.3l.5 9.6l.5 8.7l.5 10l.5 8.8l.5 9.9l.5 8.5l.5 9.3l.5 7.9l.5 8.4l.5 6.8l.5 7.2l.5 5.3l.5 5.7l.5 3.7l.5 4l.5 1.8l.5 2.1l.5-.1l.5 .1l.5-2.1l.5-1.8l.5-4l.5-3.7l.5-5.6l.5-5.4l.5-7.2l.5-6.8l.5-8.4l.5-7.9l.5-9.3l.5-8.5l.5-9.9l.5-8.8l.5-10l.5-8.7l.5-9.6l.5-8.3l.5-8.9l.5-7.4l.5-7.8l.5-6.1l.5-6.5l.5-4.6l.5-4.8l.5-2.8l.5-3l.5-.9l.5-1.1l.5 1.1l.5 .8l.5 3.1l.5 2.8l.5 4.8l.5 4.6l.5 6.5l.5 6.1l.5 7.8l.5 7.4l.5 8.9l.5 8.2l.5 9.7l.5 8.7l.5 10l.5 8.8l.5 9.9l.5 8.5l.5 9.3l.5 7.9l.5 8.4l.5 6.8l.5 7.2l.5 5.4l.5 5.6l.5 3.7l.5 4l.5 1.8l.5 2.1l.5-.2l.5 .2l.5-2.1l.5-1.8l.5-4l.5-3.7l.5-5.7l.5-5.3l.5-7.2l.5-6.8l.5-8.4l.5-7.9l.5-9.3l.5-8.5l.5-9.9l.5-8.8l.5-10l.5-8.7l.5-9.7l.5-8.2l.5-8.9l.5-7.4l.5-7.8l.5-6.1l.5-6.5l.5-4.6l.5-4.8l.5-2.8l.5-3.1l.5-.8l.5-1.1l.5 1.1l.5 .9l.5 3l.5 2.8l.5 4.8l.5 4.6l.5 6.5l.5 6.1l.5 7.8l.5 7.4l.5 8.9l.5 8.3l.5 9.6l.5 8.7l.5 10l.5 8.8l.5 9.9l.5 8.5l.5 9.3l.5 7.9l.5 8.4l.5 6.8l.5 7.2l.5 5.4l.5 5.6l.5 3.7l.5 4l.5 1.8l.5 2.1l.5-.1l.5 .1l.5-2.1l.5-1.8l.5-4l.5-3.7l.5-5.6l.5-5.4l.5-7.2l.5-6.8l.5-8.4l.5-7.9l.5-9.3l.5-8.5l.5-9.9l.5-8.8l.5-10l.5-8.7l.5-9.6l.5-8.3l.5-8.9l.5-7.4l.5-7.8l.5-6.1l.5-6.5l.5-4.6l.5-4.8l.5-2.8l.5-3l.5-.9l.5-1.1l.5 1.1l.5 .9l.5 3l.5 2.8l.5 4.8l.5 4.6l.5 6.5l.5 6.1l.5 7.8l.5 7.4l.5 8.9l.5 8.3l.5 9.6l.5 8.7l.5 10l.5 8.8l.5 9.8l.5 8.6l.5 9.3l.5 7.9l.5 8.4l.5 6.8l.5 7.2l.5 5.4l.5 5.6l.5 3.7l.5 4l.5 1.8l.5 2.1l.5-.1l.5 .1l.5-2.1l.5-1.8l.5-4l.5-3.7l.5-5.6l.5-5.4l.5-7.2l.5-6.8l.5-8.4l.5-7.8l.5-9.4l.5-8.5l.5-9.9l.5-8.8l.5-10l.5-8.7l.5-9.7l.5-8.2l.5-8.9l.5-7.4l.5-7.8l.5-6.1l.5-6.5l.5-4.6l.5-4.8l.5-2.8l.5-3l.5-.9l.5-1.1l.5 1.1l.5 .9l.5 3l.5 2.8l.5 4.8l.5 4.6l.5 6.5l.5 6.1l.5 7.8l.5 7.4l.5 8.9l.5 8.2l.5 9.7l.5 8.7l.5 10l.5 8.8l.5 9.8l.5 8.6l.5 9.4l.5 7.8l.5 8.4l.5 6.8l.5 7.2l.5 5.3l.5 5.7l.5 3.7l.5 4l.5 1.8l.5 2.1l.5-.2l.5 .2l.5-2.1l.5-1.8l.5-4l.5-3.7l.5-5.7l.5-5.3l.5-7.2l.5-6.8l.5-8.4l.5-7.8l.5-9.4l.5-8.5l.5-9.9l.5-8.8l.5-10l.5-8.7l.5-9.7l.5-8.2l.5-8.9l.5-7.4l.5-7.8l.5-6.1l.5-6.5l.5-4.6l.5-4.8l.5-2.8l.5-3.1l.5-.8l.5-1.1l.5 1.1l.5 .8l.5 3.1l.5 2.8l.5 4.8l.5 4.6l.5 6.5l.5 6.1l.5 7.8l.5 7.4l.5 8.9l.5 8.3l.5 9.6l.5 8.7l.5 10l.5 8.8l.5 9.9l.5 8.5l.5 9.3l.5 7.9l.5 8.4l.5 6.8l.5 7.2l.5 5.4l.5 5.6l.5 3.7l.5 4l.5 1.8l.5 2.1l.5-.1l.5 .1" stroke="#A2142F"/>
<path d="M371.5 532.5l.5 3.7l.5-21.9l.5 37.5l.5-27.2l.5 45l.5-30.9l.5 49.9l.5-30.6l.5 47.5l.5-32.6l.5 52.1l.5-33.9l.5 47.3l.5-35.9l.5 49.7l.5-37.9l.5 50l.5-41.3l.5 47.7l.5-43.3l.5 48.6l.5-48.8l.5 49.1l.5-51.3l.5 45l.5-48.9l.5 39.2l.5-47.7l.5 35.4l.5-49.5l.5 35.1l.5-49.8l.5 33.8l.5-50.5l.5 32.5l.5-49.6l.5 28.8l.5-47.7l.5 29.3l.5-49.7l.5 31.4l.5-47l.5 32.6l.5-49.9l.5 35.1l.5-48.8l.5 38.9l.5-49.2l.5 43.2l.5-51.3l.5 46.3l.5-47.5l.5 48.7l.5-48l.5 47.9l.5-40.7l.5 49.5l.5-41.2l.5 47.7l.5-34.1l.5 47.3l.5-30.7l.5 46l.5-29.3l.5 45.6l.5-27l.5 46.1l.5-29.4l.5 46.3l.5-27.6l.5 43.8l.5-30.3l.5 46.7l.5-31.9l.5 47.7l.5-35.9l.5 47.9l.5-41.3l.5 48.3l.5-45.1l.5 51.5l.5-50.1l.5 49.1l.5-50.6l.5 45.1l.5-49.6l.5 40.4l.5-47.7l.5 35.7l.5-46.9l.5 31.3l.5-45.7l.5 26.9l.5-44.3l.5 28.6l.5-45.6l.5 25.6l.5-45.2l.5 27.1l.5-45l.5 25.8l.5-43l.5 28.3l.5-45.4l.5 31.4l.5-45.8l.5 36.4l.5-45.1l.5 38.5l.5-45.2l.5 43.6l.5-47.3l.5 45.3l.5-43.9l.5 47.2l.5-38.6l.5 44.1l.5-35.7l.5 44.9l.5-31.4l.5 45.8l.5-28.5l.5 41.9l.5-26.9l.5 43.1l.5-24.4l.5 43.4l.5-25.4l.5 42.5l.5-23.1l.5 41.6l.5-27.3l.5 44.6l.5-29.3l.5 42.5l.5-33.6l.5 45.1l.5-35l.5 44.6l.5-40.2l.5 45.3l.5-45.8l.5 46.5l.5-48.1l.5 41.7l.5-45.1l.5 36.6l.5-45.7l.5 32.6l.5-43.2l.5 28.1l.5-42.6l.5 24.7l.5-40l.5 21.6l.5-40.3l.5 22.2l.5-39.5l.5 20.3l.5-39.2l.5 23.5l.5-42l.5 25.3l.5-41.7l.5 28.8l.5-41.7l.5 32.9l.5-43.5l.5 38.6l.5-45.7l.5 40.7l.5-44.1l.5 46.6l.5-43.9l.5 45.7l.5-39.3l.5 43l.5-31.2l.5 41.9l.5-30l.5 41.6l.5-25.3l.5 40.1l.5-22.4l.5 40.6l.5-21.8l.5 39.7l.5-20.8l.5 39.1l.5-22.2l.5 38.8l.5-21.8l.5 39l.5-26.3l.5 42.1l.5-31.5l.5 43.3l.5-34.9l.5 45.2l.5-42.1l.5 46l.5-42.4l.5 40.8l.5-43.8l.5 39.5l.5-44.4l.5 35.6l.5-42.7l.5 31l.5-41.8l.5 24.3l.5-37.1l.5 20.5l.5-37.8l.5 20.3l.5-36.7l.5 16.6l.5-36.5l.5 18.2l.5-35.6l.5 18.8l.5-36.1l.5 20.3l.5-37.9l.5 25.9l.5-39.5l.5 29.8l.5-39.7l.5 34.8l.5-45l.5 42l.5-44.2l.5 43.9l.5-39.7l.5 41.5l.5-36l.5 43.4l.5-31l.5 40.6l.5-26.9l.5 37.5l.5-22l.5 38.2l.5-19.2l.5 34.9l.5-16.1l.5 35l.5-17.4l.5 35.6l.5-17.6l.5 34.9l.5-19.3l.5 36.9l.5-23.6l.5 39.4l.5-27.4l.5 39.7l.5-33.6l.5 41.4l.5-35.1l.5 41.9l.5-43.7l.5 41.9l.5-40.9l.5 35.7l.5-40.7l.5 32.2l.5-38.5l.5 25l.5-36.6l.5 22.7l.5-36.4l.5 18.9l.5-34.5l.5 16.8l.5-35.6l.5 15.7l.5-33.6l.5 15.6l.5-34.2l.5 17.2l.5-35l.5 19.8l.5-36.6l.5 24.6l.5-38.3l.5 27.5l.5-39.5l.5 34l.5-41.8l.5 38.6l.5-40.5l.5 41l.5-37l.5 38.7l.5-31.9l.5 37.4l.5-27.3l.5 38.7l.5-23.8l.5 34.6l.5-18l.5 34l.5-17.3l.5 33.6l.5-14.7l.5 33l.5-14.7l.5 33.1l.5-14.7l.5 32.6l.5-16.5l.5 33.9l.5-19.9l.5 35.7l.5-24.7l.5 38l.5-30.4l.5 38.6l.5-35.1l.5 40.3l.5-38.7l.5 38.7l.5-41.2l.5 35.4l.5-38.3l.5 30l.5-37.9l.5 24.1l.5-34.8l.5 19.5l.5-33.2l.5 15.6l.5-31.2l.5 14l.5-32l.5 13l.5-31.4l.5 12.5l.5-31.6l.5 14.5l.5-32l.5 16.4l.5-31.8l.5 19.6l.5-33.8l.5 24.9l.5-36.3l.5 30.3l.5-40l.5 38.6l.5-39.8l.5 40.6l.5-38.2l.5 39.8l.5-32.3l.5 36.5l.5-24.9l.5 35.2l.5-21.2l.5 32.7l.5-16.6l.5 32.2l.5-13.6l.5 30.4l.5-12.1l.5 30.6l.5-11.3l.5 29.1l.5-12.2l.5 31.5l.5-15.1l.5 31.8l.5-17.2l.5 32l.5-20.4l.5 33.8l.5-27.6l.5 36.4l.5-32.5l.5 38.8l.5-39.5l.5 40.6l.5-40.6l.5 33.1l.5-36.3l.5 26.2l.5-33.2l.5 20.7l.5-32.3l.5 17.9l.5-30.5l.5 12.7l.5-29.2l.5 10l.5-28.7l.5 10.1l.5-28.1l.5 10.2l.5-28.8l.5 10.8l.5-28.5l.5 13.8l.5-29.5l.5 16.7l.5-31.5l.5 21.6l.5-33.4l.5 28.4l.5-35.8l.5 35.3l.5-38.7l.5 38l.5-34.3l.5 36.6l.5-27.6l.5 32.6l.5-22l.5 30.2l.5-15.7l.5 29.4l.5-14.3l.5 28.2l.5-10.1l.5 27.2l.5-8l.5 26.7l.5-8.7l.5 27.3l.5-8.5l.5 26.9l.5-11.6l.5 28.8l.5-14.6l.5 29.1l.5-18.3l.5 30.9l.5-23.4l.5 33.5l.5-29.8l.5 37.3l.5-36.4l.5 35.1l.5-35.3l.5 28.6l.5-31.6l.5 21.6l.5-29.3l.5 17.8l.5-29.7l.5 13.2l.5-26.4l.5 9.9l.5-26.5l.5 8.1l.5-25.6l.5 6.4l.5-25l.5 6.6l.5-25l.5 8.4l.5-27l.5 10.9l.5-26.7l.5 15.1l.5-28.3l.5 18.7l.5-30.7l.5 26l.5-33.9l.5 31.1l.5-34.4l.5 34.5l.5-32.2l.5 34.9l.5-26.5l.5 31.4l.5-19.4l.5 28.6l.5-14.4l.5 26.5l.5-9.7l.5 24.5l.5-7l.5 24.2l.5-5.4l.5 23.8l.5-5.8l.5 24.2l.5-5.8l.5 23.8l.5-6.9l.5 24.7l.5-11.6l.5 26.2l.5-14.5l.5 27.7l.5-20.8l.5 31l.5-28.2l.5 33.6l.5-32.2l.5 32.7l.5-34.7l.5 28.3l.5-29.5l.5 19.5l.5-26.8l.5 13.9l.5-26l.5 10.4l.5-23.4l.5 6.9l.5-23.5l.5 5l.5-22.9l.5 4.2l.5-23.2l.5 4.4l.5-22.8l.5 5.1l.5-22.3l.5 7l.5-23.4l.5 11.7l.5-26.3l.5 16.6l.5-27.7l.5 23l.5-31.1l.5 30.4l.5-33.8l.5 33.8l.5-31.3l.5 31.1l.5-21.7l.5 27.2l.5-15.4l.5 23.8l.5-10.7l.5 23.6l.5-7l.5 22l.5-3.6l.5 21.1l.5-2.6l.5 20.8l.5-2.3l.5 21l.5-3.2l.5 22.1l.5-5.7l.5 22l.5-7.7l.5 23.5l.5-12.5l.5 25.3l.5-18.7l.5 29.2l.5-25.3l.5 31.1l.5-32.6l.5 32.9l.5-31.8l.5 25.8l.5-29.2l.5 18l.5-25l.5 11.8l.5-22.9l.5 8.4l.5-21.8l.5 4.4l.5-21l.5 2.5l.5-20.1l.5 1.4l.5-20.6l.5 1.9l.5-20.1l.5 3.1l.5-20.7l.5 5l.5-21.9l.5 9.4l.5-22.6l.5 13.3l.5-24.7l.5 20.2l.5-28.3l.5 27.5l.5-31.3l.5 31.6l.5-27.9l.5 28.7l.5-20.9l.5 25.4l.5-13.5l.5 23.1l.5-9.5l.5 21.2l.5-5l.5 20.5l.5-2l.5 19.6l.5-1.7l.5 19.6l.5-.7l.5 19.6l.5-1.1l.5 19.3l.5-3.2l.5 20.6l.5-7l.5 21.6l.5-9.9l.5 23.2l.5-15.9l.5 25l.5-22.6l.5 29l.5-28.4l.5 29.3l.5-30.2l.5 23.3l.5-24.6l.5 13.9l.5-21.8l.5 9.8l.5-21.2l.5 6l.5-19.8l.5 2.3l.5-18.8l.5 1.2l.5-18.8l.5-.2l.5-19.1l.5 .4l.5-18.9l.5 1.4l.5-19l.5 4.2l.5-20.4l.5 7.9l.5-21.6l.5 11.1l.5-22.1l.5 16.9l.5-25.9l.5 25.7l.5-29.7l.5 29.8l.5-25.8l.5 26.9l.5-18.1l.5 22.9l.5-10.9l.5 19.6l.5-5.9l.5 19.1l.5-2.8l.5 18l.5-.7l.5 17.9l.5 .9l.5 17.6l.5 1.1l.5 17.8l.5 0l.5 17.8l.5-1.3l.5 18.1l.5-3.6l.5 18.6l.5-8.1l.5 21.2l.5-12.8l.5 22.7l.5-20.3l.5 27.7l.5-26.6l.5 25.9l.5-27.1l.5 20.3l.5-23l.5 12.4l.5-19.4l.5 7l.5-18.4l.5 3.7l.5-17.7l.5 .4l.5-16.8l.5-1.3l.5-17l.5-1.7l.5-16.8l.5-1.8l.5-16.9l.5-.4l.5-17.4l.5 2l.5-18l.5 5.1l.5-18.6l.5 8.8l.5-20.1l.5 15.6l.5-23.5l.5 21.9l.5-25.6l.5 25.1l.5-22.1l.5 23.5l.5-15.2l.5 20.7l.5-9.2l.5 18.1l.5-4l.5 16.9l.5-.8l.5 16.3l.5 1.3l.5 16.4l.5 2.3l.5 15.9l.5 2.6l.5 16.1l.5 2l.5 16.1l.5 .5l.5 16.5l.5-1.9l.5 16.7l.5-5.4l.5 18.2l.5-11.1l.5 20.7l.5-16.9l.5 23.5l.5-24.7l.5 24.7l.5-24.8l.5 18.1l.5-20.3l.5 10.6l.5-18.2l.5 5.2l.5-16.2l.5 1.7l.5-15.9l.5-1.5l.5-15.3l.5-2.8l.5-15l.5-3.6l.5-15.1l.5-3.5l.5-15.2l.5-2.1l.5-15.1l.5-.5l.5-15.7l.5 2.6l.5-16.3l.5 6.9l.5-18.2l.5 13.4l.5-22.3l.5 20.6l.5-24.2l.5 24.1l.5-20.2l.5 21.4l.5-12.4l.5 17.6l.5-6.3l.5 15.9l.5-2.3l.5 15.3l.5 .7l.5 14.9l.5 2.4l.5 15.1l.5 3.6l.5 14.6l.5 4.1l.5 14.6l.5 3.6l.5 14.6l.5 1.9l.5 15l.5-.4l.5 14.9l.5-3.7l.5 15.9l.5-8.2l.5 18l.5-14.6l.5 21.6l.5-21l.5 20.2l.5-21.2l.5 14.7l.5-17l.5 7.5l.5-15.4l.5 3.3l.5-15l.5 .3l.5-14.9l.5-1.9l.5-14.6l.5-3.7l.5-14.4l.5-4.3l.5-14.2l.5-4.4l.5-14.1l.5-3.3l.5-14.5l.5-1.1l.5-14.8l.5 1.5l.5-14.8l.5 5.4l.5-15.8l.5 10.4l.5-19.6l.5 17l.5-19.5l.5 20.6l.5-18l.5 18.7l.5-10.2l.5 15.6l.5-4.5l.5 14.7l.5-1.2l.5 14.2l.5 1.9l.5 13.6l.5 3.6l.5 14l.5 4.7l.5 13.8l.5 5l.5 13.8l.5 4.3l.5 13.8l.5 3l.5 13.6l.5 .8l.5 13.9l.5-2.1l.5 14.2l.5-6.8l.5 16.2l.5-12.4l.5 18.7l.5-18.2l.5 18.3l.5-19.2l.5 12.7l.5-15.9l.5 6.5l.5-14.3l.5 2l.5-13.7l.5-.9l.5-13.2l.5-3.4l.5-13.4l.5-4.6l.5-13.5l.5-5.3l.5-13.5l.5-5.1l.5-13.2l.5-4.2l.5-13.3l.5-2.7l.5-13.1l.5-.1l.5-13.4l.5 3.2l.5-13.3l.5 7.6l.5-15.7l.5 13.5l.5-16.6l.5 17.4l.5-14l.5 15.4l.5-8.1l.5 13.9l.5-3.1l.5 13.2l.5 .2l.5 12.8l.5 2.9l.5 12.9l.5 4.7l.5 12.8l.5 5.6l.5 13.1l.5 5.6l.5 13l.5 5.3l.5 12.8l.5 3.8l.5 12.6l.5 2.2l.5 12.4l.5-.6l.5 12.7l.5-4.5l.5 13.5l.5-10.2l.5 15.7l.5-14.7l.5 15.2l.5-15.4l.5 9.8l.5-14.1l.5 4.4l.5-12.2l.5 .3l.5-12.1l.5-2.4l.5-12.3l.5-4.3l.5-12.5l.5-5.6l.5-12.5l.5-6.2l.5-12.5l.5-6l.5-12.6l.5-5.2l.5-12.2l.5-3.6l.5-11.9l.5-1.5l.5-11.8l.5 1.9l.5-12.2l.5 5.9l.5-14l.5 12.3l.5-14.8l.5 14.5l.5-11.6l.5 13.2l.5-5.6l.5 12l.5-1.3l.5 11.5l.5 1.7l.5 11.5l.5 4.2l.5 11.7l.5 5.6l.5 12.1l.5 6.2l.5 12.4l.5 6.5l.5 12l.5 6.1l.5 12l.5 4.9l.5 11.5l.5 3.3l.5 11.2l.5 .8l.5 10.9l.5-2.6l.5 11.4l.5-7.2l.5 12.6l.5-12.1l.5 12.1l.5-12.4l.5 7.2l.5-11.4l.5 2.1l.5-10.4l.5-1.2l.5-10.8l.5-3.6l.5-11.1l.5-5.6l.5-11.4l.5-6.4l.5-11.7l.5-7l.5-11.8l.5-6.8l.5-11.5l.5-6.2l.5-11.2l.5-4.8l.5-10.7l.5-2.7l.5-10.1l.5-.6l.5-9.7l.5 3.3l.5-11l.5 9.1l.5-11.6l.5 11.3l.5-8.8l.5 11.1l.5-3.2l.5 9.4l.5 .8l.5 9.7l.5 3.1l.5 10.5l.5 5.1l.5 10.8l.5 6.4l.5 11.3l.5 7.1l.5 11.5l.5 7.3l.5 11.4l.5 6.9l.5 11l.5 6l.5 10.5l.5 4.3l.5 10.1l.5 2l.5 9.3l.5-.7l.5 9.4l.5-4.7l.5 10.1l.5-9.1l.5 8.9l.5-10.2l.5 5.2l.5-9.7l.5 1l.5-9.3l.5-2.3l.5-10l.5-4.4l.5-10.3l.5-6.1l.5-11l.5-6.9l.5-11.4l.5-7.4l.5-11.3l.5-7.3l.5-11.1l.5-6.6l.5-10.6l.5-5.4l.5-10l.5-3.7l.5-9.3l.5-1.3l.5-8.7l.5 2l.5-8.9l.5 6.1l.5-8.9l.5 9.2l.5-6.2l.5 8.7l.5-1.8l.5 8.6l.5 1.3l.5 9.1l.5 3.9l.5 9.8l.5 5.6l.5 10.5l.5 6.7l.5 11l.5 7.5l.5 11.1l.5 7.6l.5 11.1l.5 7.2l.5 10.7l.5 6.2l.5 10.1l.5 4.9l.5 9.3l.5 2.9l.5 8.7l.5 .1l.5 8.1l.5-3.2l.5 8.4l.5-6.8l.5 6.5l.5-8.2l.5 3.3l.5-8l.5-.4l.5-8.3l.5-3.1l.5-9.3l.5-5l.5-9.9l.5-6.4l.5-10.5l.5-7.4l.5-10.9l.5-7.7l.5-11.1l.5-7.6l.5-10.8l.5-7l.5-10.2l.5-5.9l.5-9.4l.5-4.4l.5-8.4l.5-2.1l.5-7.8l.5 .8l.5-7.5l.5 4.3l.5-6.6l.5 6.5l.5-3.8l.5 7.1l.5-.7l.5 7.6l.5 2.3l.5 8.3l.5 4.4l.5 9.4l.5 6l.5 10.1l.5 7.1l.5 10.6l.5 7.8l.5 10.8l.5 7.9l.5 10.8l.5 7.6l.5 10.3l.5 6.7l.5 9.7l.5 5.3l.5 8.7l.5 3.7l.5 7.7l.5 1.4l.5 6.6l.5-1.5l.5 6.1l.5-4.3l.5 4l.5-5.8l.5 1.4l.5-6.4l.5-1.7l.5-7.5l.5-3.8l.5-8.5l.5-5.5l.5-9.6l.5-6.8l.5-10.2l.5-7.6l.5-10.7l.5-8.1l.5-10.7l.5-7.9l.5-10.4l.5-7.3l.5-9.9l.5-6.3l.5-9l.5-4.9l.5-7.7l.5-3.1l.5-6.5l.5-.9l.5-5.4l.5 2l.5-4.2l.5 4.1l.5-1.9l.5 5.4l.5 .8l.5 6.5l.5 3.2l.5 7.6l.5 5.1l.5 8.8l.5 6.5l.5 9.6l.5 7.6l.5 10.3l.5 8l.5 10.6l.5 8.2l.5 10.5l.5 7.8l.5 10l.5 7.1l.5 9.2l.5 5.9l.5 8.1l.5 4.4l.5 6.8l.5 2.5l.5 5.3l.5 .3l.5 3.8l.5-1.9l.5 1.8l.5-3.6l.5-.5l.5-5.1l.5-2.7l.5-6.6l.5-4.5l.5-8l.5-6l.5-9.1l.5-7.3l.5-9.8l.5-8l.5-10.4l.5-8.3l.5-10.4l.5-8.3l.5-10.1l.5-7.6l.5-9.6l.5-6.6l.5-8.5l.5-5.5l.5-7.2l.5-3.7l.5-5.8l.5-1.8l.5-4.1l.5 .3l.5-2.4l.5 2.5l.5-.5l.5 4.3l.5 1.8l.5 5.6l.5 3.8l.5 7.2l.5 5.5l.5 8.4l.5 6.8l.5 9.4l.5 7.7l.5 10.1l.5 8.4l.5 10.3l.5 8.4l.5 10.3l.5 8.1l.5 9.7l.5 7.4l.5 8.9l.5 6.2l.5 7.8l.5 4.7l.5 6.4l.5 2.9l.5 4.9l.5 .9l.5 3.1l.5-1.4l.5 1.4l.5-3.2l.5-.8l.5-4.9l.5-2.9l.5-6.4l.5-4.7l.5-7.7l.5-6.3l.5-8.9l.5-7.4l.5-9.7l.5-8.2l.5-10.1l.5-8.5l.5-10.3l.5-8.5l.5-9.9l.5-7.9l.5-9.2l.5-7l.5-8.3l.5-5.6l.5-7l.5-4l.5-5.5l.5-2.1l.5-3.7l.5-.1l.5-2l.5 2l.5 0l.5 3.9l.5 2.1l.5 5.3l.5 4.2l.5 6.8l.5 5.7l.5 8.2l.5 7.1l.5 9.2l.5 7.9l.5 9.9l.5 8.5l.5 10.2l.5 8.6l.5 10.1l.5 8.3l.5 9.5l.5 7.6l.5 8.7l.5 6.5l.5 7.5l.5 5l.5 6.1l.5 3.2l.5 4.5l.5 1.2l.5 2.8l.5-.9l.5 .9l.5-2.8l.5-1.2l.5-4.4l.5-3.3l.5-6.1l.5-5l.5-7.5l.5-6.5l.5-8.6l.5-7.7l.5-9.5l.5-8.4l.5-10l.5-8.6l.5-10.2l.5-8.5l.5-9.8l.5-8.1l.5-9.1l.5-7.2l.5-8l.5-5.9l.5-6.7l.5-4.3l.5-5.1l.5-2.4l.5-3.5l.5-.4l.5-1.6l.5 1.6l.5 .4l.5 3.4l.5 2.4l.5 5.2l.5 4.3l.5 6.7l.5 5.9l.5 8l.5 7.3l.5 9l.5 8.1l.5 9.7l.5 8.7l.5 10l.5 8.8l.5 9.9l.5 8.5l.5 9.3l.5 7.8l.5 8.6l.5 6.6l.5 7.3l.5 5.2l.5 5.9l.5 3.5l.5 4.2l.5 1.6l.5 2.3l.5-.4l.5 .4l.5-2.3l.5-1.6l.5-4.2l.5-3.5l.5-5.8l.5-5.3l.5-7.3l.5-6.7l.5-8.4l.5-7.9l.5-9.3l.5-8.6l.5-9.8l.5-8.8l.5-9.9l.5-8.8l.5-9.6l.5-8.3l.5-8.9l.5-7.4l.5-7.8l.5-6.1l.5-6.5l.5-4.5l.5-4.9l.5-2.7l.5-3.1l.5-.9l.5-1.1l.5 1.2l.5 .7l.5 3.1l.5 2.8l.5 4.8l.5 4.6l.5 6.5l.5 4.1l.5 16.2l.5-7.9l.5 29l.5-17.3l.5 38.3l.5-22.5l.5 47.5l.5-34.5l.5 58.1l.5-43.6l.5 64.4l.5-48.8l.5 66l.5-51.9l.5 67.7l.5-54l.5 68.1l.5-61.3l.5 72.8l.5-72l.5 81.9l.5-80.7l.5 80.9l.5-84.7l.5 75l.5-75.3l.5 62.7l.5-66.8l.5 55.6l.5-67.3l.5 49.5l.5-68.1l.5 53.6l.5-67.3l.5 46.6l.5-67.5l.5 46.7l.5-63.5l.5 45.7l.5-65.5l.5 47.8l.5-68.6l.5 52l.5-65.5l.5 52.4l.5-69.1l.5 61.8l.5-73.1l.5 64.5l.5-71.9l.5 76.8l.5-80.2l.5 79.5l.5-79.2l.5 79.8l.5-69.2l.5 69.9l.5-56.1l.5 68.9l.5-55.5l.5 67.5l.5-53.1l.5 68.5l.5-49.5l.5 67.5l.5-48.3l.5 65.7l.5-44.1l.5 65.2l.5-48.9l.5 69l.5-49.6l.5 66.4l.5-53.6l.5 66.6l.5-55.8l.5 71l.5-60.7l.5 71.5l.5-68.7l.5 72.8l.5-73.5l.5 78.3l.5-79.2l.5 67.9l.5-71.3l.5 64l.5-70l.5 56.1l.5-67l.5 50.2l.5-65.9l.5 50.4l.5-68.5l.5 49.5l.5-67l.5 46.3l.5-67.8l.5 48.7l.5-67.2l.5 48.9l.5-67.7l.5 52.2l.5-68.7l.5 55.9l.5-68.6l.5 60.7l.5-70.2l.5 61.9l.5-71.1l.5 71.5l.5-75.4l.5 73l.5-73.2l.5 77.4l.5-63.1l.5 67.2l.5-56.6l.5 67.8l.5-54.8l.5 64.5l.5-48l.5 67.8l.5-49.3l.5 67.1l.5-50.4l.5 66.9l.5-45.1l.5 64.6l.5-48.8l.5 67l.5-46l.5 64l.5-50.4l.5 66.2l.5-54.1l.5 66.7l.5-60.6l.5 69.5l.5-64.1l.5 74.5l.5-75.9l.5 71.6l.5-72.3l.5 67.9l.5-70l.5 61l.5-71.2l.5 54.8l.5-64.1l.5 50.4l.5-65.7l.5 49.1l.5-64.8l.5 44.2l.5-64.5l.5 46.8l.5-65.8l.5 45l.5-61.9l.5 45.7l.5-66l.5 50.8l.5-67.4l.5 54.9l.5-70.4l.5 57.1l.5-66.9l.5 63.5l.5-69.6l.5 68.9l.5-77l.5 77.1l.5-70.4l.5 69.6l.5-59.8l.5 64.1l.5-53.7l.5 66.1l.5-50.7l.5 65l.5-50.2l.5 63.1l.5-44.4l.5 64.4l.5-45.1l.5 62.4l.5-43.8l.5 65.3l.5-48.1l.5 64.3l.5-47.9l.5 64.4l.5-48.6l.5 64.7l.5-52.1l.5 66.4l.5-58.1l.5 68.3l.5-66.6l.5 73.7l.5-72l.5 69.8l.5-73.9l.5 66.9l.5-69.7l.5 58.7l.5-66.3l.5 55.9l.5-65l.5 51.4l.5-66.9l.5 47.3l.5-66.1l.5 49.6l.5-67.1l.5 44.5l.5-64.5l.5 46.5l.5-61.7l.5 46.1l.5-67.4l.5 50.3l.5-67.1l.5 54.2l.5-65.2l.5 54.4l.5-65.2l.5 59.5l.5-68.8l.5 65.5l.5-69.9l.5 73.2l.5-70.2l.5 68.9l.5-59.5l.5 66.5l.5-56.3l.5 66.9l.5-51.4l.5 64.7l.5-50.7l.5 66.9l.5-49l.5 66.6l.5-47.2l.5 65.1l.5-44.2l.5 64l.5-46.7l.5 67l.5-47.2l.5 64.4l.5-53.6l.5 65.3l.5-51l.5 64.9l.5-56.6l.5 65.4l.5-60.6l.5 70l.5-73.8l.5 71.5l.5-71.2l.5 65l.5-64.8l.5 54.4l.5-66.4l.5 52.4l.5-61.5l.5 50.2l.5-67.8l.5 48.1l.5-62l.5 45.1l.5-65.3l.5 45.1l.5-61.9l.5 41.3l.5-61l.5 45.7l.5-66l.5 48.8l.5-64.9l.5 52.3l.5-64.9l.5 54l.5-62.7l.5 57.7l.5-67l.5 63.9l.5-69.4l.5 69.1l.5-62.5l.5 64.2l.5-59.8l.5 66.4l.5-54.9l.5 66.2l.5-52l.5 64.5l.5-45.9l.5 60.6l.5-44.2l.5 64.1l.5-43.6l.5 62.5l.5-45l.5 62l.5-44.8l.5 65.4l.5-48.5l.5 65.3l.5-49.1l.5 65l.5-50.9l.5 60.4l.5-54.2l.5 66.5l.5-63.3l.5 69.4l.5-70.3l.5 68.2l.5-67.6l.5 61.2l.5-62.3l.5 55.7l.5-66.8l.5 54.7l.5-64.4l.5 48.9l.5-65.9l.5 45.5l.5-61.3l.5 43.1l.5-62.4l.5 45.6l.5-63.3l.5 44.4l.5-62.3l.5 44.9l.5-63l.5 44.8l.5-63.8l.5 50l.5-60.4l.5 51.5l.5-63.7l.5 55.4l.5-63.6l.5 63.9l.5-68.1l.5 70.2l.5-67.2l.5 68.9l.5-59.8l.5 62.4l.5-49.4l.5 63l.5-50l.5 59.8l.5-43.4l.5 60l.5-43.6l.5 63.7l.5-45.2l.5 63.5l.5-45.4l.5 63l.5-44.1l.5 65.2l.5-48.3l.5 63.7l.5-47.5l.5 64.1l.5-53.3l.5 64.3l.5-54.8l.5 63.7l.5-59.7l.5 67.2l.5-68.6l.5 65l.5-64.4l.5 59.5l.5-61.6l.5 53.5l.5-62.8l.5 50.7l.5-64.9l.5 47.4l.5-60l.5 45l.5-63.3l.5 46.3l.5-63.5l.5 42.4l.5-60.8l.5 42.4l.5-62.7l.5 45.4l.5-62.1l.5 45.8l.5-61.4l.5 49.2l.5-64.3l.5 52.3l.5-62.1l.5 56.4l.5-64.5l.5 63.2l.5-68.2l.5 65.7l.5-60.3l.5 64.4l.5-58.7l.5 62.9l.5-49.5l.5 59.5l.5-45.7l.5 58.9l.5-45.5l.5 61.5l.5-43.5l.5 64.6l.5-45.5l.5 61.6l.5-40.7l.5 61.6l.5-45.3l.5 61.6l.5-42.1l.5 59.5l.5-47.1l.5 61.2l.5-47.4l.5 61.2l.5-53.1l.5 62.5l.5-56.7l.5 59.8l.5-60.3l.5 60.4l.5-63.5l.5 60.5l.5-63.9l.5 55.2l.5-63.6l.5 49.3l.5-58.5l.5 45l.5-62.6l.5 43.8l.5-58l.5 42.1l.5-62.7l.5 44.3l.5-62.2l.5 40.9l.5-59.1l.5 41.2l.5-60.3l.5 44.8l.5-61.5l.5 50l.5-60.8l.5 49.5l.5-62l.5 55.7l.5-63.1l.5 57.9l.5-60.9l.5 63l.5-60.1l.5 61.1l.5-51.3l.5 57.2l.5-47.7l.5 60.8l.5-46.3l.5 59.3l.5-45.2l.5 61.8l.5-45.3l.5 60.4l.5-39.2l.5 60.7l.5-41.1l.5 57.8l.5-40.5l.5 59.9l.5-44.9l.5 61.2l.5-46.3l.5 61.1l.5-46.1l.5 59.2l.5-50.4l.5 57.4l.5-53.1l.5 58.6l.5-59.2l.5 58.7l.5-58.2l.5 55.5l.5-62.7l.5 52.4l.5-57.7l.5 46.3l.5-60.9l.5 44.2l.5-59.2l.5 43.8l.5-61l.5 41.4l.5-57.6l.5 41.4l.5-61.4l.5 40.3l.5-58.4l.5 41.4l.5-58.5l.5 41.8l.5-59.9l.5 45.7l.5-56.5l.5 46.4l.5-58.8l.5 50.8l.5-55.8l.5 54.8l.5-57.5l.5 58.8l.5-57.4l.5 60.7l.5-53.5l.5 56.4l.5-46.8l.5 59.1l.5-43.7l.5 57.5l.5-43.8l.5 61.2l.5-41.2l.5 56.8l.5-41.1l.5 59.4l.5-40.3l.5 62.1l.5-42.2l.5 59.5l.5-43.3l.5 60.2l.5-45.5l.5 60.4l.5-48.3l.5 60.3l.5-49.5l.5 55.2l.5-51.8l.5 57.7l.5-54.4l.5 56l.5-60.2l.5 53.5l.5-57l.5 49.2l.5-57.6l.5 46.6l.5-59.7l.5 44.7l.5-59.7l.5 43.4l.5-59.9l.5 40.9l.5-59.4l.5 39.9l.5-57.2l.5 39.9l.5-58.9l.5 39.4l.5-56l.5 39.4l.5-58l.5 46.1l.5-58.3l.5 46.8l.5-58l.5 50.4l.5-56.6l.5 52.8l.5-56.3l.5 57.5l.5-51.9l.5 56.4l.5-50.5l.5 54.7l.5-46.1l.5 59.2l.5-45.9l.5 58.8l.5-41.5l.5 56.9l.5-38.8l.5 55.9l.5-38.4l.5 57.1l.5-38.3l.5 59.5l.5-39.4l.5 55.1l.5-39.9l.5 57.4l.5-42l.5 56.6l.5-43.4l.5 54.9l.5-46.3l.5 54l.5-50.4l.5 56l.5-53.6l.5 54.5l.5-55.8l.5 51.3l.5-55l.5 44.8l.5-56.1l.5 45.6l.5-56.4l.5 41l.5-56.1l.5 38.3l.5-54.1l.5 37.4l.5-57.4l.5 37.5l.5-55.8l.5 38.4l.5-56l.5 36.5l.5-53.7l.5 36.9l.5-55.4l.5 44l.5-57.2l.5 46.8l.5-56.6l.5 48.5l.5-55.6l.5 53.8l.5-54.2l.5 53.4l.5-51.7l.5 53.5l.5-46.3l.5 53l.5-41.4l.5 52l.5-40l.5 55.9l.5-40l.5 56.2l.5-40.7l.5 58.9l.5-39.7l.5 56.1l.5-37.3l.5 58.5l.5-39.3l.5 56l.5-39.3l.5 57.2l.5-42.9l.5 55.3l.5-40.1l.5 52l.5-44.3l.5 53.4l.5-47.7l.5 52.4l.5-50.6l.5 49.5l.5-51.7l.5 46.1l.5-50.2l.5 43.5l.5-55.2l.5 42.2l.5-53.8l.5 40.1l.5-54.5l.5 37.1l.5-54.3l.5 38.8l.5-58.7l.5 37.2l.5-53.7l.5 36.9l.5-56l.5 36.9l.5-54.2l.5 38.6l.5-55.3l.5 42.3l.5-55.3l.5 43l.5-51.2l.5 44.2l.5-52l.5 49.4l.5-51l.5 51.8l.5-48.8l.5 51.3l.5-43.7l.5 50.6l.5-43.6l.5 53.9l.5-39.6l.5 53.7l.5-38.8l.5 54.2l.5-37.3l.5 54.5l.5-34.1l.5 54.4l.5-37.2l.5 53.9l.5-34.3l.5 55.2l.5-38.4l.5 52.7l.5-36.8l.5 51l.5-39.3l.5 52.1l.5-44.6l.5 51.9l.5-44.5l.5 47.9l.5-45.6l.5 47.2l.5-49.7l.5 45.5l.5-52.5l.5 43.1l.5-49.6l.5 40.1l.5-53.8l.5 37l.5-51.8l.5 35.6l.5-51.7l.5 35.2l.5-54.2l.5 34.2l.5-53.9l.5 35.7l.5-52.5l.5 35.8l.5-54.3l.5 35.8l.5-52.5l.5 38.3l.5-50.2l.5 40.5l.5-49.6l.5 43.6l.5-48.6l.5 42.9l.5-47.1l.5 46.9l.5-44.5l.5 50.7l.5-43.6l.5 48.5l.5-39.5l.5 49.6l.5-35.3l.5 51.7l.5-37.8l.5 53.2l.5-35.2l.5 53.9l.5-36l.5 53.5l.5-34.3l.5 53.2l.5-33.4l.5 52.4l.5-36.5l.5 51.3l.5-37.2l.5 51.8l.5-39.3l.5 49.9l.5-39.8l.5 48.5l.5-43.4l.5 46.3l.5-44.2l.5 46.9l.5-47.5l.5 42.4l.5-48.3l.5 39.1l.5-47.3l.5 38.4l.5-53.5l.5 37.2l.5-51.8l.5 34.6l.5-51.7l.5 33.4l.5-50.2l.5 32.4l.5-51.9l.5 32.3l.5-50l.5 33.7l.5-52.3l.5 34.2l.5-48.2l.5 34.2l.5-47l.5 38.2l.5-50.2l.5 42l.5-46.4l.5 43.7l.5-45.6l.5 45l.5-43.7l.5 46.2l.5-38.9l.5 46.4l.5-38l.5 50.2l.5-37.8l.5 51.9l.5-34.3l.5 48.3l.5-32.3l.5 51.2l.5-31.8l.5 49.8l.5-31.1l.5 50.6l.5-32.4l.5 49.9l.5-33.3l.5 50.2l.5-33.3l.5 49.4l.5-38.9l.5 47.5l.5-37.5l.5 48l.5-43.5l.5 45.5l.5-43.7l.5 43.9l.5-44.4l.5 40.1l.5-44.4l.5 37.7l.5-47.4l.5 35l.5-49.6l.5 34.3l.5-48.5l.5 34.1l.5-50.2l.5 32.6l.5-52.6l.5 31.3l.5-50.4l.5 31.6l.5-48.2l.5 30.6l.5-49l.5 32.3l.5-46.6l.5 34.1l.5-46.7l.5 34.9l.5-44.2l.5 37.2l.5-44.8l.5 40.5l.5-43.2l.5 43.4l.5-38.7l.5 43.7l.5-38.2l.5 44.9l.5-37.1l.5 47.7l.5-34.9l.5 49l.5-33.8l.5 49.3l.5-31.9l.5 50.9l.5-30.2l.5 48.5l.5-31.5l.5 51.2l.5-32l.5 48.4l.5-31.6l.5 48.9l.5-33.6l.5 48.8l.5-36.5l.5 45.7l.5-34.3l.5 43.5l.5-37.4l.5 40.5l.5-40.7l.5 40.1l.5-42.5l.5 40.1l.5-44.4l.5 36.3l.5-45.7l.5 34.5l.5-48.1l.5 32.9l.5-47.2l.5 31.6l.5-48.5l.5 29.2l.5-46.3l.5 27.7l.5-47.1l.5 27.7l.5-48.1l.5 29.8l.5-47.3l.5 31.2l.5-46.1l.5 32.4l.5-43.3l.5 32.2l.5-42.7l.5 36.5l.5-42.6l.5 37l.5-37.7l.5 38l.5-37l.5 40.5l.5-35.5l.5 44.5l.5-33.3l.5 44.5l.5-33.2l.5 46.8l.5-30.5l.5 47.5l.5-30.6l.5 47.1l.5-28.6l.5 46.7l.5-28.2l.5 47.2l.5-26.5l.5 45l.5-29.8l.5 47.3l.5-30.7l.5 43.3l.5-30.8l.5 41.4l.5-32.7l.5 41l.5-35.4l.5 40.9l.5-39l.5 37l.5-37.2l.5 32.9l.5-39.6l.5 32l.5-41.6l.5 30.9l.5-43.8l.5 30l.5-44l.5 26.7l.5-44.5l.5 28.3l.5-45.7l.5 25.7l.5-46.8l.5 27.9l.5-45.3l.5 26.4l.5-42.7l.5 26.4l.5-43.3l.5 29.2l.5-41.1l.5 31.2l.5-40.8l.5 32.3l.5-36.9l.5 32.8l.5-35.3l.5 37.3l.5-36.4l.5 38l.5-32.7l.5 40.7l.5-30.5l.5 41.3l.5-29l.5 44.6l.5-28.8l.5 44.6l.5-25.9l.5 44.4l.5-26.1l.5 44.5l.5-27.2l.5 46l.5-25.8l.5 42.6l.5-24.8l.5 42.4l.5-26.9l.5 41.2l.5-30.8l.5 40l.5-29.7l.5 38.7l.5-31.8l.5 35l.5-35l.5 35.4l.5-35.7l.5 32.4l.5-39.1l.5 29.6l.5-38.3l.5 28.4l.5-40l.5 26.3l.5-42.1l.5 25.6l.5-43.9l.5 24.4l.5-41.4l.5 23.9l.5-43.2l.5 24.8l.5-44l.5 25.1l.5-41.1l.5 24.6l.5-41l.5 27.2l.5-38.8l.5 27.1l.5-38.5l.5 31.3l.5-36.4l.5 32.3l.5-35.1l.5 35.4l.5-33.1l.5 35.4l.5-27.9l.5 37.6l.5-27.8l.5 37.6l.5-25.4l.5 39.3l.5-25.7l.5 41.4l.5-22.3l.5 42.5l.5-24.4l.5 41.4l.5-22.6l.5 42.7l.5-24.9l.5 42.6l.5-24.6l.5 41.5l.5-26.8l.5 39l.5-25.9l.5 38.4l.5-27.8l.5 35.2l.5-30.2l.5 32.8l.5-31.1l.5 32.4l.5-33.8l.5 30.3l.5-35.1l.5 26l.5-36.7l.5 26.4l.5-39.5l.5 24.5l.5-40l.5 25l.5-40.6l.5 20.8l.5-39.2l.5 20.7l.5-41.1l.5 23.4l.5-40.2l.5 21.9l.5-39.2l.5 21.4l.5-37l.5 24.3l.5-38.4l.5 25.9l.5-33.8l.5 26.2l.5-32.6l.5 29.5l.5-32.6l.5 32.6l.5-30.6l.5 34.3l.5-26.5l.5 34.6l.5-26.2l.5 37.7l.5-25.6l.5 38.6l.5-21.3l.5 38.1l.5-21l.5 37.8l.5-19.3l.5 38.5l.5-20.2l.5 39l.5-19.8l.5 39.1l.5-21.9l.5 36.9l.5-20.9l.5 35.1l.5-23.3l.5 33.8l.5-23.5l.5 32.2l.5-27.8l.5 32l.5-30.1l.5 29.8l.5-32.1l.5 28l.5-31.7l.5 23.6l.5-33.9l.5 22.8l.5-34.5l.5 20.2l.5-36.4l.5 19.5l.5-36.4l.5 20l.5-39.1l.5 18.5l.5-37.8l.5 20l.5-37.1l.5 18.5l.5-35.7l.5 19.6l.5-36.4l.5 22.6l.5-34.6l.5 22.3l.5-32.7l.5 25.6l.5-31l.5 27.5l.5-29.2l.5 29.1l.5-27.2l.5 30.9l.5-25.6l.5 33.1l.5-23.4l.5 34.1l.5-19.8l.5 33.3l.5-19l.5 36.2l.5-19.1l.5 36.2l.5-16.7l.5 36.9l.5-17.8l.5 35.9l.5-17.3l.5 34.9l.5-17.1l.5 34.3l.5-20l.5 33.2l.5-19.3l.5 30.4l.5-21.8l.5 29.4l.5-23.1l.5 27.2l.5-25l.5 25.4l.5-28l.5 23.8l.5-30l.5 22.1l.5-31.5l.5 20.8l.5-33.4l.5 19l.5-33.1l.5 17.3l.5-35.9l.5 18l.5-36.2l.5 17.3l.5-35.2l.5 16.4l.5-35.6l.5 16.3l.5-33.5l.5 17.8l.5-34.1l.5 19.1l.5-31.4l.5 21l.5-29.2l.5 21l.5-27.8l.5 24.8l.5-27.5l.5 26.3l.5-23.2l.5 27.9l.5-21.8l.5 29.9l.5-20.1l.5 29.5l.5-17.5l.5 31.6l.5-16.6l.5 33.8l.5-16.4l.5 34.1l.5-14.8l.5 33.7l.5-15.5l.5 33.9l.5-15.2l.5 34l.5-17l.5 34l.5-17.4l.5 30.9l.5-19.3l.5 30.7l.5-19.7l.5 27.4l.5-22l.5 25l.5-23.9l.5 24.3l.5-25.3l.5 21.6l.5-27.5l.5 18.5l.5-28.6l.5 18.5l.5-30.7l.5 16.3l.5-32.3l.5 15.2l.5-31.3l.5 14.5l.5-34.1l.5 14.9l.5-32.3l.5 13.1l.5-31.7l.5 13.4l.5-31.1l.5 14.3l.5-29.5l.5 15.9l.5-29.4l.5 18.2l.5-27.3l.5 19.9l.5-26.1l.5 22.7l.5-24.4l.5 24.1l.5-22.7l.5 26.7l.5-19.7l.5 26.2l.5-16.9l.5 28.8l.5-15.5l.5 29l.5-14.2l.5 30.1l.5-11.9l.5 31l.5-12.5l.5 31.2l.5-13.5l.5 32.4l.5-12.8l.5 30l.5-13.4l.5 29.3l.5-12.7l.5 27.2l.5-15.7l.5 27.5l.5-16.8l.5 24.6l.5-19.5l.5 23l.5-20.7l.5 21.1l.5-23.9l.5 20.1l.5-25.9l.5 17.3l.5-25.5l.5 15.1l.5-27.8l.5 13.2l.5-29.1l.5 11.7l.5-28.7l.5 11.4l.5-29.3l.5 10.7l.5-31l.5 12.3l.5-29.6l.5 11.5l.5-28.8l.5 11.9l.5-27.4l.5 13.5l.5-26.3l.5 14.2l.5-23.9l.5 16.9l.5-23.6l.5 19l.5-20.4l.5 20.4l.5-18.4l.5 22.3l.5-15.9l.5 23.6l.5-13.6l.5 25.5l.5-13.7l.5 27.2l.5-10.9l.5 26.8l.5-10.3l.5 28.7l.5-9.6l.5 28.6l.5-9l.5 27.4l.5-9.9l.5 28l.5-10.6l.5 26.7l.5-11l.5 26l.5-13.6l.5 23.9l.5-13.7l.5 22l.5-16.3l.5 20.1l.5-18.7l.5 18.2l.5-19.1l.5 15.6l.5-21.6l.5 13.7l.5-24l.5 12.1l.5-24.6l.5 10.6l.5-25.1l.5 9.1l.5-26.6l.5 8.6l.5-26.9l.5 8.4l.5-28l.5 7.9l.5-26.2l.5 8.6l.5-25.6l.5 9.4l.5-25.4l.5 11.6l.5-23.8l.5 12.7l.5-22.5l.5 14l.5-19.5l.5 15.6l.5-17.2l.5 17.4l.5-16.2l.5 20.3l.5-14.3l.5 21.1l.5-11.2l.5 22.5l.5-9.3l.5 24.1l.5-9l.5 24.5l.5-6.7l.5 24.9l.5-7.2l.5 25.8l.5-6.8l.5 26.6l.5-7.2l.5 25.2l.5-7.7l.5 23.8l.5-9l.5 22.7l.5-10l.5 21.4l.5-11.2l.5 19.4l.5-14l.5 17.4l.5-15.3l.5 15.7l.5-17.7l.5 13.1l.5-18.5l.5 10.7l.5-20.6l.5 9.5l.5-21.8l.5 8.1l.5-23.3l.5 6.7l.5-24.7l.5 6l.5-24.7l.5 5.5l.5-24.2l.5 5.9l.5-24.1l.5 5.5l.5-23.2l.5 7.6l.5-22.7l.5 7.9l.5-20.2l.5 9.3l.5-19.5l.5 11.3l.5-16.9l.5 13.7l.5-15.3l.5 14.6l.5-12.4l.5 16.9l.5-11.1l.5 18.4l.5-8.8l.5 19.9l.5-7.3l.5 21.5l.5-6.3l.5 22.4l.5-5.2l.5 23.4l.5-4.2l.5 23.2l.5-4.1l.5 22.8l.5-4.7l.5 22.7l.5-4.9l.5 21l.5-6.2l.5 19.9l.5-6.8l.5 18.7l.5-9.3l.5 16.5l.5-10.7l.5 14.5l.5-12.3l.5 12.6l.5-14.1l.5 9.8l.5-15.7l.5 7.9l.5-18.1l.5 7.5l.5-19.3l.5 5l.5-20.9l.5 4.3l.5-21.7l.5 3.2l.5-21.5l.5 2.5l.5-21l.5 2.6l.5-21.5l.5 3.8l.5-21.2l.5 4.4l.5-19.4l.5 4.9l.5-17.2l.5 6.6l.5-16.8l.5 9l.5-14.6l.5 10.4l.5-12l.5 12.3l.5-10.4l.5 13.7l.5-7.8l.5 16l.5-6.8l.5 17.5l.5-4.6l.5 18.4l.5-2.9l.5 19.8l.5-2.1l.5 20.2l.5-2.3l.5 20.8l.5-1.6l.5 20.2l.5-1.6l.5 20.1l.5-2.3l.5 18.1l.5-3.3l.5 17.5l.5-4.9l.5 15.9l.5-5.8l.5 13.5l.5-8l.5 11.7l.5-9.7l.5 10l.5-11.4l.5 7.1l.5-13.5l.5 5.8l.5-15l.5 4.3l.5-17.2l.5 2.4l.5-17.7l.5 1.3l.5-18.4l.5 .6l.5-19.1l.5 .4l.5-18.9l.5 .2l.5-18.7l.5 .6l.5-18.1l.5 1.3l.5-16.3l.5 2.6l.5-15.3l.5 4.1l.5-13.8l.5 5.5l.5-11.1l.5 7.5l.5-9.6l.5 9.3l.5-7.1l.5 11l.5-5.3l.5 13.1l.5-3.3l.5 14.7l.5-2.4l.5 16.1l.5-.5l.5 16.6l.5 .8l.5 17.6l.5 .7l.5 18l.5 1l.5 17.9l.5 1l.5 16.6l.5 .4l.5 16.4l.5-1l.5 14.6l.5-1.9l.5 13l.5-3.2l.5 10.8l.5-4.9l.5 9.2l.5-7.4l.5 7.2l.5-9l.5 5.1l.5-10.8l.5 2.9l.5-12.4l.5 1.2l.5-14.2l.5 .2l.5-15.1l.5-1.6l.5-15.8l.5-2.1l.5-16.5l.5-2.3l.5-16.4l.5-2.2l.5-16.2l.5-2.2l.5-15.4l.5-.6l.5-14.5l.5-.1l.5-12.7l.5 1.7l.5-11.1l.5 3.4l.5-9.3l.5 5.4l.5-7l.5 7.1l.5-5.3l.5 9.3l.5-3.2l.5 10.7l.5-1.4l.5 12.4l.5 .5l.5 13.7l.5 1.7l.5 14.7l.5 2.5l.5 15.1l.5 3.3l.5 15.8l.5 3.2l.5 15.6l.5 3l.5 14.6l.5 2.5l.5 14l.5 1.8l.5 12.4l.5 0l.5 10.8l.5-1.3l.5 8.9l.5-3.2l.5 7.1l.5-5.1l.5 5.1l.5-7l.5 3.3l.5-8.8l.5 .8l.5-10.2l.5-1l.5-11.9l.5-2l.5-13.3l.5-3.2l.5-13.8l.5-4.2l.5-14.5l.5-4.4l.5-14.2l.5-4.6l.5-13.8l.5-4.2l.5-13.2l.5-3.2l.5-12l.5-2.2l.5-10.3l.5-.7l.5-8.9l.5 1l.5-7l.5 3.3l.5-5.2l.5 5l.5-2.9l.5 6.9l.5-.9l.5 8.6l.5 .8l.5 10l.5 2.8l.5 11.3l.5 4.1l.5 12.2l.5 5.1l.5 12.9l.5 5.5l.5 13.4l.5 5.7l.5 12.9l.5 5.4l.5 12.5l.5 4.8l.5 11.6l.5 3.7l.5 10.2l.5 2.5l.5 8.6l.5 .9l.5 7l.5-1.1l.5 4.9l.5-2.9l.5 3.1l.5-5.2l.5 1.1l.5-6.7l.5-1.3l.5-8.1l.5-3l.5-9.5l.5-4.5l.5-10.8l.5-5.7l.5-11.6l.5-6.4l.5-12.1l.5-6.7l.5-12.1l.5-6.7l.5-11.6l.5-6.4l.5-11l.5-5.3l.5-9.8l.5-4.4l.5-8.3l.5-2.9l.5-6.5l.5-1.1l.5-4.9l.5 1l.5-3l.5 3l.5-.9l.5 4.8l.5 1.3l.5 6.2l.5 3.3l.5 7.8l.5 4.9l.5 9.1l.5 6.2l.5 10.1l.5 7.2l.5 10.8l.5 7.6l.5 11.2l.5 7.6l.5 11.1l.5 7.5l.5 10.5l.5 6.7l.5 9.6l.5 5.7l.5 8.4l.5 4.3l.5 6.7l.5 2.7l.5 5.1l.5 .6l.5 3.3l.5-1.3l.5 1.4l.5-3.4l.5-.7l.5-5l.5-2.7l.5-6.6l.5-4.5l.5-8.2l.5-5.9l.5-9.3l.5-7.1l.5-10.2l.5-7.7l.5-10.8l.5-8l.5-10.8l.5-8l.5-10.4l.5-7.6l.5-9.6l.5-6.8l.5-8.6l.5-5.4l.5-7.2l.5-3.8l.5-5.7l.5-2l.5-3.8l.5 0l.5-2l.5 1.9l.5 .1l.5 3.7l.5 2.3l.5 5.4l.5 4l.5 7.1l.5 5.5l.5 8.5l.5 6.8l.5 9.5l.5 7.8l.5 10.2l.5 8.2l.5 10.5l.5 8.4l.5 10.4l.5 8.1l.5 9.8l.5 7.4l.5 8.9l.5 6.5l.5 7.6l.5 5l.5 6l.5 3.4l.5 4.3l.5 1.5l.5 2.4l.5-.5l.5 .5l.5-2.4l.5-1.5l.5-4.3l.5-3.4l.5-6l.5-5.1l.5-7.5l.5-6.6l.5-8.6l.5-7.8l.5-9.5l.5-8.4l.5-10l.5-8.8l.5-10.1l.5-8.6l.5-9.8l.5-8.2l.5-9l.5-7.3l.5-7.9l.5-6.1l.5-6.6l.5-4.5l.5-4.9l.5-2.8l.5-3.1l.5-.8l.5-1.1l.5 1.1l.5 .9l.5 3l.5 2.8l.5 4.9l.5 4.5l.5 6.5l.5 6.2l.5 7.9l.5 7.3l.5 9l.5 8.3l.5 9.6l.5 8.8l.5 10l.5 8.9l.5 9.8l.5 8.6l.5 9.4l.5 7.8l.5 8.5l.5 6.7l.5 7.3l.5 5.4l.5 5.7l.5 3.7l.5 4l.5 1.8l.5 2.1l.5-.2l.5 .2l.5-2.1l.5-1.9l.5-3.9l.5-3.7l.5-5.7l.5-5.4l.5-7.3l.5-6.7l.5-8.5l.5-7.8l.5-9.4l.5-8.6l.5-9.9l.5-8.8l.5-10l.5-8.8l.5-9.6l.5-8.3l.5-9l.5-7.3l.5-7.9l.5-6.1l.5-6.5l.5-4.6l.5-4.8l.5-2.8l.5-3.1l.5-.8l.5-1.1l.5 1.1l.5 .8l.5 3.1l.5 2.8l.5 4.8l.5 4.6l.5 6.5l.5 6.1l.5 7.9l.5 7.4l.5 8.9l.5 8.3l.5 9.6l.5 8.8l.5 10l.5 8.8l.5 9.9l.5 8.6l.5 9.3l.5 7.9l.5 8.4l.5 6.8l.5 7.2l.5 5.4l.5 5.7l.5 3.7l.5 4l.5 1.8l.5 2.1l.5-.1l.5 .1l.5-2.1l.5-1.8l.5-4l.5-3.7l.5-5.7l.5-5.4l.5-7.2l.5-6.8l.5-8.4l.5-7.9l.5-9.4l.5-8.5l.5-9.9l.5-8.8l.5-10l.5-8.7l.5-9.7l.5-8.2l.5-9l.5-7.3l.5-7.9l.5-6.2l.5-6.5l.5-4.5l.5-4.9l.5-2.8l.5-3l.5-.9l.5-1.1l.5 1.2l.5 .8l.5 3l.5 2.9l.5 4.8l.5 4.6l.5 6.4l.5 6.2l.5 7.8l.5 7.4l.5 8.9l.5 8.3l.5 9.7l.5 8.7l.5 10l.5 8.8l.5 9.9l.5 8.5l.5 9.4l.5 7.8l.5 8.5l.5 6.8l.5 7.2l.5 5.3l.5 5.7l.5 3.7l.5 4l.5 1.8l.5 2.2l.5-.2l.5 .1l.5-2.1l.5-1.8l.5-3.9l.5-3.7l.5-5.7l.5-5.4l.5-7.2l.5-6.8l.5-8.5l.5-7.8l.5-9.4l.5-8.5l.5-9.9l.5-8.8l.5-10l.5-8.7l.5-9.7l.5-8.2l.5-9l.5-7.3l.5-7.9l.5-6.1l.5-6.5l.5-4.6l.5-4.8l.5-2.8l.5-3l.5-.9l.5-1.1l.5 1.1l.5 .9l.5 3l.5 2.8l.5 4.8l.5 4.6l.5 6.5l.5 6.1l.5 7.9l.5 7.3l.5 9l.5 8.2l.5 9.7l.5 8.7l.5 10l.5 8.8l.5 9.9l.5 8.5l.5 9.4l.5 7.8l.5 8.5l.5 6.7l.5 7.2l.5 5.4l.5 5.7l.5 3.7l.5 4l.5 1.8l.5 2.1l.5-.2l.5 .1l.5-2l.5-1.9l.5-3.9l.5-3.7l.5-5.7l.5-5.4l.5-7.2l.5-6.8l.5-8.4l.5-7.9l.5-9.3l.5-8.5l.5-9.9l.5-8.8l.5-10l.5-8.7l.5-9.7l.5-8.2l.5-8.9l.5-7.4l.5-7.9l.5-6l.5-6.5l.5-4.6l.5-4.8l.5-2.8l.5-3.1l.5-.8l.5-1.1l.5 1.1l.5 .8l.5 3.1l.5 2.8l.5 4.8l.5 4.6l.5 6.5l.5 6.1l.5 7.8l.5 7.4l.5 8.9l.5 8.3l.5 9.6l.5 8.7l.5 10l.5 8.8l.5 9.9l.5 8.5l.5 9.3l.5 7.9l.5 8.4l.5 6.8l.5 7.2l.5 5.3l.5 5.7l.5 3.7l.5 4l.5 1.8l.5 2.1l.5-.1l.5 .1l.5-2.1l.5-1.8l.5-4l.5-3.7l.5-5.6l.5-5.4l.5-7.2l.5-6.8l.5-8.4l.5-7.9l.5-9.3l.5-8.6l.5-9.8l.5-8.8l.5-10l.5-8.7l.5-9.7l.5-8.2l.5-8.9l.5-7.4l.5-7.8l.5-6.1l.5-6.5l.5-4.6l.5-4.8l.5-2.8l.5-3.1l.5-.8l.5-1.1l.5 1.1l.5 .8l.5 3.1l.5 2.8l.5 4.8l.5 4.6l.5 6.5l.5 6.1l.5 7.8l.5 7.4l.5 8.9l.5 8.2l.5 9.7l.5 8.7l.5 10l.5 8.8l.5 9.9l.5 8.5l.5 9.3l.5 7.9l.5 8.4l.5 6.8l.5 7.2l.5 5.3l.5 5.7l.5 3.7l.5 4l.5 1.8l.5 2.1l.5-.2l.5 .2l.5-2.1l.5-1.8l.5-4l.5-3.7l.5-5.7l.5-5.3l.5-7.2l.5-6.8l.5-8.4l.5-7.9l.5-9.3l.5-8.5l.5-9.9l.5-8.8l.5-10l.5-8.7l.5-9.6l.5-8.3l.5-8.9l.5-7.3l.5-7.9l.5-6.1l.5-6.5l.5-4.6l.5-4.8l.5-2.8l.5-3l.5-.9l.5-1.1l.5 1.1l.5 .9l.5 3l.5 2.8l.5 4.8l.5 4.6l.5 6.5l.5 6.1l.5 7.8l.5 7.4l.5 8.9l.5 8.3l.5 9.6l.5 8.7l.5 10l.5 8.8l.5 9.9l.5 8.5l.5 9.3l.5 7.9l.5 8.4l.5 6.8l.5 7.2l.5 5.4l.5 5.6l.5 3.7l.5 4l.5 1.8l.5 2.1l.5-.1l.5 .1l.5-2.1l.5-1.8l.5-3.9l.5-3.8l.5-5.7l.5-5.3l.5-7.2l.5-6.8l.5-8.4l.5-7.9l.5-9.3l.5-8.5l.5-9.9l.5-8.8l.5-10l.5-8.7l.5-9.7l.5-8.2l.5-8.9l.5-7.4l.5-7.8l.5-6.1l.5-6.5l.5-4.6l.5-4.8l.5-2.8l.5-3l.5-.9l.5-1.1l.5 1.1l.5 .9l.5 3l.5 2.8l.5 4.8l.5 4.6l.5 6.5l.5 6.1l.5 7.9l.5 7.3l.5 8.9l.5 8.2l.5 9.7l.5 8.7l.5 10l.5 8.8l.5 9.9l.5 8.5l.5 9.3l.5 7.9l.5 8.4l.5 6.8l.5 7.2l.5 5.3l.5 5.7l.5 3.7l.5 4l.5 1.8l.5 2.1l.5-.1l.5 .1l.5-2.1l.5-1.8l.5-4l.5-3.7l.5-5.7l.5-5.3l.5-7.2l.5-6.8l.5-8.4l.5-7.9l.5-9.3l.5-8.5l.5-9.9l.5-8.8l.5-10l.5-8.7l.5-9.6l.5-8.3l.5-8.9l.5-7.3l.5-7.9l.5-6.1l.5-6.5l.5-4.6l.5-4.8l.5-2.8l.5-3l.5-.9l.5-1.1l.5 1.1l.5 .8l.5 3.1l.5 2.8l.5 4.8l.5 4.6l.5 6.5l.5 6.1l.5 7.8l.5 7.4l.5 8.9l.5 8.2l.5 9.7l.5 8.7l.5 10l.5 8.8l.5 9.8l.5 8.6l.5 9.4l.5 7.8l.5 8.4l.5 6.8l.5 7.2l.5 5.4l.5 5.6l.5 3.7l.5 4l.5 1.8l.5 2.1l.5-.2l.5 .2l.5-2.1l.5-1.8l.5-4l.5-3.7l.5-5.7l.5-5.3l.5-7.2l.5-6.8l.5-8.4l.5-7.8l.5-9.4l.5-8.5l.5-9.9l.5-8.8l.5-10l.5-8.7l.5-9.6l.5-8.3l.5-8.9l.5-7.4l.5-7.8l.5-6.1l.5-6.5l.5-4.6l.5-4.8l.5-2.8l.5-3l.5-.9l.5-1.1l.5 1.1l.5 .8l.5 3.1l.5 2.8l.5 4.8l.5 4.6l.5 6.5l.5 6.1l.5 7.9l.5 7.3l.5 8.9l.5 8.3l.5 9.6l.5 8.7l.5 10l.5 8.8l.5 9.9l.5 8.5l.5 9.3l.5 7.9l.5 8.4l.5 6.8l.5 7.2l.5 5.3l.5 5.7l.5 3.7l.5 4l.5 1.8l.5 2.1l.5-.1l.5 .1l.5-2.1l.5-1.8l.5-4l.5-3.7l.5-5.6l.5-5.4l.5-7.2l.5-6.8l.5-8.4l.5-7.8l.5-9.4l.5-8.5l.5-9.9l.5-8.8l.5-10l.5-8.7l.5-9.6l.5-8.3l.5-8.9l.5-7.3l.5-7.9l.5-6.1l.5-6.5l.5-4.6l.5-4.8l.5-2.8l.5-3l.5-.9l.5-1.1l.5 1.1l.5 .8l.5 3.1l.5 2.8l.5 4.8l.5 4.6l.5 6.5l.5 6.1l.5 7.8l.5 7.4l.5 8.9" stroke="#0072BD"/>
<path d="M371.5 532.5l.5 15.9l.5-24.9l.5 24.8l.5-42.8l.5 32l.5-47.8l.5 39.2l.5-52.1l.5 44.1l.5-50.4l.5 46.6l.5-53.3l.5 51.2l.5-49.1l.5 49.8l.5-42.8l.5 49.5l.5-40.6l.5 49.3l.5-37.6l.5 49.3l.5-33.5l.5 48.8l.5-31.9l.5 48.6l.5-30.4l.5 48.7l.5-33.7l.5 51l.5-31.7l.5 48.6l.5-35.3l.5 51l.5-36l.5 47.2l.5-35.7l.5 47.9l.5-41.2l.5 49.9l.5-45.5l.5 50l.5-51.4l.5 48l.5-48.9l.5 45.4l.5-51l.5 40.7l.5-49.1l.5 36.5l.5-49l.5 34.6l.5-49.1l.5 32.4l.5-49.6l.5 30.1l.5-45.8l.5 27.5l.5-48.3l.5 28.3l.5-46.5l.5 30.8l.5-48.4l.5 31.2l.5-48.1l.5 34.5l.5-48l.5 39l.5-48l.5 39.8l.5-49l.5 46.2l.5-47.2l.5 45.4l.5-44.5l.5 46.4l.5-41.7l.5 49.9l.5-39.5l.5 46.5l.5-32.2l.5 46.8l.5-30.9l.5 44.2l.5-29.6l.5 47.1l.5-28.2l.5 46.1l.5-27.6l.5 43.9l.5-26.1l.5 44.4l.5-30.3l.5 47.3l.5-31.1l.5 45.2l.5-36.3l.5 48.2l.5-39.3l.5 45.9l.5-42.7l.5 47.5l.5-47.9l.5 46.6l.5-47.4l.5 44l.5-48.6l.5 39l.5-46.8l.5 33.2l.5-45l.5 30.1l.5-44.1l.5 26.9l.5-44.4l.5 25.6l.5-43.1l.5 26.7l.5-44.4l.5 23.9l.5-42.8l.5 25.7l.5-43.8l.5 27.4l.5-43.9l.5 31l.5-42.6l.5 34.6l.5-47.2l.5 38.6l.5-46.8l.5 44.4l.5-47.1l.5 47.3l.5-43.9l.5 47.5l.5-39.8l.5 44.4l.5-34.8l.5 43.1l.5-28.7l.5 42.2l.5-26.4l.5 41.4l.5-26l.5 41.8l.5-21.6l.5 40.5l.5-23l.5 40.9l.5-24.2l.5 42.6l.5-26.8l.5 43.1l.5-28.5l.5 42.3l.5-30.3l.5 41.6l.5-33.9l.5 42.9l.5-38.9l.5 43.2l.5-44.8l.5 44.7l.5-45.5l.5 40.1l.5-43.6l.5 36.6l.5-44.2l.5 31.3l.5-41.7l.5 25.4l.5-40.3l.5 24.2l.5-39.6l.5 20.9l.5-40.1l.5 20.5l.5-39.1l.5 22.1l.5-39.5l.5 20.9l.5-39.2l.5 25.1l.5-41.2l.5 27.9l.5-41.6l.5 32.1l.5-44.5l.5 37.6l.5-45.2l.5 44.5l.5-46.1l.5 43.8l.5-40.3l.5 41.9l.5-35.6l.5 42.8l.5-31.4l.5 39.4l.5-25.6l.5 38.3l.5-23.1l.5 37.8l.5-19.9l.5 37.1l.5-18.7l.5 36.4l.5-18.4l.5 37.6l.5-19.9l.5 38.4l.5-22.9l.5 38.6l.5-25.1l.5 40.3l.5-28.3l.5 40.8l.5-32.7l.5 42.4l.5-38.1l.5 44.5l.5-46.1l.5 43.6l.5-44.2l.5 39.3l.5-41.3l.5 31.7l.5-41.6l.5 28.2l.5-37.5l.5 22.6l.5-36.6l.5 19.1l.5-34.9l.5 16.6l.5-35.9l.5 17.4l.5-35.5l.5 17.5l.5-34.9l.5 17.3l.5-36.9l.5 21.6l.5-37.6l.5 25.5l.5-38.5l.5 29.8l.5-39.9l.5 34.7l.5-42.6l.5 39l.5-42.9l.5 41.5l.5-39.3l.5 43.2l.5-35l.5 39.2l.5-27.7l.5 37.4l.5-25.2l.5 38l.5-20.3l.5 35.1l.5-18.3l.5 36.2l.5-16.4l.5 32.9l.5-15.4l.5 35.3l.5-17.1l.5 34.3l.5-18.4l.5 34.8l.5-21.9l.5 38.2l.5-26.7l.5 38l.5-29.5l.5 39l.5-37.3l.5 45l.5-43.6l.5 42.6l.5-43l.5 36.6l.5-38.9l.5 30.4l.5-38.5l.5 24.3l.5-35.6l.5 20.6l.5-35l.5 18.1l.5-34.5l.5 16.3l.5-33.1l.5 14.9l.5-33.5l.5 13.9l.5-32.7l.5 16l.5-34.8l.5 20l.5-35.4l.5 22.6l.5-36.7l.5 27.3l.5-39.6l.5 33.8l.5-41.3l.5 39.8l.5-41l.5 39.3l.5-38l.5 40.9l.5-33l.5 38.6l.5-26.9l.5 36.3l.5-22.2l.5 34.3l.5-17.5l.5 32l.5-14.4l.5 32.3l.5-13.2l.5 30.3l.5-12.5l.5 31.5l.5-13.7l.5 31.7l.5-14.7l.5 32.4l.5-19.5l.5 33.9l.5-22.1l.5 35.9l.5-29.2l.5 38.2l.5-35.4l.5 41.3l.5-39.1l.5 37.8l.5-38.1l.5 32.8l.5-37.2l.5 28.4l.5-36l.5 22.7l.5-32.7l.5 17.2l.5-32.5l.5 16.3l.5-31.7l.5 11.9l.5-30l.5 11.4l.5-29.6l.5 11.5l.5-31.2l.5 14.7l.5-31.5l.5 16.5l.5-33.6l.5 20.9l.5-34.3l.5 25.3l.5-37.6l.5 32.1l.5-40.2l.5 36.8l.5-38.2l.5 38.7l.5-36.4l.5 38.9l.5-31l.5 34.6l.5-22.5l.5 32.3l.5-17.8l.5 29.8l.5-13.6l.5 29.7l.5-12.3l.5 28.9l.5-11l.5 29.6l.5-11.1l.5 29.3l.5-10l.5 28.8l.5-12.4l.5 29.8l.5-16.9l.5 32.4l.5-20.5l.5 32.9l.5-26.1l.5 36.4l.5-34.1l.5 38.4l.5-36.6l.5 36.2l.5-37.5l.5 33.1l.5-35.1l.5 24.7l.5-32.5l.5 20.1l.5-31.4l.5 15.4l.5-29.6l.5 11.6l.5-27.8l.5 10.3l.5-28.3l.5 9.4l.5-27.8l.5 9.4l.5-27.5l.5 10.2l.5-27.4l.5 12.8l.5-29.5l.5 16.6l.5-30.1l.5 19.9l.5-31.1l.5 27.5l.5-36.9l.5 35.3l.5-38.4l.5 36.4l.5-32.5l.5 34l.5-26.1l.5 32.5l.5-20.8l.5 29l.5-15.8l.5 29.2l.5-12.9l.5 27.8l.5-9.2l.5 26.5l.5-8l.5 26.3l.5-8.1l.5 26.9l.5-8.1l.5 26.2l.5-10.8l.5 27.6l.5-13.8l.5 29.6l.5-17.6l.5 29l.5-22.7l.5 34.1l.5-29.2l.5 33.9l.5-34.7l.5 36.4l.5-35.8l.5 28.9l.5-32.5l.5 21.9l.5-29.8l.5 16.4l.5-27.2l.5 12.8l.5-26.2l.5 8.5l.5-25.5l.5 7.8l.5-25.1l.5 6.4l.5-24.8l.5 6.3l.5-25.6l.5 8l.5-24.9l.5 8.9l.5-26l.5 14.6l.5-28.6l.5 18.1l.5-28.2l.5 24.6l.5-34.4l.5 33.2l.5-35.7l.5 34.4l.5-31.9l.5 33l.5-23.3l.5 27.8l.5-17.6l.5 28l.5-13.5l.5 25.1l.5-8.4l.5 23.6l.5-6.3l.5 23.9l.5-4.6l.5 23.1l.5-4.9l.5 23.3l.5-4.7l.5 23l.5-7.1l.5 23.6l.5-9.3l.5 25.1l.5-13.8l.5 25.7l.5-19.1l.5 29.2l.5-26.4l.5 35.1l.5-35.9l.5 34.6l.5-33.5l.5 27.6l.5-29.9l.5 18.3l.5-25.5l.5 13l.5-24.5l.5 9.2l.5-22.5l.5 5.7l.5-22.7l.5 4.5l.5-22.3l.5 3.4l.5-21.9l.5 2.9l.5-21.4l.5 4.4l.5-21.8l.5 7l.5-23.6l.5 10.9l.5-24.6l.5 15.3l.5-27.6l.5 21.7l.5-30.2l.5 28.9l.5-32.6l.5 34.2l.5-30.2l.5 30.1l.5-21.7l.5 27.3l.5-15l.5 23.2l.5-9.6l.5 23.1l.5-6.7l.5 21.5l.5-3.8l.5 21.1l.5-2.7l.5 21l.5-1.8l.5 20.5l.5-2.9l.5 21.3l.5-5.1l.5 21.7l.5-7.4l.5 22.6l.5-11l.5 23.8l.5-17.7l.5 28.7l.5-24.5l.5 31.7l.5-32.6l.5 30.8l.5-30.8l.5 23.7l.5-26.7l.5 17.1l.5-23.7l.5 10.8l.5-22.3l.5 7.3l.5-20.4l.5 3.7l.5-20.4l.5 2.1l.5-19.9l.5 1.1l.5-20.3l.5 1.6l.5-19.4l.5 1.7l.5-19.8l.5 4.8l.5-21.4l.5 8.7l.5-21.9l.5 12.1l.5-23.2l.5 19.2l.5-27.8l.5 26.5l.5-30l.5 29.8l.5-26.1l.5 27.3l.5-19.2l.5 23.5l.5-11.8l.5 21.2l.5-8.1l.5 20.9l.5-3.8l.5 18.8l.5-1.6l.5 19.2l.5-.4l.5 18.8l.5-.1l.5 19.2l.5-1.2l.5 19l.5-2.5l.5 19.7l.5-5.7l.5 20.6l.5-9.8l.5 22l.5-13.5l.5 23.5l.5-20.7l.5 27l.5-27.1l.5 28.9l.5-28.9l.5 20.9l.5-24.3l.5 14.4l.5-21.9l.5 9.3l.5-20.2l.5 4.7l.5-19l.5 2.2l.5-18.5l.5 .6l.5-18.6l.5-.4l.5-18.2l.5-.2l.5-18.3l.5 .8l.5-18.1l.5 2.9l.5-19.1l.5 6.7l.5-20.2l.5 10.5l.5-21.5l.5 16.8l.5-26.2l.5 24.6l.5-28.3l.5 28l.5-25.1l.5 25.5l.5-15.5l.5 20.7l.5-9.3l.5 19l.5-5.2l.5 17.8l.5-2.3l.5 17.8l.5 .1l.5 17.4l.5 1.2l.5 17.3l.5 1.4l.5 17.2l.5 1.1l.5 16.9l.5-.5l.5 17.8l.5-3.6l.5 18.4l.5-7.6l.5 20.4l.5-12.8l.5 22.3l.5-19.5l.5 27.2l.5-26l.5 25.4l.5-26.4l.5 19l.5-21.8l.5 12.2l.5-19.7l.5 6.7l.5-17.8l.5 3.4l.5-17l.5-.4l.5-16.6l.5-1.6l.5-16.2l.5-2.5l.5-16l.5-2.3l.5-16.1l.5-1.3l.5-16.6l.5 1l.5-17.1l.5 4.3l.5-17.8l.5 8l.5-19l.5 13.7l.5-22.1l.5 20.6l.5-24.5l.5 24.6l.5-21l.5 22.6l.5-14.5l.5 19.2l.5-7.7l.5 17.7l.5-4l.5 16.9l.5-.3l.5 15.6l.5 2l.5 15.5l.5 2.8l.5 15.4l.5 3.6l.5 15.1l.5 2.9l.5 15.4l.5 1l.5 15.6l.5-1.3l.5 16l.5-4.7l.5 17.4l.5-9.8l.5 19.8l.5-16.5l.5 23l.5-23.4l.5 24.1l.5-23.3l.5 16l.5-19.5l.5 9.3l.5-16.9l.5 4.8l.5-16.4l.5 1.1l.5-15.1l.5-1.4l.5-15.2l.5-3l.5-14.9l.5-3.9l.5-14.9l.5-3.6l.5-14.9l.5-2.7l.5-14.9l.5-.7l.5-15.5l.5 2.8l.5-16.2l.5 6.8l.5-17.4l.5 11.3l.5-19.5l.5 18.3l.5-21.9l.5 21.2l.5-17.8l.5 19.2l.5-11l.5 16.9l.5-5.5l.5 15.6l.5-2.1l.5 14.8l.5 1.1l.5 14.3l.5 3l.5 14.4l.5 4.2l.5 14.4l.5 4.3l.5 14.5l.5 3.5l.5 14.7l.5 2.1l.5 14.4l.5-.1l.5 15l.5-3.3l.5 15.5l.5-7.8l.5 17.3l.5-14.2l.5 21.1l.5-20.5l.5 20.1l.5-20.8l.5 14.9l.5-17.6l.5 7.3l.5-15.4l.5 3.3l.5-14.6l.5-.4l.5-14.2l.5-2.4l.5-14.2l.5-3.9l.5-13.9l.5-4.8l.5-14.1l.5-4.4l.5-13.9l.5-3.6l.5-14.1l.5-1.6l.5-14.2l.5 .9l.5-14.4l.5 4.3l.5-14.7l.5 9.3l.5-17.9l.5 16.2l.5-18.9l.5 19.4l.5-17l.5 18.1l.5-9.5l.5 15.4l.5-4.3l.5 14.1l.5-.6l.5 13.7l.5 1.9l.5 13.7l.5 3.8l.5 13.5l.5 5l.5 13.6l.5 5.2l.5 13.3l.5 4.7l.5 13.6l.5 3.3l.5 13.3l.5 1.3l.5 13.5l.5-2.2l.5 14l.5-6l.5 15.7l.5-12.2l.5 18.3l.5-16.9l.5 16.4l.5-17.5l.5 11.7l.5-14.9l.5 5.6l.5-13.9l.5 1.4l.5-13.1l.5-1.3l.5-12.9l.5-4l.5-12.8l.5-5.1l.5-13l.5-5.7l.5-13.2l.5-5.3l.5-13l.5-4.7l.5-12.8l.5-3l.5-12.7l.5-.5l.5-13l.5 3.1l.5-13.8l.5 7.5l.5-15.2l.5 13.1l.5-15.6l.5 15.4l.5-12.7l.5 15.2l.5-7.3l.5 12.8l.5-2.3l.5 12.7l.5 .6l.5 12.7l.5 3.1l.5 12.6l.5 4.8l.5 12.8l.5 5.7l.5 12.7l.5 6.1l.5 12.6l.5 5.5l.5 12.7l.5 4.1l.5 12.3l.5 2.3l.5 12.4l.5-.4l.5 12.3l.5-4.2l.5 13.5l.5-9.3l.5 14.6l.5-13.6l.5 13.7l.5-15l.5 9l.5-12.3l.5 3.2l.5-11.8l.5 .1l.5-11.7l.5-2.8l.5-12l.5-4.6l.5-12.2l.5-6l.5-12.3l.5-6.4l.5-12.3l.5-6.2l.5-12l.5-5.6l.5-11.8l.5-4.2l.5-11.4l.5-1.9l.5-11.3l.5 .8l.5-11.2l.5 5.2l.5-12.9l.5 10.6l.5-13.8l.5 13.5l.5-10.2l.5 12.6l.5-4.6l.5 10.7l.5-.3l.5 10.5l.5 2.5l.5 11.1l.5 4.4l.5 11.5l.5 5.9l.5 11.6l.5 6.8l.5 11.8l.5 6.9l.5 11.9l.5 6.4l.5 11.5l.5 5.3l.5 11.2l.5 3.6l.5 10.6l.5 1.6l.5 10.2l.5-1.8l.5 10.4l.5-6.2l.5 11.8l.5-10.9l.5 10.6l.5-11.6l.5 6.6l.5-10.4l.5 1.1l.5-9.7l.5-1.7l.5-10.4l.5-4l.5-10.8l.5-5.7l.5-11.2l.5-6.7l.5-11.5l.5-7.1l.5-11.6l.5-7.2l.5-11.3l.5-6.3l.5-10.9l.5-5.1l.5-10.5l.5-3l.5-10l.5-.6l.5-9.6l.5 3.2l.5-10.2l.5 7.9l.5-10.6l.5 10.6l.5-8.2l.5 10.6l.5-2.9l.5 9.3l.5 .7l.5 9.6l.5 3.3l.5 10.2l.5 5.3l.5 10.8l.5 6.5l.5 11.2l.5 7.2l.5 11.4l.5 7.3l.5 11.4l.5 7l.5 10.8l.5 6.2l.5 10.4l.5 4.3l.5 10l.5 2.2l.5 9.1l.5-.5l.5 9.2l.5-4.3l.5 9.2l.5-8.4l.5 8.6l.5-9.8l.5 4.8l.5-8.9l.5 0l.5-8.8l.5-2.7l.5-9.5l.5-4.7l.5-10.2l.5-6.2l.5-10.8l.5-7.1l.5-11.1l.5-7.6l.5-11.2l.5-7.4l.5-11l.5-6.7l.5-10.6l.5-5.5l.5-9.8l.5-3.8l.5-9.2l.5-1.5l.5-8.5l.5 1.7l.5-8.6l.5 5.7l.5-8l.5 7.9l.5-5.1l.5 8l.5-1.5l.5 8.5l.5 1.6l.5 9l.5 3.9l.5 9.6l.5 5.8l.5 10.3l.5 6.8l.5 11l.5 7.4l.5 11.1l.5 7.8l.5 10.9l.5 7.4l.5 10.5l.5 6.5l.5 9.9l.5 5l.5 9.1l.5 3.3l.5 8.1l.5 .8l.5 7.5l.5-2.8l.5 7.7l.5-6l.5 5.9l.5-7.2l.5 2.4l.5-7.6l.5-.7l.5-8.1l.5-3.3l.5-9l.5-5.2l.5-9.8l.5-6.6l.5-10.4l.5-7.4l.5-10.9l.5-7.8l.5-11l.5-7.7l.5-10.6l.5-7.1l.5-10.2l.5-6l.5-9.2l.5-4.5l.5-8.4l.5-2.4l.5-7.2l.5 .1l.5-6.6l.5 3.4l.5-5.7l.5 5.7l.5-3.3l.5 6.3l.5 .2l.5 7l.5 2.6l.5 8.1l.5 4.7l.5 9.2l.5 6.2l.5 9.9l.5 7.3l.5 10.4l.5 7.9l.5 10.8l.5 7.9l.5 10.8l.5 7.6l.5 10.3l.5 6.7l.5 9.5l.5 5.6l.5 8.5l.5 3.9l.5 7.4l.5 1.8l.5 6.2l.5-.9l.5 5.1l.5-3.4l.5 3.4l.5-5l.5 .6l.5-5.9l.5-2l.5-7.1l.5-4.1l.5-8.3l.5-5.8l.5-9.3l.5-7l.5-10.1l.5-7.8l.5-10.6l.5-8.1l.5-10.6l.5-8l.5-10.4l.5-7.5l.5-9.7l.5-6.4l.5-8.8l.5-5.1l.5-7.5l.5-3.4l.5-6.2l.5-1.2l.5-4.8l.5 1.1l.5-3.2l.5 3.2l.5-1l.5 4.6l.5 1.4l.5 6l.5 3.5l.5 7.4l.5 5.2l.5 8.7l.5 6.6l.5 9.6l.5 7.6l.5 10.2l.5 8.1l.5 10.6l.5 8.2l.5 10.4l.5 8l.5 9.9l.5 7.2l.5 9l.5 6.1l.5 7.9l.5 4.6l.5 6.6l.5 2.7l.5 5l.5 .7l.5 3.4l.5-1.6l.5 1.6l.5-3.4l.5-.7l.5-4.9l.5-2.8l.5-6.5l.5-4.7l.5-7.8l.5-6.2l.5-8.9l.5-7.3l.5-9.9l.5-8l.5-10.3l.5-8.4l.5-10.4l.5-8.2l.5-10.1l.5-7.8l.5-9.4l.5-6.9l.5-8.3l.5-5.5l.5-7.2l.5-3.8l.5-5.7l.5-1.8l.5-4.1l.5 .3l.5-2.3l.5 2.3l.5-.3l.5 4.1l.5 1.9l.5 5.6l.5 3.8l.5 7.1l.5 5.6l.5 8.3l.5 6.9l.5 9.4l.5 7.8l.5 10l.5 8.3l.5 10.3l.5 8.5l.5 10.2l.5 8.2l.5 9.7l.5 7.4l.5 8.9l.5 6.3l.5 7.7l.5 4.8l.5 6.2l.5 3.1l.5 4.7l.5 1l.5 3l.5-1.1l.5 1.1l.5-3l.5-1l.5-4.7l.5-3l.5-6.3l.5-4.9l.5-7.6l.5-6.4l.5-8.7l.5-7.5l.5-9.6l.5-8.3l.5-10.1l.5-8.6l.5-10.2l.5-8.5l.5-9.8l.5-8l.5-9.3l.5-6.9l.5-8.2l.5-5.8l.5-6.9l.5-4.1l.5-5.3l.5-2.3l.5-3.7l.5 0l.5-2l.5 2l.5 .1l.5 3.6l.5 2.3l.5 5.3l.5 4.2l.5 6.8l.5 5.8l.5 8.1l.5 7.1l.5 9.2l.5 8l.5 9.8l.5 8.5l.5 10.2l.5 8.6l.5 10l.5 8.4l.5 9.5l.5 7.6l.5 8.7l.5 6.5l.5 7.5l.5 5l.5 6.1l.5 3.3l.5 4.4l.5 1.3l.5 2.7l.5-.8l.5 .8l.5-2.7l.5-1.3l.5-4.4l.5-3.3l.5-6l.5-5.1l.5-7.4l.5-6.6l.5-8.6l.5-7.7l.5-9.5l.5-8.4l.5-9.9l.5-8.8l.5-10l.5-8.7l.5-9.7l.5-8.1l.5-9.1l.5-7.2l.5-8l.5-5.9l.5-6.7l.5-4.3l.5-5.1l.5-2.5l.5-3.4l.5-.5l.5-1.5l.5 1.5l.5 .5l.5 3.3l.5 2.6l.5 5l.5 4.5l.5 6.5l.5 6.1l.5 7.9l.5 7.3l.5 8.9l.5 8.2l.5 9.7l.5 8.7l.5 10l.5 8.8l.5 9.8l.5 8.6l.5 9.3l.5 7.8l.5 8.5l.5 6.7l.5 7.3l.5 5.3l.5 5.8l.5 3.6l.5 4l.5 1.7l.5 2.3l.5-.3l.5 .3l.5-2.2l.5-1.8l.5-4l.5-3.6l.5-5.8l.5-5.3l.5-7.2l.5-6.8l.5-8.4l.5-7.9l.5-9.3l.5-8.6l.5-9.7l.5-9l.5-9.8l.5-8.9l.5-11.1l.5-.2l.5-24.7l.5 13.9l.5-34.5l.5 24.6l.5-45.7l.5 43.7l.5-59.3l.5 59.9l.5-75.8l.5 78.6l.5-82.5l.5 81.1l.5-80.4l.5 79.6l.5-68.9l.5 72.2l.5-56.6l.5 68.4l.5-54.9l.5 67.7l.5-53.9l.5 69.2l.5-47.6l.5 65.6l.5-47l.5 64.6l.5-46l.5 67.3l.5-48.6l.5 66.3l.5-50.4l.5 68.3l.5-53.7l.5 67.7l.5-54.3l.5 69.2l.5-62.4l.5 70.5l.5-71.6l.5 80.2l.5-80.6l.5 80.4l.5-80l.5 75.4l.5-76.8l.5 63.3l.5-66.8l.5 52.3l.5-65.1l.5 51l.5-67.4l.5 50.7l.5-65.1l.5 47.4l.5-69.4l.5 50.8l.5-66.4l.5 46.8l.5-69.1l.5 51.4l.5-66l.5 50l.5-69.7l.5 56.9l.5-68.6l.5 57.7l.5-73.1l.5 65.9l.5-75.9l.5 75.6l.5-77.2l.5 81.1l.5-78.3l.5 75.3l.5-65l.5 72.3l.5-60l.5 69.7l.5-54.2l.5 65.4l.5-49.6l.5 64.2l.5-47.8l.5 69.7l.5-49.6l.5 66.4l.5-48l.5 68.1l.5-49.6l.5 67.3l.5-49.7l.5 65.9l.5-50l.5 66.9l.5-56.2l.5 69.5l.5-59.4l.5 68l.5-66l.5 74.6l.5-74.7l.5 72.2l.5-75.2l.5 68.9l.5-67.6l.5 60.8l.5-70.3l.5 54.8l.5-65.5l.5 52l.5-69.5l.5 49.4l.5-64.8l.5 48.6l.5-67.6l.5 48.5l.5-67.5l.5 46.1l.5-63l.5 44.2l.5-64.3l.5 48.5l.5-65.2l.5 53.6l.5-69.3l.5 58.2l.5-65.5l.5 63l.5-73.7l.5 72.2l.5-75.3l.5 72.8l.5-71.2l.5 74.6l.5-62.5l.5 65.7l.5-57l.5 69.9l.5-54.9l.5 67.5l.5-52.8l.5 68.5l.5-48.4l.5 65.9l.5-47.8l.5 65.6l.5-43.9l.5 62.9l.5-47.3l.5 66.6l.5-47.6l.5 64.5l.5-49.7l.5 66.2l.5-56.7l.5 67l.5-56.5l.5 70.2l.5-70.6l.5 73.4l.5-74l.5 78.7l.5-74.6l.5 64.4l.5-66.9l.5 59.1l.5-68.8l.5 56.3l.5-68.9l.5 50.4l.5-62.9l.5 48.2l.5-65.7l.5 44.8l.5-65.4l.5 47.4l.5-64.7l.5 44.3l.5-65l.5 48.5l.5-66.2l.5 50.8l.5-66.3l.5 50.3l.5-65.3l.5 57.2l.5-68.5l.5 61.3l.5-70.4l.5 70.1l.5-75l.5 78.5l.5-72.7l.5 73.6l.5-64.3l.5 67.2l.5-55.1l.5 65.6l.5-52.9l.5 66.7l.5-50.9l.5 66l.5-45.3l.5 64.5l.5-45.5l.5 61.9l.5-44.4l.5 66l.5-49l.5 68.1l.5-48.2l.5 65.5l.5-51.6l.5 66.3l.5-54l.5 66.8l.5-60.2l.5 67.6l.5-64.2l.5 72.7l.5-71.1l.5 70.8l.5-71.8l.5 65.2l.5-67.3l.5 58.7l.5-66.3l.5 52.9l.5-67.5l.5 52.7l.5-67.3l.5 50.4l.5-67.3l.5 48.5l.5-66.7l.5 47.6l.5-68.2l.5 46.4l.5-61.6l.5 44.3l.5-63.5l.5 46.3l.5-62.6l.5 49.1l.5-63.5l.5 54.4l.5-66.7l.5 62.5l.5-67.3l.5 66.9l.5-75.2l.5 72.7l.5-64.6l.5 68.5l.5-60.5l.5 64.3l.5-53.4l.5 65l.5-53.3l.5 65.4l.5-48.7l.5 63.7l.5-45.6l.5 65.4l.5-45.3l.5 61.7l.5-42l.5 61.5l.5-42.8l.5 63.8l.5-50.2l.5 64.7l.5-49l.5 63.6l.5-51.7l.5 66.3l.5-58.6l.5 68.4l.5-65.7l.5 72.5l.5-69.7l.5 68.5l.5-70.2l.5 64.7l.5-66.3l.5 57.5l.5-67l.5 51.9l.5-62.4l.5 49.5l.5-64.3l.5 45.4l.5-61.4l.5 43.5l.5-64.4l.5 46l.5-66.4l.5 45.3l.5-62.8l.5 46.7l.5-64.3l.5 47.2l.5-63l.5 49.6l.5-64.8l.5 56.7l.5-65.4l.5 56.7l.5-67.5l.5 66.8l.5-67.8l.5 68l.5-63.7l.5 64.9l.5-57.9l.5 64.8l.5-55.1l.5 66l.5-51.1l.5 61.9l.5-45.1l.5 64.5l.5-47.2l.5 64.4l.5-44l.5 62.7l.5-45.9l.5 63.6l.5-45.2l.5 62.4l.5-46.6l.5 64l.5-47.4l.5 64.8l.5-54.3l.5 65l.5-56.4l.5 64.7l.5-58.1l.5 63.2l.5-62.5l.5 64.8l.5-66.5l.5 60.8l.5-64.4l.5 55.7l.5-66.6l.5 51.3l.5-62.8l.5 47.9l.5-60.6l.5 46.9l.5-65.1l.5 43.7l.5-61.5l.5 45.5l.5-66.1l.5 47.2l.5-65.2l.5 45l.5-61l.5 43.7l.5-60.2l.5 50.5l.5-63.8l.5 51.9l.5-61.5l.5 55.4l.5-67l.5 63.7l.5-65.8l.5 68.2l.5-64.3l.5 65.1l.5-56.1l.5 61.5l.5-53.1l.5 62.9l.5-46.3l.5 59.9l.5-44.1l.5 60.1l.5-45.4l.5 62.8l.5-44.1l.5 62.8l.5-41l.5 62.5l.5-47l.5 64.9l.5-45.5l.5 61.6l.5-47.7l.5 63.6l.5-50.2l.5 62.8l.5-54.8l.5 62.5l.5-58.2l.5 62.9l.5-61.8l.5 63.6l.5-64.3l.5 58.6l.5-65l.5 53.3l.5-60.4l.5 51.4l.5-63.8l.5 47.9l.5-60.7l.5 42.9l.5-62.5l.5 45l.5-62.5l.5 44.8l.5-64.3l.5 45.4l.5-63.4l.5 43.7l.5-63.1l.5 48.8l.5-62.4l.5 45.6l.5-59.2l.5 51.5l.5-60.9l.5 54.8l.5-62.6l.5 60.9l.5-63.8l.5 59.7l.5-56.9l.5 63.1l.5-58.4l.5 61.6l.5-51l.5 63.2l.5-49.7l.5 63.8l.5-47.8l.5 63l.5-42.8l.5 59.3l.5-41.4l.5 59.6l.5-39.6l.5 60.2l.5-44.5l.5 61.6l.5-42.7l.5 60.1l.5-44.9l.5 61.6l.5-50.2l.5 62.8l.5-54.2l.5 60.2l.5-56.6l.5 63.9l.5-60.8l.5 59.1l.5-59.6l.5 53.9l.5-58.9l.5 50.8l.5-60.2l.5 47.2l.5-58.8l.5 43.7l.5-58.1l.5 43.3l.5-62.7l.5 43.7l.5-59.1l.5 39l.5-60.7l.5 44.5l.5-63l.5 44.3l.5-59.9l.5 44.2l.5-60.9l.5 47.1l.5-61.4l.5 50l.5-60.8l.5 55.8l.5-64l.5 61.3l.5-61.9l.5 61.4l.5-60.3l.5 60.5l.5-49.9l.5 56.6l.5-46l.5 57.7l.5-46.9l.5 58.9l.5-43.2l.5 62.6l.5-43.1l.5 57.4l.5-39.1l.5 61.3l.5-43.3l.5 58.9l.5-41.1l.5 61.5l.5-44.9l.5 62.3l.5-44.1l.5 57.7l.5-46.3l.5 58.4l.5-50.4l.5 59.1l.5-54.9l.5 58.7l.5-55.8l.5 58.5l.5-60.6l.5 55.1l.5-58.2l.5 47.6l.5-59.2l.5 45.8l.5-56.2l.5 45.1l.5-60l.5 41.7l.5-59.1l.5 41.8l.5-60l.5 40.7l.5-58.9l.5 37.9l.5-56.5l.5 40.8l.5-58.7l.5 41.1l.5-58l.5 46.4l.5-58.3l.5 47.9l.5-60.2l.5 53.6l.5-60.5l.5 54l.5-56.2l.5 57.5l.5-56.3l.5 58.9l.5-49.9l.5 56.4l.5-44.9l.5 55.2l.5-44.5l.5 60.9l.5-43.6l.5 59l.5-40.7l.5 56.9l.5-37.4l.5 56.4l.5-40.5l.5 58.7l.5-37.8l.5 56.8l.5-40.8l.5 57.6l.5-41.8l.5 58l.5-46l.5 57.2l.5-48.4l.5 56.5l.5-52.3l.5 57.6l.5-57l.5 57.6l.5-59.6l.5 51.7l.5-56.6l.5 49.3l.5-56.7l.5 45.4l.5-56.1l.5 42.1l.5-57.1l.5 37.9l.5-54.6l.5 36.5l.5-57.4l.5 38.8l.5-55.1l.5 36.3l.5-58.1l.5 40.4l.5-56.7l.5 40l.5-56.3l.5 45.1l.5-58.8l.5 45.4l.5-52.9l.5 49l.5-55.9l.5 52.9l.5-58.1l.5 55.1l.5-51l.5 55.9l.5-48.4l.5 56.4l.5-48l.5 58l.5-44.2l.5 58.5l.5-43.2l.5 59.1l.5-39.9l.5 55.3l.5-38.6l.5 57.1l.5-37.8l.5 56.5l.5-35.6l.5 56.8l.5-42.7l.5 58.3l.5-41.8l.5 56.5l.5-45.6l.5 57.9l.5-48.2l.5 54.8l.5-50.1l.5 55.2l.5-54l.5 54.9l.5-55.2l.5 48.8l.5-52.8l.5 46.5l.5-56.8l.5 43.5l.5-53.9l.5 40.9l.5-57.8l.5 39.7l.5-56l.5 37.5l.5-54.9l.5 36.6l.5-57.6l.5 37.4l.5-55l.5 39.3l.5-55.8l.5 39.9l.5-55l.5 41.4l.5-56l.5 42.8l.5-51.6l.5 44.7l.5-50.9l.5 47.5l.5-52.6l.5 53.4l.5-51.1l.5 55.8l.5-46.1l.5 52.5l.5-44.5l.5 53.2l.5-38.3l.5 53.7l.5-39.6l.5 57.1l.5-38.1l.5 53.7l.5-34.9l.5 55.1l.5-38.3l.5 55.4l.5-37.6l.5 57.1l.5-40.3l.5 55.7l.5-40.1l.5 56.6l.5-41.5l.5 52.8l.5-46l.5 51.2l.5-46.2l.5 52.4l.5-51.2l.5 52.6l.5-54.6l.5 49.6l.5-53.5l.5 44.9l.5-52.6l.5 39l.5-52.4l.5 39.4l.5-54.2l.5 38l.5-54.5l.5 34.7l.5-53.3l.5 35.8l.5-54.4l.5 34.7l.5-54.1l.5 37l.5-55.5l.5 39.2l.5-54.4l.5 39.1l.5-51.9l.5 43.4l.5-52.8l.5 46.1l.5-53.3l.5 49.8l.5-50l.5 50.2l.5-47.4l.5 49.5l.5-44.7l.5 52.2l.5-42l.5 53.4l.5-41.1l.5 53.3l.5-35.9l.5 51.5l.5-34.5l.5 51.8l.5-34.6l.5 54.4l.5-34.6l.5 54.1l.5-36.9l.5 54.3l.5-36.7l.5 52.1l.5-37.4l.5 52.4l.5-38.9l.5 50.8l.5-41l.5 48.5l.5-43.9l.5 48.3l.5-44.8l.5 45.9l.5-50.5l.5 47l.5-52.4l.5 44l.5-50.3l.5 38.1l.5-50.8l.5 37.7l.5-53.3l.5 34.5l.5-50.9l.5 33.3l.5-51.7l.5 31.8l.5-53.2l.5 37.1l.5-54.6l.5 34.8l.5-53.1l.5 36.9l.5-52.5l.5 40.7l.5-53.5l.5 40.5l.5-47.7l.5 41.2l.5-48.4l.5 43.6l.5-45.8l.5 47.1l.5-43.8l.5 46.4l.5-40.2l.5 48.5l.5-39.2l.5 48.4l.5-35.4l.5 50.4l.5-35.4l.5 50.4l.5-33.8l.5 51.8l.5-33.6l.5 53.1l.5-33.2l.5 51.7l.5-34.3l.5 53.1l.5-33.6l.5 51.4l.5-36.9l.5 49.7l.5-37.2l.5 47.7l.5-38.1l.5 48.1l.5-43.1l.5 45.6l.5-44.8l.5 46.3l.5-46.1l.5 41.1l.5-49.7l.5 40.5l.5-47.4l.5 37.4l.5-49.3l.5 34.9l.5-52.3l.5 34.2l.5-51.8l.5 34.5l.5-51l.5 33.8l.5-52.3l.5 33.1l.5-52.5l.5 33.2l.5-49.2l.5 33.2l.5-48.5l.5 35.7l.5-50.1l.5 36.8l.5-47.2l.5 40.2l.5-45.2l.5 42.6l.5-45.2l.5 44.1l.5-41.9l.5 46.5l.5-38.7l.5 47l.5-39.5l.5 48.3l.5-33.6l.5 49.9l.5-34.7l.5 49.8l.5-32.2l.5 49.5l.5-31.2l.5 51.8l.5-33.1l.5 49.6l.5-31.9l.5 50.3l.5-33l.5 49.4l.5-35.2l.5 50.4l.5-37.3l.5 48l.5-38.8l.5 46.1l.5-39.5l.5 43.5l.5-41.3l.5 40.1l.5-42.2l.5 40.6l.5-47.5l.5 38.4l.5-45.6l.5 33.7l.5-47.2l.5 33.4l.5-49.1l.5 32.6l.5-48.7l.5 30.3l.5-49.4l.5 31l.5-48.2l.5 30.5l.5-51.4l.5 33l.5-49.5l.5 32.6l.5-46.4l.5 32.7l.5-47.2l.5 35.6l.5-44l.5 35.4l.5-42.2l.5 38.8l.5-39.6l.5 41.8l.5-39.3l.5 41.1l.5-36.7l.5 45.1l.5-34.7l.5 45.8l.5-32.9l.5 47.1l.5-32l.5 47.2l.5-29.9l.5 48.1l.5-29.8l.5 49.9l.5-31.4l.5 48.3l.5-30l.5 47.7l.5-30.3l.5 47.9l.5-31.8l.5 46.9l.5-35.5l.5 46.6l.5-35.8l.5 42.5l.5-36.3l.5 39.1l.5-39l.5 40.3l.5-41l.5 37.4l.5-43.3l.5 34.6l.5-43.9l.5 34.1l.5-45.9l.5 31.2l.5-45.9l.5 28.5l.5-46.2l.5 29.6l.5-49.1l.5 30.1l.5-49l.5 28.6l.5-47.3l.5 28.6l.5-45.9l.5 29.5l.5-43.4l.5 29.3l.5-42.3l.5 33.2l.5-43.9l.5 34.9l.5-41l.5 37.8l.5-38.9l.5 39.3l.5-38.1l.5 40.4l.5-34.1l.5 42l.5-30.8l.5 43.8l.5-32l.5 45.7l.5-31.7l.5 47.4l.5-27.6l.5 43.9l.5-25.6l.5 44.2l.5-25.1l.5 45.8l.5-28.8l.5 46.1l.5-28l.5 45.7l.5-30.2l.5 42.8l.5-31.6l.5 44.2l.5-33.6l.5 40.7l.5-34.5l.5 38.6l.5-36.6l.5 36.8l.5-38.8l.5 32.8l.5-39.6l.5 32.3l.5-40.4l.5 29.1l.5-41.6l.5 28.7l.5-44.8l.5 27.1l.5-44.5l.5 25.8l.5-43.3l.5 26.4l.5-46.9l.5 28.2l.5-45.4l.5 26.8l.5-43.8l.5 26.7l.5-42.4l.5 27.8l.5-40.3l.5 30.3l.5-39.7l.5 31.1l.5-36.6l.5 32.2l.5-34.6l.5 35.4l.5-32.4l.5 35.4l.5-29.6l.5 38.5l.5-29.8l.5 40.4l.5-28.9l.5 42.9l.5-26.2l.5 43.5l.5-26.8l.5 44.8l.5-26.2l.5 45.4l.5-25.8l.5 44.4l.5-25.2l.5 43l.5-27.1l.5 42.9l.5-26.4l.5 39.5l.5-27.6l.5 38.3l.5-28.2l.5 36.9l.5-31.5l.5 35.5l.5-33.6l.5 33.3l.5-35.1l.5 32.2l.5-37.6l.5 29.4l.5-38.9l.5 26.6l.5-39.4l.5 25.5l.5-39.9l.5 25l.5-44.1l.5 25l.5-41.5l.5 21.9l.5-42.6l.5 25.4l.5-43.9l.5 25.7l.5-42.2l.5 24.1l.5-40l.5 25.8l.5-38.1l.5 27.1l.5-36.6l.5 30.5l.5-37l.5 31l.5-31.8l.5 32.1l.5-29.6l.5 33.8l.5-28.7l.5 35.8l.5-26.7l.5 38.8l.5-25.3l.5 39l.5-22.8l.5 38.6l.5-21.6l.5 40.6l.5-22.4l.5 42l.5-24.3l.5 42.3l.5-21.6l.5 38.3l.5-22.5l.5 40.7l.5-25.9l.5 39l.5-25l.5 35.4l.5-26.1l.5 33.5l.5-28.7l.5 32.7l.5-30.4l.5 32.5l.5-34.4l.5 30.4l.5-35.7l.5 26.7l.5-36.9l.5 25.6l.5-36.8l.5 22.8l.5-39.5l.5 24.2l.5-41.3l.5 21.1l.5-38.6l.5 21.6l.5-41.1l.5 21.6l.5-40.1l.5 21.4l.5-38.3l.5 23l.5-38.1l.5 23l.5-36.3l.5 25.1l.5-34.8l.5 27.5l.5-32.9l.5 28.2l.5-29.7l.5 30.6l.5-29.7l.5 33.5l.5-26.8l.5 34.7l.5-25.6l.5 35.5l.5-22.5l.5 38.3l.5-22l.5 37.8l.5-20.8l.5 38.2l.5-20.5l.5 39.3l.5-18.8l.5 38.1l.5-20.5l.5 38.5l.5-21.8l.5 38.6l.5-22.1l.5 34.6l.5-22.8l.5 34.9l.5-24.3l.5 31.5l.5-26.1l.5 30.9l.5-28.9l.5 27.7l.5-29.3l.5 26.1l.5-32.2l.5 23.7l.5-32.7l.5 22.6l.5-35.9l.5 20.6l.5-36.1l.5 19.5l.5-37l.5 19.4l.5-37.7l.5 19.7l.5-38.1l.5 19.1l.5-38.4l.5 19.2l.5-35.8l.5 19.4l.5-34.1l.5 20l.5-33.1l.5 22.3l.5-31.6l.5 24.6l.5-30.8l.5 26l.5-27.3l.5 28.1l.5-26.8l.5 30.4l.5-23.4l.5 29.9l.5-20.9l.5 32.5l.5-19.9l.5 34.9l.5-20.1l.5 34.8l.5-16.3l.5 35.3l.5-16.6l.5 35.1l.5-16.9l.5 36.7l.5-18.3l.5 35l.5-17.6l.5 34.4l.5-17.9l.5 32.5l.5-21.5l.5 31.2l.5-20l.5 28.3l.5-24.3l.5 29.4l.5-25.8l.5 25.8l.5-28.6l.5 23.1l.5-29.1l.5 20.9l.5-29l.5 17.9l.5-31.7l.5 17.5l.5-31.7l.5 15.9l.5-33l.5 14.8l.5-33.5l.5 15.8l.5-36.1l.5 17.2l.5-34.2l.5 16l.5-33.7l.5 15.7l.5-31.9l.5 18.9l.5-30.8l.5 19.4l.5-28.5l.5 20.6l.5-28.1l.5 23.7l.5-25.6l.5 25.9l.5-22.5l.5 27.2l.5-22.2l.5 30l.5-19.2l.5 28.7l.5-16l.5 30.4l.5-15.2l.5 32.7l.5-15.7l.5 33.3l.5-14.4l.5 33.1l.5-14.4l.5 32.3l.5-13.1l.5 32.5l.5-16.5l.5 32.8l.5-17.4l.5 30.4l.5-17.7l.5 29.5l.5-19.3l.5 27.5l.5-21.1l.5 23.8l.5-22.8l.5 23.8l.5-24.8l.5 19.6l.5-25.8l.5 19l.5-28.9l.5 17.5l.5-29.5l.5 15.7l.5-30.5l.5 12.7l.5-30.3l.5 13.3l.5-32.6l.5 13.2l.5-31.4l.5 12.7l.5-30.8l.5 13.1l.5-30.3l.5 14.1l.5-30.3l.5 15.1l.5-28.2l.5 17.2l.5-25.5l.5 18.3l.5-24.4l.5 19.8l.5-22.9l.5 23.3l.5-21l.5 25.4l.5-18.5l.5 25l.5-15.6l.5 27.2l.5-14.7l.5 28.2l.5-13.2l.5 30.2l.5-12.8l.5 29.9l.5-10.3l.5 29.4l.5-10.5l.5 30l.5-12.4l.5 29.9l.5-12.2l.5 29.5l.5-13.7l.5 26.6l.5-14l.5 25.8l.5-17.1l.5 24.8l.5-18.2l.5 22.6l.5-21.3l.5 21l.5-22.6l.5 18.9l.5-24.7l.5 15.6l.5-24.6l.5 14.1l.5-26.5l.5 11.9l.5-28l.5 11.8l.5-27.9l.5 9.2l.5-27.9l.5 9.3l.5-28.3l.5 9.1l.5-27.3l.5 9.2l.5-27.8l.5 11.6l.5-25.9l.5 11.8l.5-24.8l.5 13.4l.5-22.8l.5 15.5l.5-21l.5 17.3l.5-19.6l.5 19.3l.5-16.8l.5 21.4l.5-16.2l.5 23.1l.5-13l.5 23.6l.5-11.1l.5 26l.5-11l.5 27.4l.5-9.8l.5 28.2l.5-8.9l.5 27.5l.5-8.6l.5 27.7l.5-9.1l.5 27l.5-10.2l.5 25.5l.5-9.4l.5 24l.5-12.3l.5 23.4l.5-13.4l.5 21.3l.5-16.1l.5 19.7l.5-17.5l.5 18.2l.5-20.1l.5 15.1l.5-20.8l.5 13.1l.5-22.2l.5 11.5l.5-23.6l.5 9l.5-25.1l.5 8.3l.5-24.8l.5 6.7l.5-26.3l.5 8l.5-27l.5 8l.5-25.9l.5 8.2l.5-25.4l.5 9l.5-24.6l.5 9.8l.5-22.4l.5 11.9l.5-21.4l.5 13.1l.5-19.1l.5 14.8l.5-16.8l.5 17.6l.5-15.8l.5 18.8l.5-12.5l.5 20l.5-10.1l.5 21.9l.5-9.3l.5 23.6l.5-8.4l.5 24.3l.5-7.2l.5 25.2l.5-6.6l.5 25.5l.5-5.7l.5 24.5l.5-6l.5 24.2l.5-6.4l.5 22.4l.5-7.9l.5 22.6l.5-9.6l.5 20.8l.5-11.2l.5 18.4l.5-12.1l.5 16.1l.5-14.2l.5 14.2l.5-16l.5 11.7l.5-18.2l.5 10.1l.5-19.1l.5 7.9l.5-20.8l.5 7l.5-21.8l.5 5.4l.5-22.7l.5 4.8l.5-23.3l.5 4l.5-23.7l.5 4.7l.5-23.2l.5 5.7l.5-22.6l.5 5.9l.5-21.2l.5 7.2l.5-19.6l.5 8.5l.5-18.4l.5 10.3l.5-15.8l.5 12.3l.5-14.6l.5 14l.5-12.2l.5 16.4l.5-9.6l.5 16.8l.5-7.9l.5 19.4l.5-6.8l.5 20.9l.5-5.5l.5 21.9l.5-4.5l.5 22.1l.5-2.9l.5 21.8l.5-2.6l.5 21.6l.5-3.8l.5 21.8l.5-4l.5 20.2l.5-5.1l.5 18.9l.5-6.2l.5 17.5l.5-7.8l.5 15.4l.5-9.2l.5 13.7l.5-11.8l.5 11.2l.5-13.6l.5 9.6l.5-15.4l.5 7.6l.5-16.4l.5 5.3l.5-18.4l.5 4.8l.5-20.2l.5 3.5l.5-20.5l.5 2.5l.5-21.1l.5 2.2l.5-21.3l.5 2.2l.5-20.6l.5 2.7l.5-20l.5 3.6l.5-18.8l.5 4.1l.5-16.3l.5 5.8l.5-15.7l.5 8l.5-14l.5 9.9l.5-11.8l.5 11.4l.5-9.1l.5 12.8l.5-6.9l.5 14.6l.5-5.3l.5 16.6l.5-3.5l.5 17.5l.5-2.1l.5 18.2l.5-.6l.5 19.1l.5-.7l.5 19.1l.5-.5l.5 19.6l.5-1.1l.5 18.9l.5-1.5l.5 17.8l.5-2.3l.5 16.4l.5-3.5l.5 14.6l.5-5l.5 12.9l.5-7.5l.5 11.4l.5-9.4l.5 9.3l.5-11.1l.5 7.2l.5-12.7l.5 5l.5-14.8l.5 3.6l.5-15.9l.5 1.4l.5-16.7l.5 .4l.5-17.6l.5-.3l.5-18.3l.5-.6l.5-18l.5-.8l.5-18l.5-.2l.5-17l.5 .8l.5-16.1l.5 1.9l.5-14.8l.5 3.2l.5-12.6l.5 5.3l.5-10.7l.5 6.2l.5-8.2l.5 8.5l.5-6.5l.5 10.4l.5-4.7l.5 12.4l.5-2.7l.5 13.5l.5-.7l.5 14.8l.5 .4l.5 16.2l.5 1.2l.5 16.6l.5 2.1l.5 16.7l.5 2.1l.5 17l.5 1.7l.5 16.3l.5 .8l.5 15.3l.5-.2l.5 14l.5-.9l.5 12.4l.5-2.9l.5 10.2l.5-4.4l.5 8.3l.5-6.2l.5 6.3l.5-8.6l.5 4.7l.5-10.3l.5 2.4l.5-12l.5 .7l.5-13.2l.5-.9l.5-14.5l.5-1.5l.5-15.4l.5-2.9l.5-15.5l.5-3.3l.5-15.6l.5-3.2l.5-15.5l.5-2.6l.5-14.6l.5-1.7l.5-13.7l.5-.6l.5-12l.5 .9l.5-10.3l.5 2.8l.5-8.5l.5 4.2l.5-6.2l.5 6.3l.5-4.2l.5 8l.5-2.2l.5 9.9l.5-.5l.5 11.7l.5 .9l.5 12.9l.5 2.6l.5 13.9l.5 3.4l.5 14.6l.5 4.2l.5 14.5l.5 4.4l.5 14.4l.5 4l.5 14l.5 3.3l.5 13.1l.5 2.1l.5 11.9l.5 .8l.5 10.3l.5-.9l.5 8.7l.5-2.6l.5 6.2l.5-4.5l.5 4.7l.5-6.3l.5 2.1l.5-8.1l.5 .3l.5-9.4l.5-1.6l.5-11.2l.5-2.9l.5-12.3l.5-4.1l.5-13.3l.5-4.8l.5-13.5l.5-5.3l.5-13.7l.5-5.3l.5-13.1l.5-4.7l.5-12.5l.5-4l.5-11.2l.5-2.9l.5-9.8l.5-1.3l.5-8.1l.5 .3l.5-6.1l.5 2.3l.5-4.4l.5 4.4l.5-2.4l.5 6.2l.5 0l.5 7.7l.5 1.8l.5 9.2l.5 3.3l.5 10.7l.5 4.8l.5 11.4l.5 5.7l.5 12.3l.5 6.4l.5 12.4l.5 6.5l.5 12.2l.5 6.4l.5 11.7l.5 5.6l.5 10.6l.5 4.6l.5 9.4l.5 3.3l.5 7.8l.5 1.6l.5 6.1l.5-.2l.5 4.2l.5-2.3l.5 2.3l.5-4.2l.5 .1l.5-5.9l.5-1.8l.5-7.4l.5-3.8l.5-8.9l.5-5.3l.5-9.9l.5-6.4l.5-10.9l.5-7.1l.5-11.2l.5-7.7l.5-11.3l.5-7.4l.5-11l.5-7.1l.5-10.1l.5-6.3l.5-9l.5-4.9l.5-7.8l.5-3.4l.5-6l.5-1.5l.5-4.4l.5 .5l.5-2.5l.5 2.5l.5-.5l.5 4.3l.5 1.6l.5 6l.5 3.6l.5 7.5l.5 5.1l.5 8.8l.5 6.5l.5 9.9l.5 7.4l.5 10.5l.5 7.9l.5 11l.5 7.9l.5 10.8l.5 7.7l.5 10.3l.5 6.9l.5 9.4l.5 5.9l.5 8.1l.5 4.6l.5 6.4l.5 2.9l.5 5l.5 .9l.5 3l.5-1.1l.5 1l.5-2.9l.5-1l.5-4.8l.5-3l.5-6.4l.5-4.7l.5-7.9l.5-6.1l.5-9.2l.5-7.2l.5-10l.5-8l.5-10.4l.5-8.3l.5-10.6l.5-8.2l.5-10.3l.5-7.7l.5-9.5l.5-6.8l.5-8.5l.5-5.5l.5-7.1l.5-4l.5-5.4l.5-2.3l.5-3.5l.5-.4l.5-1.6l.5 1.6l.5 .4l.5 3.5l.5 2.3l.5 5.3l.5 4.2l.5 6.9l.5 5.8l.5 8.2l.5 7.1l.5 9.2l.5 8l.5 10l.5 8.5l.5 10.2l.5 8.6l.5 10.1l.5 8.4l.5 9.6l.5 7.6l.5 8.7l.5 6.6l.5 7.4l.5 5.2l.5 5.9l.5 3.6l.5 4.1l.5 1.7l.5 2.2l.5-.3l.5 .3l.5-2.2l.5-1.8l.5-4l.5-3.7l.5-5.7l.5-5.4l.5-7.2l.5-6.8l.5-8.5l.5-7.8l.5-9.4l.5-8.6l.5-9.9l.5-8.8l.5-10l.5-8.8l.5-9.6l.5-8.3l.5-9l.5-7.3l.5-7.9l.5-6.1l.5-6.5l.5-4.6l.5-4.9l.5-2.8l.5-3l.5-.8l.5-1.2l.5 1.1l.5 .9l.5 3l.5 2.8l.5 4.9l.5 4.6l.5 6.5l.5 6.1l.5 7.9l.5 7.3l.5 9l.5 8.3l.5 9.6l.5 8.8l.5 10l.5 8.8l.5 9.9l.5 8.6l.5 9.3l.5 7.9l.5 8.5l.5 6.7l.5 7.3l.5 5.4l.5 5.6l.5 3.8l.5 3.9l.5 1.8l.5 2.2l.5-.2l.5 .2l.5-2.2l.5-1.8l.5-4l.5-3.6l.5-5.8l.5-5.3l.5-7.3l.5-6.7l.5-8.5l.5-7.9l.5-9.3l.5-8.6l.5-9.8l.5-8.9l.5-10l.5-8.8l.5-9.6l.5-8.3l.5-8.9l.5-7.4l.5-7.9l.5-6.1l.5-6.5l.5-4.5l.5-4.9l.5-2.8l.5-3l.5-.9l.5-1.1l.5 1.1l.5 .9l.5 3l.5 2.8l.5 4.9l.5 4.5l.5 6.5l.5 6.2l.5 7.8l.5 7.4l.5 8.9l.5 8.3l.5 9.6l.5 8.8l.5 10l.5 8.8l.5 9.9l.5 8.6l.5 9.3l.5 7.9l.5 8.4l.5 6.8l.5 7.2l.5 5.4l.5 5.7l.5 3.7l.5 4l.5 1.8l.5 2.1l.5-.1l.5 .1l.5-2.1l.5-1.9l.5-3.9l.5-3.7l.5-5.7l.5-5.4l.5-7.2l.5-6.8l.5-8.5l.5-7.8l.5-9.4l.5-8.5l.5-9.9l.5-8.8l.5-10l.5-8.7l.5-9.7l.5-8.2l.5-9l.5-7.3l.5-7.9l.5-6.1l.5-6.5l.5-4.6l.5-4.8l.5-2.8l.5-3.1l.5-.8l.5-1.1l.5 1.1l.5 .8l.5 3.1l.5 2.8l.5 4.8l.5 4.6l.5 6.5l.5 6.1l.5 7.9l.5 7.3l.5 9l.5 8.2l.5 9.7l.5 8.7l.5 10l.5 8.8l.5 9.9l.5 8.5l.5 9.4l.5 7.8l.5 8.5l.5 6.7l.5 7.3l.5 5.3l.5 5.7l.5 3.7l.5 4l.5 1.8l.5 2.1l.5-.1l.5 .1l.5-2.1l.5-1.8l.5-4l.5-3.7l.5-5.7l.5-5.4l.5-7.2l.5-6.7l.5-8.5l.5-7.8l.5-9.4l.5-8.5l.5-9.9l.5-8.8l.5-10l.5-8.7l.5-9.7l.5-8.2l.5-9l.5-7.3l.5-7.9l.5-6.1l.5-6.4l.5-4.6l.5-4.9l.5-2.7l.5-3.1l.5-.9l.5-1.1l.5 1.1l.5 .9l.5 3.1l.5 2.7l.5 4.9l.5 4.5l.5 6.5l.5 6.2l.5 7.8l.5 7.3l.5 9l.5 8.2l.5 9.7l.5 8.7l.5 10l.5 8.8l.5 9.9l.5 8.5l.5 9.3l.5 7.9l.5 8.4l.5 6.8l.5 7.2l.5 5.4l.5 5.7l.5 3.7l.5 3.9l.5 1.8l.5 2.1l.5-.1l.5 .1l.5-2l.5-1.9l.5-3.9l.5-3.8l.5-5.7l.5-5.3l.5-7.2l.5-6.8l.5-8.4l.5-7.8l.5-9.4l.5-8.6l.5-9.8l.5-8.8l.5-10l.5-8.7l.5-9.7l.5-8.2l.5-8.9l.5-7.4l.5-7.8l.5-6.1l.5-6.5l.5-4.6l.5-4.8l.5-2.8l.5-3.1l.5-.8l.5-1.1l.5 1.1l.5 .9l.5 3l.5 2.8l.5 4.8l.5 4.6l.5 6.5l.5 6.1l.5 7.8l.5 7.4l.5 8.9l.5 8.2l.5 9.7l.5 8.7l.5 10l.5 8.8l.5 9.9l.5 8.5l.5 9.3l.5 7.9l.5 8.4l.5 6.8l.5 7.2l.5 5.3l.5 5.7l.5 3.7l.5 4l.5 1.8l.5 2.1l.5-.2l.5 .2l.5-2.1l.5-1.8l.5-4l.5-3.7l.5-5.7l.5-5.3l.5-7.2l.5-6.8l.5-8.4l.5-7.8l.5-9.4l.5-8.5l.5-9.9l.5-8.8l.5-10l.5-8.7l.5-9.6l.5-8.3l.5-8.9l.5-7.3l.5-7.9l.5-6.1l.5-6.5l.5-4.6l.5-4.8l.5-2.8l.5-3l.5-.9l.5-1.1l.5 1.1l.5 .8l.5 3.1l.5 2.8l.5 4.8l.5 4.6l.5 6.5l.5 6.1l.5 7.9l.5 7.3l.5 8.9l.5 8.3l.5 9.6l.5 8.7l.5 10l.5 8.8l.5 9.9l.5 8.5l.5 9.3l.5 7.9l.5 8.4l.5 6.8l.5 7.2l.5 5.4l.5 5.6l.5 3.7l.5 4l.5 1.8l.5 2.1l.5-.1l.5 .1l.5-2.1l.5-1.8l.5-4l.5-3.7l.5-5.7l.5-5.3l.5-7.2l.5-6.8l.5-8.4l.5-7.8l.5-9.4l.5-8.5l.5-9.9l.5-8.8l.5-10l.5-8.7l.5-9.6l.5-8.3l.5-8.9l.5-7.4l.5-7.8l.5-6.1l.5-6.5l.5-4.6l.5-4.8l.5-2.8l.5-3l.5-.9l.5-1.1l.5 1.1l.5 .9l.5 3l.5 2.8l.5 4.8l.5 4.6l.5 6.5l.5 6.1l.5 7.8l.5 7.4l.5 8.9l.5 8.3l.5 9.6l.5 8.7l.5 10l.5 8.8l.5 9.8l.5 8.6l.5 9.3l.5 7.9l.5 8.4l.5 6.8l.5 7.2l.5 5.3l.5 5.7l.5 3.7l.5 4l.5 1.8l.5 2.1l.5-.1l.5 .1l.5-2.1l.5-1.8l.5-4l.5-3.7l.5-5.7l.5-5.3l.5-7.2l.5-6.8l.5-8.4l.5-7.9l.5-9.3l.5-8.5l.5-9.9l.5-8.8l.5-10l.5-8.7l.5-9.7l.5-8.2l.5-8.9l.5-7.4l.5-7.8l.5-6.1l.5-6.5l.5-4.6l.5-4.8l.5-2.8l.5-3.1l.5-.8l.5-1.1l.5 1.1l.5 .9l.5 3l.5 2.8l.5 4.8l.5 4.6l.5 6.5l.5 6.1l.5 7.8l.5 7.4l.5 8.9l.5 8.2l.5 9.7l.5 8.7l.5 10l.5 8.8l.5 9.9l.5 8.5l.5 9.3l.5 7.9l.5 8.4l.5 6.8l.5 7.2l.5 5.4l.5 5.6l.5 3.7l.5 4l.5 1.8l.5 2.1l.5-.1l.5 .1l.5-2.1l.5-1.8l.5-4l.5-3.7l.5-5.7l.5-5.3l.5-7.2l.5-6.8l.5-8.4l.5-7.9l.5-9.3l.5-8.5l.5-9.9l.5-8.8l.5-10l.5-8.7l.5-9.6l.5-8.3l.5-8.9l.5-7.4l.5-7.8l.5-6.1l.5-6.5l.5-4.6l.5-4.8l.5-2.8l.5-3l.5-.9l.5-1.1l.5 1.1l.5 .9l.5 3l.5 2.8l.5 4.8l.5 4.6l.5 6.5l.5 6.1l.5 7.8l.5 7.4l.5 8.9l.5 8.2l.5 9.7l.5 8.7l.5 10l.5 8.8l.5 9.8l.5 8.6l.5 9.3l.5 7.9l.5 8.4l.5 6.8l.5 7.2l.5 5.4l.5 5.6l.5 3.7l.5 4l.5 1.8l.5 2.1l.5-.1l.5 .1l.5-2.1l.5-1.8l.5-4l.5-3.7l.5-5.7l.5-5.3l.5-7.2l.5-6.8l.5-8.4l.5-7.9l.5-9.3l.5-8.5l.5-9.9l.5-8.8l.5-10l.5-8.7l.5-9.7l.5-8.2l.5-8.9l.5-7.3l.5-7.9l.5-6.1l.5-6.5l.5-4.6l.5-4.8l.5-2.8l.5-3l.5-.9l.5-1.1l.5 1.1l.5 .9l.5 3l.5 2.8l.5 4.8l.5 4.6l.5 6.5l.5 6.1l.5 7.8l.5 7.4l.5 8.9l.5 8.2l.5 9.7l.5 8.7l.5 10l.5 8.8l.5 9.9l.5 8.5l.5 9.4l.5 7.8l.5 8.4l.5 6.8l.5 7.2l.5 5.3l.5 5.7l.5 3.7l.5 4l.5 1.8l.5 2.1l.5-.1l.5 .1l.5-2.1l.5-1.8l.5-3.9l.5-3.8l.5-5.7l.5-5.3l.5-7.2l.5-6.8l.5-8.4l.5-7.8l.5-9.4l.5-8.5l.5-9.9l.5-8.8l.5-10l.5-8.7l.5-9.7l.5-8.2l.5-8.9l.5-7.4" stroke="#D95319"/>
<path d="M371.5 532.5l.5 11.1l.5-27.9l.5 39.2l.5-43.9l.5 43.7l.5-47.6l.5 42.3l.5-51.2l.5 41l.5-50l.5 36.9l.5-51.4l.5 36l.5-49.8l.5 31.8l.5-48.2l.5 32.9l.5-50.3l.5 30.9l.5-49.5l.5 34.1l.5-50l.5 35.1l.5-46.8l.5 35.1l.5-48.5l.5 39.5l.5-48.5l.5 45.5l.5-50l.5 48.1l.5-50.6l.5 50.2l.5-44.1l.5 48.1l.5-41l.5 48.9l.5-37.5l.5 48.4l.5-32.7l.5 47.2l.5-30.8l.5 49.1l.5-30.1l.5 48.6l.5-29l.5 49.3l.5-29.6l.5 49l.5-30.2l.5 47.9l.5-30.2l.5 50.3l.5-33.7l.5 47.5l.5-35.4l.5 50.4l.5-39.7l.5 47.1l.5-41.9l.5 50.4l.5-47.1l.5 48l.5-48.5l.5 42.1l.5-45.8l.5 40l.5-47.9l.5 36.3l.5-48.2l.5 33.4l.5-47.3l.5 30.3l.5-45.5l.5 29.3l.5-46.1l.5 26.5l.5-45.7l.5 28.1l.5-46l.5 29.1l.5-44.5l.5 30.6l.5-45.6l.5 33.4l.5-45.4l.5 35.3l.5-47.6l.5 41.2l.5-45l.5 44.9l.5-47.3l.5 46l.5-43.3l.5 47.3l.5-40.6l.5 48l.5-35.7l.5 45.5l.5-29.6l.5 44l.5-27.7l.5 44.2l.5-27.1l.5 45.5l.5-24.4l.5 42.7l.5-25.5l.5 45.6l.5-26l.5 44.7l.5-26.1l.5 42.9l.5-29.7l.5 45.4l.5-32.9l.5 46.8l.5-35.7l.5 46.2l.5-43.1l.5 48.6l.5-46.5l.5 47.5l.5-48.3l.5 43l.5-46.4l.5 36.7l.5-43.7l.5 32.6l.5-44.6l.5 30l.5-44.5l.5 26.9l.5-42.2l.5 23.8l.5-40.2l.5 23.5l.5-42.8l.5 23.4l.5-42.3l.5 24.8l.5-40.9l.5 24.9l.5-42l.5 31.5l.5-45.5l.5 34.3l.5-42l.5 35.4l.5-44.8l.5 42.9l.5-43.8l.5 44.4l.5-41.4l.5 44.7l.5-36.2l.5 42.4l.5-31.6l.5 42.2l.5-27.9l.5 41.8l.5-26.1l.5 42.9l.5-23.1l.5 39.8l.5-22.2l.5 42.2l.5-22.6l.5 41.2l.5-21.8l.5 40.4l.5-23.1l.5 39.5l.5-25.2l.5 42.4l.5-30.8l.5 41.8l.5-34.2l.5 43.7l.5-37.9l.5 44.1l.5-42l.5 44.3l.5-46l.5 38.9l.5-42.4l.5 32.9l.5-41.4l.5 30.4l.5-41.7l.5 25.9l.5-38.3l.5 21.5l.5-37.6l.5 18.4l.5-36.5l.5 18l.5-37l.5 19.6l.5-39.1l.5 21l.5-37.5l.5 22.1l.5-38.9l.5 26.5l.5-39.4l.5 28.5l.5-41.3l.5 35.8l.5-41l.5 40l.5-45l.5 43.1l.5-39.8l.5 44.2l.5-35.6l.5 40.4l.5-29.1l.5 40.4l.5-25l.5 38l.5-22.5l.5 38.5l.5-19.1l.5 36.4l.5-16.9l.5 36.3l.5-17.1l.5 35.4l.5-17.1l.5 37l.5-20.4l.5 37.2l.5-22.5l.5 37.9l.5-27.7l.5 40.1l.5-29.9l.5 40.9l.5-37.9l.5 41.6l.5-41.5l.5 43.5l.5-43.1l.5 38l.5-40.7l.5 31.2l.5-40l.5 27.7l.5-38.7l.5 21.9l.5-35.7l.5 18l.5-35.6l.5 18.5l.5-35.8l.5 15l.5-34.2l.5 16l.5-35.1l.5 18.6l.5-35.7l.5 19.6l.5-36.7l.5 24l.5-37.7l.5 26.8l.5-39.1l.5 33.8l.5-40.3l.5 39l.5-41.5l.5 40.7l.5-39.2l.5 41.1l.5-31.7l.5 39.4l.5-29l.5 38.6l.5-24.3l.5 36.2l.5-19l.5 35l.5-16.4l.5 34.4l.5-14.7l.5 33.4l.5-14.8l.5 33.3l.5-14.4l.5 33.7l.5-16.7l.5 34.1l.5-19.9l.5 35l.5-23.2l.5 37.8l.5-29.1l.5 38.4l.5-34.9l.5 39.9l.5-39l.5 38.5l.5-39.3l.5 33.3l.5-37.9l.5 29.8l.5-36.9l.5 23.3l.5-34l.5 18.7l.5-33.5l.5 15.8l.5-31.6l.5 13.5l.5-31.6l.5 11.9l.5-31.8l.5 13.2l.5-32.5l.5 14.8l.5-31.8l.5 16.2l.5-33.3l.5 20.1l.5-35.3l.5 25.6l.5-35.8l.5 30.2l.5-37.7l.5 35l.5-39.2l.5 40.8l.5-37.9l.5 39.9l.5-31l.5 36.1l.5-25.4l.5 36l.5-21.3l.5 34l.5-15.8l.5 30.4l.5-13.1l.5 31.8l.5-12l.5 30.8l.5-12.2l.5 31.6l.5-12.2l.5 29.6l.5-12.8l.5 31l.5-17.2l.5 32.5l.5-20.9l.5 35.3l.5-27.6l.5 37.3l.5-33.5l.5 39l.5-37.3l.5 36.1l.5-37.9l.5 32.6l.5-34.9l.5 24.5l.5-31.8l.5 20.5l.5-33.4l.5 17.3l.5-30.9l.5 12.7l.5-28.7l.5 9.7l.5-28.7l.5 9.4l.5-28.3l.5 9.6l.5-28.8l.5 11.7l.5-29.3l.5 12.7l.5-30.8l.5 17.8l.5-31.1l.5 23l.5-35.4l.5 29.7l.5-36.3l.5 34.3l.5-37.3l.5 36.4l.5-34.1l.5 35.1l.5-26.6l.5 34.1l.5-22.9l.5 31.1l.5-16.2l.5 29.7l.5-12.7l.5 27.4l.5-8.6l.5 26.5l.5-7.7l.5 27l.5-8l.5 27.6l.5-8.5l.5 26.7l.5-10.3l.5 29l.5-15.4l.5 30.5l.5-18.3l.5 31.9l.5-24.1l.5 34.1l.5-29.5l.5 33.8l.5-34.6l.5 36.7l.5-36.4l.5 29.7l.5-33l.5 22.9l.5-31.4l.5 17.5l.5-28.7l.5 12.8l.5-26.5l.5 9.4l.5-25.9l.5 7.5l.5-26.4l.5 6.5l.5-25.2l.5 6.4l.5-26.1l.5 8.3l.5-26.3l.5 10.4l.5-27.3l.5 14.1l.5-27.7l.5 19.1l.5-31l.5 24.2l.5-32.1l.5 31.1l.5-33.8l.5 34.9l.5-32.7l.5 32.5l.5-24.5l.5 31l.5-18l.5 27.5l.5-14.2l.5 26.7l.5-9.4l.5 25.6l.5-7.2l.5 25l.5-6.1l.5 24.2l.5-5.1l.5 24.9l.5-5.8l.5 24.3l.5-7.7l.5 25.1l.5-10.7l.5 26.8l.5-15.4l.5 27.4l.5-19.5l.5 30l.5-27.4l.5 33l.5-30.9l.5 31.5l.5-31.9l.5 25.1l.5-29.8l.5 20.4l.5-28l.5 15.6l.5-26.8l.5 10.5l.5-24.7l.5 6.7l.5-22.7l.5 4.1l.5-23.2l.5 4.3l.5-22.9l.5 4.1l.5-23l.5 5.1l.5-23.6l.5 7.5l.5-24.2l.5 12l.5-25.9l.5 16.2l.5-27.5l.5 20.6l.5-29.5l.5 29.5l.5-33.5l.5 32.8l.5-29l.5 30.9l.5-22.4l.5 27.9l.5-16.3l.5 26l.5-11.1l.5 23.6l.5-6.4l.5 21.9l.5-3.8l.5 21l.5-2.3l.5 21.8l.5-2.4l.5 21.5l.5-2.8l.5 20.8l.5-3.8l.5 21.8l.5-7.3l.5 22.4l.5-11.9l.5 25.7l.5-17.2l.5 26.4l.5-23l.5 29.3l.5-30.2l.5 32.1l.5-32.8l.5 25.2l.5-28l.5 17.4l.5-23.7l.5 11.4l.5-23.6l.5 7.2l.5-21.1l.5 4l.5-21l.5 2.3l.5-20.2l.5 .7l.5-20.3l.5 1.2l.5-20l.5 2.1l.5-20.7l.5 5.8l.5-22.4l.5 8.8l.5-23l.5 13.7l.5-24.7l.5 18.7l.5-27.4l.5 26l.5-30.3l.5 30.9l.5-26.7l.5 27.8l.5-18.4l.5 24.1l.5-13.6l.5 23.4l.5-8.8l.5 21.6l.5-4.6l.5 20.1l.5-2.1l.5 20l.5-1l.5 19.4l.5-.4l.5 19.7l.5-1l.5 19.7l.5-3l.5 20.1l.5-5.1l.5 21.2l.5-9.9l.5 22.5l.5-14.5l.5 24.4l.5-21.7l.5 27.6l.5-26.4l.5 28l.5-28.6l.5 21.9l.5-26.1l.5 15.3l.5-22l.5 9.2l.5-21.4l.5 6l.5-19.9l.5 1.8l.5-18.5l.5 .2l.5-18.9l.5-.2l.5-19.1l.5 .3l.5-18.9l.5 .9l.5-18.8l.5 2.8l.5-19.2l.5 5.9l.5-20l.5 11l.5-22.6l.5 17.4l.5-26.3l.5 25.1l.5-28.2l.5 27.4l.5-23.8l.5 24.8l.5-17l.5 22.2l.5-9.9l.5 19.9l.5-6.2l.5 19.7l.5-2.9l.5 18.6l.5-.2l.5 17.9l.5 .6l.5 17.8l.5 1.5l.5 18.2l.5 .2l.5 18l.5-.9l.5 18.2l.5-3.9l.5 19l.5-6.8l.5 20.3l.5-12.3l.5 21.8l.5-18.5l.5 25.8l.5-25.4l.5 23.8l.5-24.8l.5 18.4l.5-21.5l.5 12.2l.5-20.4l.5 7.7l.5-19.2l.5 3.8l.5-17.8l.5 .1l.5-17l.5-1.3l.5-17.4l.5-1.7l.5-17.5l.5-1.5l.5-17l.5-1.1l.5-17l.5 1.5l.5-18.3l.5 4.6l.5-18.4l.5 8.6l.5-19.3l.5 13.6l.5-22l.5 21l.5-24.8l.5 25.2l.5-21.8l.5 22.5l.5-14l.5 20l.5-8.7l.5 17.8l.5-3.7l.5 17.6l.5-1l.5 16.3l.5 1.6l.5 16.2l.5 3l.5 16l.5 3l.5 16.1l.5 2.4l.5 16.2l.5 .5l.5 16.6l.5-1.5l.5 16.7l.5-5.2l.5 18.3l.5-10.6l.5 20.6l.5-17.6l.5 22.9l.5-22.8l.5 23.4l.5-23.3l.5 16.5l.5-19.3l.5 9.9l.5-18.2l.5 5.3l.5-16.7l.5 1.2l.5-15.5l.5-1.4l.5-15.6l.5-3.2l.5-15.5l.5-3.4l.5-15.6l.5-3.6l.5-15.4l.5-2.4l.5-15.3l.5-.4l.5-15.9l.5 2.6l.5-16.2l.5 6.2l.5-17.7l.5 12l.5-19.9l.5 19.1l.5-23.8l.5 23.3l.5-19.3l.5 20.7l.5-11.9l.5 17.1l.5-6.2l.5 16.1l.5-2.1l.5 15.4l.5 1l.5 14.9l.5 3.2l.5 14.8l.5 4l.5 15l.5 4.3l.5 14.4l.5 4.1l.5 14.7l.5 2.4l.5 14.5l.5 .2l.5 15.2l.5-3.7l.5 15.8l.5-7.9l.5 18.1l.5-14.7l.5 20.6l.5-20.1l.5 20.1l.5-19.9l.5 14.1l.5-17.8l.5 7.2l.5-15l.5 2.7l.5-14.6l.5-.1l.5-15l.5-2.4l.5-14.2l.5-4.2l.5-14.3l.5-4.9l.5-14.2l.5-4.8l.5-14l.5-3.7l.5-14.1l.5-2l.5-14.3l.5 .9l.5-14.7l.5 4.7l.5-15.1l.5 9.8l.5-18.3l.5 16.5l.5-19.5l.5 19.6l.5-17l.5 17.9l.5-9.5l.5 15.9l.5-4.5l.5 14.2l.5-.5l.5 14.1l.5 1.8l.5 13.8l.5 4l.5 14.2l.5 4.8l.5 14l.5 5l.5 13.9l.5 4.6l.5 13.6l.5 3.3l.5 13.7l.5 1.1l.5 13.9l.5-2.2l.5 14.5l.5-6.1l.5 15.2l.5-10.9l.5 17.8l.5-17.1l.5 16.1l.5-17.4l.5 12.2l.5-15.5l.5 5.8l.5-14.1l.5 1.4l.5-13.6l.5-1.2l.5-13.3l.5-3.5l.5-13.5l.5-4.9l.5-13.6l.5-5.5l.5-13.5l.5-5.4l.5-13.4l.5-4.5l.5-13.2l.5-2.6l.5-13.5l.5-.3l.5-13l.5 3l.5-13.8l.5 7.8l.5-15.6l.5 12.9l.5-16.2l.5 16.9l.5-13.8l.5 15.8l.5-7.4l.5 13.3l.5-3l.5 13.2l.5 .6l.5 12.9l.5 3.1l.5 12.8l.5 4.7l.5 13.2l.5 5.8l.5 12.9l.5 5.9l.5 13.2l.5 5.5l.5 12.8l.5 4l.5 12.6l.5 2.3l.5 12.4l.5-.1l.5 12.1l.5-4.2l.5 13.5l.5-9.3l.5 15.4l.5-14.2l.5 14.1l.5-14.9l.5 9.1l.5-13.5l.5 3.9l.5-11.9l.5 .1l.5-12.3l.5-2.5l.5-12.4l.5-4.4l.5-12.6l.5-5.7l.5-12.8l.5-6.3l.5-12.6l.5-6.1l.5-12.6l.5-5.2l.5-12.5l.5-3.6l.5-12.2l.5-1.5l.5-11.6l.5 1l.5-11.8l.5 5.9l.5-13.5l.5 11.1l.5-14.1l.5 14.2l.5-10.8l.5 13l.5-5.6l.5 11.6l.5-.8l.5 11.2l.5 2l.5 11.7l.5 4l.5 12.1l.5 5.5l.5 12.2l.5 6.5l.5 12.4l.5 6.7l.5 12.2l.5 6.2l.5 11.9l.5 5.3l.5 11.7l.5 3.2l.5 11l.5 1.2l.5 10.8l.5-2.3l.5 11.3l.5-7.3l.5 12.6l.5-10.9l.5 10.9l.5-12.2l.5 6.9l.5-11.4l.5 2.4l.5-10.6l.5-1.4l.5-10.9l.5-3.7l.5-11.1l.5-5.6l.5-11.6l.5-6.6l.5-11.9l.5-7l.5-11.9l.5-7l.5-11.7l.5-6.2l.5-11.2l.5-4.8l.5-10.8l.5-3l.5-10.2l.5-.3l.5-9.8l.5 3.5l.5-10.8l.5 7.9l.5-11l.5 11.1l.5-8l.5 10.2l.5-2.9l.5 9.5l.5 .7l.5 10l.5 3.3l.5 10.4l.5 5.2l.5 10.9l.5 6.6l.5 11.4l.5 7.1l.5 11.6l.5 7.5l.5 11.4l.5 7.1l.5 10.9l.5 6.1l.5 10.6l.5 4.4l.5 10.1l.5 2.2l.5 9.4l.5-.6l.5 9.4l.5-5l.5 9.9l.5-8.5l.5 8.5l.5-9.9l.5 4.8l.5-9.1l.5 .4l.5-9.4l.5-2.3l.5-9.8l.5-4.6l.5-10.4l.5-6.3l.5-10.8l.5-7.1l.5-11.4l.5-7.5l.5-11.5l.5-7.4l.5-11.1l.5-6.7l.5-10.7l.5-5.6l.5-9.9l.5-3.9l.5-9.2l.5-1.2l.5-8.9l.5 2.1l.5-8.9l.5 6.1l.5-8.6l.5 8.5l.5-5.9l.5 8.6l.5-1.6l.5 8.4l.5 1.6l.5 9.2l.5 3.7l.5 10l.5 5.7l.5 10.5l.5 6.9l.5 10.9l.5 7.5l.5 11.3l.5 7.7l.5 11.1l.5 7.3l.5 10.8l.5 6.3l.5 10.1l.5 4.9l.5 9.4l.5 3.1l.5 8.4l.5 .4l.5 8.3l.5-3.5l.5 7.9l.5-6.4l.5 6.8l.5-8.1l.5 2.9l.5-7.7l.5-.7l.5-8.3l.5-3.2l.5-9.2l.5-5.1l.5-9.9l.5-6.5l.5-10.7l.5-7.4l.5-11l.5-7.8l.5-11.1l.5-7.6l.5-10.9l.5-7.1l.5-10.2l.5-5.9l.5-9.6l.5-4.3l.5-8.5l.5-2.2l.5-7.6l.5 .3l.5-7.2l.5 4l.5-6.1l.5 6.2l.5-4l.5 7.3l.5-.7l.5 7.7l.5 2.4l.5 8.3l.5 4.5l.5 9.4l.5 6l.5 10.1l.5 7.3l.5 10.7l.5 7.8l.5 10.9l.5 7.9l.5 11l.5 7.6l.5 10.4l.5 6.7l.5 9.7l.5 5.5l.5 8.8l.5 3.6l.5 7.6l.5 1.6l.5 6.7l.5-1.7l.5 6l.5-4l.5 4.2l.5-6l.5 1.4l.5-6.6l.5-1.6l.5-7.4l.5-3.9l.5-8.7l.5-5.6l.5-9.6l.5-6.7l.5-10.4l.5-7.8l.5-10.7l.5-8.1l.5-10.7l.5-7.9l.5-10.6l.5-7.4l.5-9.9l.5-6.4l.5-9.1l.5-4.8l.5-7.9l.5-3l.5-6.7l.5-.7l.5-5.5l.5 1.9l.5-4.1l.5 4.2l.5-1.9l.5 5.3l.5 .9l.5 6.5l.5 3.2l.5 7.7l.5 5.1l.5 8.8l.5 6.5l.5 9.8l.5 7.5l.5 10.4l.5 8.1l.5 10.7l.5 8.2l.5 10.6l.5 7.9l.5 10.1l.5 7.1l.5 9.3l.5 5.9l.5 8.2l.5 4.3l.5 7l.5 2.3l.5 5.5l.5 .2l.5 4l.5-2.2l.5 2.1l.5-3.9l.5-.3l.5-5.2l.5-2.6l.5-6.7l.5-4.6l.5-8l.5-6.1l.5-9.2l.5-7.2l.5-10l.5-7.9l.5-10.5l.5-8.3l.5-10.6l.5-8.2l.5-10.3l.5-7.7l.5-9.6l.5-6.7l.5-8.6l.5-5.4l.5-7.2l.5-3.9l.5-5.6l.5-1.9l.5-4.1l.5 .2l.5-2.3l.5 2.2l.5-.1l.5 4l.5 2l.5 5.6l.5 3.9l.5 7.2l.5 5.5l.5 8.4l.5 6.9l.5 9.5l.5 7.7l.5 10.2l.5 8.4l.5 10.4l.5 8.4l.5 10.4l.5 8.1l.5 9.9l.5 7.4l.5 8.9l.5 6.3l.5 7.8l.5 4.8l.5 6.3l.5 3.1l.5 4.7l.5 1.1l.5 2.9l.5-1l.5 1l.5-2.9l.5-1.2l.5-4.6l.5-3.1l.5-6.2l.5-4.9l.5-7.8l.5-6.3l.5-8.9l.5-7.5l.5-9.8l.5-8.2l.5-10.2l.5-8.6l.5-10.3l.5-8.4l.5-10.1l.5-7.9l.5-9.3l.5-7l.5-8.4l.5-5.6l.5-7l.5-4.1l.5-5.4l.5-2.2l.5-3.8l.5 0l.5-2l.5 1.9l.5 .2l.5 3.7l.5 2.2l.5 5.4l.5 4.1l.5 7l.5 5.7l.5 8.3l.5 7l.5 9.3l.5 7.9l.5 10l.5 8.5l.5 10.3l.5 8.6l.5 10.2l.5 8.3l.5 9.7l.5 7.5l.5 8.9l.5 6.4l.5 7.6l.5 5l.5 6.1l.5 3.3l.5 4.5l.5 1.2l.5 2.8l.5-.8l.5 .8l.5-2.7l.5-1.3l.5-4.5l.5-3.3l.5-6l.5-5.1l.5-7.6l.5-6.5l.5-8.7l.5-7.7l.5-9.5l.5-8.5l.5-10l.5-8.7l.5-10.2l.5-8.6l.5-9.9l.5-8.1l.5-9.2l.5-7.1l.5-8.2l.5-5.8l.5-6.8l.5-4.3l.5-5.2l.5-2.4l.5-3.5l.5-.4l.5-1.6l.5 1.6l.5 .4l.5 3.5l.5 2.4l.5 5.2l.5 4.3l.5 6.8l.5 5.9l.5 8.1l.5 7.2l.5 9.1l.5 8.1l.5 9.8l.5 8.7l.5 10.1l.5 8.8l.5 10l.5 8.5l.5 9.5l.5 7.7l.5 8.7l.5 6.6l.5 7.4l.5 5.2l.5 6l.5 3.4l.5 4.2l.5 1.6l.5 2.4l.5-.4l.5 .4l.5-2.3l.5-1.7l.5-4.2l.5-3.5l.5-5.9l.5-5.2l.5-7.4l.5-6.7l.5-8.6l.5-7.8l.5-9.4l.5-8.5l.5-9.9l.5-8.9l.5-10l.5-8.8l.5-9.7l.5-8.2l.5-9.1l.5-7.3l.5-8l.5-6l.5-6.6l.5-4.5l.5-5l.5-2.6l.5-3.2l.5-.8l.5-1.2l.5 1.2l.5 .8l.5 3.1l.5 2.8l.5 4.9l.5 4.5l.5 6.5l.5 6.2l.5 7.9l.5 7.4l.5 8.9l.5 8.3l.5 9.6l.5 8.9l.5 9.9l.5 9l.5 9.8l.5 8.7l.5 9.3l.5 7.9l.5 8.4l.5 6.9l.5 7.2l.5 5.4l.5 5.7l.5 3.8l.5 3.9l.5 .4l.5 6.9l.5-10.8l.5 11.9l.5-16.7l.5 9.2l.5-17.7l.5 9.3l.5-20.5l.5 10.1l.5-24.1l.5 10l.5-23.4l.5 9.1l.5-23.5l.5 7.7l.5-23.7l.5 7.1l.5-23.2l.5 7.3l.5-24.1l.5 9l.5-23.8l.5 10l.5-24.6l.5 13.8l.5-25.5l.5 16.1l.5-25l.5 19.7l.5-29.7l.5 28.9l.5-38.5l.5 38.8l.5-29l.5 29.2l.5-19.8l.5 24.8l.5-15.6l.5 24.7l.5-12.6l.5 24l.5-10.2l.5 23.6l.5-8l.5 23.2l.5-6.3l.5 22.8l.5-7.1l.5 23.8l.5-7.3l.5 22.9l.5-8.7l.5 23.2l.5-10.9l.5 24.4l.5-14.1l.5 24.1l.5-16.3l.5 24.5l.5-22.1l.5 33.1l.5-33.8l.5 35.6l.5-33.7l.5 21.9l.5-26.2l.5 17.3l.5-24.6l.5 13.6l.5-23.1l.5 10.4l.5-23l.5 8.2l.5-22.7l.5 7l.5-23.1l.5 6.8l.5-23l.5 6.5l.5-22.6l.5 8l.5-23.4l.5 9.8l.5-23.7l.5 11.2l.5-22.9l.5 14.9l.5-24.4l.5 18.2l.5-28.7l.5 28l.5-36.1l.5 36.2l.5-27.1l.5 27.2l.5-18.6l.5 25.1l.5-15.7l.5 24.4l.5-12.6l.5 24.1l.5-9.3l.5 22.8l.5-7.4l.5 22.8l.5-7.1l.5 23.6l.5-7.2l.5 22.9l.5-6.6l.5 22.4l.5-8.7l.5 23.8l.5-11.3l.5 24.3l.5-14l.5 24.8l.5-17l.5 24.8l.5-21.6l.5 31.9l.5-32.6l.5 33.6l.5-32.8l.5 21.4l.5-24l.5 15.9l.5-23.7l.5 12.9l.5-22.9l.5 10.2l.5-22.5l.5 8l.5-22.7l.5 6.4l.5-23.2l.5 6.8l.5-22.2l.5 5.9l.5-22.6l.5 7.6l.5-22.6l.5 8.7l.5-22.8l.5 12.1l.5-23.9l.5 15.3l.5-24.5l.5 17.4l.5-26.1l.5 25.5l.5-33.5l.5 33.6l.5-25.3l.5 26.4l.5-17.8l.5 23.3l.5-14.5l.5 24.1l.5-12.6l.5 23l.5-8.6l.5 22.9l.5-7.8l.5 22.4l.5-6.3l.5 23.2l.5-6.7l.5 22.9l.5-7.2l.5 22.9l.5-7.7l.5 22.8l.5-9.9l.5 23.4l.5-13.8l.5 23.4l.5-15.8l.5 23.7l.5-20.3l.5 32.6l.5-33.4l.5 33.6l.5-32.1l.5 19.8l.5-23.9l.5 16.5l.5-23.6l.5 13.3l.5-23.9l.5 10.3l.5-23.2l.5 8.8l.5-22.8l.5 6.2l.5-22.4l.5 6.3l.5-22.1l.5 5.3l.5-21.9l.5 7.3l.5-22.5l.5 9l.5-23.6l.5 12l.5-24l.5 15.4l.5-23.3l.5 17.2l.5-27.6l.5 26.3l.5-32.7l.5 33.1l.5-25.9l.5 25.7l.5-16.4l.5 22.6l.5-14.4l.5 24.3l.5-11.7l.5 22.4l.5-8.5l.5 22.7l.5-7.9l.5 22.5l.5-5.9l.5 22.1l.5-5.1l.5 22.2l.5-6.7l.5 22.6l.5-8.6l.5 22.7l.5-9.5l.5 23l.5-12.8l.5 22.4l.5-15.3l.5 23.8l.5-20.2l.5 30.9l.5-29.7l.5 30.1l.5-30.1l.5 18.6l.5-22.3l.5 15.1l.5-23.2l.5 12.5l.5-23.3l.5 10.2l.5-22.4l.5 7.9l.5-21.9l.5 6l.5-21.9l.5 5.7l.5-22.3l.5 5.2l.5-21.4l.5 6l.5-22.1l.5 9.3l.5-23l.5 10.7l.5-21.9l.5 13.2l.5-22.7l.5 16.3l.5-25.5l.5 24.6l.5-32.8l.5 33.5l.5-25.4l.5 25.9l.5-16.3l.5 21.8l.5-12.6l.5 21.7l.5-10.4l.5 22.6l.5-8.4l.5 22.3l.5-7.6l.5 22.7l.5-6.1l.5 22.2l.5-5.3l.5 21.7l.5-5.7l.5 21.3l.5-7.2l.5 22.2l.5-9.6l.5 22.1l.5-11.5l.5 23l.5-16.1l.5 24.2l.5-19.4l.5 29.7l.5-29.5l.5 28.3l.5-28.7l.5 19.6l.5-23.2l.5 14.6l.5-22.5l.5 12.3l.5-22.9l.5 9.5l.5-21.4l.5 6.5l.5-21.3l.5 5.8l.5-22.3l.5 5.2l.5-21.3l.5 5.5l.5-21.4l.5 5.8l.5-21.4l.5 7.5l.5-21.2l.5 10.4l.5-22.3l.5 13.4l.5-23.1l.5 16.7l.5-25.3l.5 24.1l.5-30.5l.5 29.4l.5-23.3l.5 26l.5-16.7l.5 22.4l.5-12.8l.5 21.8l.5-10.3l.5 22l.5-8l.5 21.1l.5-6l.5 21.2l.5-5l.5 21.2l.5-4.6l.5 21.4l.5-5.4l.5 21.5l.5-6.5l.5 21.1l.5-8.7l.5 21.5l.5-11.9l.5 22l.5-13.5l.5 22.2l.5-17.9l.5 26.7l.5-27.8l.5 27.8l.5-27.5l.5 18.1l.5-21.6l.5 14.3l.5-22.1l.5 11.6l.5-21.5l.5 7.9l.5-20.8l.5 6.1l.5-21.4l.5 6.1l.5-21.4l.5 4.5l.5-20.8l.5 5l.5-22l.5 6.2l.5-21.7l.5 8.3l.5-21.8l.5 10.1l.5-21.9l.5 12.5l.5-20.9l.5 14.9l.5-24.7l.5 22.7l.5-28.6l.5 28.2l.5-20.8l.5 22.7l.5-14.8l.5 21.2l.5-12l.5 21l.5-9.9l.5 21l.5-6.7l.5 20.8l.5-5l.5 20.3l.5-4.6l.5 21.1l.5-4.2l.5 20.6l.5-4.7l.5 21l.5-6.6l.5 21l.5-7.6l.5 20.8l.5-10.1l.5 20.4l.5-13.1l.5 20.5l.5-17.3l.5 27.1l.5-26.1l.5 25.8l.5-26.4l.5 17.6l.5-21.8l.5 13.7l.5-20.9l.5 10.1l.5-20.1l.5 7.2l.5-20.3l.5 6l.5-21l.5 5.1l.5-20.5l.5 3.5l.5-20.7l.5 4.3l.5-20l.5 5.1l.5-20.9l.5 6.6l.5-20.9l.5 9.8l.5-20.9l.5 11.6l.5-20.2l.5 13.9l.5-22.5l.5 20.2l.5-27.9l.5 27.8l.5-20.2l.5 21.9l.5-13.3l.5 19.9l.5-11.5l.5 20.4l.5-8.3l.5 19.8l.5-5.7l.5 20l.5-4.5l.5 19.4l.5-3.1l.5 19.7l.5-3.4l.5 20.4l.5-4.5l.5 20.2l.5-5.3l.5 20.4l.5-7.4l.5 20.2l.5-10l.5 19.5l.5-11.8l.5 19.6l.5-15.7l.5 25.1l.5-24.6l.5 25.3l.5-24.7l.5 14.7l.5-18.9l.5 11.2l.5-18.7l.5 8.9l.5-19.5l.5 6.7l.5-20.3l.5 4.7l.5-18.9l.5 3.5l.5-19.6l.5 2.5l.5-19.2l.5 3.4l.5-19.7l.5 3.9l.5-19.6l.5 5.8l.5-19.2l.5 6.9l.5-18.7l.5 9.7l.5-19l.5 12.8l.5-21.4l.5 20.1l.5-25.4l.5 25.6l.5-19.6l.5 20.5l.5-11.8l.5 18.3l.5-10.3l.5 19l.5-7.4l.5 19.8l.5-5l.5 18.7l.5-3.8l.5 19.4l.5-2.5l.5 18.8l.5-2.8l.5 19.4l.5-2.7l.5 18.6l.5-4.2l.5 19.5l.5-6.2l.5 18.2l.5-8.3l.5 18.8l.5-10l.5 18.2l.5-14.9l.5 22.9l.5-22.5l.5 22.2l.5-22.4l.5 14.4l.5-17.9l.5 9.9l.5-18.3l.5 8.3l.5-18.5l.5 5.4l.5-18.6l.5 4.1l.5-19.3l.5 3.4l.5-19.1l.5 2.5l.5-18.8l.5 2l.5-18.9l.5 3.6l.5-19.2l.5 5.3l.5-18.4l.5 6.3l.5-18.5l.5 9.5l.5-18.2l.5 11.4l.5-19.4l.5 17.8l.5-24.7l.5 24.2l.5-17.4l.5 19.4l.5-11.4l.5 18l.5-8.7l.5 18.1l.5-7.1l.5 18.8l.5-4.2l.5 17.9l.5-2.8l.5 18.3l.5-1.6l.5 18.5l.5-2l.5 18.2l.5-1.8l.5 18l.5-3.5l.5 18l.5-4.9l.5 18.2l.5-7.5l.5 17.2l.5-9.4l.5 17.5l.5-12.9l.5 21.3l.5-20.8l.5 21.2l.5-21.8l.5 13.1l.5-17.1l.5 9.4l.5-17.4l.5 6.8l.5-17.7l.5 4.7l.5-17.7l.5 3l.5-18.1l.5 2.4l.5-18.5l.5 1.7l.5-18l.5 1.4l.5-18.1l.5 2.6l.5-17.7l.5 3.2l.5-17.1l.5 5l.5-16.4l.5 7.6l.5-16.7l.5 10.2l.5-17.4l.5 15.2l.5-21.2l.5 21.5l.5-15.8l.5 18l.5-10.6l.5 16.5l.5-7.7l.5 17.4l.5-5.3l.5 17.2l.5-3.9l.5 17.3l.5-1.3l.5 17.1l.5-1.1l.5 18l.5-1.3l.5 18l.5-1.4l.5 16.9l.5-1.8l.5 17.1l.5-4.4l.5 17.3l.5-6.1l.5 15.7l.5-8.1l.5 16.2l.5-11.6l.5 19.4l.5-19.4l.5 19.1l.5-18.7l.5 11l.5-15.4l.5 7.4l.5-15.5l.5 5.2l.5-15.9l.5 3.5l.5-17.1l.5 2.2l.5-17.1l.5 1l.5-17.1l.5 .8l.5-17.3l.5 .6l.5-17.3l.5 1.5l.5-16.7l.5 2.2l.5-16l.5 4.4l.5-16.5l.5 6.8l.5-15.4l.5 9.1l.5-17l.5 15.1l.5-20.9l.5 20.2l.5-14.2l.5 16.8l.5-9l.5 14.8l.5-6.2l.5 15.9l.5-4.4l.5 16.8l.5-2.6l.5 16.4l.5-.9l.5 17l.5-.8l.5 17.3l.5-.2l.5 16.9l.5-.5l.5 16.2l.5-1.5l.5 16.1l.5-2.5l.5 15.6l.5-5.3l.5 15.6l.5-7.1l.5 14.8l.5-10.1l.5 16.9l.5-16.5l.5 16.9l.5-17.7l.5 10.5l.5-14.7l.5 6.5l.5-14.2l.5 4.3l.5-15.8l.5 2.7l.5-15.5l.5 .9l.5-16l.5-.1l.5-16.2l.5-.5l.5-16.3l.5-.3l.5-16.3l.5 .5l.5-15.8l.5 1.6l.5-15.3l.5 3.1l.5-15.1l.5 5.4l.5-13.8l.5 7.6l.5-15.1l.5 12.7l.5-18l.5 18.5l.5-12.8l.5 14.7l.5-8l.5 14.4l.5-5.4l.5 14.8l.5-3.2l.5 15.5l.5-1.6l.5 15.7l.5-.3l.5 16.2l.5 .3l.5 16.3l.5 .3l.5 16.5l.5 .1l.5 16.1l.5-1l.5 15.6l.5-2.2l.5 14.8l.5-3.6l.5 13.9l.5-6l.5 13.4l.5-8.8l.5 16.9l.5-15.8l.5 15.3l.5-16.9l.5 9.2l.5-13.3l.5 6.3l.5-14.4l.5 3.7l.5-14.8l.5 2.2l.5-15.2l.5 .3l.5-15.3l.5-.4l.5-16.1l.5-1l.5-16.1l.5-.2l.5-16.2l.5-.1l.5-15.4l.5 1.1l.5-14.6l.5 2.3l.5-14.1l.5 4.7l.5-13.5l.5 6.9l.5-13.8l.5 11.2l.5-16.1l.5 16l.5-11.1l.5 13.4l.5-6.5l.5 13.5l.5-4.8l.5 14l.5-2.2l.5 14.7l.5-.7l.5 15.2l.5-.1l.5 15.7l.5 1.2l.5 15.5l.5 1.1l.5 15.9l.5 .8l.5 15l.5 0l.5 15.1l.5-1.5l.5 14l.5-3l.5 13l.5-5.1l.5 13.1l.5-8.7l.5 15.5l.5-14.7l.5 14.2l.5-15l.5 8.1l.5-12.4l.5 4.8l.5-13l.5 3.1l.5-14l.5 1.3l.5-14.9l.5-.2l.5-15l.5-.7l.5-15.5l.5-1.5l.5-15.1l.5-1.5l.5-14.9l.5-1.4l.5-14.6l.5 .6l.5-14.2l.5 2l.5-13.9l.5 4l.5-12.3l.5 5.8l.5-12.9l.5 10l.5-15.5l.5 15.5l.5-9.7l.5 12.3l.5-5.5l.5 12.3l.5-3.7l.5 13.4l.5-2l.5 14l.5 .2l.5 14.3l.5 1.1l.5 15l.5 1.5l.5 14.9l.5 1.9l.5 15.1l.5 1.4l.5 14.6l.5 .9l.5 14.2l.5-.8l.5 13.6l.5-2.5l.5 12.5l.5-4.1l.5 11.8l.5-6.9l.5 13.5l.5-12.8l.5 12.9l.5-13.7l.5 6.8l.5-11.6l.5 4.1l.5-12l.5 2l.5-13.5l.5 .6l.5-13.7l.5-1.3l.5-14.3l.5-1.9l.5-14.6l.5-2.1l.5-14.7l.5-2.1l.5-14.4l.5-1.7l.5-14.4l.5-.5l.5-13.1l.5 1.1l.5-12.7l.5 2.5l.5-11.4l.5 4.8l.5-11.8l.5 9l.5-13.9l.5 14.1l.5-9.1l.5 11.6l.5-5.1l.5 11.7l.5-2.7l.5 12.8l.5-1.2l.5 13.5l.5 .4l.5 14l.5 1.8l.5 14.5l.5 2.5l.5 14.4l.5 2.7l.5 14.1l.5 2.4l.5 13.9l.5 1.6l.5 13.5l.5 .1l.5 12.5l.5-1.5l.5 11.7l.5-3.3l.5 11.1l.5-6.4l.5 13.2l.5-12l.5 11.4l.5-12.5l.5 6.2l.5-10.7l.5 3.1l.5-11.6l.5 1.7l.5-12.7l.5-.4l.5-13.1l.5-1.8l.5-14l.5-2.4l.5-14.2l.5-2.8l.5-14.3l.5-3l.5-13.9l.5-2.2l.5-13.3l.5-1.2l.5-12.9l.5 .3l.5-11.9l.5 1.9l.5-10.8l.5 3.9l.5-10.8l.5 8.4l.5-12.2l.5 12.2l.5-8.5l.5 10.7l.5-3.7l.5 10.6l.5-2l.5 11.6l.5 .4l.5 12.2l.5 1.6l.5 13.4l.5 2.7l.5 13.4l.5 3.4l.5 13.8l.5 3.4l.5 13.5l.5 3.3l.5 13.1l.5 2.5l.5 12.6l.5 1.3l.5 12l.5-1l.5 11.3l.5-2.7l.5 9.9l.5-5.1l.5 11.7l.5-10.3l.5 10.1l.5-11.4l.5 5.3l.5-9.9l.5 2.4l.5-10.9l.5 .6l.5-11.9l.5-1.4l.5-12.6l.5-2.3l.5-13.1l.5-3.5l.5-13.5l.5-3.6l.5-13.6l.5-3.5l.5-13.6l.5-2.8l.5-13l.5-2.1l.5-11.9l.5-.6l.5-11.2l.5 1.3l.5-10l.5 2.8l.5-9.4l.5 6.9l.5-10.9l.5 10.5l.5-6.9l.5 9.9l.5-3l.5 9.8l.5-1.1l.5 11.2l.5 .5l.5 12.1l.5 2.2l.5 12.6l.5 3.2l.5 13.2l.5 3.8l.5 13.5l.5 3.9l.5 13.3l.5 3.8l.5 12.8l.5 2.9l.5 12.3l.5 1.6l.5 11.2l.5 .2l.5 10.3l.5-1.5l.5 9.2l.5-4.4l.5 9.7l.5-8.3l.5 8.7l.5-9.8l.5 4.1l.5-9l.5 1.5l.5-10.2l.5-.2l.5-11.4l.5-1.8l.5-12l.5-3.2l.5-12.5l.5-4.1l.5-13.1l.5-4.3l.5-12.9l.5-4.3l.5-12.9l.5-3.6l.5-12.5l.5-2.7l.5-11.3l.5-1.4l.5-10.7l.5 .7l.5-9.4l.5 2.4l.5-8.9l.5 6l.5-10.1l.5 9.8l.5-6l.5 8.9l.5-2.1l.5 8.9l.5 0l.5 10.2l.5 1.3l.5 11.6l.5 2.7l.5 12.4l.5 3.7l.5 12.8l.5 4.4l.5 13.1l.5 4.4l.5 12.7l.5 4.4l.5 12.5l.5 3.5l.5 11.7l.5 2.4l.5 11l.5 .7l.5 9.4l.5-1l.5 8.8l.5-3.8l.5 9.2l.5-7.5l.5 7.7l.5-9.2l.5 3.7l.5-8.7l.5 1l.5-9.7l.5-.7l.5-10.7l.5-2.6l.5-11.6l.5-3.7l.5-12l.5-4.7l.5-12.6l.5-4.9l.5-12.6l.5-4.8l.5-12.5l.5-4l.5-12l.5-3.4l.5-10.9l.5-1.9l.5-10.2l.5-.2l.5-8.8l.5 1.8l.5-8.3l.5 5.4l.5-9.1l.5 9l.5-5.1l.5 8.3l.5-2.1l.5 8.9l.5 .1l.5 10.2l.5 1.7l.5 11.2l.5 3.2l.5 11.8l.5 4.4l.5 12.4l.5 4.9l.5 12.5l.5 5.3l.5 12.3l.5 4.8l.5 12l.5 4l.5 11.3l.5 2.9l.5 10.4l.5 1.2l.5 9.2l.5-.6l.5 8.3l.5-2.8l.5 8l.5-6.8l.5 6.6l.5-7.9l.5 2.9l.5-8l.5 .5l.5-9.1l.5-1.3l.5-10.5l.5-2.8l.5-11.2l.5-4.4l.5-11.8l.5-5l.5-12.2l.5-5.5l.5-12.3l.5-5.2l.5-11.9l.5-4.8l.5-11.5l.5-3.7l.5-10.8l.5-2.3l.5-9.7l.5-.7l.5-8.2l.5 1.3l.5-7.7l.5 4.4l.5-7.5l.5 7.7l.5-4.8l.5 7.8l.5-1.4l.5 8.5l.5 .5l.5 9.7l.5 2.4l.5 10.6l.5 3.9l.5 11.4l.5 4.9l.5 11.9l.5 5.5l.5 12.1l.5 5.6l.5 12l.5 5.3l.5 11.5l.5 4.6l.5 10.9l.5 3.2l.5 10.2l.5 1.7l.5 8.9l.5-.2l.5 7.6l.5-2.2l.5 7.1l.5-5.6l.5 5.9l.5-7.6l.5 2.6l.5-7.5l.5-.2l.5-8.8l.5-1.7l.5-9.9l.5-3.3l.5-11.1l.5-4.6l.5-11.3l.5-5.6l.5-11.8l.5-5.8l.5-12l.5-5.7l.5-11.7l.5-5.2l.5-11.3l.5-4.2l.5-10.3l.5-2.6l.5-9.2l.5-1.3l.5-7.8l.5 .7l.5-7.2l.5 4l.5-6.7l.5 6.5l.5-3.5l.5 6.8l.5-.7l.5 8l.5 .9l.5 9.3l.5 2.9l.5 10.2l.5 4.3l.5 10.9l.5 5.4l.5 11.7l.5 5.9l.5 11.8l.5 5.9l.5 11.7l.5 5.7l.5 11.3l.5 5l.5 10.7l.5 3.7l.5 9.6l.5 2.3l.5 8.4l.5 .3l.5 7.1l.5-1.6l.5 6.6l.5-5.1l.5 5.1l.5-6.6l.5 1.7l.5-7.1l.5-.3l.5-8.4l.5-2.4l.5-9.4l.5-3.9l.5-10.4l.5-5.2l.5-11.2l.5-5.9l.5-11.6l.5-6.2l.5-11.5l.5-6.3l.5-11.3l.5-5.7l.5-10.7l.5-4.8l.5-9.9l.5-3.1l.5-9l.5-1.6l.5-7.4l.5 .3l.5-6.5l.5 3.1l.5-6.1l.5 6l.5-3l.5 6.4l.5-.2l.5 7.3l.5 1.7l.5 8.7l.5 3.5l.5 9.8l.5 4.8l.5 10.5l.5 6l.5 11.1l.5 6.4l.5 11.5l.5 6.5l.5 11.4l.5 6l.5 11.1l.5 5.4l.5 10.1l.5 4.3l.5 9.1l.5 2.8l.5 7.9l.5 1.1l.5 6.6l.5-1.4l.5 6.1l.5-4.2l.5 4l.5-5.8l.5 1.2l.5-6.5l.5-1l.5-7.9l.5-2.8l.5-9.1l.5-4.3l.5-10.2l.5-5.4l.5-10.9l.5-6.4l.5-11.1l.5-6.8l.5-11.1l.5-6.8l.5-11l.5-6l.5-10.4l.5-5.1l.5-9.7l.5-3.7l.5-8.4l.5-2.1l.5-7.2l.5 0l.5-6l.5 2.5l.5-5.1l.5 4.9l.5-2.2l.5 5.8l.5 .1l.5 7.2l.5 2.1l.5 8.2l.5 3.9l.5 9.5l.5 5.2l.5 10.2l.5 6.3l.5 10.9l.5 6.8l.5 11.2l.5 6.9l.5 11l.5 6.7l.5 10.5l.5 5.8l.5 9.9l.5 4.8l.5 8.8l.5 3.1l.5 7.6l.5 1.4l.5 6.2l.5-.6l.5 5.1l.5-3.6l.5 3.5l.5-5.2l.5 .7l.5-6l.5-1.5l.5-7.5l.5-3.2l.5-8.8l.5-4.7l.5-9.7l.5-6.1l.5-10.5l.5-6.6l.5-11l.5-7.2l.5-10.9l.5-7.1l.5-10.7l.5-6.4l.5-10.1l.5-5.5l.5-9.3l.5-4.1l.5-8.1l.5-2.5l.5-6.7l.5-.7l.5-5.3l.5 1.8l.5-4.2l.5 4l.5-1.6l.5 5.2l.5 .7l.5 6.6l.5 2.7l.5 7.9l.5 4.2l.5 9.2l.5 5.6l.5 10l.5 6.6l.5 10.7l.5 7.1l.5 10.9l.5 7.3l.5 10.8l.5 6.9l.5 10.4l.5 6.2l.5 9.5l.5 5.2l.5 8.4l.5 3.6l.5 7.2l.5 1.9l.5 5.7l.5-.1l.5 4.3l.5-2.7l.5 2.9l.5-4.5l.5 0l.5-5.5l.5-2l.5-7l.5-3.7l.5-8.4l.5-5.2l.5-9.5l.5-6.3l.5-10.2l.5-7.2l.5-10.6l.5-7.5l.5-10.7l.5-7.4l.5-10.5l.5-6.9l.5-9.8l.5-5.8l.5-9l.5-4.5l.5-7.8l.5-2.9l.5-6.2l.5-1.2l.5-4.7l.5 1l.5-3.2l.5 3.2l.5-.9l.5 4.5l.5 1.2l.5 6.1l.5 3.1l.5 7.6l.5 4.7l.5 8.8l.5 6l.5 9.7l.5 7l.5 10.4l.5 7.5l.5 10.7l.5 7.6l.5 10.5l.5 7.4l.5 10l.5 6.6l.5 9.3l.5 5.5l.5 8.1l.5 4l.5 6.8l.5 2.4l.5 5.1l.5 .4l.5 3.8l.5-1.8l.5 1.7l.5-3.6l.5-.5l.5-5.1l.5-2.3l.5-6.8l.5-4l.5-8.1l.5-5.7l.5-9l.5-6.8l.5-10l.5-7.4l.5-10.4l.5-7.9l.5-10.4l.5-7.8l.5-10.1l.5-7.2l.5-9.6l.5-6.3l.5-8.5l.5-5.1l.5-7.1l.5-3.6l.5-5.7l.5-1.6l.5-4.1l.5 .2l.5-2.4l.5 2.4l.5-.3l.5 4.1l.5 1.7l.5 5.7l.5 3.5l.5 7.2l.5 5.1l.5 8.5l.5 6.4l.5 9.4l.5 7.3l.5 10.1l.5 7.9l.5 10.3l.5 8l.5 10.2l.5 7.7l.5 9.8l.5 6.9l.5 8.9l.5 5.9l.5 7.7l.5 4.6l.5 6.2l.5 3l.5 4.6l.5 .9l.5 3l.5-1l.5 1l.5-2.9l.5-1l.5-4.6l.5-2.9l.5-6.2l.5-4.6l.5-7.7l.5-6l.5-8.8l.5-7l.5-9.7l.5-7.8l.5-10.1l.5-8.2l.5-10.2l.5-8l.5-10l.5-7.5l.5-9.2l.5-6.7l.5-8.2l.5-5.4l.5-6.9l.5-3.9l.5-5.3l.5-2.1l.5-3.6l.5-.2l.5-1.9l.5 1.8l.5 .2l.5 3.6l.5 2.2l.5 5.3l.5 3.9l.5 6.8l.5 5.5l.5 8.2l.5 6.7l.5 9.2l.5 7.6l.5 9.8l.5 8.1l.5 10.2l.5 8.2l.5 10.1l.5 7.9l.5 9.5l.5 7.3l.5 8.7l.5 6.1l.5 7.6l.5 4.7l.5 6l.5 3.2l.5 4.4l.5 1.3l.5 2.6l.5-.7l.5 .7l.5-2.6l.5-1.3l.5-4.4l.5-3.1l.5-6l.5-4.9l.5-7.4l.5-6.2l.5-8.6l.5-7.4l.5-9.4l.5-8.1l.5-9.9l.5-8.4l.5-10l.5-8.3l.5-9.7l.5-7.8l.5-9l.5-6.9l.5-8l.5-5.7l.5-6.7l.5-4.1l.5-5.1l.5-2.3l.5-3.4l.5-.5l.5-1.5l.5 1.5l.5 .5l.5 3.3l.5 2.4l.5 5l.5 4.2l.5 6.7l.5 5.6l.5 8l.5 7l.5 8.9l.5 7.9l.5 9.7l.5 8.3l.5 9.9l.5 8.6l.5 9.8l.5 8.2l.5 9.3l.5 7.5l.5 8.5l.5 6.4l.5 7.3l.5 5l.5 5.8l.5 3.4l.5 4.2l.5 1.5l.5 2.4l.5-.4l.5 .4l.5-2.3l.5-1.6l.5-4.1l.5-3.4l.5-5.8l.5-5.1l.5-7.2l.5-6.5l.5-8.4l.5-7.6l.5-9.2l.5-8.3l.5-9.8l.5-8.6l.5-9.8l.5-8.5l.5-9.6l.5-8l.5-8.8l.5-7.2l.5-7.8l.5-5.9l.5-6.5l.5-4.3l.5-4.9l.5-2.7l.5-3l.5-.7l.5-1.3l.5 1.2l.5 .7l.5 3.1l.5 2.7l.5 4.8l.5 4.4l.5 6.4l.5 6l.5 7.8l.5 7.2l.5 8.7l.5 8.1l.5 9.5l.5 8.6l.5 9.7l.5 8.8l.5 9.6l.5 8.5l.5 9.1l.5 7.7l.5 8.3l.5 6.7l.5 7.1l.5 5.3l.5 5.5l.5 3.7l.5 3.9l.5 1.8l.5 2.1l.5-.2l.5 .2l.5-2.1l.5-1.8l.5-3.9l.5-3.6l.5-5.6l.5-5.3l.5-7l.5-6.8l.5-8.2l.5-7.8l.5-9.1l.5-8.5l.5-9.6l.5-8.8l.5-9.7l.5-8.7l.5-9.4l.5-8.2l.5-8.7l.5-7.3l.5-7.7l.5-6l.5-6.4l.5-4.5l.5-4.7l.5-2.8l.5-3l.5-.9l.5-1.1l.5 1.1l.5 .9l.5 3l.5 2.7l.5 4.8l.5 4.5l.5 6.3l.5 6.1l.5 7.7l.5 7.3l.5 8.7l.5 8.2l.5 9.4l.5 8.7l.5 9.7l.5 8.8l.5 9.7l.5 8.5l.5 9.1l.5 7.8l.5 8.2l.5 6.8l.5 7l.5 5.3l.5 5.7l.5 3.6l.5 3.9l.5 1.9l.5 2l.5-.1l.5 .1l.5-2l.5-1.9l.5-3.8l.5-3.7l.5-5.6l.5-5.3l.5-7.1l.5-6.7l.5-8.3l.5-7.8l.5-9.1l.5-8.5l.5-9.7l.5-8.8l.5-9.7l.5-8.7l.5-9.4l.5-8.3l.5-8.7l.5-7.3l.5-7.7l.5-6.1l.5-6.4l.5-4.5l.5-4.8l.5-2.8l.5-3l.5-.8l.5-1.1l.5 1.1l.5 .8l.5 3l.5 2.8l.5 4.8l.5 4.5l.5 6.4l.5 6l.5 7.7l.5 7.4l.5 8.7l.5 8.2l.5 9.5l.5 8.7l.5 9.7l.5 8.9l.5 9.6l.5 8.5l.5 9.2l.5 7.8l.5 8.3l.5 6.7l.5 7.1l.5 5.4l.5 5.5l.5 3.8l.5 3.8l.5 1.9l.5 2.1l.5-.2l.5 .2l.5-2.1l.5-1.8l.5-3.9l.5-3.7l.5-5.6l.5-5.4l.5-7l.5-6.8l.5-8.3l.5-7.8l.5-9.1l.5-8.6l.5-9.6l.5-8.9l.5-9.7l.5-8.8l.5-9.4l.5-8.3l.5-8.7l.5-7.4l.5-7.7l.5-6.1l.5-6.4l.5-4.5l.5-4.8l.5-2.8l.5-3l.5-.9l.5-1.1l.5 1.1l.5 .9l.5 3l.5 2.8l.5 4.7l.5 4.6l.5 6.4l.5 6l.5 7.8l.5 7.3l.5 8.8l.5 8.3l.5 9.4l.5 8.8l.5 9.7l.5 8.9l.5 9.6l.5 8.6l.5 9.2l.5 7.8l.5 8.3l.5 6.8l.5 7.1l.5 5.4l.5 5.6l.5 3.7l.5 3.9l.5 1.8l.5 2.1l.5-.1l.5 .1l.5-2l.5-1.9l.5-3.9l.5-3.7l.5-5.6l.5-5.4l.5-7.1l.5-6.7l.5-8.3l.5-7.9l.5-9.1l.5-8.6l.5-9.7l.5-8.9l.5-9.7l.5-8.8l.5-9.5l.5-8.3l.5-8.8l.5-7.3l.5-7.8l.5-6.1l.5-6.4l.5-4.6l.5-4.7l.5-2.8l.5-3l.5-.9l.5-1.1l.5 1.1l.5 .9l.5 2.9l.5 2.8l.5 4.8l.5 4.6l.5 6.4l.5 6.1l.5 7.7l.5 7.4l.5 8.8l.5 8.3l.5 9.4l.5 8.8l.5 9.8l.5 8.9l.5 9.7l.5 8.6l.5 9.2l.5 7.9l.5 8.3l.5 6.8l.5 7.1l.5 5.3l.5 5.7l.5 3.7l.5 3.9l.5 1.9l.5 2.1l.5-.2l.5 .1l.5-2l.5-1.9l.5-3.9l.5-3.7l.5-5.6l.5-5.4l.5-7.1l.5-6.8l.5-8.3l.5-7.9l.5-9.2l.5-8.6l.5-9.7l.5-8.9l.5-9.8l.5-8.8l.5-9.5l.5-8.3l.5-8.8l.5-7.4l.5-7.7l.5-6.2l.5-6.4l.5-4.5l.5-4.8l.5-2.9l.5-3l.5-.8l.5-1.2l.5 1.1l.5 .9l.5 3l.5 2.8l.5 4.8l.5 4.6l.5 6.4l.5 6.1l.5 7.8l.5 7.4l.5 8.8l.5 8.3l.5 9.5l.5 8.8l.5 9.8l.5 9l.5 9.6l.5 8.7l.5 9.2l.5 7.9l.5 8.3l.5 6.8l.5 7.1l.5 5.4l.5 5.7l.5 3.7l.5 3.9l.5 1.9l.5 2.1l.5-.2l.5 .2l.5-2.1l.5-1.8l.5-4l.5-3.7l.5-5.6l.5-5.4l.5-7.1l.5-6.8l.5-8.4l.5-7.9l.5-9.2l.5-8.6l.5-9.7l.5-9l.5-9.8l.5-8.8l.5-9.6l.5-8.3l.5-8.8l.5-7.4l.5-7.8l.5-6.2l.5-6.4l.5-4.6l.5-4.8l.5-2.8l.5-3l.5-.9l.5-1.1l.5 1.1l.5 .9l.5 3l.5 2.8l.5 4.8l.5 4.6l.5 6.4l.5 6.2l.5 7.7l.5 7.4l.5 8.9l.5 8.3l.5 9.6l.5 8.8l.5 9.8l.5 9l.5 9.7l.5 8.7l.5 9.2l.5 7.9l.5 8.4l.5 6.8l.5 7.1l.5 5.4l.5 5.7l.5 3.8l.5 3.8l.5 1.9l.5 2.1l.5-.1l.5 .1l.5-2l.5-1.9l.5-3.9l.5-3.8l.5-5.6l.5-5.5l.5-7.1l.5-6.8l.5-8.4l.5-7.9l.5-9.2l.5-8.7l.5-9.7l.5-9l.5-9.8l.5-8.9l.5-9.5l.5-8.3l.5-8.9l.5-7.4l.5-7.8l.5-6.2l.5-6.4l.5-4.6l.5-4.8l.5-2.8l.5-3l.5-.9l.5-1.1l.5 1.1l.5 .9l.5 3l.5 2.8l.5 4.8l.5 4.6l.5 6.4l.5 6.2l.5 7.8l.5 7.4l.5 8.9l.5 8.3l.5 9.5l.5 8.9l.5 9.8l.5 9l.5 9.7l.5 8.6l.5 9.3l.5 7.9l.5 8.4l.5 6.8l.5 7.1l.5 5.5l.5 5.6l.5 3.7l.5 4l.5 1.8l.5 2.1l.5-.1l.5 .1l.5-2.1l.5-1.8l.5-4l.5-3.7l.5-5.6l.5-5.4l.5-7.2l.5-6.8l.5-8.4l.5-7.9l.5-9.2l.5-8.7l.5-9.7l.5-9l.5-9.8l.5-8.9l.5-9.5l.5-8.3l.5-8.9l.5-7.4l.5-7.8l.5-6.2l.5-6.4l.5-4.6l.5-4.8l.5-2.8l.5-3l.5-.9l.5-1.1l.5 1.1l.5 .9l.5 3l.5 2.8l.5 4.8l.5 4.6l.5 6.4l.5 6.2l.5 7.8l.5 7.4l.5 8.9l.5 8.3l.5 9.5l.5 8.9l.5 9.8l.5 9l.5 9.7l.5 8.7l.5 9.2l.5 7.9l.5 8.4l.5 6.8l.5 7.1l.5 5.5l.5 5.6l.5 3.8l.5 3.9l.5 1.9l.5 2l.5-.1l.5 .1l.5-2l.5-1.9l.5-3.9l.5-3.8l.5-5.6l.5-5.4l.5-7.2l.5-6.8l.5-8.4l.5-7.9l.5-9.2l.5-8.7l.5-9.7l.5-9l.5-9.8l.5-8.9l.5-9.5l.5-8.3l.5-8.9l.5-7.4l.5-7.8l.5-6.2l.5-6.4l.5-4.6l.5-4.8l.5-2.8l.5-3l.5-.9l.5-1.1l.5 1.1l.5 .9l.5 3l.5 2.8l.5 4.8l.5 4.6l.5 6.5l.5 6.1l.5 7.8l.5 7.4l.5 8.9l.5 8.3l.5 9.5l.5 8.9l.5 9.8l.5 9l.5 9.7l.5 8.7l.5 9.2l.5 7.9l.5 8.4l.5 6.8l.5 7.2l.5 5.4l.5 5.6l.5 3.8l.5 3.9l.5 1.8l.5 2.1l.5-.1l.5 .1l.5-2.1l.5-1.8l.5-4l.5-3.7l.5-5.6l.5-5.4l.5-7.2l.5-6.8l.5-8.4l.5-7.9l.5-9.2l.5-8.7l.5-9.7l.5-9l.5-9.8l.5-8.9l.5-9.5l.5-8.3l.5-8.9l.5-7.4l.5-7.8l.5-6.1l.5-6.5l.5-4.6l.5-4.8l.5-2.8l.5-3l.5-.9l.5-1.1l.5 1.1l.5 .9l.5 3l.5 2.8l.5 4.8l.5 4.6l.5 6.5l.5 6.1l.5 7.8l.5 7.4l.5 8.9l.5 8.3l.5 9.5l.5 8.9l.5 9.8l.5 9l.5 9.7l.5 8.7l.5 9.2l.5 7.9l.5 8.4l.5 6.8l.5 7.1l.5 5.5l.5 5.6l.5 3.7l.5 4l.5 1.9l.5 2l.5-.1l.5 .1l.5-2l.5-1.9l.5-4l.5-3.7l.5-5.6l.5-5.4l.5-7.2l.5-6.8l.5-8.4l.5-7.9l.5-9.3l.5-8.6l.5-9.7l.5-9l.5-9.8l.5-8.9l.5-9.5l.5-8.3l.5-8.9l.5-7.4l.5-7.8l.5-6.1l.5-6.5l.5-4.6l.5-4.8l.5-2.8l.5-3l.5-.9l.5-1.1l.5 1.1l.5 .9l.5 3l.5 2.8l.5 4.8l.5 4.6l.5 6.5l.5 6.1l.5 7.8l.5 7.4l.5 8.9l.5 8.3l.5 9.5l.5 8.9l.5 9.8l.5 9l.5 9.7l.5 8.7l.5 9.2l.5 7.9l.5 8.4l.5 6.8l.5 7.2l.5 5.4l.5 5.6l.5 3.7l.5 4l.5 1.8l.5 2.1l.5-.1l.5 .1l.5-2.1l.5-1.8l.5-3.9l.5-3.8l.5-5.6l.5-5.4l.5-7.2l.5-6.8l.5-8.4l.5-7.9l.5-9.2l.5-8.7l.5-9.7l.5-9l.5-9.8l.5-8.9l.5-9.5l.5-8.3l.5-8.9l.5-7.4l.5-7.8l.5-6.2l.5-6.4l.5-4.6l.5-4.8l.5-2.8l.5-3l.5-.9l.5-1.1l.5 1.1l.5 .9l.5 3l.5 2.8l.5 4.8l.5 4.6l.5 6.4l.5 6.2l.5 7.8l.5 7.4l.5 8.8l.5 8.4l.5 9.5l.5 8.9l.5 9.8l.5 9l.5 9.7l.5 8.7l.5 9.2l.5 7.9l.5 8.4l.5 6.8l.5 7.1l.5 5.5l.5 5.6l.5 3.7l.5 4l.5 1.9l.5 2l.5-.1l.5 .1" stroke="#EDB120"/>
<path d="M371.5 532.5l.5 3.2l.5-22.6l.5 38.6l.5-28.1l.5 46.4l.5-30.2l.5 47.8l.5-29.4l.5 50.4l.5-33.5l.5 48.8l.5-32.4l.5 50.2l.5-37.1l.5 51.8l.5-39.1l.5 48l.5-41l.5 48.9l.5-45.5l.5 50.2l.5-49.3l.5 48.3l.5-49.8l.5 43.8l.5-47.7l.5 41l.5-49.8l.5 34.9l.5-47.2l.5 31.7l.5-48.4l.5 32l.5-48l.5 28.3l.5-49l.5 30.1l.5-49.6l.5 31.2l.5-49.4l.5 31.8l.5-50.1l.5 32l.5-46.4l.5 32.3l.5-46l.5 38l.5-49.8l.5 41.4l.5-48.9l.5 46.9l.5-51.5l.5 48.6l.5-44.2l.5 46.9l.5-41.1l.5 47.1l.5-38.7l.5 49l.5-34.2l.5 47.7l.5-32.7l.5 46.5l.5-29.7l.5 48.2l.5-28.5l.5 45.4l.5-27.1l.5 46l.5-27.9l.5 45.8l.5-29.7l.5 46.9l.5-34.3l.5 49l.5-36l.5 47.1l.5-40.8l.5 47.6l.5-42.3l.5 49.6l.5-48.8l.5 46.8l.5-48.5l.5 43.9l.5-48.2l.5 38.2l.5-47.3l.5 33.8l.5-44.1l.5 29.3l.5-45.4l.5 27.5l.5-43.7l.5 26l.5-45.7l.5 26.1l.5-43.7l.5 25.7l.5-45.9l.5 27.9l.5-46.3l.5 30.9l.5-46.8l.5 32.5l.5-46.7l.5 36.2l.5-45l.5 36.7l.5-46.8l.5 45.4l.5-48.4l.5 49.1l.5-46.6l.5 46.9l.5-37.2l.5 45l.5-36.4l.5 45.6l.5-32.4l.5 45.2l.5-28.7l.5 44l.5-26.7l.5 42.6l.5-24.4l.5 43.7l.5-24.6l.5 43.3l.5-25l.5 43l.5-26.3l.5 44l.5-28.6l.5 41.5l.5-31.7l.5 44.2l.5-34.2l.5 45l.5-42l.5 46.1l.5-44.1l.5 42.9l.5-44.4l.5 39.9l.5-46.5l.5 38.1l.5-45.5l.5 30.8l.5-42.7l.5 28.7l.5-42.5l.5 23.9l.5-41.7l.5 23.3l.5-40.8l.5 21.4l.5-39.4l.5 20.4l.5-41l.5 23.9l.5-41.1l.5 24.4l.5-41.7l.5 28.5l.5-42l.5 32.1l.5-44l.5 37.6l.5-44.3l.5 42.5l.5-44.6l.5 43.7l.5-40l.5 41.8l.5-37l.5 44.5l.5-32l.5 40.8l.5-27.7l.5 40.6l.5-23.6l.5 40.1l.5-22.6l.5 40.2l.5-22.2l.5 39.4l.5-19.6l.5 38.8l.5-20.2l.5 37.4l.5-20.5l.5 39l.5-25.6l.5 41.1l.5-30.4l.5 42.9l.5-34.6l.5 44.2l.5-41l.5 44.7l.5-43.6l.5 45.3l.5-46l.5 40.5l.5-43.9l.5 33.9l.5-42.3l.5 29.7l.5-40.2l.5 23.6l.5-38.3l.5 20.3l.5-37.9l.5 19l.5-36.8l.5 19.2l.5-37.8l.5 17.5l.5-37l.5 20.5l.5-37.4l.5 20.8l.5-38.9l.5 25.8l.5-39.6l.5 30l.5-41.5l.5 34.4l.5-41.4l.5 40.6l.5-42.5l.5 42.6l.5-39.8l.5 40.3l.5-35.1l.5 41l.5-29l.5 38.9l.5-23.8l.5 37l.5-21.1l.5 36.4l.5-18.4l.5 35l.5-16.8l.5 36.5l.5-15.7l.5 33.9l.5-15.6l.5 34.1l.5-17.2l.5 36l.5-22.1l.5 37.3l.5-27.1l.5 40.3l.5-31.8l.5 40.6l.5-37.3l.5 41.4l.5-40.1l.5 40.5l.5-40.6l.5 35.2l.5-40.4l.5 31.1l.5-39.4l.5 26.1l.5-37.3l.5 21.7l.5-34.9l.5 18l.5-34.5l.5 15.6l.5-33.7l.5 14l.5-34.4l.5 15.2l.5-33.5l.5 15.2l.5-33.3l.5 18.5l.5-34.9l.5 21.2l.5-36.4l.5 26.7l.5-37.2l.5 33l.5-40.9l.5 37.5l.5-40.9l.5 41l.5-36.9l.5 38.2l.5-31.8l.5 38.2l.5-25.5l.5 34.4l.5-21.4l.5 35.4l.5-18.4l.5 34.1l.5-15.9l.5 33.3l.5-14.4l.5 32.4l.5-13l.5 32.8l.5-13.9l.5 32.1l.5-15.2l.5 32.7l.5-19.4l.5 35.7l.5-25l.5 37.2l.5-28.2l.5 37.2l.5-32.6l.5 39.9l.5-38.6l.5 38.4l.5-40.5l.5 34.4l.5-38.7l.5 29l.5-35.4l.5 21.7l.5-33.2l.5 17.9l.5-33.4l.5 15.8l.5-31.2l.5 12.1l.5-30.9l.5 12l.5-32.2l.5 12.6l.5-31.3l.5 13.3l.5-31.6l.5 15.6l.5-33l.5 21l.5-35.4l.5 24.4l.5-33.9l.5 29.6l.5-38.4l.5 34.7l.5-36.7l.5 38.2l.5-35.9l.5 38l.5-29.8l.5 35.5l.5-25.7l.5 34l.5-19.2l.5 32.1l.5-14.8l.5 30.6l.5-12.5l.5 29.5l.5-9.9l.5 28.8l.5-9.5l.5 29.2l.5-10l.5 28.1l.5-12.2l.5 29.8l.5-15.3l.5 31.1l.5-19.2l.5 32.4l.5-24.5l.5 34.2l.5-31.8l.5 38.8l.5-38.1l.5 37.7l.5-37.1l.5 29.5l.5-34.7l.5 26.6l.5-32.9l.5 19l.5-31.2l.5 16l.5-30l.5 11.3l.5-27.4l.5 9.5l.5-28l.5 8.7l.5-28.1l.5 8.8l.5-28.6l.5 10.5l.5-28.2l.5 13.1l.5-30.6l.5 17.2l.5-30.6l.5 21.4l.5-32l.5 24.8l.5-33.1l.5 31.4l.5-36.1l.5 35.7l.5-30.9l.5 34.6l.5-27.5l.5 32.2l.5-19.7l.5 29.5l.5-15.7l.5 28.5l.5-11.2l.5 26.7l.5-9.4l.5 26.5l.5-6.5l.5 26.3l.5-6.9l.5 25.9l.5-7.5l.5 26.6l.5-10.5l.5 26.9l.5-11.8l.5 27.9l.5-17.7l.5 30.9l.5-23l.5 33.5l.5-28.6l.5 33.2l.5-33l.5 33.8l.5-35l.5 27.9l.5-31.1l.5 21.3l.5-29.3l.5 17.2l.5-28.8l.5 12.4l.5-25.9l.5 8.5l.5-25l.5 6.1l.5-25.4l.5 5.7l.5-24.9l.5 6.2l.5-24.2l.5 6.7l.5-25.4l.5 10l.5-27.4l.5 14.4l.5-27.4l.5 17l.5-28.6l.5 23.5l.5-33.6l.5 32.4l.5-33.9l.5 33.2l.5-31.4l.5 33.7l.5-23.6l.5 28.5l.5-17.8l.5 27.6l.5-13.2l.5 25.3l.5-8.7l.5 24.8l.5-6.3l.5 23.8l.5-4.4l.5 23.3l.5-4.1l.5 22.9l.5-4.7l.5 23.9l.5-7.2l.5 24.9l.5-10.7l.5 26.4l.5-13.9l.5 26.6l.5-20l.5 30.6l.5-26.1l.5 31.7l.5-31.3l.5 30.4l.5-31.1l.5 25.2l.5-27.9l.5 17.3l.5-25.4l.5 13l.5-24.6l.5 9.1l.5-23.3l.5 5.9l.5-23.1l.5 3.5l.5-21.5l.5 2.9l.5-22.5l.5 3.5l.5-21.9l.5 3.6l.5-21.7l.5 5.8l.5-23.3l.5 11.2l.5-24.5l.5 14.7l.5-26l.5 21.3l.5-30.6l.5 28.7l.5-31.8l.5 31.8l.5-29.7l.5 29.7l.5-19.1l.5 25.2l.5-13.9l.5 23.1l.5-9.3l.5 22.7l.5-6.2l.5 21.4l.5-2.5l.5 20.6l.5-1.8l.5 20.2l.5-1.4l.5 21.1l.5-2.6l.5 21.2l.5-4.3l.5 21.6l.5-7.2l.5 22.5l.5-10.3l.5 23.1l.5-15.6l.5 26.3l.5-24.2l.5 30.3l.5-29.9l.5 29.6l.5-29.1l.5 22.9l.5-25.8l.5 15.5l.5-23.9l.5 11.4l.5-22.2l.5 6.7l.5-21.1l.5 2.9l.5-19.8l.5 1.1l.5-19.9l.5 1l.5-19.5l.5 .7l.5-19.6l.5 1.9l.5-20.1l.5 3.8l.5-20.4l.5 7.7l.5-21.7l.5 12.3l.5-24.2l.5 18.6l.5-26.7l.5 25.9l.5-30.7l.5 29.9l.5-25.1l.5 26.9l.5-18.3l.5 23l.5-11.6l.5 21.1l.5-6.6l.5 20.2l.5-4.2l.5 19.5l.5-1.1l.5 19.2l.5-.4l.5 18.8l.5 .5l.5 18.6l.5 .1l.5 19.1l.5-2.6l.5 20l.5-5.2l.5 19.9l.5-8.3l.5 21.6l.5-13.6l.5 22.9l.5-20.2l.5 27.4l.5-26.7l.5 27.7l.5-29l.5 22l.5-24.1l.5 13.2l.5-21.2l.5 8.2l.5-19.9l.5 4.6l.5-19.2l.5 2l.5-18.8l.5-.1l.5-17.8l.5-1.4l.5-17.8l.5-.8l.5-18.1l.5-.1l.5-18.5l.5 2.6l.5-18.8l.5 6.2l.5-20.1l.5 9.7l.5-21.5l.5 15.7l.5-24.2l.5 23.8l.5-27.5l.5 27.6l.5-23.1l.5 24.5l.5-16.2l.5 21.3l.5-10.4l.5 20l.5-5.4l.5 18.2l.5-2l.5 17.6l.5 .5l.5 17.7l.5 1.4l.5 17.5l.5 1.5l.5 17.7l.5 .9l.5 17.4l.5 0l.5 17.1l.5-2.6l.5 18.5l.5-6.9l.5 19.2l.5-12l.5 22.1l.5-18.5l.5 25.7l.5-25l.5 24.8l.5-25.5l.5 18.5l.5-21.2l.5 10.8l.5-19.3l.5 6.9l.5-18.5l.5 3.2l.5-17.4l.5-.2l.5-16.7l.5-2l.5-16.6l.5-2.2l.5-16.6l.5-2.5l.5-16.5l.5-1.5l.5-16.5l.5 1l.5-17.4l.5 4l.5-18.3l.5 8.2l.5-19.5l.5 13.7l.5-22.4l.5 21.5l.5-24.8l.5 24.5l.5-19.9l.5 21.5l.5-13.5l.5 18.8l.5-7.7l.5 17.7l.5-3.6l.5 16.9l.5-.2l.5 15.6l.5 2.4l.5 15.4l.5 3.2l.5 16l.5 3.2l.5 15.8l.5 2.7l.5 15.8l.5 1.4l.5 15.9l.5-1.1l.5 16.1l.5-4.6l.5 17.1l.5-8.7l.5 19.1l.5-15.9l.5 21.6l.5-21.4l.5 21.8l.5-22.6l.5 16.2l.5-19.3l.5 8.9l.5-16.8l.5 4.1l.5-15.8l.5 .8l.5-15l.5-2.3l.5-15l.5-3.4l.5-14.9l.5-4.1l.5-14.9l.5-4.2l.5-14.7l.5-3.2l.5-14.6l.5-1.2l.5-15.2l.5 1.7l.5-15.6l.5 5.5l.5-17l.5 11.4l.5-19.8l.5 18.1l.5-21.5l.5 21.4l.5-17.4l.5 19.3l.5-11l.5 16.9l.5-5.4l.5 15.3l.5-1.7l.5 14.7l.5 1.4l.5 14.7l.5 3.2l.5 14.5l.5 4.5l.5 14.6l.5 4.5l.5 14.5l.5 4l.5 14.4l.5 2.7l.5 14.2l.5 .5l.5 14.9l.5-3.2l.5 15.2l.5-7l.5 16.8l.5-13.5l.5 19.3l.5-18.6l.5 18.6l.5-19.7l.5 13.7l.5-16.5l.5 6.6l.5-14.6l.5 2.7l.5-14.5l.5-.9l.5-13.9l.5-3.2l.5-13.9l.5-4.4l.5-14.2l.5-4.7l.5-14.2l.5-4.7l.5-14.2l.5-3.8l.5-13.9l.5-2.2l.5-14l.5 1l.5-14.2l.5 4.1l.5-15.1l.5 8.7l.5-16.8l.5 15.5l.5-19.1l.5 19.3l.5-15.6l.5 16.4l.5-8.7l.5 14.7l.5-3.8l.5 14.1l.5-.3l.5 14l.5 2.4l.5 13.2l.5 4.4l.5 13.5l.5 5.3l.5 13.8l.5 5.3l.5 13.6l.5 4.7l.5 13.7l.5 3.6l.5 13.4l.5 1.5l.5 13.1l.5-1.5l.5 13.6l.5-4.9l.5 14.1l.5-10.1l.5 16l.5-15.2l.5 15.5l.5-17l.5 10.9l.5-14.1l.5 5l.5-13.7l.5 1.2l.5-12.8l.5-1.8l.5-13.1l.5-3.9l.5-13.2l.5-5.1l.5-13.4l.5-5.7l.5-13.4l.5-5.4l.5-13.1l.5-4.7l.5-13.2l.5-3.2l.5-12.7l.5-.5l.5-12.8l.5 2.5l.5-13.2l.5 7l.5-14.6l.5 12.6l.5-15.6l.5 15.2l.5-12.4l.5 14.7l.5-6.8l.5 13l.5-2.1l.5 12.3l.5 .9l.5 12.7l.5 3.3l.5 12.5l.5 5.3l.5 12.6l.5 5.9l.5 13l.5 6.1l.5 12.9l.5 5.7l.5 12.4l.5 4.5l.5 12.5l.5 2.4l.5 12.1l.5 0l.5 12.2l.5-3.6l.5 12.9l.5-9.4l.5 15.2l.5-13.6l.5 13.2l.5-13.9l.5 8.4l.5-13.1l.5 3.5l.5-11.9l.5 .1l.5-11.8l.5-3.1l.5-11.9l.5-4.8l.5-12.2l.5-6l.5-12.6l.5-6.4l.5-12.5l.5-6.5l.5-12.2l.5-5.7l.5-11.9l.5-4l.5-11.8l.5-1.8l.5-11.4l.5 .8l.5-11.2l.5 5.1l.5-12.5l.5 10.1l.5-13.5l.5 13.2l.5-10.1l.5 12.8l.5-4.8l.5 11.1l.5-.6l.5 10.9l.5 2.2l.5 11.3l.5 4.5l.5 11.5l.5 6.1l.5 11.8l.5 6.7l.5 12.2l.5 6.9l.5 12.1l.5 6.4l.5 11.6l.5 5.5l.5 11.3l.5 3.6l.5 10.9l.5 1.5l.5 10.1l.5-1.7l.5 10.6l.5-5.9l.5 11.3l.5-10.2l.5 10.4l.5-11.9l.5 6.3l.5-10.3l.5 1.4l.5-10l.5-2l.5-10.4l.5-4.1l.5-10.7l.5-5.9l.5-11.3l.5-6.9l.5-11.6l.5-7.3l.5-11.5l.5-7.2l.5-11.4l.5-6.6l.5-10.9l.5-5.3l.5-10.4l.5-3.2l.5-9.9l.5-.9l.5-9.1l.5 2.7l.5-10l.5 7.5l.5-10.2l.5 9.7l.5-6.8l.5 9.6l.5-2.4l.5 9.2l.5 1l.5 9.6l.5 3.4l.5 10.3l.5 5.3l.5 10.7l.5 6.8l.5 11.2l.5 7.3l.5 11.4l.5 7.6l.5 11.3l.5 7.2l.5 10.8l.5 6.4l.5 10.3l.5 4.5l.5 9.8l.5 2.6l.5 9.2l.5-.3l.5 8.7l.5-4l.5 9.1l.5-8.3l.5 8.2l.5-9.1l.5 4l.5-8.6l.5 0l.5-8.8l.5-2.8l.5-9.6l.5-4.7l.5-10.2l.5-6.4l.5-10.9l.5-7.2l.5-11.1l.5-7.7l.5-11.2l.5-7.6l.5-11l.5-6.9l.5-10.4l.5-5.8l.5-9.8l.5-3.9l.5-9.1l.5-1.8l.5-8.1l.5 1.5l.5-8.2l.5 5.4l.5-8.1l.5 7.6l.5-5.1l.5 8.3l.5-1.4l.5 8.1l.5 1.9l.5 8.9l.5 4.2l.5 9.6l.5 5.8l.5 10.4l.5 7l.5 10.8l.5 7.7l.5 11.2l.5 7.7l.5 11.1l.5 7.4l.5 10.5l.5 6.6l.5 10l.5 5l.5 9.2l.5 3.3l.5 8.1l.5 .8l.5 7.8l.5-2.7l.5 7.4l.5-6.1l.5 5.9l.5-7.2l.5 2.5l.5-7.6l.5-.9l.5-7.9l.5-3.5l.5-8.9l.5-5.3l.5-9.8l.5-6.7l.5-10.6l.5-7.4l.5-10.9l.5-8l.5-10.9l.5-7.8l.5-10.7l.5-7.2l.5-10.2l.5-6l.5-9.4l.5-4.5l.5-8.3l.5-2.6l.5-7.3l.5 .3l.5-6.7l.5 3.3l.5-5.7l.5 5.6l.5-3.3l.5 6.5l.5 .2l.5 7l.5 2.8l.5 8.2l.5 4.5l.5 9.2l.5 6.3l.5 10l.5 7.3l.5 10.6l.5 7.9l.5 10.9l.5 8l.5 10.8l.5 7.7l.5 10.3l.5 6.8l.5 9.7l.5 5.6l.5 8.5l.5 4l.5 7.4l.5 1.7l.5 6.3l.5-1l.5 5.5l.5-3.6l.5 3.3l.5-5l.5 .7l.5-6.2l.5-1.9l.5-7.2l.5-4.1l.5-8.4l.5-5.7l.5-9.5l.5-7l.5-10.2l.5-7.7l.5-10.7l.5-8.1l.5-10.8l.5-8l.5-10.5l.5-7.4l.5-9.9l.5-6.5l.5-8.9l.5-5l.5-7.7l.5-3.3l.5-6.2l.5-1.2l.5-5l.5 1.3l.5-3.4l.5 3.3l.5-1.1l.5 4.8l.5 1.3l.5 6.1l.5 3.5l.5 7.5l.5 5.2l.5 8.8l.5 6.6l.5 9.7l.5 7.6l.5 10.3l.5 8.2l.5 10.6l.5 8.3l.5 10.5l.5 7.9l.5 10.1l.5 7.1l.5 9.2l.5 6.1l.5 8l.5 4.6l.5 6.6l.5 2.7l.5 5.1l.5 .7l.5 3.2l.5-1.3l.5 1.4l.5-3.2l.5-.9l.5-4.9l.5-2.9l.5-6.4l.5-4.7l.5-7.9l.5-6.2l.5-9l.5-7.4l.5-9.9l.5-8.1l.5-10.4l.5-8.4l.5-10.5l.5-8.2l.5-10.3l.5-7.7l.5-9.5l.5-6.9l.5-8.4l.5-5.5l.5-7.2l.5-3.9l.5-5.6l.5-2l.5-3.9l.5 0l.5-2l.5 2l.5 0l.5 3.9l.5 2l.5 5.5l.5 4l.5 7.1l.5 5.6l.5 8.4l.5 6.9l.5 9.5l.5 7.8l.5 10.1l.5 8.3l.5 10.5l.5 8.4l.5 10.3l.5 8.2l.5 9.9l.5 7.4l.5 8.9l.5 6.4l.5 7.7l.5 4.9l.5 6.2l.5 3.1l.5 4.7l.5 1.1l.5 2.8l.5-.9l.5 .9l.5-2.8l.5-1.1l.5-4.6l.5-3.2l.5-6.2l.5-5l.5-7.7l.5-6.3l.5-8.9l.5-7.5l.5-9.7l.5-8.2l.5-10.3l.5-8.6l.5-10.3l.5-8.4l.5-10.1l.5-7.9l.5-9.3l.5-7.1l.5-8.3l.5-5.6l.5-7l.5-4.1l.5-5.4l.5-2.2l.5-3.7l.5-.2l.5-1.8l.5 1.8l.5 .2l.5 3.6l.5 2.4l.5 5.2l.5 4.2l.5 6.9l.5 5.8l.5 8.2l.5 7.1l.5 9.3l.5 8l.5 9.9l.5 8.6l.5 10.2l.5 8.6l.5 10.2l.5 8.3l.5 9.7l.5 7.6l.5 8.7l.5 6.5l.5 7.6l.5 5l.5 6.1l.5 3.4l.5 4.4l.5 1.3l.5 2.6l.5-.7l.5 .7l.5-2.6l.5-1.4l.5-4.3l.5-3.4l.5-6l.5-5.2l.5-7.5l.5-6.5l.5-8.7l.5-7.7l.5-9.6l.5-8.4l.5-10l.5-8.7l.5-10.2l.5-8.6l.5-9.9l.5-8.1l.5-9.1l.5-7.2l.5-8.1l.5-6l.5-6.7l.5-4.3l.5-5.1l.5-2.6l.5-3.3l.5-.6l.5-1.5l.5 1.6l.5 .4l.5 3.4l.5 2.6l.5 5l.5 4.4l.5 6.7l.5 6l.5 8l.5 7.3l.5 9.1l.5 8.2l.5 9.7l.5 8.8l.5 10l.5 8.8l.5 10l.5 8.5l.5 9.5l.5 7.8l.5 8.5l.5 6.7l.5 7.4l.5 5.2l.5 5.9l.5 3.6l.5 4.1l.5 1.7l.5 2.3l.5-.4l.5 .3l.5-2.2l.5-1.7l.5-4.1l.5-3.6l.5-5.8l.5-5.3l.5-7.3l.5-6.8l.5-8.5l.5-7.9l.5-9.3l.5-8.7l.5-9.8l.5-8.9l.5-10l.5-8.8l.5-9.7l.5-8.3l.5-8.9l.5-7.4l.5-7.9l.5-6.2l.5-6.5l.5-4.6l.5-4.8l.5-2.8l.5-3.1l.5-.8l.5-1.2l.5 1.2l.5 .8l.5 3.1l.5 2.8l.5 4.8l.5 4.6l.5 6.5l.5 5.9l.5 11.1l.5 2.9l.5 15.2l.5 1.6l.5 17.1l.5-.6l.5 19.5l.5-3.2l.5 20.9l.5-6.1l.5 22.3l.5-8.8l.5 24.2l.5-12.2l.5 24.3l.5-13.5l.5 25l.5-18.4l.5 25.4l.5-21.2l.5 32.9l.5-34.5l.5 35.5l.5-33.9l.5 22.4l.5-26.5l.5 17.6l.5-24.5l.5 14.7l.5-24.3l.5 11.3l.5-24.1l.5 8.2l.5-23.1l.5 7.6l.5-23.4l.5 7.7l.5-24l.5 7.4l.5-23l.5 7.2l.5-23.2l.5 9.7l.5-23.8l.5 12.6l.5-23.6l.5 15.4l.5-24.4l.5 18.1l.5-29.1l.5 28.1l.5-35.2l.5 35.8l.5-27.4l.5 27.2l.5-18.8l.5 24.8l.5-14.6l.5 24.5l.5-13.7l.5 24.9l.5-10.1l.5 23.3l.5-8.6l.5 23.4l.5-6.5l.5 22.5l.5-6.9l.5 23.9l.5-8.1l.5 23.7l.5-8.2l.5 23.7l.5-11.9l.5 24.3l.5-13.2l.5 23.2l.5-16.7l.5 25.6l.5-21.1l.5 33.7l.5-35.1l.5 34.1l.5-33.7l.5 21.8l.5-25.4l.5 17l.5-23.6l.5 13.4l.5-24.1l.5 11.7l.5-24.3l.5 9.4l.5-24.1l.5 7.7l.5-22.7l.5 6.1l.5-22.9l.5 6.8l.5-23.1l.5 8.3l.5-24.1l.5 10.2l.5-23.4l.5 12.3l.5-24.2l.5 15.3l.5-24.4l.5 18.3l.5-28.4l.5 27.4l.5-34.3l.5 34.3l.5-27.5l.5 28.7l.5-18.4l.5 24l.5-15.2l.5 23.8l.5-12l.5 23.7l.5-9.5l.5 23.2l.5-7.9l.5 23.2l.5-7.2l.5 23.6l.5-6.7l.5 22.2l.5-6.2l.5 22.3l.5-7.8l.5 23.3l.5-11.3l.5 24.5l.5-14.5l.5 24.3l.5-16.3l.5 24.3l.5-21.2l.5 33.6l.5-32.9l.5 31.8l.5-31.4l.5 19.5l.5-23.8l.5 16.6l.5-24.1l.5 13.4l.5-23l.5 10.6l.5-23.1l.5 7.6l.5-23.1l.5 7.1l.5-23l.5 6.6l.5-22.4l.5 6.4l.5-22.6l.5 7.2l.5-22.7l.5 8.7l.5-22.6l.5 11.3l.5-23l.5 14.6l.5-24.6l.5 18.2l.5-25.6l.5 24l.5-33.3l.5 33.3l.5-24.1l.5 26.3l.5-18.5l.5 24.2l.5-14.7l.5 23.2l.5-11.8l.5 23l.5-8.4l.5 22.2l.5-7.2l.5 22.4l.5-5.7l.5 21.8l.5-5.5l.5 22l.5-6.6l.5 22.6l.5-8.2l.5 23.9l.5-10.3l.5 22.9l.5-13.8l.5 24l.5-15.4l.5 23l.5-18.9l.5 29l.5-29.8l.5 29.8l.5-29.1l.5 19.2l.5-23.4l.5 15.1l.5-22.4l.5 12.5l.5-23.2l.5 10.4l.5-23.4l.5 8.7l.5-23.1l.5 7.2l.5-22.4l.5 5.7l.5-22.4l.5 6.4l.5-23.2l.5 7.2l.5-22l.5 8.8l.5-23.4l.5 12l.5-23.4l.5 13.8l.5-23.1l.5 17l.5-25.8l.5 25.9l.5-34.6l.5 34l.5-24.3l.5 25.3l.5-17.1l.5 23.3l.5-14.8l.5 23.6l.5-11.1l.5 23l.5-9.2l.5 22.3l.5-7.3l.5 22.4l.5-6.2l.5 22.9l.5-6.3l.5 22.5l.5-6.4l.5 22.3l.5-7.9l.5 22.9l.5-10l.5 22.7l.5-12.1l.5 22.3l.5-15.1l.5 23l.5-18.7l.5 29.9l.5-30.3l.5 28.9l.5-29.3l.5 20.7l.5-23.4l.5 14l.5-22.8l.5 12.4l.5-21.7l.5 8.8l.5-21.9l.5 7.9l.5-22.8l.5 6.3l.5-22l.5 5.7l.5-21.6l.5 5.6l.5-21.9l.5 6.6l.5-22.1l.5 7.9l.5-21.8l.5 11.2l.5-22.7l.5 13.6l.5-22.9l.5 16.1l.5-25.3l.5 24.3l.5-31.6l.5 30.7l.5-24l.5 26l.5-17l.5 23.7l.5-14.5l.5 23l.5-11.2l.5 22.5l.5-8.3l.5 21.6l.5-5.5l.5 21.7l.5-6l.5 22l.5-5.8l.5 22.5l.5-6.1l.5 21.6l.5-7.6l.5 22.6l.5-9.5l.5 21.9l.5-11.7l.5 22.5l.5-14.5l.5 22.9l.5-18.7l.5 28.9l.5-28.8l.5 27.2l.5-27.3l.5 18.6l.5-22.5l.5 14l.5-22.6l.5 12.6l.5-22.2l.5 9.4l.5-21.8l.5 6.1l.5-21.5l.5 6.1l.5-22l.5 5.6l.5-21.6l.5 5l.5-21.5l.5 6.2l.5-21.4l.5 8.2l.5-22.1l.5 10l.5-21.7l.5 13.4l.5-22.2l.5 15.5l.5-25l.5 22.9l.5-29.4l.5 30.6l.5-23.9l.5 24.8l.5-15.4l.5 20.9l.5-11.9l.5 20.9l.5-9.7l.5 21.9l.5-8.3l.5 21.9l.5-5.8l.5 21.4l.5-5l.5 20.7l.5-4.9l.5 22l.5-5.7l.5 21.3l.5-6.1l.5 21.4l.5-9.2l.5 22.1l.5-11.4l.5 20.8l.5-13.7l.5 21.7l.5-17.5l.5 28.7l.5-29.2l.5 28.6l.5-27.7l.5 18.1l.5-22.4l.5 14.1l.5-21.6l.5 10.7l.5-21.6l.5 8.4l.5-21.1l.5 7.1l.5-21.1l.5 5l.5-21.3l.5 4.5l.5-21.2l.5 5.2l.5-21.5l.5 5.5l.5-20.3l.5 6.7l.5-20.7l.5 9.3l.5-21.3l.5 12.3l.5-21.4l.5 15.4l.5-24.3l.5 21.7l.5-27.5l.5 28.6l.5-22.2l.5 23.7l.5-15.6l.5 21.9l.5-12l.5 20.4l.5-9.6l.5 21.1l.5-6.6l.5 20.9l.5-5.1l.5 20.4l.5-4.1l.5 20.1l.5-4.1l.5 20.4l.5-3.9l.5 19.7l.5-5.5l.5 20.9l.5-8l.5 20.6l.5-10.2l.5 20.8l.5-12.3l.5 20l.5-16.2l.5 26.4l.5-25.9l.5 25.5l.5-25.9l.5 16.3l.5-20.3l.5 11.8l.5-19.9l.5 10.4l.5-20.3l.5 6.9l.5-19.8l.5 4.6l.5-19.8l.5 4.2l.5-20l.5 3.6l.5-20.5l.5 4.5l.5-20.6l.5 4.3l.5-20l.5 6l.5-20l.5 8.5l.5-19.6l.5 11l.5-20.4l.5 14.4l.5-22.3l.5 20l.5-26.5l.5 26.9l.5-19.8l.5 20.8l.5-12.8l.5 19.7l.5-11l.5 19.4l.5-7.8l.5 19.4l.5-5.4l.5 19.5l.5-3.8l.5 19.3l.5-2.9l.5 19.8l.5-4l.5 20.3l.5-3.4l.5 18.9l.5-4.6l.5 19.7l.5-6.8l.5 19.6l.5-9.4l.5 20.3l.5-12.1l.5 19.2l.5-15l.5 23.9l.5-23.1l.5 23.2l.5-23.9l.5 15.1l.5-19.2l.5 10.9l.5-18.3l.5 8.7l.5-20l.5 7l.5-19.8l.5 4.8l.5-19l.5 2.6l.5-18.8l.5 2.9l.5-20l.5 3.5l.5-19.1l.5 3.5l.5-19.7l.5 5.2l.5-18.5l.5 6.8l.5-19.2l.5 10l.5-18.5l.5 12.8l.5-20.6l.5 17.8l.5-25.5l.5 25.9l.5-17.8l.5 19.2l.5-11.8l.5 18.8l.5-9.5l.5 18.9l.5-7l.5 18.1l.5-4.7l.5 18.7l.5-3l.5 18.9l.5-2.9l.5 19.4l.5-2.7l.5 18.9l.5-2.7l.5 18.7l.5-4l.5 18.7l.5-5.2l.5 18.6l.5-8.1l.5 18l.5-10.2l.5 17.6l.5-13.9l.5 23.4l.5-22.6l.5 22.4l.5-22.1l.5 12.7l.5-17.4l.5 9.7l.5-18l.5 7.9l.5-17.8l.5 5.4l.5-18.7l.5 3.4l.5-18l.5 1.9l.5-18.3l.5 2.4l.5-19l.5 2.4l.5-19l.5 3.3l.5-18.3l.5 4.3l.5-18.1l.5 5.9l.5-17.7l.5 8.6l.5-17l.5 10.3l.5-18.9l.5 17.1l.5-22.9l.5 23.2l.5-16.9l.5 18.8l.5-11.1l.5 16.9l.5-8.4l.5 17.6l.5-5.9l.5 18.4l.5-3.9l.5 17.8l.5-2.4l.5 18l.5-2.1l.5 18.2l.5-1.3l.5 18.2l.5-1.8l.5 17.5l.5-3.1l.5 17.9l.5-4.2l.5 16.8l.5-6.3l.5 16.7l.5-9l.5 16.6l.5-12.4l.5 20.1l.5-19l.5 19.7l.5-20.6l.5 12l.5-15.8l.5 8.9l.5-17.2l.5 6.7l.5-17.1l.5 4.6l.5-17.6l.5 2.6l.5-17.7l.5 1.4l.5-17.9l.5 1.6l.5-18.4l.5 1.6l.5-17.8l.5 1.8l.5-16.8l.5 2.9l.5-17.5l.5 5.5l.5-16.5l.5 6.7l.5-15.7l.5 9.8l.5-17.6l.5 15l.5-20.8l.5 21.1l.5-14.7l.5 16.5l.5-9.1l.5 16.1l.5-7.3l.5 16.1l.5-4.3l.5 16.4l.5-3.1l.5 17.6l.5-1.9l.5 17.2l.5-.9l.5 17.8l.5-1.1l.5 17.3l.5-1.1l.5 17.1l.5-1.8l.5 17.2l.5-3.7l.5 16.2l.5-5.9l.5 15.7l.5-7.1l.5 15.5l.5-11.7l.5 18.5l.5-17.9l.5 18.3l.5-18.4l.5 10.6l.5-14.8l.5 7.5l.5-15.9l.5 5.5l.5-16.4l.5 3.7l.5-16.8l.5 1.7l.5-16.8l.5 1l.5-17l.5 .4l.5-17l.5 .3l.5-16.8l.5 .9l.5-16.3l.5 2l.5-16.3l.5 4.7l.5-15.7l.5 5.4l.5-14.7l.5 8.8l.5-16l.5 14l.5-20l.5 19.9l.5-13.8l.5 15.6l.5-8l.5 14.4l.5-5.9l.5 15.2l.5-3.8l.5 15.9l.5-1.8l.5 16.5l.5-.8l.5 16.3l.5-.3l.5 16.7l.5 .6l.5 16.1l.5 0l.5 16.1l.5-1l.5 16.1l.5-3.1l.5 15.9l.5-4.9l.5 15.1l.5-6.6l.5 14.4l.5-10.2l.5 17.1l.5-16.3l.5 16.9l.5-17.8l.5 9.9l.5-14.1l.5 6.5l.5-14.4l.5 4.4l.5-15.9l.5 3.1l.5-15.9l.5 1l.5-16.4l.5 .1l.5-16.2l.5-.6l.5-16.3l.5-.3l.5-15.9l.5 .3l.5-15.8l.5 1.6l.5-15.7l.5 3.5l.5-14.7l.5 5l.5-14l.5 7.6l.5-14.5l.5 11.7l.5-16.8l.5 17.1l.5-12.7l.5 14.6l.5-6.8l.5 13.7l.5-5.2l.5 14.6l.5-2.9l.5 15.2l.5-1.1l.5 15.4l.5-.3l.5 16.1l.5 .3l.5 16.5l.5 .4l.5 16.3l.5 .4l.5 15.5l.5-.7l.5 15.4l.5-2.1l.5 15.3l.5-4.4l.5 14.2l.5-5.4l.5 12.7l.5-8.7l.5 16.7l.5-15.5l.5 14.5l.5-15.3l.5 8.3l.5-13.2l.5 6.2l.5-14.3l.5 3.6l.5-14l.5 1.4l.5-15.3l.5 .6l.5-15.7l.5-.4l.5-15.5l.5-1.4l.5-15.6l.5-1.2l.5-15.1l.5-.6l.5-15.1l.5 .8l.5-14.7l.5 2.4l.5-13.9l.5 4.3l.5-12.9l.5 6.2l.5-13.6l.5 11.4l.5-16.2l.5 15.7l.5-10.9l.5 13.3l.5-6.3l.5 13.2l.5-4.1l.5 13.6l.5-2l.5 14.3l.5-.5l.5 14.5l.5 1.2l.5 14.8l.5 1.7l.5 15.3l.5 1.1l.5 15.6l.5 1.2l.5 15l.5 .1l.5 14.7l.5-1.2l.5 13.6l.5-2.9l.5 13.2l.5-5.1l.5 13l.5-8.3l.5 14.8l.5-13.5l.5 14l.5-14.9l.5 7.6l.5-12.6l.5 5.3l.5-13.5l.5 2.9l.5-13.7l.5 1.2l.5-14.7l.5-.3l.5-14.6l.5-1.6l.5-14.8l.5-1.8l.5-15.1l.5-1.6l.5-14.9l.5-1.4l.5-14.3l.5 .2l.5-13.9l.5 1.7l.5-13.5l.5 3.7l.5-12.3l.5 5.2l.5-12.5l.5 9.9l.5-14.3l.5 14.9l.5-10l.5 12.2l.5-5.7l.5 12.2l.5-3.3l.5 12.9l.5-1.4l.5 14l.5-.2l.5 14.4l.5 1.6l.5 14.3l.5 2.3l.5 14.7l.5 2l.5 15l.5 1.9l.5 14.1l.5 1.1l.5 14l.5-.7l.5 13.3l.5-2l.5 12.5l.5-4.1l.5 11.6l.5-7.2l.5 13.4l.5-12.3l.5 12.8l.5-13.4l.5 6.5l.5-11.5l.5 4.1l.5-12.2l.5 2.2l.5-13.6l.5 .4l.5-13.6l.5-1.2l.5-14.3l.5-2l.5-14.7l.5-2.1l.5-14.5l.5-2.5l.5-14.4l.5-1.9l.5-13.8l.5-.6l.5-13.6l.5 .9l.5-12.2l.5 2.6l.5-11.8l.5 4.9l.5-11.5l.5 9.1l.5-13.4l.5 13.4l.5-9.2l.5 11.4l.5-4.5l.5 11.5l.5-2.7l.5 12.2l.5-.6l.5 12.9l.5 1.2l.5 13.7l.5 2l.5 14.2l.5 2.8l.5 13.9l.5 2.9l.5 14.3l.5 2.5l.5 13.6l.5 1.9l.5 13.1l.5 .5l.5 12.9l.5-1.4l.5 11.5l.5-3.1l.5 10.4l.5-5.4l.5 12.1l.5-11.2l.5 11l.5-12.1l.5 5.8l.5-10.8l.5 3.1l.5-11.4l.5 1.2l.5-12.2l.5-.8l.5-12.8l.5-2.1l.5-13.6l.5-2.8l.5-14l.5-3.2l.5-13.8l.5-3.1l.5-13.7l.5-2.8l.5-13.3l.5-1.3l.5-12.7l.5 .1l.5-11.8l.5 1.8l.5-10.5l.5 3.7l.5-10.7l.5 8l.5-11.5l.5 11.4l.5-7.9l.5 10.6l.5-3.6l.5 10.4l.5-1.8l.5 11.8l.5-.1l.5 12.4l.5 1.8l.5 13.2l.5 2.7l.5 13.3l.5 3.6l.5 13.8l.5 3.6l.5 13.4l.5 3.6l.5 13l.5 2.5l.5 12.6l.5 1.2l.5 11.6l.5-.2l.5 10.7l.5-2l.5 9.6l.5-4.9l.5 10.5l.5-9.3l.5 9.7l.5-10.6l.5 4.5l.5-9.7l.5 2.3l.5-10.5l.5-.1l.5-11.5l.5-1.4l.5-12.5l.5-2.5l.5-13.1l.5-3.4l.5-13.2l.5-4.2l.5-13.4l.5-4l.5-12.8l.5-3.5l.5-12.5l.5-2.1l.5-11.9l.5-.9l.5-11.1l.5 1.1l.5-9.8l.5 2.7l.5-9.6l.5 6.5l.5-10l.5 10.1l.5-6.2l.5 9l.5-2.8l.5 9.5l.5-.6l.5 11l.5 .9l.5 11.5l.5 2.7l.5 12.3l.5 3.8l.5 12.7l.5 4.2l.5 13l.5 4.5l.5 12.9l.5 4.1l.5 12.4l.5 3.5l.5 11.7l.5 2l.5 11.3l.5 .1l.5 10.4l.5-1.4l.5 8.6l.5-4l.5 9.8l.5-8.2l.5 8.2l.5-9.7l.5 4.2l.5-8.8l.5 1.2l.5-10.1l.5-.2l.5-11.1l.5-2l.5-11.8l.5-3.5l.5-12.4l.5-4.4l.5-12.7l.5-4.6l.5-12.9l.5-4.5l.5-12.6l.5-3.9l.5-12.2l.5-2.9l.5-11.3l.5-1.6l.5-10.3l.5 .2l.5-9.2l.5 2.2l.5-8.6l.5 5.4l.5-9l.5 8.9l.5-5.3l.5 8.6l.5-2.4l.5 9.4l.5-.3l.5 10.3l.5 1.5l.5 11.3l.5 2.9l.5 12.1l.5 4.3l.5 12.3l.5 4.8l.5 12.8l.5 4.6l.5 12.9l.5 4.4l.5 12.1l.5 3.8l.5 11.5l.5 2.7l.5 10.5l.5 1.2l.5 9.3l.5-1l.5 8.6l.5-3.3l.5 8.8l.5-7.7l.5 7.8l.5-9l.5 3.6l.5-8.4l.5 .9l.5-9.5l.5-1.2l.5-10.6l.5-2.6l.5-11.4l.5-3.8l.5-12.2l.5-4.7l.5-12.6l.5-5l.5-12.6l.5-4.9l.5-12.2l.5-4.5l.5-11.6l.5-3.5l.5-10.9l.5-2.2l.5-9.8l.5-.3l.5-8.7l.5 1.7l.5-8.2l.5 5.1l.5-8.5l.5 8.4l.5-4.8l.5 8.1l.5-1.9l.5 8.8l.5 .3l.5 9.7l.5 2.3l.5 10.7l.5 3.5l.5 11.6l.5 4.8l.5 11.9l.5 5.3l.5 12.5l.5 5.2l.5 12.2l.5 5l.5 12l.5 4l.5 11.4l.5 2.9l.5 10.2l.5 1.5l.5 9.1l.5-.3l.5 8l.5-3.1l.5 8.3l.5-6.9l.5 7.1l.5-8.4l.5 2.9l.5-8l.5 .4l.5-8.9l.5-1.5l.5-10.2l.5-3.2l.5-11l.5-4.4l.5-11.7l.5-5.3l.5-11.9l.5-5.7l.5-12.1l.5-5.4l.5-11.9l.5-5l.5-11.5l.5-3.6l.5-10.7l.5-2.6l.5-9.6l.5-.7l.5-8.1l.5 1.3l.5-7.6l.5 4.3l.5-7.7l.5 7.7l.5-4.2l.5 7.3l.5-1.1l.5 8.2l.5 .7l.5 9.5l.5 2.5l.5 10.5l.5 4l.5 11.3l.5 5.1l.5 11.6l.5 5.7l.5 12.1l.5 5.7l.5 11.9l.5 5.6l.5 11.5l.5 4.5l.5 10.9l.5 3.5l.5 9.8l.5 1.9l.5 8.8l.5 .1l.5 7.5l.5-2.3l.5 7.3l.5-5.8l.5 5.7l.5-7.1l.5 2.2l.5-7.6l.5 0l.5-8.6l.5-1.9l.5-9.9l.5-3.6l.5-10.7l.5-4.8l.5-11.4l.5-5.5l.5-11.9l.5-6l.5-11.8l.5-5.8l.5-11.6l.5-5.5l.5-10.9l.5-4.4l.5-10.2l.5-2.9l.5-9.2l.5-1.1l.5-7.8l.5 .6l.5-6.8l.5 3.3l.5-6.2l.5 6.4l.5-3.5l.5 6.6l.5-.6l.5 7.9l.5 1.2l.5 9.2l.5 2.9l.5 10.1l.5 4.4l.5 10.9l.5 5.6l.5 11.4l.5 6.2l.5 11.6l.5 6.2l.5 11.5l.5 5.9l.5 11.1l.5 5.1l.5 10.6l.5 4l.5 9.3l.5 2.4l.5 8.2l.5 .7l.5 6.8l.5-1.5l.5 6.4l.5-4.7l.5 5l.5-6.6l.5 1.7l.5-7l.5-.6l.5-8.2l.5-2.4l.5-9.4l.5-4.1l.5-10.3l.5-5.3l.5-10.9l.5-6.2l.5-11.5l.5-6.3l.5-11.6l.5-6.3l.5-11.2l.5-5.7l.5-10.7l.5-4.8l.5-9.9l.5-3.5l.5-8.7l.5-1.6l.5-7.4l.5 .1l.5-6.3l.5 2.9l.5-5.8l.5 5.9l.5-2.8l.5 6.2l.5-.2l.5 7.3l.5 1.7l.5 8.7l.5 3.4l.5 9.9l.5 4.8l.5 10.5l.5 6l.5 11l.5 6.7l.5 11.3l.5 6.6l.5 11.3l.5 6.3l.5 10.8l.5 5.7l.5 10l.5 4.3l.5 9.2l.5 2.8l.5 7.8l.5 1.1l.5 6.4l.5-1l.5 5.8l.5-4.1l.5 3.9l.5-5.5l.5 .9l.5-6.2l.5-1.2l.5-7.8l.5-2.9l.5-9l.5-4.4l.5-10.1l.5-5.7l.5-10.7l.5-6.5l.5-11.1l.5-6.8l.5-11.3l.5-6.6l.5-11l.5-6.2l.5-10.2l.5-5.3l.5-9.5l.5-3.9l.5-8.4l.5-2.1l.5-6.9l.5-.4l.5-5.7l.5 2.3l.5-4.9l.5 4.9l.5-2.1l.5 5.5l.5 .3l.5 7l.5 2.2l.5 8.2l.5 3.9l.5 9.5l.5 5.3l.5 10.2l.5 6.3l.5 10.8l.5 7l.5 11l.5 7.1l.5 10.9l.5 6.8l.5 10.4l.5 6l.5 9.8l.5 4.8l.5 8.7l.5 3.4l.5 7.3l.5 1.6l.5 6l.5-.6l.5 5.2l.5-3.4l.5 3.1l.5-4.8l.5 .5l.5-5.9l.5-1.6l.5-7.3l.5-3.5l.5-8.5l.5-4.9l.5-9.7l.5-6.1l.5-10.5l.5-6.9l.5-10.8l.5-7.2l.5-10.9l.5-7.1l.5-10.6l.5-6.7l.5-10l.5-5.6l.5-9.2l.5-4.3l.5-7.9l.5-2.7l.5-6.5l.5-.9l.5-4.9l.5 1.4l.5-4l.5 4l.5-1.5l.5 5l.5 .9l.5 6.4l.5 2.8l.5 7.8l.5 4.3l.5 9.2l.5 5.7l.5 9.9l.5 6.8l.5 10.4l.5 7.3l.5 10.9l.5 7.4l.5 10.7l.5 7.1l.5 10.2l.5 6.3l.5 9.5l.5 5.2l.5 8.4l.5 3.8l.5 7l.5 2.1l.5 5.4l.5 .1l.5 4.1l.5-2.3l.5 2.5l.5-4.2l.5-.1l.5-5.5l.5-2.1l.5-6.8l.5-4l.5-8.2l.5-5.4l.5-9.3l.5-6.5l.5-10.2l.5-7.2l.5-10.5l.5-7.6l.5-10.7l.5-7.5l.5-10.4l.5-6.9l.5-9.7l.5-6.1l.5-8.8l.5-4.8l.5-7.5l.5-3.2l.5-5.9l.5-1.4l.5-4.5l.5 .7l.5-2.9l.5 2.9l.5-.8l.5 4.5l.5 1.4l.5 5.9l.5 3.3l.5 7.5l.5 4.8l.5 8.7l.5 6.1l.5 9.7l.5 7.1l.5 10.2l.5 7.7l.5 10.5l.5 7.7l.5 10.5l.5 7.4l.5 10l.5 6.7l.5 9.2l.5 5.6l.5 8l.5 4.2l.5 6.6l.5 2.6l.5 4.9l.5 .7l.5 3.5l.5-1.8l.5 1.7l.5-3.5l.5-.6l.5-4.9l.5-2.6l.5-6.5l.5-4.4l.5-7.8l.5-5.7l.5-9.1l.5-6.9l.5-9.7l.5-7.7l.5-10.2l.5-8l.5-10.4l.5-7.8l.5-10.1l.5-7.3l.5-9.4l.5-6.4l.5-8.5l.5-5.2l.5-7.1l.5-3.6l.5-5.6l.5-1.8l.5-3.9l.5 0l.5-2.1l.5 2.2l.5-.1l.5 3.8l.5 1.9l.5 5.5l.5 3.8l.5 7l.5 5.2l.5 8.3l.5 6.6l.5 9.3l.5 7.4l.5 10l.5 8l.5 10.2l.5 8.1l.5 10.1l.5 7.9l.5 9.7l.5 7l.5 8.8l.5 6.1l.5 7.6l.5 4.6l.5 6.2l.5 2.9l.5 4.6l.5 1.1l.5 2.9l.5-.9l.5 .9l.5-2.8l.5-1.2l.5-4.5l.5-3l.5-6.1l.5-4.7l.5-7.6l.5-6.1l.5-8.7l.5-7.2l.5-9.5l.5-8l.5-10l.5-8.3l.5-10.1l.5-8.1l.5-9.8l.5-7.7l.5-9.1l.5-6.8l.5-8.1l.5-5.5l.5-6.8l.5-4l.5-5.2l.5-2.2l.5-3.6l.5-.2l.5-1.8l.5 1.8l.5 .2l.5 3.5l.5 2.3l.5 5.2l.5 3.9l.5 6.8l.5 5.6l.5 8.1l.5 6.8l.5 9.1l.5 7.7l.5 9.8l.5 8.2l.5 10l.5 8.4l.5 9.9l.5 8l.5 9.5l.5 7.4l.5 8.5l.5 6.3l.5 7.5l.5 4.8l.5 6l.5 3.2l.5 4.3l.5 1.4l.5 2.5l.5-.6l.5 .6l.5-2.5l.5-1.4l.5-4.3l.5-3.2l.5-5.9l.5-4.9l.5-7.4l.5-6.4l.5-8.5l.5-7.4l.5-9.3l.5-8.2l.5-9.9l.5-8.4l.5-10l.5-8.3l.5-9.7l.5-7.9l.5-8.9l.5-7l.5-7.9l.5-5.8l.5-6.6l.5-4.2l.5-5l.5-2.5l.5-3.3l.5-.5l.5-1.5l.5 1.5l.5 .5l.5 3.3l.5 2.5l.5 5l.5 4.2l.5 6.6l.5 5.7l.5 7.9l.5 7.1l.5 8.9l.5 7.9l.5 9.6l.5 8.4l.5 9.9l.5 8.6l.5 9.8l.5 8.2l.5 9.3l.5 7.6l.5 8.4l.5 6.5l.5 7.2l.5 5.1l.5 5.8l.5 3.5l.5 4l.5 1.7l.5 2.2l.5-.3l.5 .3l.5-2.2l.5-1.7l.5-4l.5-3.5l.5-5.7l.5-5.2l.5-7.1l.5-6.6l.5-8.3l.5-7.7l.5-9.2l.5-8.4l.5-9.6l.5-8.7l.5-9.8l.5-8.6l.5-9.5l.5-8.1l.5-8.7l.5-7.3l.5-7.7l.5-6l.5-6.4l.5-4.4l.5-4.8l.5-2.8l.5-3l.5-.8l.5-1.1l.5 1.1l.5 .8l.5 3l.5 2.8l.5 4.7l.5 4.5l.5 6.4l.5 6l.5 7.7l.5 7.3l.5 8.6l.5 8.3l.5 9.3l.5 8.7l.5 9.7l.5 8.8l.5 9.6l.5 8.5l.5 9.1l.5 7.8l.5 8.2l.5 6.8l.5 7l.5 5.3l.5 5.6l.5 3.7l.5 3.8l.5 1.9l.5 2.1l.5-.2l.5 .1l.5-2l.5-1.8l.5-3.9l.5-3.7l.5-5.5l.5-5.3l.5-7.1l.5-6.7l.5-8.3l.5-7.7l.5-9.2l.5-8.5l.5-9.6l.5-8.8l.5-9.7l.5-8.7l.5-9.4l.5-8.2l.5-8.7l.5-7.4l.5-7.6l.5-6.1l.5-6.4l.5-4.5l.5-4.7l.5-2.8l.5-3l.5-.9l.5-1.1l.5 1.1l.5 .9l.5 3l.5 2.7l.5 4.8l.5 4.5l.5 6.4l.5 6l.5 7.7l.5 7.3l.5 8.7l.5 8.3l.5 9.4l.5 8.7l.5 9.7l.5 8.9l.5 9.6l.5 8.5l.5 9.1l.5 7.8l.5 8.3l.5 6.7l.5 7.1l.5 5.3l.5 5.6l.5 3.7l.5 3.9l.5 1.8l.5 2.1l.5-.1l.5 .1l.5-2.1l.5-1.8l.5-3.9l.5-3.7l.5-5.5l.5-5.4l.5-7l.5-6.8l.5-8.2l.5-7.9l.5-9.1l.5-8.5l.5-9.6l.5-8.9l.5-9.7l.5-8.7l.5-9.5l.5-8.2l.5-8.7l.5-7.4l.5-7.7l.5-6.1l.5-6.3l.5-4.6l.5-4.8l.5-2.7l.5-3l.5-.9l.5-1.1l.5 1.1l.5 .9l.5 2.9l.5 2.8l.5 4.8l.5 4.5l.5 6.4l.5 6.1l.5 7.7l.5 7.3l.5 8.8l.5 8.2l.5 9.4l.5 8.8l.5 9.7l.5 8.9l.5 9.6l.5 8.6l.5 9.1l.5 7.9l.5 8.2l.5 6.8l.5 7.1l.5 5.3l.5 5.6l.5 3.7l.5 3.9l.5 1.9l.5 2l.5-.1l.5 .1l.5-2l.5-1.9l.5-3.9l.5-3.7l.5-5.5l.5-5.4l.5-7.1l.5-6.7l.5-8.3l.5-7.9l.5-9.1l.5-8.6l.5-9.6l.5-8.9l.5-9.7l.5-8.8l.5-9.5l.5-8.2l.5-8.8l.5-7.3l.5-7.8l.5-6.1l.5-6.3l.5-4.6l.5-4.8l.5-2.8l.5-2.9l.5-.9l.5-1.2l.5 1.1l.5 .9l.5 3l.5 2.8l.5 4.8l.5 4.5l.5 6.4l.5 6.1l.5 7.7l.5 7.4l.5 8.8l.5 8.2l.5 9.5l.5 8.8l.5 9.7l.5 8.9l.5 9.7l.5 8.5l.5 9.2l.5 7.9l.5 8.3l.5 6.8l.5 7.1l.5 5.3l.5 5.6l.5 3.8l.5 3.8l.5 1.9l.5 2.1l.5-.2l.5 .2l.5-2.1l.5-1.8l.5-3.9l.5-3.7l.5-5.6l.5-5.4l.5-7.1l.5-6.8l.5-8.3l.5-7.9l.5-9.1l.5-8.6l.5-9.7l.5-8.9l.5-9.8l.5-8.7l.5-9.5l.5-8.3l.5-8.8l.5-7.4l.5-7.7l.5-6.1l.5-6.4l.5-4.6l.5-4.8l.5-2.8l.5-3l.5-.9l.5-1.1l.5 1.1l.5 .9l.5 3l.5 2.8l.5 4.7l.5 4.6l.5 6.4l.5 6.1l.5 7.8l.5 7.4l.5 8.8l.5 8.2l.5 9.5l.5 8.8l.5 9.8l.5 8.9l.5 9.7l.5 8.6l.5 9.2l.5 7.9l.5 8.3l.5 6.8l.5 7.1l.5 5.4l.5 5.6l.5 3.8l.5 3.9l.5 1.8l.5 2.1l.5-.1l.5 .1l.5-2l.5-1.9l.5-3.9l.5-3.7l.5-5.6l.5-5.4l.5-7.2l.5-6.7l.5-8.4l.5-7.9l.5-9.1l.5-8.7l.5-9.7l.5-8.9l.5-9.8l.5-8.8l.5-9.5l.5-8.3l.5-8.8l.5-7.4l.5-7.8l.5-6.1l.5-6.4l.5-4.6l.5-4.8l.5-2.8l.5-3l.5-.9l.5-1.1l.5 1l.5 .9l.5 3l.5 2.8l.5 4.8l.5 4.6l.5 6.5l.5 6.1l.5 7.7l.5 7.4l.5 8.9l.5 8.3l.5 9.5l.5 8.8l.5 9.8l.5 9l.5 9.7l.5 8.6l.5 9.2l.5 7.9l.5 8.4l.5 6.8l.5 7.1l.5 5.4l.5 5.7l.5 3.7l.5 3.9l.5 1.9l.5 2.1l.5-.2l.5 .2l.5-2.1l.5-1.9l.5-3.9l.5-3.7l.5-5.6l.5-5.4l.5-7.2l.5-6.8l.5-8.3l.5-8l.5-9.2l.5-8.6l.5-9.7l.5-9l.5-9.8l.5-8.8l.5-9.6l.5-8.3l.5-8.8l.5-7.5l.5-7.8l.5-6.1l.5-6.4l.5-4.6l.5-4.9l.5-2.8l.5-3l.5-.9l.5-1.1l.5 1.1l.5 .9l.5 3l.5 2.8l.5 4.8l.5 4.6l.5 6.5l.5 6.1l.5 7.8l.5 7.4l.5 8.9l.5 8.3l.5 9.5l.5 8.9l.5 9.8l.5 9l.5 9.7l.5 8.7l.5 9.2l.5 7.9l.5 8.4l.5 6.8l.5 7.2l.5 5.4l.5 5.6l.5 3.8l.5 3.9l.5 1.9l.5 2l.5-.1l.5 .1l.5-2.1l.5-1.8l.5-3.9l.5-3.8l.5-5.7l.5-5.4l.5-7.1l.5-6.8l.5-8.4l.5-7.9l.5-9.2l.5-8.7l.5-9.7l.5-9l.5-9.8l.5-8.9l.5-9.5l.5-8.3l.5-8.9l.5-7.4l.5-7.8l.5-6.1l.5-6.5l.5-4.6l.5-4.8l.5-2.8l.5-3l.5-.9l.5-1.1l.5 1.1l.5 .9l.5 3l.5 2.8l.5 4.8l.5 4.6l.5 6.5l.5 6.1l.5 7.8l.5 7.4l.5 8.9l.5 8.3l.5 9.5l.5 8.9l.5 9.8l.5 9l.5 9.7l.5 8.7l.5 9.2l.5 7.9l.5 8.4l.5 6.8l.5 7.2l.5 5.4l.5 5.6l.5 3.8l.5 3.9l.5 1.8l.5 2.1l.5-.1l.5 .1l.5-2.1l.5-1.8l.5-4l.5-3.7l.5-5.7l.5-5.3l.5-7.2l.5-6.8l.5-8.4l.5-7.9l.5-9.3l.5-8.6l.5-9.7l.5-9l.5-9.8l.5-8.9l.5-9.5l.5-8.3l.5-8.9l.5-7.4l.5-7.8l.5-6.2l.5-6.4l.5-4.6l.5-4.8l.5-2.8l.5-3l.5-.9l.5-1.1l.5 1.1l.5 .9l.5 3l.5 2.8l.5 4.8l.5 4.6l.5 6.5l.5 6.1l.5 7.8l.5 7.4l.5 8.9l.5 8.3l.5 9.5l.5 8.9l.5 9.8l.5 9l.5 9.7l.5 8.6l.5 9.3l.5 7.9l.5 8.4l.5 6.8l.5 7.2l.5 5.4l.5 5.6l.5 3.8l.5 3.9l.5 1.9l.5 2l.5-.1l.5 .1l.5-2.1l.5-1.8l.5-4l.5-3.7l.5-5.6l.5-5.5l.5-7.1l.5-6.8l.5-8.4l.5-7.9l.5-9.2l.5-8.7l.5-9.7l.5-9l.5-9.8l.5-8.9l.5-9.5l.5-8.4l.5-8.8l.5-7.4l.5-7.8l.5-6.2l.5-6.4l.5-4.6l.5-4.8l.5-2.8l.5-3l.5-.9l.5-1.1l.5 1.1l.5 .9l.5 3l.5 2.8l.5 4.8l.5 4.6l.5 6.5l.5 6.1l.5 7.8l.5 7.4l.5 8.9l.5 8.3l.5 9.5l.5 8.9l.5 9.8l.5 9l.5 9.7l.5 8.7l.5 9.2l.5 7.9l.5 8.4l.5 6.8l.5 7.1l.5 5.5l.5 5.6l.5 3.8l.5 3.9l.5 1.8l.5 2.1l.5-.1l.5 .1l.5-2l.5-1.9l.5-4l.5-3.7l.5-5.6l.5-5.5l.5-7.1l.5-6.8l.5-8.4l.5-7.9l.5-9.2l.5-8.7l.5-9.7l.5-9l.5-9.8l.5-8.9l.5-9.5l.5-8.3l.5-8.9l.5-7.4l.5-7.8l.5-6.1l.5-6.5l.5-4.6l.5-4.8l.5-2.8l.5-3l.5-.9l.5-1.1l.5 1.1l.5 .9l.5 3l.5 2.8l.5 4.8l.5 4.6l.5 6.4l.5 6.2l.5 7.8l.5 7.4l.5 8.9l.5 8.3l.5 9.5l.5 8.9l.5 9.8l.5 9l.5 9.7l.5 8.7l.5 9.2l.5 7.9l.5 8.4l.5 6.8l.5 7.2l.5 5.4l.5 5.6l.5 3.8l.5 3.9l.5 1.8l.5 2.1l.5-.1l.5 .1l.5-2l.5-1.9l.5-4l.5-3.7l.5-5.6l.5-5.4l.5-7.2l.5-6.8l.5-8.4l.5-7.9l.5-9.2l.5-8.7l.5-9.7l.5-9l.5-9.8l.5-8.9l.5-9.5l.5-8.4l.5-8.8l.5-7.4l.5-7.8l.5-6.2l.5-6.4l.5-4.6l.5-4.8l.5-2.8l.5-3l.5-.9l.5-1.1l.5 1.1l.5 .9l.5 3l.5 2.8l.5 4.8l.5 4.6l.5 6.4l.5 6.2l.5 7.8l.5 7.4l.5 8.9l.5 8.3l.5 9.5l.5 8.9l.5 9.8l.5 9l.5 9.7l.5 8.7l.5 9.2l.5 7.9l.5 8.4l.5 6.8l.5 7.2l.5 5.4l.5 5.6l.5 3.7l.5 4l.5 1.8l.5 2.1l.5-.1l.5 .1l.5-2.1l.5-1.8l.5-3.9l.5-3.8l.5-5.6l.5-5.5l.5-7.1l.5-6.8l.5-8.4l.5-7.9l.5-9.2l.5-8.7l.5-9.7l.5-9l.5-9.8l.5-8.9l.5-9.5l.5-8.3l.5-8.9l.5-7.4l.5-7.8l.5-6.2l.5-6.4l.5-4.6l.5-4.8l.5-2.8l.5-3l.5-.9l.5-1.1l.5 1.1l.5 .9l.5 3l.5 2.8l.5 4.8l.5 4.6l.5 6.5l.5 6.1l.5 7.8l.5 7.4l.5 8.9" stroke="#7E2F8E"/>
<path d="M371.5 532.5l.5 15l.5-26l.5 26.3l.5-45l.5 33.9l.5-48.4l.5 38l.5-50.7l.5 43.1l.5-50.7l.5 44.7l.5-50.5l.5 51.1l.5-46.8l.5 47.4l.5-43.5l.5 51.7l.5-42.5l.5 51.2l.5-38.1l.5 49.3l.5-32.5l.5 47l.5-31.6l.5 49.9l.5-30.9l.5 48l.5-30.1l.5 47.6l.5-31.8l.5 48.8l.5-33.1l.5 48.5l.5-32.7l.5 46.8l.5-35.2l.5 46.9l.5-40.6l.5 50.5l.5-46.8l.5 50.8l.5-50.8l.5 48l.5-47.8l.5 41.7l.5-47l.5 37.5l.5-47.5l.5 37.6l.5-48.4l.5 32.7l.5-47.7l.5 29.3l.5-48.2l.5 28.5l.5-47.6l.5 30l.5-47.7l.5 26.3l.5-46.6l.5 28.2l.5-45.3l.5 29.1l.5-45.4l.5 32.1l.5-46.1l.5 35l.5-47.4l.5 42.1l.5-50.6l.5 46l.5-47.6l.5 46.8l.5-46.6l.5 51l.5-41.5l.5 44.5l.5-36.3l.5 47.3l.5-32.1l.5 46.1l.5-31.3l.5 45.3l.5-27.8l.5 45l.5-27l.5 44l.5-24.8l.5 44.1l.5-27.3l.5 44.7l.5-28.7l.5 46.9l.5-31.7l.5 43.9l.5-32.5l.5 45.5l.5-37.9l.5 47.3l.5-42.6l.5 46.3l.5-45.3l.5 44.6l.5-48.2l.5 42.1l.5-47.2l.5 39.5l.5-47.5l.5 34.5l.5-47.1l.5 30.9l.5-44.6l.5 26.2l.5-43.2l.5 25.9l.5-43.3l.5 25l.5-44l.5 24.6l.5-43.7l.5 23.9l.5-43.3l.5 29.5l.5-45.4l.5 31.1l.5-45l.5 33.6l.5-43.3l.5 36.3l.5-44.1l.5 42.9l.5-46.4l.5 44.2l.5-43.3l.5 47.9l.5-40.7l.5 44.9l.5-32.9l.5 42.9l.5-30.1l.5 43.1l.5-26.7l.5 41l.5-23.6l.5 41.9l.5-22.2l.5 41.2l.5-22.6l.5 41.6l.5-24.8l.5 42.3l.5-24.3l.5 40l.5-27.7l.5 42.6l.5-31.2l.5 45.6l.5-35.7l.5 43.2l.5-41.5l.5 46.6l.5-44.8l.5 43.2l.5-44.6l.5 41.5l.5-44.6l.5 34.9l.5-44.3l.5 31.1l.5-42.1l.5 27.6l.5-43l.5 25.2l.5-41.5l.5 20.9l.5-38.9l.5 20.9l.5-40.1l.5 19.9l.5-37.9l.5 20.2l.5-39.9l.5 25.1l.5-40.3l.5 25.8l.5-39.8l.5 30.3l.5-41.7l.5 36.6l.5-45.2l.5 40.8l.5-42.3l.5 42l.5-39l.5 41.4l.5-34.6l.5 41.1l.5-30.1l.5 39.8l.5-26.3l.5 40.2l.5-23.5l.5 38.3l.5-21.1l.5 37.3l.5-19.2l.5 38.4l.5-19.3l.5 38.1l.5-19.1l.5 37.4l.5-20.1l.5 37.3l.5-23.1l.5 37.7l.5-27.1l.5 41.7l.5-34.4l.5 41.5l.5-36.2l.5 41.5l.5-41.5l.5 41.9l.5-42.2l.5 37.7l.5-42.8l.5 32.1l.5-38.9l.5 27.4l.5-38.6l.5 23.2l.5-37.4l.5 18.6l.5-36.1l.5 17.4l.5-35.4l.5 15.5l.5-34.3l.5 16.4l.5-35.8l.5 17.1l.5-35.2l.5 19.6l.5-37.3l.5 25.7l.5-40.3l.5 30.1l.5-40.1l.5 32.9l.5-40.3l.5 37.5l.5-41.3l.5 43l.5-39.8l.5 42l.5-34.1l.5 39.9l.5-28.7l.5 37l.5-22.5l.5 35.3l.5-18.6l.5 34.7l.5-16.9l.5 33.3l.5-14.1l.5 33l.5-14.5l.5 33.5l.5-15.6l.5 34.8l.5-16.9l.5 34.2l.5-20.1l.5 35.7l.5-24.9l.5 37.6l.5-30l.5 38.2l.5-34.3l.5 40.4l.5-38.9l.5 40.6l.5-41.4l.5 34.7l.5-38.9l.5 29.5l.5-37.8l.5 23.7l.5-34.2l.5 19.6l.5-35.6l.5 18.2l.5-34.9l.5 15.7l.5-33.8l.5 14l.5-32.9l.5 14.9l.5-33.9l.5 15.8l.5-34.4l.5 18.8l.5-35.6l.5 21.6l.5-34.5l.5 25.2l.5-37.7l.5 32.5l.5-40.6l.5 38.7l.5-39.8l.5 38.1l.5-35.6l.5 39.5l.5-31.8l.5 35.9l.5-24.8l.5 34.3l.5-21.3l.5 34.6l.5-16l.5 32.1l.5-14.4l.5 31.9l.5-12.5l.5 30.5l.5-11.3l.5 30.2l.5-11.7l.5 30.6l.5-15.1l.5 32.8l.5-17.8l.5 34.1l.5-22.2l.5 34l.5-26.2l.5 36.6l.5-32.3l.5 38.3l.5-38.7l.5 38.1l.5-38.5l.5 33.8l.5-38.8l.5 27.7l.5-34.5l.5 22l.5-34.1l.5 18l.5-31.2l.5 12.8l.5-29.5l.5 11.6l.5-30.6l.5 10.5l.5-29.1l.5 9.9l.5-28.9l.5 12.1l.5-31.4l.5 14.7l.5-30.2l.5 18.5l.5-32.9l.5 22.3l.5-34.7l.5 29.7l.5-37.7l.5 33.8l.5-38.2l.5 39.9l.5-36.2l.5 38.2l.5-28.8l.5 33l.5-22.6l.5 32.4l.5-17.4l.5 31.3l.5-13.7l.5 28.6l.5-11l.5 29.2l.5-9.2l.5 28l.5-9.5l.5 28.6l.5-9.3l.5 28.2l.5-12.7l.5 29.8l.5-14.1l.5 29.5l.5-19.5l.5 33.1l.5-24.6l.5 34.3l.5-30l.5 35.4l.5-34.4l.5 34.2l.5-36.9l.5 31.8l.5-34.4l.5 24.1l.5-31.5l.5 17.4l.5-29.5l.5 15.2l.5-29.1l.5 10.5l.5-27.4l.5 8.9l.5-27l.5 6.9l.5-25.7l.5 7.7l.5-27l.5 8.4l.5-26.2l.5 10.2l.5-27.7l.5 16l.5-31.1l.5 20.3l.5-31.1l.5 26.7l.5-35.6l.5 33.1l.5-35.4l.5 34.9l.5-33l.5 35.2l.5-26.4l.5 31.2l.5-19.6l.5 29.3l.5-13.8l.5 27.1l.5-10.9l.5 26.1l.5-7.1l.5 24.7l.5-5.6l.5 24.9l.5-6.4l.5 25.3l.5-7l.5 26.5l.5-9.3l.5 26l.5-11.5l.5 28.1l.5-17.5l.5 29.5l.5-21.1l.5 31.4l.5-28.3l.5 35.5l.5-34.4l.5 33.5l.5-34.3l.5 27.6l.5-30.1l.5 19.3l.5-27.9l.5 15.8l.5-26.4l.5 11.1l.5-26.2l.5 8.6l.5-24.6l.5 5.3l.5-24.4l.5 5.1l.5-23.4l.5 3.8l.5-23.6l.5 6.7l.5-24.6l.5 8l.5-25.2l.5 13.5l.5-27.1l.5 16.5l.5-28l.5 22.2l.5-31.8l.5 30.8l.5-34.6l.5 34.4l.5-30.4l.5 31.6l.5-23.1l.5 29.5l.5-17.6l.5 26.2l.5-10.7l.5 24.2l.5-8.1l.5 23l.5-4.3l.5 21.9l.5-2.9l.5 22.4l.5-3.7l.5 22.7l.5-4.3l.5 22.9l.5-5.8l.5 23.3l.5-8.3l.5 23.3l.5-12.7l.5 26.8l.5-19.2l.5 28.3l.5-24l.5 31.4l.5-31.1l.5 31.3l.5-32.3l.5 24.7l.5-27.9l.5 18.5l.5-26l.5 12.4l.5-23.7l.5 8l.5-22l.5 4l.5-20.7l.5 2.6l.5-21.2l.5 1.7l.5-21l.5 2.2l.5-21.2l.5 3l.5-20.7l.5 5.4l.5-22.1l.5 9.1l.5-23.4l.5 13l.5-24.3l.5 19.2l.5-28.4l.5 27.5l.5-32.2l.5 31.6l.5-26.2l.5 27.5l.5-18.8l.5 24.5l.5-13.8l.5 24l.5-9.8l.5 21.7l.5-4.9l.5 21.2l.5-3l.5 20.5l.5-1.5l.5 20.4l.5-.6l.5 19.5l.5-1.4l.5 20.3l.5-3.6l.5 21.5l.5-6.7l.5 22.1l.5-10.5l.5 22.3l.5-15.1l.5 26l.5-21.9l.5 27.8l.5-28.7l.5 28.4l.5-28.3l.5 23.4l.5-26.2l.5 15.6l.5-23.8l.5 10.7l.5-22.1l.5 6.4l.5-20.4l.5 2.4l.5-19.4l.5 .9l.5-19.3l.5 .2l.5-19.1l.5 .3l.5-19.3l.5 1.2l.5-19.2l.5 3.6l.5-20.5l.5 7.9l.5-21.8l.5 11.9l.5-22.9l.5 16.6l.5-24.9l.5 25.1l.5-28.8l.5 27.5l.5-24.7l.5 26.4l.5-17.8l.5 23.5l.5-11.3l.5 20.1l.5-5.9l.5 19.3l.5-3.5l.5 19.3l.5-1l.5 18.4l.5 .5l.5 18.4l.5 1.3l.5 17.8l.5 .5l.5 18.3l.5-1.6l.5 18.9l.5-4.4l.5 19.7l.5-8.3l.5 21.9l.5-13.2l.5 22.5l.5-19.6l.5 25.9l.5-26.3l.5 26.9l.5-26l.5 19.8l.5-24l.5 12.8l.5-20.5l.5 7.8l.5-19.4l.5 4.4l.5-18.6l.5 1l.5-18l.5-.3l.5-17.7l.5-1.6l.5-17.8l.5-1.3l.5-17.3l.5-.5l.5-17.5l.5 1.8l.5-18.9l.5 5.4l.5-19.2l.5 9.9l.5-21l.5 15.3l.5-23.3l.5 22.2l.5-27l.5 25.9l.5-21.6l.5 23.6l.5-15.4l.5 20.8l.5-9l.5 18.6l.5-4.3l.5 17.6l.5-1.4l.5 17.1l.5 1l.5 17l.5 2l.5 16.6l.5 2.7l.5 16.5l.5 1.7l.5 16.8l.5 .3l.5 17.3l.5-3l.5 18.3l.5-6.7l.5 19.5l.5-10.8l.5 20.5l.5-17.1l.5 23.5l.5-23.9l.5 23.6l.5-23.5l.5 17.2l.5-20.2l.5 9.7l.5-18l.5 5.8l.5-17.6l.5 1.9l.5-16l.5-.9l.5-16.3l.5-2.3l.5-16.3l.5-2.8l.5-16.3l.5-2.7l.5-16.2l.5-1.6l.5-16.2l.5 .1l.5-16.2l.5 3.4l.5-17.4l.5 6.9l.5-18.7l.5 12.6l.5-21.3l.5 19.8l.5-23.1l.5 23l.5-18.9l.5 20.6l.5-12l.5 17.8l.5-6.3l.5 16.3l.5-2.5l.5 15.9l.5 .5l.5 15.2l.5 2.7l.5 15.3l.5 3.7l.5 15.1l.5 3.8l.5 15.3l.5 3.5l.5 14.8l.5 2.2l.5 15.3l.5-.8l.5 15.5l.5-3.7l.5 16.6l.5-8.9l.5 18.4l.5-15l.5 21.6l.5-21.5l.5 21.1l.5-21.2l.5 14.5l.5-18l.5 8.3l.5-15.8l.5 3.6l.5-15.7l.5 .3l.5-14.9l.5-2.2l.5-14.7l.5-3.7l.5-14.5l.5-4.4l.5-14.6l.5-4.3l.5-14.8l.5-3.3l.5-14.3l.5-1.7l.5-14.5l.5 1.7l.5-15.9l.5 5.7l.5-16.5l.5 10.6l.5-19l.5 17l.5-20.4l.5 20.6l.5-16.7l.5 18.3l.5-10.4l.5 16.5l.5-5.5l.5 15.5l.5-1.4l.5 14.3l.5 2l.5 14l.5 3.9l.5 13.8l.5 4.9l.5 14.2l.5 4.8l.5 14.3l.5 4.4l.5 13.8l.5 3l.5 14.3l.5 .4l.5 14.6l.5-2.6l.5 14.8l.5-6.5l.5 15.6l.5-12.1l.5 18.8l.5-18.2l.5 17.6l.5-18.6l.5 12.8l.5-16.3l.5 6.3l.5-14.5l.5 2.5l.5-14l.5-1.1l.5-13.6l.5-3.3l.5-13.7l.5-4.7l.5-13.9l.5-5.1l.5-13.8l.5-5.3l.5-13.5l.5-4.3l.5-13.6l.5-2.2l.5-13.6l.5-.1l.5-13.6l.5 3.3l.5-14.3l.5 9l.5-16.9l.5 14.3l.5-17l.5 17.5l.5-14.1l.5 15.6l.5-8.2l.5 14.5l.5-3.4l.5 13.4l.5 0l.5 13.6l.5 2.6l.5 13.3l.5 4.2l.5 13.6l.5 5.2l.5 13.5l.5 5.7l.5 13.4l.5 5.2l.5 13.1l.5 3.8l.5 13l.5 1.8l.5 13.1l.5-.9l.5 13.2l.5-4.9l.5 14.2l.5-10.5l.5 16.4l.5-15.2l.5 14.9l.5-15.6l.5 9.8l.5-14.2l.5 4.8l.5-13.1l.5 .6l.5-12.4l.5-2.1l.5-12.9l.5-4.2l.5-12.8l.5-5.4l.5-12.9l.5-6l.5-13.1l.5-5.8l.5-13l.5-4.9l.5-12.5l.5-3.6l.5-12.3l.5-1.3l.5-12.3l.5 1.8l.5-12.2l.5 6.5l.5-14.6l.5 12.1l.5-14.9l.5 15.3l.5-12.2l.5 14.3l.5-6.1l.5 11.9l.5-1.7l.5 12.1l.5 1.4l.5 12.1l.5 3.7l.5 12.4l.5 5.3l.5 12.4l.5 6.4l.5 12.6l.5 6.4l.5 12.5l.5 5.9l.5 12.4l.5 4.7l.5 11.9l.5 3.1l.5 11.7l.5 .4l.5 11.2l.5-2.7l.5 11.7l.5-7.4l.5 13.5l.5-12.7l.5 12.2l.5-13.2l.5 7.5l.5-11.8l.5 3l.5-11.3l.5-.6l.5-11.3l.5-3.5l.5-11.5l.5-5.3l.5-11.8l.5-6.3l.5-12.1l.5-6.9l.5-12.2l.5-6.5l.5-12l.5-6l.5-11.6l.5-4.5l.5-11.1l.5-2.6l.5-10.7l.5 .1l.5-10.6l.5 4.2l.5-11.7l.5 9.3l.5-12.1l.5 11.8l.5-8.8l.5 11.5l.5-4.1l.5 10.6l.5 0l.5 10.5l.5 2.6l.5 11.1l.5 4.6l.5 11.4l.5 6.3l.5 11.6l.5 7l.5 11.7l.5 7.2l.5 11.7l.5 6.8l.5 11.4l.5 5.8l.5 10.9l.5 4l.5 10.3l.5 1.9l.5 9.7l.5-.8l.5 9.8l.5-5.7l.5 10.9l.5-9.4l.5 9.6l.5-11.1l.5 5.5l.5-9.7l.5 .7l.5-9.2l.5-2.2l.5-10.2l.5-4.4l.5-10.5l.5-6.2l.5-11l.5-7.1l.5-11.3l.5-7.5l.5-11.5l.5-7.4l.5-11.1l.5-6.7l.5-10.8l.5-5.3l.5-10.2l.5-3.5l.5-9.7l.5-1.1l.5-9.1l.5 2.7l.5-9.6l.5 6.7l.5-9.8l.5 9.7l.5-6.7l.5 9.3l.5-1.9l.5 8.6l.5 1.5l.5 9.3l.5 3.6l.5 10l.5 5.7l.5 10.6l.5 6.7l.5 11.2l.5 7.5l.5 11.3l.5 7.5l.5 11.3l.5 7.1l.5 10.9l.5 6.2l.5 10.3l.5 4.9l.5 9.5l.5 2.7l.5 8.9l.5 0l.5 8.5l.5-3.8l.5 9l.5-7.5l.5 7.4l.5-8.9l.5 3.6l.5-8.3l.5-.3l.5-8.5l.5-2.9l.5-9.4l.5-4.9l.5-10.2l.5-6.3l.5-10.9l.5-7.2l.5-11.1l.5-7.8l.5-11.1l.5-7.6l.5-10.9l.5-7l.5-10.5l.5-5.8l.5-9.6l.5-4.1l.5-8.9l.5-1.9l.5-7.9l.5 1.2l.5-7.8l.5 4.8l.5-7.5l.5 7.3l.5-4.5l.5 7.4l.5-.9l.5 7.9l.5 2l.5 8.7l.5 4.4l.5 9.4l.5 5.9l.5 10.3l.5 7.1l.5 10.8l.5 7.8l.5 11l.5 7.8l.5 11l.5 7.5l.5 10.5l.5 6.7l.5 9.8l.5 5.3l.5 8.9l.5 3.5l.5 8l.5 1.1l.5 7l.5-1.9l.5 6.5l.5-4.9l.5 5l.5-6.5l.5 1.9l.5-7.2l.5-1.2l.5-7.7l.5-3.6l.5-8.8l.5-5.5l.5-9.7l.5-6.7l.5-10.5l.5-7.6l.5-10.8l.5-8l.5-10.9l.5-7.9l.5-10.6l.5-7.3l.5-10l.5-6.2l.5-9.2l.5-4.7l.5-8.1l.5-2.8l.5-6.9l.5-.3l.5-6.2l.5 2.7l.5-5.1l.5 5.3l.5-2.7l.5 6l.5 .3l.5 6.9l.5 2.9l.5 8l.5 4.7l.5 9.1l.5 6.4l.5 9.9l.5 7.4l.5 10.5l.5 7.9l.5 10.8l.5 8.2l.5 10.6l.5 7.9l.5 10.1l.5 7l.5 9.5l.5 5.8l.5 8.3l.5 4.1l.5 7.2l.5 2l.5 5.9l.5-.4l.5 4.7l.5-2.7l.5 2.7l.5-4.5l.5 .2l.5-5.7l.5-2.4l.5-6.8l.5-4.4l.5-8.2l.5-5.9l.5-9.3l.5-7.1l.5-10.1l.5-7.9l.5-10.6l.5-8.2l.5-10.7l.5-8l.5-10.4l.5-7.6l.5-9.7l.5-6.6l.5-8.8l.5-5.2l.5-7.4l.5-3.6l.5-6l.5-1.6l.5-4.4l.5 .7l.5-2.7l.5 2.6l.5-.5l.5 4.3l.5 1.7l.5 5.7l.5 3.9l.5 7.2l.5 5.5l.5 8.5l.5 6.8l.5 9.5l.5 7.7l.5 10.3l.5 8.2l.5 10.6l.5 8.3l.5 10.5l.5 7.9l.5 10l.5 7.3l.5 9l.5 6.3l.5 7.9l.5 4.7l.5 6.4l.5 3l.5 4.8l.5 .9l.5 3l.5-1l.5 1.1l.5-3.1l.5-1l.5-4.7l.5-3l.5-6.4l.5-4.7l.5-7.9l.5-6.3l.5-9l.5-7.3l.5-9.9l.5-8.1l.5-10.4l.5-8.4l.5-10.4l.5-8.4l.5-10.1l.5-7.9l.5-9.4l.5-6.9l.5-8.4l.5-5.6l.5-7l.5-4.1l.5-5.5l.5-2.1l.5-3.8l.5 0l.5-2l.5 2l.5 0l.5 3.8l.5 2.1l.5 5.5l.5 4l.5 7.1l.5 5.6l.5 8.4l.5 7l.5 9.3l.5 7.9l.5 10.1l.5 8.4l.5 10.4l.5 8.5l.5 10.2l.5 8.3l.5 9.7l.5 7.5l.5 8.9l.5 6.4l.5 7.6l.5 5l.5 6.1l.5 3.3l.5 4.5l.5 1.2l.5 2.8l.5-.9l.5 .9l.5-2.7l.5-1.3l.5-4.5l.5-3.2l.5-6.2l.5-5l.5-7.6l.5-6.4l.5-8.9l.5-7.6l.5-9.6l.5-8.3l.5-10.2l.5-8.6l.5-10.3l.5-8.5l.5-9.9l.5-8l.5-9.3l.5-7.1l.5-8.2l.5-5.8l.5-6.8l.5-4.2l.5-5.3l.5-2.4l.5-3.6l.5-.2l.5-1.8l.5 1.7l.5 .4l.5 3.5l.5 2.3l.5 5.3l.5 4.3l.5 6.8l.5 5.9l.5 8.1l.5 7.1l.5 9.2l.5 8.1l.5 9.9l.5 8.6l.5 10.2l.5 8.7l.5 10.1l.5 8.4l.5 9.5l.5 7.7l.5 8.7l.5 6.6l.5 7.5l.5 5.1l.5 6l.5 3.4l.5 4.3l.5 1.5l.5 2.5l.5-.6l.5 .6l.5-2.5l.5-1.5l.5-4.3l.5-3.5l.5-5.9l.5-5.2l.5-7.4l.5-6.6l.5-8.7l.5-7.7l.5-9.5l.5-8.5l.5-10l.5-8.8l.5-10.1l.5-8.7l.5-9.7l.5-8.2l.5-9.1l.5-7.3l.5-8l.5-6l.5-6.7l.5-4.4l.5-5l.5-2.6l.5-3.3l.5-.6l.5-1.4l.5 1.4l.5 .6l.5 3.3l.5 2.6l.5 5l.5 4.5l.5 6.6l.5 6l.5 8l.5 7.4l.5 8.9l.5 8.3l.5 9.7l.5 8.8l.5 10l.5 8.9l.5 9.9l.5 8.5l.5 9.4l.5 7.9l.5 8.5l.5 6.8l.5 7.2l.5 5.4l.5 5.8l.5 3.6l.5 4l.5 1.8l.5 2.2l.5-.2l.5 .2l.5-2.2l.5-1.7l.5-4.1l.5-3.7l.5-5.7l.5-5.4l.5-7.2l.5-6.8l.5-8.5l.5-7.9l.5-9.3l.5-8.7l.5-9.8l.5-9l.5-9.9l.5-8.9l.5-9.9l.5-5.5l.5-13.1l.5-.3l.5-14.5l.5 4.9l.5-17.6l.5 11.1l.5-19.7l.5 16.2l.5-24.4l.5 27.3l.5-38.6l.5 38.5l.5-27.8l.5 28.7l.5-19.6l.5 26l.5-17.1l.5 24.9l.5-12.6l.5 24.1l.5-9.9l.5 23.5l.5-8l.5 24l.5-8.4l.5 24.1l.5-7.7l.5 24.4l.5-7.7l.5 23.4l.5-9.8l.5 24.3l.5-10.7l.5 23.9l.5-14.2l.5 24.9l.5-18.2l.5 27.1l.5-22.8l.5 33.5l.5-34.9l.5 33.7l.5-32.9l.5 23.3l.5-26.9l.5 18.3l.5-25l.5 14.6l.5-25.5l.5 11.5l.5-23l.5 8.6l.5-23.8l.5 7.7l.5-22.9l.5 6.4l.5-22.8l.5 7.4l.5-23.8l.5 8.1l.5-23.5l.5 9.7l.5-23.2l.5 12.5l.5-24.5l.5 15.3l.5-24l.5 18l.5-28.2l.5 26.3l.5-36.8l.5 37.1l.5-27.5l.5 29.8l.5-19.9l.5 24.9l.5-15.4l.5 25l.5-13.8l.5 24.2l.5-9.6l.5 22.9l.5-7.3l.5 23l.5-6.4l.5 22.9l.5-7.3l.5 23.7l.5-7l.5 23l.5-8.8l.5 23.7l.5-11.2l.5 24.3l.5-15l.5 24.8l.5-17.3l.5 25.6l.5-21.3l.5 33.2l.5-33.5l.5 32.8l.5-33.2l.5 22.2l.5-25.5l.5 17.5l.5-25.2l.5 13.8l.5-23.7l.5 11.1l.5-22.9l.5 8l.5-23.2l.5 7.5l.5-22.6l.5 6.4l.5-22.7l.5 6.3l.5-22.9l.5 7.2l.5-22.3l.5 9.3l.5-24.1l.5 12.5l.5-24.4l.5 14.9l.5-23.1l.5 18.2l.5-28.1l.5 27.3l.5-37.2l.5 36l.5-25.4l.5 26.9l.5-18.1l.5 24.6l.5-15.2l.5 23.1l.5-11l.5 23.2l.5-9.5l.5 22.9l.5-8.1l.5 23.6l.5-7.5l.5 22.9l.5-6.2l.5 22.9l.5-6.6l.5 22.5l.5-8.7l.5 23.6l.5-10.5l.5 24.1l.5-14.1l.5 23.9l.5-16.2l.5 24.1l.5-20.9l.5 33.4l.5-32.7l.5 31.7l.5-31.2l.5 20.1l.5-23.7l.5 15l.5-22.8l.5 12.8l.5-23.6l.5 10.8l.5-23.2l.5 8l.5-23l.5 6.9l.5-22.4l.5 6l.5-21.9l.5 6.3l.5-23.3l.5 7.4l.5-22.4l.5 8.8l.5-23.1l.5 12.3l.5-23.8l.5 14.2l.5-23.2l.5 17.7l.5-27.6l.5 26.3l.5-34.9l.5 35.2l.5-24.8l.5 24.8l.5-17.1l.5 24.3l.5-15.5l.5 24.2l.5-12.2l.5 23.6l.5-9.2l.5 22.6l.5-6.9l.5 22.5l.5-7l.5 22.9l.5-6.1l.5 22.3l.5-5.8l.5 22.1l.5-8.1l.5 23.2l.5-10.5l.5 22.4l.5-12.3l.5 22.9l.5-14.6l.5 23.8l.5-20.7l.5 31l.5-31.1l.5 31.5l.5-31l.5 19.7l.5-24.2l.5 16.6l.5-23.8l.5 12.6l.5-22.5l.5 9.8l.5-23.1l.5 7.8l.5-22.1l.5 6.6l.5-22.4l.5 5.6l.5-21.6l.5 6l.5-22.5l.5 6.9l.5-22.7l.5 8.5l.5-21.6l.5 10.4l.5-23.4l.5 14.6l.5-23.1l.5 17l.5-25.9l.5 25.5l.5-32.6l.5 31.2l.5-22.9l.5 24.9l.5-17.4l.5 22.8l.5-12.9l.5 22.7l.5-11l.5 22.3l.5-8.6l.5 22.4l.5-7.1l.5 22.2l.5-5.7l.5 22.1l.5-5.8l.5 22.4l.5-6.9l.5 22.3l.5-7.3l.5 22.6l.5-10.1l.5 22.2l.5-11.7l.5 22.7l.5-14.7l.5 22.4l.5-18.5l.5 28.2l.5-29.9l.5 30.5l.5-29.2l.5 19.4l.5-22.8l.5 13.7l.5-21.8l.5 11.8l.5-22.2l.5 9.1l.5-21.9l.5 7.1l.5-21.1l.5 6l.5-22.1l.5 5.5l.5-22.5l.5 6.3l.5-22l.5 6.5l.5-21.7l.5 8.3l.5-22.6l.5 10.4l.5-21.8l.5 12.9l.5-22.5l.5 16.5l.5-24.7l.5 23.4l.5-32.1l.5 32.1l.5-24.6l.5 25.6l.5-15.5l.5 21.3l.5-13.3l.5 23.2l.5-10.5l.5 22.1l.5-8.6l.5 21.5l.5-5.7l.5 21.2l.5-5.2l.5 21.9l.5-5.9l.5 22.2l.5-6.2l.5 22.2l.5-7l.5 22.1l.5-9.4l.5 22.1l.5-12.1l.5 21.6l.5-14.1l.5 23.2l.5-19.6l.5 30l.5-29.4l.5 29.4l.5-30l.5 18.5l.5-21.9l.5 13.8l.5-21.4l.5 12.1l.5-22.8l.5 9.8l.5-21.9l.5 6.3l.5-20.8l.5 5.1l.5-21l.5 4.8l.5-21.3l.5 4.5l.5-20.9l.5 6.2l.5-21.6l.5 7.4l.5-22.1l.5 10.4l.5-21.3l.5 13l.5-22.4l.5 15.8l.5-24.3l.5 23.5l.5-29.6l.5 28.5l.5-22.6l.5 24.6l.5-15.1l.5 20.5l.5-12.6l.5 22.3l.5-9.9l.5 21.4l.5-7.5l.5 21.1l.5-6.1l.5 21.3l.5-4.7l.5 21.5l.5-4.8l.5 21l.5-5.4l.5 21.7l.5-7.1l.5 21.2l.5-7.5l.5 20.5l.5-10.7l.5 21.7l.5-14.3l.5 21.8l.5-17.7l.5 27.4l.5-27.9l.5 26.7l.5-25.8l.5 17.7l.5-21.9l.5 13.9l.5-21.7l.5 10.9l.5-21.2l.5 7.8l.5-20.7l.5 6.5l.5-21.3l.5 5.6l.5-20.8l.5 4.4l.5-21.3l.5 4.1l.5-20.4l.5 4.9l.5-19.9l.5 6.7l.5-21.4l.5 9.5l.5-20.7l.5 11l.5-20l.5 14.9l.5-23.6l.5 21.5l.5-29l.5 29.7l.5-22.4l.5 23.7l.5-15l.5 20.2l.5-10.5l.5 20l.5-8.7l.5 20.5l.5-6.2l.5 20.3l.5-5.1l.5 20l.5-3.5l.5 20.3l.5-3.9l.5 20l.5-4l.5 19.8l.5-4.8l.5 19.7l.5-6.8l.5 20.1l.5-9.9l.5 20.5l.5-12.8l.5 20.7l.5-16.5l.5 24.9l.5-25.2l.5 24.9l.5-24.5l.5 16.2l.5-21l.5 12.4l.5-19.5l.5 9.8l.5-20.2l.5 7l.5-19.6l.5 4.4l.5-19.3l.5 3.6l.5-19.8l.5 2.9l.5-19.2l.5 3.5l.5-20.1l.5 4l.5-19.8l.5 6.1l.5-19.3l.5 8l.5-19.9l.5 10.2l.5-18.7l.5 13l.5-22.4l.5 20.3l.5-26.1l.5 25.5l.5-18.6l.5 21.2l.5-12.9l.5 18.3l.5-9.5l.5 18.7l.5-7.3l.5 19l.5-5.6l.5 20.2l.5-4.4l.5 19.9l.5-3.4l.5 19.1l.5-2.6l.5 20l.5-4l.5 19.3l.5-4l.5 19.2l.5-6.5l.5 18.8l.5-8.6l.5 18.9l.5-10.5l.5 18.4l.5-14.1l.5 22.7l.5-23.2l.5 23.9l.5-23.2l.5 13.7l.5-18.3l.5 11.1l.5-18.5l.5 8l.5-19l.5 6.2l.5-19.5l.5 4.8l.5-19l.5 2.8l.5-19.3l.5 2.3l.5-18.6l.5 2.9l.5-19.1l.5 3.1l.5-19l.5 5.4l.5-19.3l.5 7.5l.5-19.3l.5 10l.5-18.7l.5 11.6l.5-19.1l.5 17.8l.5-24.3l.5 24.3l.5-18.3l.5 20.3l.5-11.7l.5 17.2l.5-8.9l.5 18.9l.5-7.3l.5 18.6l.5-4.6l.5 19.1l.5-3.8l.5 18.9l.5-2l.5 18.3l.5-1.7l.5 18.9l.5-2.9l.5 18.6l.5-3.7l.5 18.1l.5-4.7l.5 18l.5-7.6l.5 17.4l.5-9.9l.5 18.3l.5-13.5l.5 21.1l.5-21.1l.5 22l.5-21.8l.5 12.6l.5-16.7l.5 9.6l.5-17.5l.5 6.9l.5-17.9l.5 4.7l.5-18.1l.5 3.3l.5-17.6l.5 1.8l.5-18.6l.5 2.2l.5-18.7l.5 1.9l.5-18l.5 2.4l.5-17.6l.5 3.4l.5-17.4l.5 5.7l.5-17.7l.5 8.2l.5-17.2l.5 11.3l.5-19l.5 16.7l.5-22.3l.5 22.7l.5-16.5l.5 17.5l.5-10.4l.5 17.4l.5-7.8l.5 17.1l.5-5.8l.5 17.2l.5-3.1l.5 17.8l.5-2.2l.5 17.5l.5-1.1l.5 18.1l.5-1.9l.5 18.2l.5-1.5l.5 17.3l.5-2.2l.5 17.2l.5-4.4l.5 17.3l.5-6.3l.5 16.5l.5-8.5l.5 15.6l.5-11.5l.5 19.4l.5-18.9l.5 18.9l.5-19.2l.5 11.1l.5-15.2l.5 8.2l.5-16.7l.5 6.5l.5-17.2l.5 4.1l.5-17.2l.5 2.4l.5-17.2l.5 1.4l.5-17.7l.5 1.2l.5-17.6l.5 1.1l.5-18l.5 2l.5-17.1l.5 2.8l.5-16.7l.5 4.8l.5-16.7l.5 7.4l.5-16.3l.5 9.6l.5-17.1l.5 15l.5-20.4l.5 20.6l.5-14.6l.5 16l.5-9l.5 15.4l.5-6.5l.5 16l.5-3.9l.5 16l.5-2.8l.5 17.4l.5-1.4l.5 17l.5-.7l.5 17.5l.5-.8l.5 17.4l.5-.8l.5 16.4l.5-1.5l.5 16.6l.5-3.8l.5 16.1l.5-4.7l.5 15.2l.5-7.5l.5 15.5l.5-11l.5 18.8l.5-17.9l.5 17.8l.5-18.9l.5 11.2l.5-15l.5 7.2l.5-15.7l.5 5.3l.5-16.2l.5 3.1l.5-15.9l.5 1.1l.5-16.6l.5 .7l.5-16.9l.5 .3l.5-16.5l.5-.1l.5-16.7l.5 1.2l.5-16.4l.5 2l.5-15.8l.5 3.5l.5-15.4l.5 5.8l.5-14.2l.5 7.8l.5-15.2l.5 13.4l.5-18.5l.5 18.2l.5-13.6l.5 15.3l.5-7.9l.5 14.3l.5-5.4l.5 15.3l.5-3.5l.5 15.4l.5-1.7l.5 16l.5-.3l.5 16.2l.5-.1l.5 16.6l.5 .4l.5 16.5l.5-.3l.5 16.6l.5-1.5l.5 16.1l.5-2.7l.5 15.3l.5-4.3l.5 14.1l.5-5.8l.5 13.6l.5-9.2l.5 16.3l.5-16.1l.5 16.6l.5-16.6l.5 9.3l.5-13.7l.5 5.8l.5-14.4l.5 4.4l.5-15.2l.5 2.3l.5-15.7l.5 .8l.5-15.6l.5-.4l.5-16l.5-.3l.5-16.7l.5-.3l.5-15.9l.5 .2l.5-15.7l.5 1.3l.5-15.3l.5 2.9l.5-14.3l.5 4.8l.5-13.5l.5 7l.5-14.2l.5 11.8l.5-17.1l.5 17.6l.5-12.8l.5 14.5l.5-6.5l.5 13.2l.5-4.8l.5 14.1l.5-2.4l.5 14.8l.5-.9l.5 15.4l.5 0l.5 15.8l.5 .6l.5 16.1l.5 1l.5 15.5l.5 .6l.5 15.7l.5-.6l.5 15.5l.5-1.8l.5 14.2l.5-3.3l.5 13.5l.5-5.5l.5 13.5l.5-8.8l.5 15.4l.5-15l.5 15.5l.5-15.5l.5 8l.5-13.2l.5 5.8l.5-13.6l.5 3l.5-14l.5 1.5l.5-14.8l.5 .1l.5-15.5l.5-.8l.5-15.4l.5-1.5l.5-15.4l.5-1.1l.5-15.1l.5-.7l.5-15.3l.5 .8l.5-14.5l.5 1.9l.5-13.5l.5 4.4l.5-13l.5 6.2l.5-13.5l.5 11.2l.5-16.1l.5 15.8l.5-10.9l.5 13.6l.5-6.6l.5 12.8l.5-4l.5 13.9l.5-2.1l.5 13.9l.5 .1l.5 14.5l.5 .9l.5 14.9l.5 1.8l.5 14.9l.5 2l.5 15.2l.5 .9l.5 14.8l.5 .9l.5 14l.5-.8l.5 14l.5-3.2l.5 13.4l.5-5.2l.5 12.2l.5-7.1l.5 14.3l.5-13.4l.5 13.2l.5-13.9l.5 6.9l.5-11.6l.5 4.5l.5-12.9l.5 2.8l.5-13.8l.5 .5l.5-14l.5-.6l.5-14.6l.5-1.7l.5-14.8l.5-1.8l.5-15.1l.5-1.7l.5-15.1l.5-1l.5-14.2l.5-.6l.5-13.5l.5 1.1l.5-12.7l.5 3.3l.5-11.9l.5 5l.5-12.4l.5 9.7l.5-14.6l.5 15.1l.5-10.3l.5 12.2l.5-5l.5 12.1l.5-3.1l.5 12.7l.5-1.2l.5 13.4l.5 .5l.5 13.9l.5 1.9l.5 14.2l.5 2.2l.5 14.8l.5 2.4l.5 14.3l.5 2.3l.5 14.1l.5 1.1l.5 13.8l.5 .1l.5 13l.5-2l.5 12.2l.5-3.7l.5 11.1l.5-6.3l.5 12.7l.5-11.8l.5 12.3l.5-13.3l.5 6.3l.5-10.8l.5 3.4l.5-12.1l.5 1.7l.5-12.6l.5-.3l.5-13.3l.5-1.4l.5-14.2l.5-2.1l.5-14.3l.5-2.8l.5-14.4l.5-2.6l.5-13.9l.5-2.3l.5-13.6l.5-1.1l.5-13l.5 .4l.5-12l.5 2.2l.5-11.2l.5 4.8l.5-11.2l.5 8.5l.5-13.5l.5 13.3l.5-8.3l.5 11l.5-4.7l.5 11.4l.5-2.3l.5 11.8l.5-.3l.5 12.9l.5 1.5l.5 13.1l.5 2.6l.5 13.6l.5 3.3l.5 13.7l.5 3.1l.5 14l.5 2.9l.5 13.7l.5 1.8l.5 13.1l.5 .9l.5 11.9l.5-.9l.5 11.2l.5-2.9l.5 10.6l.5-5.5l.5 12l.5-11.2l.5 11.2l.5-11.8l.5 5.5l.5-10.3l.5 2.8l.5-11.4l.5 1l.5-12l.5-1l.5-12.7l.5-2.3l.5-13.5l.5-3.2l.5-13.4l.5-3.5l.5-13.8l.5-3.3l.5-13.7l.5-2.8l.5-13l.5-1.6l.5-12.4l.5-.4l.5-11.3l.5 1.5l.5-10.6l.5 3.6l.5-10.4l.5 7.7l.5-11.6l.5 11.3l.5-7.5l.5 10.1l.5-3.1l.5 9.9l.5-1.1l.5 11.4l.5 .2l.5 12.2l.5 2l.5 12.7l.5 3.2l.5 13.1l.5 4.1l.5 13.3l.5 3.9l.5 13.5l.5 3.4l.5 12.9l.5 2.8l.5 12.3l.5 1.4l.5 11.7l.5-.3l.5 10.7l.5-1.9l.5 9.3l.5-4.4l.5 10.1l.5-8.7l.5 9.2l.5-10.3l.5 4.1l.5-9.1l.5 1.7l.5-10.3l.5 .1l.5-11.5l.5-1.7l.5-12.1l.5-3.1l.5-12.7l.5-3.9l.5-13l.5-4.3l.5-13l.5-4.3l.5-12.8l.5-3.6l.5-12.5l.5-2.4l.5-11.9l.5-.8l.5-10.8l.5 .4l.5-9.5l.5 2.9l.5-9.1l.5 5.9l.5-10l.5 9.9l.5-6.2l.5 9.4l.5-2.9l.5 9.7l.5-.5l.5 10.5l.5 1.1l.5 11.5l.5 2.7l.5 12.5l.5 3.8l.5 12.7l.5 4.3l.5 12.9l.5 4.6l.5 12.8l.5 4.1l.5 12.6l.5 3.3l.5 11.8l.5 2.3l.5 10.9l.5 .4l.5 10.2l.5-1.3l.5 8.5l.5-3.6l.5 9.4l.5-7.9l.5 8.1l.5-9.5l.5 3.8l.5-8.8l.5 1.1l.5-9.6l.5-.6l.5-11.1l.5-2.1l.5-11.9l.5-3.4l.5-12.5l.5-4.1l.5-13l.5-4.6l.5-12.9l.5-4.5l.5-12.5l.5-4.1l.5-12.1l.5-3.1l.5-11.3l.5-1.5l.5-10.4l.5 .3l.5-9.1l.5 1.9l.5-8.6l.5 5.6l.5-9.3l.5 9.3l.5-5.6l.5 8.6l.5-1.9l.5 8.9l.5-.1l.5 10.4l.5 1.6l.5 11l.5 3.2l.5 12l.5 4.2l.5 12.4l.5 5l.5 12.6l.5 4.8l.5 12.7l.5 4.5l.5 12.1l.5 4l.5 11.6l.5 2.4l.5 10.7l.5 1.1l.5 9.3l.5-.8l.5 8.4l.5-3.3l.5 8.9l.5-7.2l.5 7.2l.5-8.5l.5 3l.5-8.2l.5 .7l.5-9.4l.5-1.1l.5-10.5l.5-2.8l.5-11.3l.5-4.2l.5-11.9l.5-4.8l.5-12.4l.5-5.1l.5-12.4l.5-5.1l.5-12.2l.5-4.8l.5-11.5l.5-3.4l.5-10.9l.5-2.1l.5-9.9l.5-.4l.5-8.6l.5 1.5l.5-7.9l.5 4.6l.5-8.1l.5 8.1l.5-4.6l.5 7.6l.5-1.5l.5 8.6l.5 .7l.5 9.7l.5 2l.5 10.9l.5 3.6l.5 11.7l.5 4.7l.5 11.9l.5 5.2l.5 12.4l.5 5.4l.5 12.2l.5 5.1l.5 11.9l.5 4.2l.5 11.2l.5 2.9l.5 10.4l.5 1.6l.5 8.9l.5-.3l.5 7.8l.5-2.7l.5 7.9l.5-6.4l.5 6.3l.5-7.7l.5 2.7l.5-7.7l.5 0l.5-8.8l.5-1.6l.5-10l.5-3.4l.5-10.9l.5-4.6l.5-11.5l.5-5.3l.5-12l.5-5.8l.5-11.9l.5-5.8l.5-11.6l.5-5l.5-11.3l.5-4.2l.5-10.4l.5-2.5l.5-9.5l.5-.9l.5-8.3l.5 1.2l.5-7.2l.5 4.1l.5-7.5l.5 7.5l.5-4.3l.5 7.4l.5-1l.5 7.9l.5 1.1l.5 9.2l.5 2.9l.5 10.2l.5 4.3l.5 11.1l.5 5.2l.5 11.5l.5 6l.5 11.7l.5 6l.5 11.9l.5 5.4l.5 11.5l.5 4.7l.5 10.8l.5 3.5l.5 10l.5 1.9l.5 8.6l.5 .2l.5 7.4l.5-2.2l.5 6.9l.5-5.1l.5 5.3l.5-7l.5 1.9l.5-7.1l.5-.1l.5-8.5l.5-2.1l.5-9.8l.5-3.7l.5-10.6l.5-4.9l.5-11.3l.5-5.8l.5-11.7l.5-6.1l.5-11.8l.5-6.1l.5-11.3l.5-5.4l.5-10.9l.5-4.5l.5-10.1l.5-3.1l.5-9l.5-1.5l.5-7.7l.5 .6l.5-6.8l.5 3.5l.5-6.2l.5 6.2l.5-3.3l.5 6.4l.5-.4l.5 7.7l.5 1.3l.5 9l.5 3.2l.5 9.9l.5 4.7l.5 10.8l.5 5.6l.5 11.3l.5 6.2l.5 11.6l.5 6.4l.5 11.4l.5 6l.5 11l.5 5.5l.5 10.2l.5 4.1l.5 9.4l.5 2.6l.5 8l.5 .9l.5 6.6l.5-1.4l.5 6l.5-4.3l.5 4.4l.5-6l.5 1.4l.5-6.7l.5-.9l.5-7.9l.5-2.7l.5-9.4l.5-4.1l.5-10.2l.5-5.3l.5-11l.5-6.3l.5-11.2l.5-6.6l.5-11.3l.5-6.5l.5-11.2l.5-5.9l.5-10.5l.5-4.9l.5-9.8l.5-3.6l.5-8.7l.5-1.8l.5-7.2l.5 .1l.5-6.3l.5 2.7l.5-5.1l.5 5l.5-2.5l.5 6.1l.5 .1l.5 7l.5 2.1l.5 8.3l.5 3.7l.5 9.7l.5 5.1l.5 10.3l.5 6.1l.5 11l.5 6.7l.5 11.2l.5 6.9l.5 11l.5 6.5l.5 10.6l.5 5.9l.5 9.9l.5 4.6l.5 8.9l.5 3l.5 7.6l.5 1.4l.5 6.2l.5-.8l.5 5.3l.5-3.6l.5 3.6l.5-5.3l.5 1l.5-6.4l.5-1.2l.5-7.7l.5-3l.5-8.8l.5-4.7l.5-9.9l.5-5.8l.5-10.6l.5-6.7l.5-11l.5-7l.5-11l.5-7l.5-10.7l.5-6.4l.5-10.2l.5-5.4l.5-9.4l.5-3.9l.5-8.2l.5-2.3l.5-6.8l.5-.6l.5-5.4l.5 1.7l.5-4.3l.5 4.3l.5-1.7l.5 5.4l.5 .4l.5 6.7l.5 2.4l.5 8.2l.5 4.1l.5 9.2l.5 5.6l.5 10.1l.5 6.5l.5 10.7l.5 7l.5 10.9l.5 7.2l.5 10.8l.5 6.9l.5 10.4l.5 6.1l.5 9.7l.5 4.9l.5 8.8l.5 3.4l.5 7.2l.5 1.7l.5 5.8l.5-.2l.5 4.7l.5-3l.5 3l.5-4.7l.5 .3l.5-5.7l.5-1.8l.5-7.3l.5-3.5l.5-8.5l.5-5l.5-9.5l.5-6.3l.5-10.3l.5-7.1l.5-10.6l.5-7.5l.5-10.8l.5-7.2l.5-10.6l.5-6.7l.5-9.9l.5-5.8l.5-9l.5-4.4l.5-7.9l.5-2.8l.5-6.3l.5-1l.5-4.9l.5 1.2l.5-3.6l.5 3.6l.5-1.2l.5 4.8l.5 1.1l.5 6.2l.5 3l.5 7.6l.5 4.5l.5 9l.5 5.8l.5 9.9l.5 6.8l.5 10.5l.5 7.4l.5 10.7l.5 7.6l.5 10.5l.5 7.3l.5 10.1l.5 6.5l.5 9.3l.5 5.5l.5 8.2l.5 3.9l.5 6.9l.5 2.1l.5 5.4l.5 .2l.5 4l.5-2l.5 2.1l.5-4l.5-.2l.5-5.3l.5-2.3l.5-6.7l.5-4.1l.5-8.1l.5-5.5l.5-9.3l.5-6.6l.5-10l.5-7.4l.5-10.5l.5-7.7l.5-10.6l.5-7.6l.5-10.2l.5-7.2l.5-9.5l.5-6.3l.5-8.6l.5-4.9l.5-7.3l.5-3.5l.5-5.8l.5-1.5l.5-4.3l.5 .5l.5-2.6l.5 2.7l.5-.6l.5 4.2l.5 1.6l.5 5.8l.5 3.5l.5 7.2l.5 5l.5 8.6l.5 6.3l.5 9.4l.5 7.3l.5 10.1l.5 7.8l.5 10.5l.5 7.8l.5 10.3l.5 7.6l.5 9.8l.5 6.9l.5 9.1l.5 5.7l.5 7.8l.5 4.5l.5 6.4l.5 2.7l.5 4.7l.5 .9l.5 3.2l.5-1.3l.5 1.3l.5-3.2l.5-.8l.5-4.8l.5-2.7l.5-6.4l.5-4.4l.5-7.8l.5-5.9l.5-8.9l.5-7l.5-9.7l.5-7.7l.5-10.2l.5-8l.5-10.3l.5-8l.5-10l.5-7.4l.5-9.3l.5-6.6l.5-8.3l.5-5.2l.5-7.1l.5-3.8l.5-5.3l.5-2.1l.5-3.7l.5 0l.5-2.1l.5 2l.5 0l.5 3.8l.5 2l.5 5.4l.5 3.8l.5 6.9l.5 5.4l.5 8.2l.5 6.6l.5 9.3l.5 7.6l.5 9.9l.5 8l.5 10.2l.5 8.2l.5 10.1l.5 7.9l.5 9.6l.5 7.1l.5 8.7l.5 6.1l.5 7.6l.5 4.7l.5 6.1l.5 3.1l.5 4.4l.5 1.2l.5 2.8l.5-.8l.5 .8l.5-2.7l.5-1.3l.5-4.4l.5-3.1l.5-6l.5-4.8l.5-7.5l.5-6.1l.5-8.7l.5-7.3l.5-9.5l.5-8l.5-10l.5-8.3l.5-10l.5-8.2l.5-9.8l.5-7.7l.5-9.1l.5-6.8l.5-8.1l.5-5.6l.5-6.7l.5-4.1l.5-5.2l.5-2.2l.5-3.5l.5-.3l.5-1.8l.5 1.7l.5 .3l.5 3.5l.5 2.3l.5 5.2l.5 4l.5 6.8l.5 5.6l.5 8l.5 6.9l.5 9l.5 7.8l.5 9.7l.5 8.3l.5 10l.5 8.4l.5 9.9l.5 8.1l.5 9.4l.5 7.4l.5 8.6l.5 6.3l.5 7.4l.5 4.9l.5 5.9l.5 3.3l.5 4.3l.5 1.4l.5 2.4l.5-.5l.5 .6l.5-2.5l.5-1.5l.5-4.1l.5-3.4l.5-5.8l.5-5l.5-7.3l.5-6.4l.5-8.5l.5-7.5l.5-9.3l.5-8.2l.5-9.8l.5-8.6l.5-9.9l.5-8.4l.5-9.6l.5-7.9l.5-8.9l.5-7.1l.5-7.9l.5-5.8l.5-6.5l.5-4.3l.5-5l.5-2.5l.5-3.2l.5-.6l.5-1.4l.5 1.3l.5 .7l.5 3.1l.5 2.6l.5 4.9l.5 4.4l.5 6.5l.5 5.8l.5 7.8l.5 7.2l.5 8.8l.5 8l.5 9.5l.5 8.6l.5 9.8l.5 8.7l.5 9.7l.5 8.3l.5 9.2l.5 7.7l.5 8.3l.5 6.6l.5 7.1l.5 5.2l.5 5.7l.5 3.6l.5 4l.5 1.7l.5 2.1l.5-.2l.5 .3l.5-2.2l.5-1.7l.5-4l.5-3.6l.5-5.6l.5-5.2l.5-7.1l.5-6.7l.5-8.3l.5-7.7l.5-9.1l.5-8.5l.5-9.6l.5-8.8l.5-9.7l.5-8.7l.5-9.4l.5-8.1l.5-8.7l.5-7.3l.5-7.7l.5-6.1l.5-6.3l.5-4.5l.5-4.8l.5-2.8l.5-2.9l.5-.9l.5-1.1l.5 1.1l.5 .9l.5 2.9l.5 2.8l.5 4.7l.5 4.5l.5 6.4l.5 6l.5 7.7l.5 7.3l.5 8.7l.5 8.2l.5 9.4l.5 8.7l.5 9.7l.5 8.8l.5 9.6l.5 8.5l.5 9.2l.5 7.7l.5 8.3l.5 6.7l.5 7.1l.5 5.3l.5 5.6l.5 3.7l.5 3.8l.5 1.9l.5 2l.5-.1l.5 .1l.5-2l.5-1.9l.5-3.8l.5-3.7l.5-5.5l.5-5.4l.5-7l.5-6.8l.5-8.2l.5-7.8l.5-9.1l.5-8.6l.5-9.6l.5-8.8l.5-9.7l.5-8.7l.5-9.4l.5-8.2l.5-8.8l.5-7.3l.5-7.7l.5-6.1l.5-6.3l.5-4.5l.5-4.8l.5-2.8l.5-3l.5-.9l.5-1l.5 1.1l.5 .8l.5 3l.5 2.8l.5 4.7l.5 4.6l.5 6.3l.5 6.1l.5 7.7l.5 7.3l.5 8.7l.5 8.3l.5 9.4l.5 8.7l.5 9.7l.5 8.9l.5 9.6l.5 8.5l.5 9.1l.5 7.9l.5 8.2l.5 6.8l.5 7l.5 5.4l.5 5.6l.5 3.7l.5 3.9l.5 1.8l.5 2.1l.5-.2l.5 .2l.5-2.1l.5-1.8l.5-3.9l.5-3.7l.5-5.6l.5-5.3l.5-7.1l.5-6.7l.5-8.3l.5-7.8l.5-9.1l.5-8.6l.5-9.6l.5-8.9l.5-9.7l.5-8.8l.5-9.4l.5-8.2l.5-8.8l.5-7.3l.5-7.8l.5-6l.5-6.4l.5-4.6l.5-4.7l.5-2.8l.5-3l.5-.9l.5-1.1l.5 1.1l.5 .9l.5 2.9l.5 2.9l.5 4.7l.5 4.5l.5 6.4l.5 6.1l.5 7.7l.5 7.4l.5 8.7l.5 8.3l.5 9.4l.5 8.8l.5 9.7l.5 8.9l.5 9.6l.5 8.6l.5 9.2l.5 7.8l.5 8.3l.5 6.8l.5 7l.5 5.4l.5 5.6l.5 3.7l.5 3.9l.5 1.9l.5 2l.5-.1l.5 .1l.5-2l.5-1.9l.5-3.9l.5-3.7l.5-5.6l.5-5.3l.5-7.1l.5-6.8l.5-8.3l.5-7.8l.5-9.2l.5-8.6l.5-9.6l.5-8.9l.5-9.7l.5-8.8l.5-9.5l.5-8.2l.5-8.8l.5-7.4l.5-7.7l.5-6.1l.5-6.4l.5-4.6l.5-4.8l.5-2.8l.5-2.9l.5-.9l.5-1.1l.5 1.1l.5 .9l.5 2.9l.5 2.8l.5 4.8l.5 4.5l.5 6.5l.5 6l.5 7.8l.5 7.3l.5 8.8l.5 8.3l.5 9.5l.5 8.8l.5 9.7l.5 8.9l.5 9.7l.5 8.6l.5 9.1l.5 7.9l.5 8.3l.5 6.8l.5 7.1l.5 5.4l.5 5.6l.5 3.7l.5 3.9l.5 1.9l.5 2l.5-.1l.5 .2l.5-2.1l.5-1.9l.5-3.9l.5-3.7l.5-5.6l.5-5.3l.5-7.2l.5-6.7l.5-8.3l.5-7.9l.5-9.2l.5-8.6l.5-9.7l.5-8.9l.5-9.8l.5-8.8l.5-9.5l.5-8.3l.5-8.7l.5-7.4l.5-7.8l.5-6.1l.5-6.4l.5-4.6l.5-4.8l.5-2.8l.5-3l.5-.9l.5-1.1l.5 1.1l.5 .9l.5 3l.5 2.8l.5 4.8l.5 4.5l.5 6.5l.5 6.1l.5 7.7l.5 7.4l.5 8.8l.5 8.3l.5 9.5l.5 8.8l.5 9.8l.5 8.9l.5 9.7l.5 8.7l.5 9.1l.5 7.9l.5 8.4l.5 6.8l.5 7.1l.5 5.4l.5 5.6l.5 3.7l.5 4l.5 1.8l.5 2.1l.5-.1l.5 .1l.5-2.1l.5-1.8l.5-3.9l.5-3.7l.5-5.7l.5-5.4l.5-7.1l.5-6.8l.5-8.3l.5-7.9l.5-9.2l.5-8.7l.5-9.6l.5-9l.5-9.8l.5-8.8l.5-9.5l.5-8.4l.5-8.8l.5-7.4l.5-7.7l.5-6.2l.5-6.4l.5-4.6l.5-4.8l.5-2.8l.5-3l.5-.9l.5-1.1l.5 1.1l.5 .9l.5 3l.5 2.8l.5 4.8l.5 4.6l.5 6.4l.5 6.1l.5 7.8l.5 7.4l.5 8.8l.5 8.3l.5 9.6l.5 8.8l.5 9.8l.5 9l.5 9.7l.5 8.6l.5 9.3l.5 7.9l.5 8.3l.5 6.8l.5 7.2l.5 5.4l.5 5.6l.5 3.8l.5 3.9l.5 1.9l.5 2l.5-.1l.5 .2l.5-2.1l.5-1.9l.5-3.9l.5-3.7l.5-5.7l.5-5.4l.5-7.1l.5-6.8l.5-8.4l.5-7.9l.5-9.2l.5-8.7l.5-9.7l.5-9l.5-9.8l.5-8.9l.5-9.5l.5-8.3l.5-8.9l.5-7.4l.5-7.8l.5-6.2l.5-6.4l.5-4.6l.5-4.8l.5-2.8l.5-3l.5-.9l.5-1.1l.5 1.1l.5 .9l.5 3l.5 2.8l.5 4.8l.5 4.6l.5 6.4l.5 6.2l.5 7.8l.5 7.4l.5 8.9l.5 8.3l.5 9.5l.5 8.9l.5 9.8l.5 9l.5 9.7l.5 8.7l.5 9.2l.5 7.9l.5 8.4l.5 6.8l.5 7.2l.5 5.4l.5 5.6l.5 3.8l.5 3.9l.5 1.8l.5 2.1l.5-.1l.5 .1l.5-2.1l.5-1.8l.5-3.9l.5-3.8l.5-5.6l.5-5.5l.5-7.1l.5-6.8l.5-8.4l.5-7.9l.5-9.3l.5-8.6l.5-9.7l.5-9l.5-9.8l.5-8.9l.5-9.5l.5-8.3l.5-8.9l.5-7.4l.5-7.8l.5-6.2l.5-6.4l.5-4.6l.5-4.8l.5-2.8l.5-3l.5-.9l.5-1.1l.5 1.1l.5 .9l.5 3l.5 2.8l.5 4.8l.5 4.6l.5 6.4l.5 6.2l.5 7.8l.5 7.4l.5 8.9l.5 8.3l.5 9.5l.5 8.9l.5 9.8l.5 9l.5 9.7l.5 8.7l.5 9.2l.5 7.9l.5 8.4l.5 6.8l.5 7.1l.5 5.5l.5 5.6l.5 3.8l.5 3.9l.5 1.8l.5 2.1l.5-.1l.5 .1l.5-2.1l.5-1.8l.5-4l.5-3.7l.5-5.6l.5-5.4l.5-7.2l.5-6.8l.5-8.4l.5-7.9l.5-9.2l.5-8.7l.5-9.7l.5-9l.5-9.8l.5-8.9l.5-9.5l.5-8.3l.5-8.9l.5-7.4l.5-7.8l.5-6.2l.5-6.4l.5-4.6l.5-4.8l.5-2.8l.5-3l.5-.9l.5-1.1l.5 1.1l.5 .9l.5 3l.5 2.8l.5 4.8l.5 4.6l.5 6.5l.5 6.1l.5 7.8l.5 7.4l.5 8.9l.5 8.3l.5 9.5l.5 8.9l.5 9.8l.5 9l.5 9.7l.5 8.6l.5 9.3l.5 7.9l.5 8.4l.5 6.8l.5 7.2l.5 5.4l.5 5.6l.5 3.8l.5 3.9l.5 1.9l.5 2l.5-.1l.5 .1l.5-2.1l.5-1.8l.5-4l.5-3.7l.5-5.6l.5-5.5l.5-7.1l.5-6.8l.5-8.4l.5-7.9l.5-9.2l.5-8.7l.5-9.7l.5-9l.5-9.8l.5-8.9l.5-9.5l.5-8.3l.5-8.9l.5-7.4l.5-7.8l.5-6.1l.5-6.5l.5-4.6l.5-4.8l.5-2.8l.5-3l.5-.9l.5-1.1l.5 1.1l.5 .9l.5 3l.5 2.8l.5 4.8l.5 4.6l.5 6.4l.5 6.2l.5 7.8l.5 7.4l.5 8.9l.5 8.3l.5 9.5l.5 8.9l.5 9.8l.5 9l.5 9.7l.5 8.6l.5 9.3l.5 7.9l.5 8.4l.5 6.8l.5 7.2l.5 5.4l.5 5.6l.5 3.8l.5 3.9l.5 1.9l.5 2l.5-.1l.5 .1l.5-2.1l.5-1.8l.5-3.9l.5-3.8l.5-5.6l.5-5.5l.5-7.1l.5-6.8l.5-8.4l.5-7.9l.5-9.2l.5-8.7l.5-9.7l.5-9l.5-9.8l.5-8.9l.5-9.5l.5-8.3l.5-8.9l.5-7.4l.5-7.8l.5-6.2l.5-6.4l.5-4.6l.5-4.8l.5-2.8l.5-3l.5-.9l.5-1.1l.5 1.1l.5 .9l.5 3l.5 2.8l.5 4.8l.5 4.6l.5 6.4l.5 6.2l.5 7.8l.5 7.4l.5 8.9l.5 8.3l.5 9.5l.5 8.9l.5 9.8l.5 9l.5 9.7l.5 8.6l.5 9.3l.5 7.9l.5 8.4l.5 6.8l.5 7.2l.5 5.4l.5 5.6l.5 3.8l.5 3.9l.5 1.9l.5 2l.5-.1l.5 .1l.5-2.1l.5-1.8l.5-3.9l.5-3.8l.5-5.6l.5-5.4l.5-7.2l.5-6.8l.5-8.4l.5-7.9l.5-9.2l.5-8.7l.5-9.7l.5-9l.5-9.8l.5-8.9l.5-9.5l.5-8.3l.5-8.9l.5-7.4l.5-7.8l.5-6.2l.5-6.4l.5-4.6l.5-4.8l.5-2.8l.5-3l.5-.9l.5-1.1l.5 1.1l.5 .9l.5 3l.5 2.8l.5 4.8l.5 4.6l.5 6.5l.5 6.1l.5 7.8l.5 7.4l.5 8.9l.5 8.3l.5 9.5l.5 8.9l.5 9.8l.5 9l.5 9.7l.5 8.6l.5 9.3l.5 7.9l.5 8.4l.5 6.8l.5 7.2l.5 5.4l.5 5.6l.5 3.8l.5 3.9l.5 1.8l.5 2.1l.5-.1l.5 .1l.5-2.1l.5-1.8l.5-4l.5-3.7l.5-5.6l.5-5.4l.5-7.2l.5-6.8l.5-8.4l.5-7.9l.5-9.3l.5-8.6l.5-9.7l.5-9l.5-9.8l.5-8.9l.5-9.5l.5-8.3l.5-8.9l.5-7.4" stroke="#77AC30"/>
<path d="M281.5 532.5H371.5" stroke="#77AC30"/>
</g>
<g font-family="'Liberation Sans', sans-serif" font-size="54.5" letter-spacing="1.2" fill="#262626" transform="scale(1,1.035)">
<text x="165.2" y="96.4">200</text>
<text x="165.2" y="315.7">100</text>
<text x="228.2" y="535.1">0</text>
<text y="754.4"><tspan x="144">-</tspan><tspan x="162">100</tspan></text>
<text y="973.7"><tspan x="144">-</tspan><tspan x="162">200</tspan></text>
<text x="331.1" y="1049.1">0.1</text>
<text x="511.1" y="1049.1">0.2</text>
<text x="691.1" y="1049.1">0.3</text>
<text x="871.1" y="1049.1">0.4</text>
<text x="1051.1" y="1049.1">0.5</text>
<text x="1231.1" y="1049.1">0.6</text>
<text x="1411.1" y="1049.1">0.7</text>
<text x="1591.1" y="1049.1">0.8</text>
<text x="1771.1" y="1049.1">0.9</text>
<text x="1975" y="1049.1">1</text>
<text x="2131.1" y="1049.1">1.1</text>
</g>
<text x="1218.4" y="1161.3" font-family="'Liberation Serif', serif" font-size="60" letter-spacing=".75" fill="#262626">Time[s]</text>
<text font-family="'Liberation Serif', serif" font-size="84" fill="#000" y="1280"><tspan x="1192.6">(</tspan><tspan x="1218.5" font-weight="bold">a</tspan><tspan x="1259.3">)</tspan></text>
<text transform="rotate(-90)" font-family="'Liberation Serif', serif" fill="#262626" font-style="italic"><tspan x="-649.3" y="92.2" font-size="60">i</tspan><tspan x="-631.2" y="120" font-size="47">a</tspan><tspan x="-604" y="92.2" font-size="52">,</tspan><tspan x="-588.3" y="92.2" font-size="60">i</tspan><tspan x="-569.8" y="120" font-size="47">b</tspan><tspan x="-543" y="92.2" font-size="52">,</tspan><tspan x="-527.3" y="92.2" font-size="60">i</tspan><tspan x="-508.5" y="120" font-size="47">c</tspan><tspan x="-484.6" y="95.5" font-size="64" font-style="normal">[</tspan><tspan x="-465.9" y="92.2" font-size="61" font-style="normal">A</tspan><tspan x="-423.3" y="95.5" font-size="64" font-style="normal">]</tspan></text>
</svg>
</body></html>
